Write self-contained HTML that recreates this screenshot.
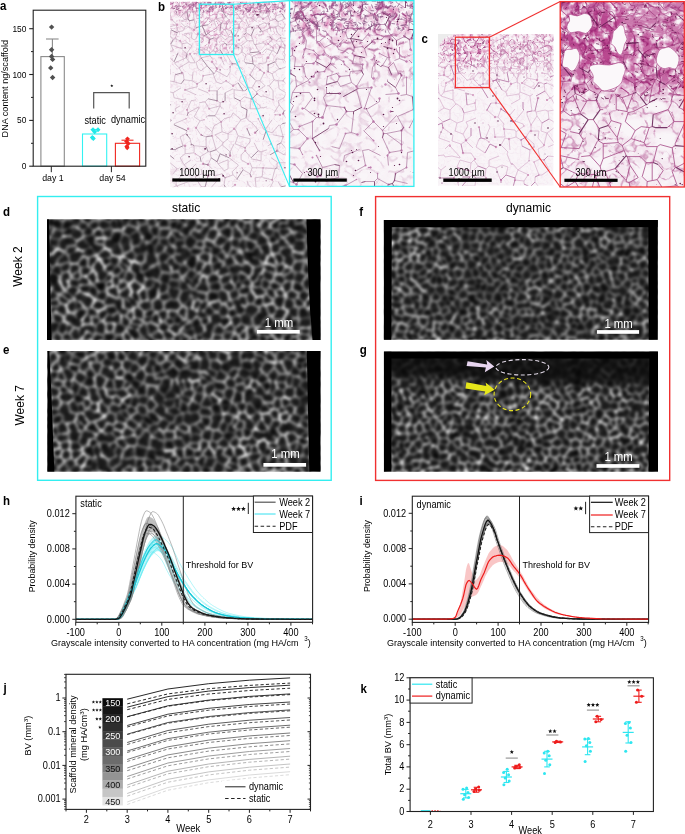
<!DOCTYPE html><html><head><meta charset="utf-8"><style>html,body{margin:0;padding:0;background:#fff;overflow:hidden}svg text{font-family:"Liberation Sans",sans-serif}</style></head><body>
<svg width="685" height="834" viewBox="0 0 685 834" style="display:block;will-change:transform">
<defs><clipPath id="cliph"><rect x="75.9" y="496" width="236.7" height="126"/></clipPath><clipPath id="clipi"><rect x="412.3" y="496" width="236.3" height="126"/></clipPath></defs>
<rect width="685" height="834" fill="#fff"/>
<svg x="170.1" y="1.8" width="115.5" height="185.4" viewBox="0 0 115.5 185.4" overflow="hidden">
<defs><linearGradient id="hgbl" x1="0" y1="0" x2="0" y2="1"><stop offset="0" stop-color="#fff" stop-opacity="0.5"/><stop offset="0.06" stop-color="#fff" stop-opacity="0.35"/><stop offset="0.1" stop-color="#fff" stop-opacity="0.2"/><stop offset="0.28" stop-color="#fff" stop-opacity="0.15"/><stop offset="0.36" stop-color="#fff" stop-opacity="0.05"/><stop offset="1" stop-color="#fff" stop-opacity="0.03"/></linearGradient><linearGradient id="hhbl" x1="0" y1="0" x2="0" y2="1"><stop offset="0" stop-color="#fff" stop-opacity="0.6"/><stop offset="0.06" stop-color="#fff" stop-opacity="0.3"/><stop offset="0.3" stop-color="#fff" stop-opacity="0.2"/><stop offset="0.4" stop-color="#fff" stop-opacity="0.12"/><stop offset="1" stop-color="#fff" stop-opacity="0.12"/></linearGradient><filter id="hmbbl" x="-10%" y="-10%" width="120%" height="120%"><feGaussianBlur stdDeviation="3"/></filter><mask id="hmbl"><rect width="115.5" height="185.4" fill="url(#hgbl)"/><g filter="url(#hmbbl)"><rect x="0" y="-5" width="116" height="14" fill="#fff" fill-opacity="0.6"/><rect x="29" y="4" width="35" height="48" fill="#fff" fill-opacity="0.25"/></g></mask><mask id="hnbl"><rect width="115.5" height="185.4" fill="url(#hhbl)"/><g filter="url(#hmbbl)"><rect x="0" y="-5" width="116" height="14" fill="#fff" fill-opacity="0.6"/><rect x="29" y="4" width="35" height="48" fill="#fff" fill-opacity="0.25"/></g></mask><filter id="htbl" x="0" y="0" width="100%" height="100%" color-interpolation-filters="sRGB"><feTurbulence type="fractalNoise" baseFrequency="0.25" numOctaves="3" seed="21" result="n"/><feColorMatrix in="n" type="matrix" values="0 0 0 0 0 0 0 0 0 0 0 0 0 0 0 2.2 0 0 0 -0.9" result="a"/><feFlood flood-color="#cf5fa0"/><feComposite in2="a" operator="in"/></filter><filter id="hubl" x="0" y="0" width="100%" height="100%" color-interpolation-filters="sRGB"><feTurbulence type="turbulence" baseFrequency="0.15" numOctaves="2" seed="28" result="n"/><feColorMatrix in="n" type="matrix" values="0 0 0 0 0 0 0 0 0 0 0 0 0 0 0 -7 0 0 0 1.25" result="a"/><feFlood flood-color="#b05090"/><feComposite in2="a" operator="in"/></filter><filter id="hbbl" x="0" y="0" width="100%" height="100%"><feGaussianBlur stdDeviation="0.3"/></filter></defs><rect width="115.5" height="185.4" fill="#f9f5f8"/><g filter="url(#hbbl)"><rect width="115.5" height="185.4" filter="url(#htbl)" mask="url(#hmbl)"/><rect width="115.5" height="185.4" filter="url(#hubl)" mask="url(#hnbl)"/><g fill="#d49cc0"><circle cx="51" cy="56" r="1.1"/><circle cx="96" cy="43" r="0.6"/><circle cx="19" cy="168" r="0.8"/><circle cx="59" cy="18" r="0.7"/><circle cx="24" cy="28" r="0.9"/><circle cx="115" cy="44" r="1.0"/><circle cx="89" cy="13" r="0.8"/><circle cx="26" cy="126" r="1.1"/><circle cx="34" cy="118" r="0.7"/><circle cx="98" cy="14" r="0.6"/><circle cx="55" cy="176" r="0.7"/><circle cx="17" cy="108" r="1.1"/><circle cx="28" cy="32" r="1.0"/><circle cx="51" cy="120" r="1.1"/><circle cx="110" cy="113" r="0.8"/><circle cx="69" cy="38" r="1.1"/><circle cx="115" cy="3" r="1.0"/><circle cx="60" cy="65" r="0.9"/><circle cx="107" cy="149" r="0.8"/><circle cx="110" cy="113" r="1.1"/><circle cx="98" cy="56" r="1.3"/><circle cx="26" cy="126" r="0.9"/><circle cx="110" cy="45" r="1.2"/><circle cx="16" cy="2" r="0.7"/><circle cx="85" cy="131" r="1.3"/><circle cx="113" cy="112" r="1.2"/><circle cx="90" cy="51" r="0.9"/><circle cx="113" cy="135" r="0.8"/><circle cx="78" cy="162" r="1.1"/><circle cx="2" cy="18" r="0.7"/><circle cx="7" cy="23" r="1.2"/><circle cx="16" cy="117" r="0.7"/><circle cx="93" cy="17" r="1.3"/><circle cx="47" cy="67" r="1.2"/><circle cx="23" cy="10" r="1.1"/><circle cx="62" cy="62" r="1.0"/><circle cx="64" cy="127" r="1.2"/><circle cx="95" cy="3" r="1.0"/><circle cx="25" cy="152" r="0.7"/><circle cx="68" cy="4" r="1.2"/><circle cx="63" cy="84" r="1.2"/><circle cx="98" cy="63" r="1.0"/><circle cx="18" cy="111" r="0.8"/><circle cx="101" cy="142" r="1.0"/><circle cx="105" cy="113" r="0.8"/><circle cx="15" cy="144" r="1.3"/><circle cx="100" cy="26" r="0.9"/><circle cx="100" cy="26" r="1.0"/><circle cx="110" cy="113" r="0.7"/><circle cx="66" cy="44" r="1.3"/><circle cx="15" cy="88" r="1.0"/><circle cx="38" cy="174" r="1.3"/><circle cx="113" cy="79" r="0.6"/><circle cx="20" cy="52" r="1.1"/><circle cx="72" cy="166" r="0.6"/><circle cx="82" cy="97" r="1.2"/><circle cx="18" cy="127" r="1.2"/><circle cx="83" cy="4" r="1.0"/><circle cx="28" cy="32" r="1.3"/><circle cx="65" cy="34" r="1.2"/><circle cx="75" cy="149" r="0.8"/><circle cx="24" cy="28" r="1.2"/><circle cx="47" cy="99" r="0.9"/><circle cx="98" cy="56" r="1.1"/><circle cx="42" cy="134" r="0.9"/><circle cx="80" cy="73" r="0.8"/><circle cx="65" cy="183" r="1.1"/><circle cx="98" cy="42" r="0.9"/><circle cx="81" cy="175" r="0.8"/><circle cx="66" cy="44" r="1.2"/><circle cx="102" cy="178" r="1.0"/><circle cx="98" cy="70" r="1.0"/><circle cx="40" cy="9" r="1.1"/><circle cx="107" cy="149" r="1.3"/><circle cx="65" cy="20" r="1.0"/><circle cx="87" cy="92" r="1.1"/><circle cx="60" cy="154" r="1.2"/><circle cx="103" cy="98" r="0.7"/><circle cx="31" cy="133" r="1.0"/><circle cx="46" cy="69" r="0.8"/><circle cx="108" cy="5" r="0.6"/><circle cx="39" cy="41" r="1.2"/><circle cx="24" cy="52" r="0.7"/><circle cx="10" cy="39" r="1.0"/><circle cx="88" cy="117" r="0.7"/><circle cx="103" cy="46" r="0.9"/><circle cx="55" cy="28" r="0.7"/><circle cx="46" cy="43" r="1.0"/><circle cx="90" cy="68" r="1.1"/><circle cx="69" cy="26" r="1.3"/><circle cx="69" cy="38" r="0.9"/><circle cx="33" cy="74" r="0.9"/><circle cx="76" cy="18" r="0.6"/><circle cx="3" cy="48" r="0.6"/><circle cx="62" cy="50" r="1.2"/><circle cx="56" cy="79" r="0.9"/><circle cx="70" cy="99" r="0.7"/><circle cx="39" cy="107" r="1.0"/><circle cx="90" cy="4" r="1.1"/><circle cx="83" cy="10" r="1.2"/><circle cx="31" cy="16" r="0.8"/><circle cx="81" cy="97" r="0.8"/><circle cx="94" cy="71" r="1.1"/><circle cx="16" cy="2" r="1.2"/><circle cx="110" cy="113" r="0.9"/><circle cx="39" cy="89" r="0.9"/><circle cx="29" cy="48" r="1.0"/><circle cx="42" cy="60" r="1.2"/><circle cx="29" cy="51" r="0.7"/><circle cx="27" cy="82" r="1.1"/><circle cx="93" cy="166" r="0.9"/><circle cx="57" cy="22" r="1.0"/><circle cx="77" cy="127" r="0.8"/><circle cx="75" cy="146" r="1.0"/><circle cx="12" cy="71" r="1.1"/><circle cx="44" cy="30" r="0.8"/><circle cx="9" cy="4" r="1.1"/><circle cx="38" cy="163" r="1.3"/><circle cx="33" cy="162" r="1.2"/><circle cx="98" cy="42" r="0.9"/></g><path d="M-11 136L-2 135M1 118L-6 113M-9 126L1 119M16 117L4 122M4 123L4 122M-2 135L-2 136M3 135L3 134M39 107L35 100M35 100L29 101M29 105L29 106M38 114L36 115M33 134L36 135M36 135L36 145M36 145L25 144M38 174L42 172M47 179L39 188M45 174L42 172M54 183L55 176M52 172L45 174M48 162L54 169M3 172L7 167M7 167L9 167M11 174L6 180M6 180L3 176M-4 166L-9 173M39 89L47 89M65 183L61 186M42 193L55 185M57 193L58 187M64 142L60 150M60 150L52 143M58 137L53 141M52 143L53 141M6 148L6 147M-2 78L-1 79M-11 66L-0 67M-0 67L0 72M0 72L-2 78M15 88L26 93M15 88L27 85M38 97L35 100M38 91L28 87M-2 103L-5 107M6 110L5 107M29 105L18 111M24 115L29 106M26 126L30 119M30 119L24 115M13 144L10 135M26 126L30 132M17 129L16 132M16 132L10 135M48 162L48 162M58 167L54 169M58 167L58 158M58 158L48 162M58 132L52 130M58 132L58 137M53 141L45 133M52 130L45 133M42 134L46 148M46 148L52 143M35 124L42 130M42 130L44 124M30 119L34 118M36 115L36 116M31 133L30 132M42 133L42 130M52 130L51 120M51 120L44 124M47 99L50 101M47 89L51 85M55 99L50 101M42 167L38 163M48 162L47 160M38 163L41 156M46 148L50 152M41 156L40 150M40 150L38 150M-4 166L-4 162M7 167L0 161M56 15L61 8M56 15L59 18M61 8L66 11M89 13L85 12M89 13L89 14M89 14L85 19M85 12L81 16M85 19L81 16M83 10L85 12M77 16L77 14M77 16L81 16M39 89L40 83M27 85L27 82M27 82L32 79M46 80L51 82M60 70L57 75M60 70L60 65M46 69L57 75M55 91L63 87M63 84L56 79M51 82L56 79M45 -2L51 -4M51 7L49 8M56 15L56 15M61 8L58 5M62 -2L62 -1M83 4L83 10M83 4L85 3M89 13L90 11M85 3L90 4M25 -3L20 -4M18 -10L20 -4M82 97L90 104M87 92L91 95M120 193L118 185M109 192L111 185M118 185L116 184M120 174L118 175M65 142L75 146M65 142L68 134M68 134L80 137M75 146L80 140M80 140L80 137M68 134L65 127M126 152L116 150M120 144L116 147M116 147L116 150M-2 103L-6 98M-4 89L3 91M3 91L4 96M5 73L4 80M12 71L13 71M13 71L14 78M11 82L4 80M-1 79L4 80M5 62L9 66M9 66L12 71M22 79L23 70M22 79L14 78M15 88L14 89M27 82L22 79M3 91L11 86M17 108L21 99M16 97L13 98M5 107L10 104M18 111L17 108M26 98L21 99M4 96L13 98M58 132L64 127M51 120L51 120M65 127L64 127M71 105L70 99M81 97L74 95M81 97L80 107M74 95L70 99M63 87L64 88M64 88L64 96M39 107L50 104M50 104L45 114M50 101L50 104M51 120L51 120M45 114L51 120M38 174L32 172M35 185L31 185M31 185L25 175M32 172L25 175M32 172L31 167M19 168L21 167M20 173L21 174M38 150L30 155M21 167L26 162M14 163L10 156M11 174L20 173M19 168L14 163M14 163L14 163M14 163L21 158M30 155L25 152M55 185L58 187M22 188L28 188M22 188L19 190M31 185L28 188M-8 181L-1 188M6 180L6 184M-1 188L6 184M18 180L7 184M12 192L7 184M7 184L6 184M72 19L69 22M72 19L67 12M68 9L74 9M71 1L73 1M73 1L76 2M76 2L77 4M66 11L66 11M66 11L68 9M65 -5L71 1M66 11L67 12M83 4L77 4M72 -5L73 1M86 79L82 86M86 79L85 78M82 86L78 86M78 86L75 74M80 73L85 64M90 68L85 64M76 18L79 25M79 25L84 25M32 79L33 74M28 67L31 69M46 80L43 72M33 74L43 72M46 69L44 72M43 72L44 72M1 43L3 48M1 43L12 47M4 60L5 61M5 61L16 56M12 48L17 52M5 62L5 61M9 66L19 60M16 56L19 60M19 60L20 61M59 18L59 20M56 15L46 17M57 22L59 20M57 22L51 21M51 21L46 17M49 8L46 17M46 17L46 17M24 18L26 26M36 15L42 19M42 19L38 23M32 15L31 16M24 28L26 26M28 32L34 34M36 33L36 33M115 3L121 2M120 -4L114 -3M112 -1L114 -3M85 3L84 2M115 3L113 8M31 1L41 -3M31 1L30 -1M41 -7L42 -4M42 -4L41 -3M25 -3L30 -1M25 -3L25 -3M45 -2L42 -4M20 -4L18 -2M-2 24L-2 20M-2 24L-5 26M-2 20L-8 15M88 128L81 120M94 128L88 117M80 120L81 120M94 128L95 128M96 129L95 128M80 107L89 107M80 120L76 116M88 117L89 117M82 97L81 97M90 104L90 106M89 107L90 106M111 185L108 180M99 190L99 188M99 188L103 180M68 163L59 156M71 153L71 158M59 156L59 156M75 146L75 149M75 149L71 153M86 79L90 79M86 90L82 86M86 90L95 84M90 79L95 84M90 68L94 71M90 79L94 71M77 87L69 79M75 89L73 89M71 74L69 79M73 73L75 74M87 92L86 90M64 88L73 89M63 84L68 81M3 49L-2 50M-2 50L-5 54M4 60L1 57M-2 50L0 42M1 42L0 42M76 116L71 118M71 118L65 126M54 117L61 115M61 115L63 111M50 104L52 107M51 120L54 117M71 118L63 111M24 151L15 152M24 151L24 144M15 144L15 152M10 156L15 152M25 144L24 144M20 137L21 142M13 144L15 144M79 25L76 27M69 22L69 26M63 26L68 27M69 26L68 27M60 65L62 62M62 62L62 62M73 68L65 62M88 24L94 21M100 26L92 30M100 26L98 22M98 22L94 21M89 14L93 17M86 24L88 24M88 62L96 61M96 61L97 56M85 64L85 64M105 60L106 58M98 56L102 49M92 51L96 47M96 47L102 49M107 52L103 49M102 49L103 49M105 25L100 26M105 25L108 32M100 26L101 30M47 67L42 60M31 69L37 64M56 52L53 53M56 52L59 50M50 48L50 44M50 44L54 41M62 62L56 52M54 63L51 56M36 8L39 9M34 4L40 4M40 4L42 6M32 15L32 13M32 13L36 8M41 -3L40 4M42 19L44 19M44 19L45 17M46 6L42 6M29 7L28 9M25 -3L22 2M29 7L22 2M55 28L55 27M55 28L59 35M55 27L61 29M59 35L63 35M63 26L61 29M57 22L55 27M65 34L68 29M68 29L68 27M63 42L57 43M63 42L63 35M55 38L59 35M55 38L51 34M51 34L50 30M44 19L47 28M44 30L47 28M50 30L50 29M18 -2L16 2M9 4L10 -3M9 4L13 5M16 2L22 3M100 26L100 26M108 24L108 20M108 24L105 25M105 17L100 19M112 12L106 14M108 20L115 17M105 17L106 14M93 17L98 14M100 19L98 14M90 11L98 11M98 14L98 11M98 11L100 10M106 14L102 10M90 -5L97 -2M90 4L90 -5M117 8L121 13M5 -7L10 -3M102 118L95 128M96 129L102 131M109 123L102 131M97 105L93 106M90 106L93 106M103 180L102 178M107 166L109 168M105 167L102 178M107 161L119 161M115 152L114 153M115 152L119 159M119 159L119 161M107 166L107 161M121 166L119 161M116 150L115 152M83 195L84 188M84 188L78 183M103 133L113 135M111 141L113 135M98 144L101 142M116 147L111 141M107 149L107 143M107 149L114 153M110 124L113 135M110 124L109 123M113 135L113 135M105 167L93 166M107 160L101 156M98 70L102 72M105 60L109 67M102 72L109 67M114 58L117 62M114 58L106 57M116 65L117 62M116 65L111 67M122 72L114 77M-6 43L0 42M0 42L-7 34M0 42L0 42M76 27L76 31M69 38L74 34M63 42L66 44M66 44L62 50M77 39L74 34M77 39L71 44M70 43L71 44M65 62L70 59M68 53L64 52M62 50L64 52M75 61L74 59M84 42L83 39M83 39L77 39M71 44L72 45M68 53L72 50M72 50L72 45M74 59L76 53M72 50L76 53M90 51L89 50M90 51L82 55M82 55L79 52M80 51L79 52M85 43L89 50M80 45L80 51M103 46L103 49M110 45L106 41M114 58L115 53M115 53L122 53M115 53L114 51M110 45L115 46M114 51L115 46M100 35L97 35M102 38L98 42M96 43L93 41M93 41L93 40M108 32L111 34M110 36L106 39M90 34L92 32M103 46L98 42M85 43L93 41M111 -6L114 -3M24 52L29 51M29 51L31 56M31 56L26 61M24 59L25 61M20 52L24 59M28 67L26 61M31 56L31 56M17 52L17 51M20 61L25 61M12 47L12 42M12 42L17 41M17 51L22 44M22 44L17 41M31 56L40 54M40 54L43 58M51 56L48 56M50 48L46 50M51 34L46 37M47 43L46 37M46 37L44 36M36 33L39 38M23 10L22 10M23 10L24 18M22 10L17 10M28 9L23 10M24 18L24 18M16 9L17 10M16 9L13 5M11 19L18 17M10 16L16 9M17 24L24 28M2 18L7 23M17 24L15 25M11 21L15 25M100 -2L105 6M109 1L108 5M108 5L105 6M112 -1L109 1M98 -1L100 -2M102 10L105 6M113 8L108 5M115 17L117 18M9 4L7 4M1 -0L-0 -0M9 15L4 10M1 18L0 11M1 18L2 18M113 112L117 118M110 124L112 122M105 113L110 113M123 127L116 121M91 95L93 94M103 98L103 98M93 94L103 98M104 111L109 103M109 103L114 109M109 103L108 99M120 107L114 109M55 176L63 173M62 170L63 173M68 163L68 164M62 170L68 164M71 158L78 162M90 186L86 186M86 186L85 176M85 176L92 175M93 176L92 175M96 192L90 186M84 188L86 186M102 178L93 176M93 166L93 166M93 166L92 175M80 172L73 168M80 161L82 166M82 166L80 172M72 166L73 168M93 166L82 166M78 183L77 179M63 173L67 177M88 149L91 150M91 150L91 159M91 159L81 157M84 141L88 149M97 148L91 150M75 149L81 156M102 72L104 78M97 84L99 84M104 78L99 84M103 98L103 89M99 84L103 89M83 38L81 34M84 25L84 27M90 34L88 34M83 39L83 38M76 31L81 34M110 36L115 44M115 46L115 46M115 44L115 46M117 37L111 36M117 37L120 39M115 44L120 39M31 39L31 41M26 37L24 38M29 51L29 48M29 48L29 46M21 36L24 38M28 32L26 37M34 34L31 39M22 31L21 36M46 43L43 49M39 42L37 48M37 48L40 51M40 51L43 49M47 43L46 43M46 50L43 49M29 48L37 48M40 54L40 51M-2 24L-0 25M-0 25L6 23M117 20L122 28M117 20L113 27M114 29L121 29M117 18L117 20M108 24L113 27M-0 11L-2 5M-0 11L-7 12M-2 5L-8 6M-0 -0L-2 5M0 11L-0 11M108 99L114 96M113 79L108 79M113 79L119 85M108 79L109 87M109 87L116 91M119 85L117 89M117 89L116 91M114 77L113 79M104 78L108 79M126 81L119 85M114 96L116 91M115 46L122 48M-8 32L-0 34M-0 34L3 38M-0 34L1 28M117 89L123 92M8 30L13 29M7 31L5 37M10 39L5 37M6 23L8 30M15 25L13 29M3 38L5 37M22 31L14 32M12 42L10 39M19 37L14 33" stroke="#c0a0b8" stroke-width="0.7" fill="none" stroke-opacity="0.85"/><path d="M1 118L1 119M17 129L4 123M38 174L35 185M55 176L52 172M38 97L47 99M47 99L47 89M54 183L55 185M6 148L-5 147M1 103L-2 103M18 111L17 114M6 147L13 144M20 137L16 132M42 134L36 135M31 133L33 134M55 91L55 99M47 160L41 156M46 148L40 150M50 152L47 160M36 145L38 150M4 157L-6 149M45 -2L46 6M55 4L51 7M56 15L51 7M62 -2L57 -4M90 11L90 4M90 4L90 4M82 97L87 92M111 185L116 184M116 184L118 175M120 144L118 134M77 127L80 134M5 73L12 71M14 78L11 82M70 99L64 96M77 108L71 105M38 114L45 114M38 163L33 162M30 155L31 160M85 78L80 73M4 60L8 51M16 56L17 52M59 20L59 20M26 26L32 24M38 23L32 24M34 34L36 33M36 33L32 24M36 33L40 30M18 -2L13 -5M85 131L88 128M93 138L96 129M77 108L76 116M60 150L60 154M50 152L59 156M77 87L75 89M73 89L68 81M63 111L63 111M24 144L21 142M62 62L65 62M88 24L92 30M98 63L98 70M98 63L105 60M106 57L106 58M107 52L107 52M44 72L37 64M53 53L50 48M57 43L54 41M31 2L31 1M61 29L63 34M65 34L63 34M51 21L50 29M108 20L105 17M112 12L115 17M90 4L95 3M95 3L100 10M97 -2L96 -9M-4 -11L-5 -2M107 166L105 167M107 143L111 141M107 149L100 153M111 67L109 67M122 70L116 65M76 31L74 33M85 64L83 62M83 62L75 61M89 50L80 51M90 52L90 51M83 62L82 55M84 42L85 43M107 52L110 45M100 35L102 38M111 36L110 36M31 56L37 64M44 36L39 38M17 10L18 17M24 18L19 19M19 19L18 17M113 8L113 8M-5 -2L-0 -0M112 122L116 121M113 112L114 109M80 172L81 175M73 168L67 177M67 178L67 177M88 149L81 156M84 27L81 34M39 38L39 41M1 42L3 38M8 30L7 31M1 28L7 31" stroke="#8a6a84" stroke-width="0.84" fill="none" stroke-opacity="0.85"/><g fill="#5a1a48"><circle cx="54" cy="112" r="0.7"/><circle cx="21" cy="143" r="0.5"/><circle cx="2" cy="147" r="0.8"/><circle cx="68" cy="34" r="0.6"/><circle cx="14" cy="12" r="0.4"/><circle cx="115" cy="166" r="0.8"/><circle cx="2" cy="132" r="0.8"/><circle cx="96" cy="90" r="0.7"/><circle cx="49" cy="177" r="0.8"/><circle cx="90" cy="30" r="0.5"/><circle cx="56" cy="153" r="0.6"/><circle cx="50" cy="68" r="0.6"/><circle cx="53" cy="174" r="0.9"/><circle cx="89" cy="85" r="0.8"/><circle cx="67" cy="171" r="0.5"/><circle cx="46" cy="66" r="0.4"/><circle cx="3" cy="111" r="0.7"/><circle cx="96" cy="179" r="0.5"/><circle cx="15" cy="46" r="0.7"/><circle cx="85" cy="10" r="0.5"/><circle cx="12" cy="100" r="0.7"/><circle cx="10" cy="179" r="0.8"/><circle cx="19" cy="155" r="0.8"/><circle cx="99" cy="22" r="0.6"/><circle cx="88" cy="2" r="0.8"/><circle cx="36" cy="82" r="0.7"/><circle cx="34" cy="47" r="0.4"/><circle cx="93" cy="114" r="0.8"/><circle cx="53" cy="100" r="0.8"/><circle cx="35" cy="147" r="0.9"/><circle cx="68" cy="46" r="0.5"/><circle cx="82" cy="26" r="0.8"/><circle cx="87" cy="13" r="0.9"/><circle cx="17" cy="133" r="0.6"/><circle cx="88" cy="13" r="0.8"/></g><path d="M112 2l1.4 2.8M26 0l3.1 1.6M109 10l2.2 -0.7M115 8l3.7 1.5M74 2l1.9 0.3M87 5l0.3 1.9M29 3l2.5 0.4M65 7l2.7 -0.7M51 1l-1.7 3.1M36 9l2.6 1.3M75 7l1.9 0.6M7 8l2.0 -1.3M42 6l0.6 2.4M18 7l2.6 0.2M76 6l0.2 3.0M49 5l2.3 -0.8M55 6l2.0 -1.0M12 5l2.2 -1.1M20 2l1.4 0.8M74 9l-1.3 3.8M37 9l3.0 1.0M84 8l1.8 2.7M3 7l1.7 -0.4M18 3l1.8 3.4M78 10l1.9 -0.7M102 10l1.4 -0.5M55 7l1.9 -0.3M74 6l3.4 1.5M48 0l3.7 -1.0M34 9l-1.4 2.3M2 2l2.1 -1.3M114 8l0.8 2.3M88 8l3.4 -1.2M22 4l2.1 -1.3M97 8l-1.2 3.8M99 0l-0.1 3.3M53 6l0.7 3.5M105 2l-0.2 3.6M102 8l2.2 -0.3M40 5l-1.3 3.5M25 2l1.8 -1.0M112 1l1.4 3.6M16 2l1.2 2.7M80 7l-0.7 2.5M110 6l2.9 1.8M7 5l2.4 0.2M89 5l3.3 0.2M8 9l3.1 -0.5M75 6l1.6 2.6M23 1l0.8 3.6M79 7l-1.5 3.7M54 1l1.9 3.2M13 1l2.5 -1.0M68 5l3.0 -0.0M55 7l3.4 -1.9M107 7l2.4 -1.5M6 8l3.1 -1.4M113 4l1.5 -0.0M40 5l1.6 0.2M81 6l-1.9 3.5M103 3l1.8 -0.3M68 6l2.7 0.7M81 6l-0.8 3.4M57 1l2.5 -0.2M94 2l2.1 1.4M96 10l3.9 -1.0M39 8l2.4 -1.2M66 8l2.3 -0.1M41 6l2.4 -0.9M25 6l3.5 0.8M52 2l2.2 0.3M5 4l1.9 -0.1M40 1l1.6 0.3M62 2l0.2 2.3M92 1l1.9 -0.5M33 8l0.7 1.8M81 5l2.7 1.1M66 7l-1.0 1.9M30 1l1.0 1.9M70 0l1.4 2.2M7 4l-0.2 2.7M37 1l3.8 -0.5M6 9l0.7 2.9M35 4l1.9 -0.6M31 7l-1.2 2.6M88 2l3.9 0.6M1 6l3.9 0.8M87 3l2.5 -1.3M83 1l0.4 2.2M71 8l-0.4 1.5" stroke="#a06090" stroke-width="0.8" fill="none"/></g>
</svg>
<svg x="289.5" y="0.5" width="124.4" height="186" viewBox="0 0 124.4 186" overflow="hidden">
<defs><linearGradient id="hgbi" x1="0" y1="0" x2="0" y2="1"><stop offset="0" stop-color="#fff" stop-opacity="0.35"/><stop offset="0.15" stop-color="#fff" stop-opacity="0.3"/><stop offset="0.35" stop-color="#fff" stop-opacity="0.15"/><stop offset="0.45" stop-color="#fff" stop-opacity="0.06"/><stop offset="1" stop-color="#fff" stop-opacity="0.04"/></linearGradient><linearGradient id="hhbi" x1="0" y1="0" x2="0" y2="1"><stop offset="0" stop-color="#fff" stop-opacity="0.8"/><stop offset="0.15" stop-color="#fff" stop-opacity="0.6"/><stop offset="0.4" stop-color="#fff" stop-opacity="0.35"/><stop offset="0.5" stop-color="#fff" stop-opacity="0.18"/><stop offset="1" stop-color="#fff" stop-opacity="0.16"/></linearGradient><filter id="hmbbi" x="-10%" y="-10%" width="120%" height="120%"><feGaussianBlur stdDeviation="3"/></filter><mask id="hmbi"><rect width="124.4" height="186" fill="url(#hgbi)"/><g filter="url(#hmbbi)"><rect x="0" y="-5" width="125" height="34" fill="#fff" fill-opacity="0.65"/><path d="M0 28 L40 24 L80 30 L124 26 L124 60 L90 66 L50 58 L0 62Z" fill="#fff" fill-opacity="0.2"/></g></mask><mask id="hnbi"><rect width="124.4" height="186" fill="url(#hhbi)"/><g filter="url(#hmbbi)"><rect x="0" y="-5" width="125" height="34" fill="#fff" fill-opacity="0.65"/><path d="M0 28 L40 24 L80 30 L124 26 L124 60 L90 66 L50 58 L0 62Z" fill="#fff" fill-opacity="0.2"/></g></mask><filter id="htbi" x="0" y="0" width="100%" height="100%" color-interpolation-filters="sRGB"><feTurbulence type="fractalNoise" baseFrequency="0.14" numOctaves="3" seed="22" result="n"/><feColorMatrix in="n" type="matrix" values="0 0 0 0 0 0 0 0 0 0 0 0 0 0 0 2.2 0 0 0 -0.9" result="a"/><feFlood flood-color="#cf5fa0"/><feComposite in2="a" operator="in"/></filter><filter id="hubi" x="0" y="0" width="100%" height="100%" color-interpolation-filters="sRGB"><feTurbulence type="turbulence" baseFrequency="0.07" numOctaves="2" seed="29" result="n"/><feColorMatrix in="n" type="matrix" values="0 0 0 0 0 0 0 0 0 0 0 0 0 0 0 -7 0 0 0 1.25" result="a"/><feFlood flood-color="#9a3a7e"/><feComposite in2="a" operator="in"/></filter><filter id="hbbi" x="0" y="0" width="100%" height="100%"><feGaussianBlur stdDeviation="0.3"/></filter></defs><rect width="124.4" height="186" fill="#f9f5f8"/><g filter="url(#hbbi)"><rect width="124.4" height="186" filter="url(#htbi)" mask="url(#hmbi)"/><rect width="124.4" height="186" filter="url(#hubi)" mask="url(#hnbi)"/><g fill="#c888b8"><circle cx="81" cy="167" r="1.1"/><circle cx="41" cy="6" r="1.1"/><circle cx="63" cy="53" r="0.7"/><circle cx="34" cy="54" r="1.2"/><circle cx="26" cy="72" r="0.9"/><circle cx="33" cy="117" r="1.2"/><circle cx="37" cy="8" r="0.7"/><circle cx="14" cy="54" r="0.7"/><circle cx="17" cy="171" r="0.8"/><circle cx="31" cy="175" r="1.2"/><circle cx="10" cy="126" r="0.9"/><circle cx="63" cy="63" r="0.7"/><circle cx="57" cy="21" r="0.7"/><circle cx="120" cy="127" r="0.8"/><circle cx="105" cy="180" r="0.6"/><circle cx="7" cy="184" r="0.6"/><circle cx="7" cy="184" r="1.2"/><circle cx="5" cy="164" r="1.1"/><circle cx="94" cy="133" r="0.9"/><circle cx="84" cy="140" r="0.9"/><circle cx="42" cy="37" r="0.9"/><circle cx="24" cy="63" r="1.2"/><circle cx="115" cy="36" r="1.2"/><circle cx="31" cy="175" r="1.3"/><circle cx="48" cy="46" r="1.0"/><circle cx="28" cy="41" r="0.8"/><circle cx="43" cy="43" r="0.7"/><circle cx="124" cy="109" r="0.6"/><circle cx="99" cy="67" r="0.8"/><circle cx="117" cy="77" r="1.0"/><circle cx="37" cy="105" r="1.2"/><circle cx="50" cy="93" r="1.2"/><circle cx="109" cy="73" r="0.8"/><circle cx="75" cy="108" r="1.0"/><circle cx="55" cy="107" r="1.0"/><circle cx="5" cy="66" r="0.7"/><circle cx="98" cy="155" r="0.9"/><circle cx="43" cy="24" r="1.0"/><circle cx="122" cy="38" r="0.9"/><circle cx="108" cy="19" r="0.7"/><circle cx="31" cy="175" r="1.0"/><circle cx="43" cy="43" r="0.6"/><circle cx="33" cy="117" r="1.2"/><circle cx="55" cy="64" r="1.0"/><circle cx="65" cy="55" r="1.2"/><circle cx="90" cy="98" r="1.2"/><circle cx="103" cy="16" r="1.1"/><circle cx="93" cy="12" r="1.2"/><circle cx="10" cy="37" r="0.9"/><circle cx="45" cy="0" r="1.3"/><circle cx="87" cy="12" r="0.6"/><circle cx="24" cy="76" r="0.8"/><circle cx="73" cy="4" r="0.9"/><circle cx="30" cy="150" r="0.9"/><circle cx="122" cy="38" r="1.1"/><circle cx="84" cy="121" r="0.9"/><circle cx="35" cy="71" r="0.8"/><circle cx="56" cy="133" r="1.0"/><circle cx="122" cy="50" r="0.7"/><circle cx="63" cy="53" r="1.0"/><circle cx="76" cy="165" r="1.1"/><circle cx="67" cy="86" r="0.7"/><circle cx="65" cy="55" r="0.7"/><circle cx="117" cy="167" r="0.8"/><circle cx="3" cy="48" r="0.6"/><circle cx="30" cy="150" r="0.6"/><circle cx="35" cy="71" r="1.0"/><circle cx="117" cy="61" r="0.8"/><circle cx="1" cy="73" r="1.2"/><circle cx="90" cy="98" r="0.7"/><circle cx="88" cy="173" r="0.8"/><circle cx="117" cy="167" r="0.9"/><circle cx="99" cy="184" r="0.9"/><circle cx="17" cy="19" r="1.0"/><circle cx="120" cy="20" r="1.1"/><circle cx="49" cy="28" r="1.2"/><circle cx="121" cy="49" r="1.1"/><circle cx="124" cy="109" r="1.0"/><circle cx="9" cy="129" r="1.0"/><circle cx="111" cy="73" r="0.8"/><circle cx="10" cy="126" r="0.7"/><circle cx="96" cy="84" r="0.8"/><circle cx="111" cy="73" r="0.8"/><circle cx="102" cy="48" r="1.1"/><circle cx="120" cy="60" r="0.6"/><circle cx="6" cy="47" r="0.9"/><circle cx="68" cy="88" r="0.9"/><circle cx="10" cy="126" r="1.0"/><circle cx="112" cy="130" r="1.2"/><circle cx="57" cy="111" r="1.1"/><circle cx="77" cy="29" r="1.1"/><circle cx="98" cy="155" r="0.9"/><circle cx="15" cy="49" r="1.0"/><circle cx="5" cy="164" r="1.1"/><circle cx="109" cy="18" r="1.3"/><circle cx="120" cy="21" r="1.0"/><circle cx="121" cy="49" r="0.9"/><circle cx="38" cy="34" r="0.7"/><circle cx="112" cy="150" r="1.2"/><circle cx="79" cy="167" r="0.6"/><circle cx="38" cy="34" r="1.2"/><circle cx="17" cy="19" r="1.0"/><circle cx="73" cy="68" r="0.7"/><circle cx="24" cy="63" r="0.6"/><circle cx="7" cy="86" r="0.8"/><circle cx="82" cy="87" r="1.2"/><circle cx="99" cy="184" r="0.8"/><circle cx="101" cy="111" r="1.0"/><circle cx="79" cy="167" r="0.8"/><circle cx="43" cy="24" r="0.8"/><circle cx="73" cy="46" r="1.0"/><circle cx="122" cy="38" r="1.2"/><circle cx="13" cy="108" r="1.0"/><circle cx="6" cy="20" r="0.8"/><circle cx="117" cy="167" r="0.7"/><circle cx="28" cy="57" r="1.3"/><circle cx="120" cy="20" r="0.6"/><circle cx="37" cy="180" r="1.3"/><circle cx="50" cy="16" r="0.7"/><circle cx="42" cy="58" r="1.2"/><circle cx="7" cy="16" r="1.2"/><circle cx="23" cy="138" r="0.9"/><circle cx="7" cy="16" r="1.0"/><circle cx="83" cy="41" r="1.0"/><circle cx="92" cy="39" r="0.8"/><circle cx="117" cy="61" r="1.1"/><circle cx="34" cy="54" r="1.2"/><circle cx="84" cy="78" r="1.1"/><circle cx="28" cy="176" r="1.2"/><circle cx="72" cy="70" r="1.1"/><circle cx="122" cy="62" r="0.7"/><circle cx="65" cy="55" r="0.7"/><circle cx="105" cy="180" r="0.7"/><circle cx="99" cy="184" r="0.6"/><circle cx="1" cy="31" r="1.2"/><circle cx="67" cy="179" r="0.8"/><circle cx="3" cy="48" r="1.2"/><circle cx="1" cy="102" r="0.7"/><circle cx="65" cy="47" r="0.6"/><circle cx="7" cy="184" r="0.8"/><circle cx="68" cy="13" r="0.7"/><circle cx="121" cy="49" r="1.0"/><circle cx="33" cy="117" r="1.2"/><circle cx="45" cy="0" r="0.7"/><circle cx="54" cy="96" r="0.6"/><circle cx="112" cy="75" r="1.3"/><circle cx="56" cy="185" r="1.3"/><circle cx="1" cy="73" r="0.8"/><circle cx="109" cy="93" r="1.2"/><circle cx="83" cy="41" r="0.6"/><circle cx="109" cy="93" r="0.8"/><circle cx="81" cy="167" r="1.0"/><circle cx="54" cy="61" r="0.9"/><circle cx="50" cy="76" r="1.1"/><circle cx="84" cy="78" r="0.9"/><circle cx="120" cy="39" r="1.0"/><circle cx="106" cy="173" r="0.9"/><circle cx="90" cy="53" r="0.9"/><circle cx="93" cy="137" r="0.7"/><circle cx="23" cy="121" r="1.1"/><circle cx="47" cy="73" r="0.7"/><circle cx="63" cy="63" r="0.8"/><circle cx="114" cy="127" r="0.9"/><circle cx="115" cy="36" r="0.7"/><circle cx="57" cy="21" r="0.7"/><circle cx="75" cy="57" r="0.8"/><circle cx="55" cy="107" r="0.7"/><circle cx="108" cy="24" r="1.3"/><circle cx="84" cy="78" r="0.6"/><circle cx="24" cy="76" r="0.9"/><circle cx="43" cy="20" r="0.9"/><circle cx="98" cy="155" r="0.7"/><circle cx="100" cy="152" r="0.6"/><circle cx="112" cy="144" r="1.1"/><circle cx="56" cy="185" r="0.8"/><circle cx="84" cy="121" r="0.7"/><circle cx="47" cy="124" r="1.1"/><circle cx="29" cy="55" r="1.3"/><circle cx="96" cy="84" r="1.2"/><circle cx="1" cy="70" r="1.2"/><circle cx="93" cy="130" r="0.8"/><circle cx="72" cy="107" r="0.7"/><circle cx="20" cy="27" r="1.2"/><circle cx="65" cy="47" r="0.8"/><circle cx="109" cy="73" r="0.9"/><circle cx="79" cy="33" r="0.7"/><circle cx="110" cy="47" r="0.7"/><circle cx="41" cy="63" r="0.8"/><circle cx="117" cy="77" r="0.7"/><circle cx="3" cy="48" r="0.8"/><circle cx="116" cy="7" r="0.6"/><circle cx="65" cy="47" r="1.1"/><circle cx="56" cy="32" r="1.1"/><circle cx="73" cy="4" r="1.1"/><circle cx="57" cy="111" r="0.9"/><circle cx="84" cy="140" r="0.8"/><circle cx="3" cy="48" r="0.9"/><circle cx="15" cy="49" r="1.1"/><circle cx="23" cy="157" r="0.7"/><circle cx="120" cy="21" r="0.6"/><circle cx="95" cy="5" r="1.0"/><circle cx="102" cy="74" r="0.9"/><circle cx="28" cy="57" r="1.3"/><circle cx="18" cy="138" r="1.3"/><circle cx="68" cy="134" r="1.2"/><circle cx="84" cy="121" r="1.1"/><circle cx="14" cy="35" r="1.0"/><circle cx="16" cy="48" r="1.0"/><circle cx="13" cy="154" r="0.7"/><circle cx="73" cy="64" r="1.1"/><circle cx="24" cy="50" r="1.0"/><circle cx="107" cy="40" r="0.7"/><circle cx="99" cy="67" r="0.7"/><circle cx="87" cy="12" r="0.9"/><circle cx="20" cy="82" r="1.1"/><circle cx="37" cy="15" r="1.0"/><circle cx="117" cy="61" r="1.1"/><circle cx="27" cy="26" r="1.2"/><circle cx="83" cy="41" r="1.0"/><circle cx="67" cy="86" r="1.2"/><circle cx="10" cy="148" r="1.2"/><circle cx="54" cy="61" r="1.0"/><circle cx="47" cy="34" r="0.9"/><circle cx="24" cy="63" r="0.6"/><circle cx="109" cy="93" r="1.0"/><circle cx="38" cy="76" r="0.8"/><circle cx="47" cy="124" r="1.2"/><circle cx="3" cy="48" r="0.9"/><circle cx="84" cy="78" r="1.1"/><circle cx="60" cy="75" r="0.8"/><circle cx="73" cy="46" r="0.7"/><circle cx="73" cy="64" r="1.1"/><circle cx="27" cy="155" r="0.8"/><circle cx="100" cy="152" r="1.1"/><circle cx="48" cy="46" r="0.9"/><circle cx="102" cy="48" r="0.8"/><circle cx="124" cy="109" r="0.9"/><circle cx="21" cy="10" r="0.8"/><circle cx="24" cy="63" r="0.7"/><circle cx="101" cy="111" r="0.9"/><circle cx="16" cy="76" r="0.8"/><circle cx="4" cy="182" r="1.0"/><circle cx="74" cy="28" r="1.3"/><circle cx="42" cy="58" r="0.7"/><circle cx="37" cy="67" r="0.9"/><circle cx="95" cy="5" r="0.9"/><circle cx="24" cy="76" r="1.2"/><circle cx="23" cy="157" r="1.0"/><circle cx="10" cy="37" r="1.0"/><circle cx="68" cy="88" r="1.0"/><circle cx="105" cy="180" r="0.8"/><circle cx="50" cy="76" r="1.1"/><circle cx="13" cy="108" r="1.1"/><circle cx="94" cy="133" r="0.7"/><circle cx="84" cy="121" r="1.0"/><circle cx="7" cy="184" r="0.9"/><circle cx="85" cy="55" r="0.8"/></g><path d="M76 165L67 170M-12 121L-2 118M-2 118L-1 115M124 109L108 116M127 113L120 127M108 116L114 127M126 150L136 156M117 94L117 78M117 94L123 96M125 95L126 83M111 95L117 94M109 93L106 87M117 77L117 78M106 87L112 75M107 115L108 116M141 93L125 95M-1 115L4 105M1 102L4 105M24 63L16 63M24 63L26 61M26 61L28 57M13 56L14 54M34 54L29 55M29 55L24 50M35 47L30 41M28 41L30 41M43 43L42 37M43 43L35 47M38 34L42 37M38 34L30 41M7 184L13 173M28 176L17 171M31 175L28 176M31 175L33 167M37 180L49 177M50 165L49 177M33 167L45 164M126 190L136 186M137 165L126 172M118 152L117 167M118 152L126 150M126 172L123 172M39 195L54 185M56 185L54 185M67 179L56 185M1 102L3 92M33 167L27 155M13 173L5 164M-2 118L4 129M4 129L9 129M20 92L3 92M20 92L23 97M23 97L15 108M13 108L15 108M112 130L97 133M112 130L112 144M112 144L97 133M107 115L93 130M93 130L94 133M94 133L97 133M112 150L112 144M100 152L112 150M100 152L93 137M36 -6L44 -3M41 6L50 12M37 15L43 20M43 20L50 16M50 16L50 12M50 0L45 0M50 0L55 8M55 8L50 12M36 -6L32 -2M32 -2L37 8M23 10L28 22M28 22L37 15M50 0L56 -7M56 8L55 8M109 93L96 94M28 57L29 55M14 54L15 49M24 50L16 48M15 49L16 48M65 47L73 46M61 38L61 38M61 38L61 38M84 39L83 41M73 46L75 48M73 40L79 33M67 86L68 88M67 86L74 74M84 78L82 77M82 87L68 88M41 63L47 68M37 67L35 71M47 73L38 76M42 58L41 63M26 72L35 71M26 72L24 76M38 76L37 82M55 107L37 105M34 97L37 105M34 97L37 93M37 93L37 87M50 76L48 81M50 76L60 75M60 75L62 82M62 82L51 86M48 81L51 86M47 73L50 76M37 82L37 84M67 86L62 82M68 88L67 89M54 61L45 56M59 53L56 51M56 51L49 49M55 64L54 61M42 58L45 56M63 53L65 47M48 46L49 49M48 46L43 43M124 -9L124 -2M124 -2L132 2M103 16L104 7M115 7L107 2M120 21L109 18M120 20L124 9M121 7L124 9M132 17L128 22M130 29L128 28M4 129L-5 137M9 129L18 138M18 138L10 148M10 148L-1 147M-1 147L-5 137M7 184L4 182M4 182L-13 178M90 98L90 101M93 130L84 121M68 134L62 132M56 133L62 132M56 133L50 148M70 149L55 155M84 140L74 130M79 149L73 150M76 165L73 150M54 161L55 155M126 190L122 188M79 167L81 167M79 149L91 155M100 152L98 155M7 86L6 76M7 86L19 80M16 76L19 79M3 92L7 86M20 82L19 80M16 63L14 66M14 66L16 76M24 76L19 79M50 148L42 146M30 150L30 150M-2 44L-3 40M16 48L17 40M38 34L36 30M27 41L27 26M43 24L43 20M27 26L27 26M10 37L14 35M14 35L17 40M95 5L93 12M103 16L100 16M95 5L94 0M107 2L106 -1M106 -1L94 0M106 -1L107 -4M96 24L85 24M93 12L88 14M85 24L86 16M86 16L88 14M86 16L84 15M84 15L73 7M122 73L129 77M99 67L93 65M98 81L98 79M109 73L104 62M104 62L99 67M111 73L109 73M49 28L47 34M48 46L54 39M61 38L58 38M74 28L75 16M69 28L62 20M63 19L62 20M68 13L71 12M77 29L74 28M84 15L75 16M60 5L68 13M73 2L70 -0M73 2L73 4M70 -0L63 1M60 75L61 71M72 70L61 71M63 53L65 55M65 55L63 63M55 64L60 68M73 64L73 68M84 56L86 62M83 67L86 62M63 63L73 64M75 48L77 55M72 70L73 68M82 77L83 67M91 66L86 62M120 20L128 22M5 164L-6 162M13 154L10 148M75 130L84 121M84 121L77 109M75 108L77 109M82 87L75 108M67 89L72 107M57 111L64 111M62 132L64 114M90 101L77 109M57 111L47 124M118 183L105 180M117 167L106 173M98 155L99 165M5 66L6 57M6 57L3 55M3 55L-4 58M14 66L5 66M1 73L1 70M3 48L3 55M-2 44L-8 52M23 138L23 138M23 138L23 121M33 117L27 117M40 125L39 128M23 121L27 117M10 126L23 121M37 105L33 117M15 108L27 117M47 124L40 125M-3 40L-9 38M23 10L21 10M17 19L20 27M20 27L14 32M-0 38L1 31M1 31L11 29M14 32L11 29M107 -4L104 -8M92 -1L82 -2M73 2L82 -2M82 -2L82 -2M108 24L108 19M120 21L119 29M128 28L125 29M115 36L116 32M115 36L107 40M107 40L100 33M84 39L92 39M92 39L96 35M96 24L100 33M100 33L100 33M49 28L56 32M56 32L60 21M57 21L60 21M49 28L49 28M58 38L56 32M50 16L57 21M62 20L60 21M99 184L88 178M99 184L93 193M85 181L88 178M88 173L88 178M76 181L85 181M17 19L7 16M6 20L11 29M7 16L7 16M6 20L-5 25M82 -2L81 -7M120 39L121 49M117 61L110 58M105 60L110 58M122 38L129 38M110 47L110 58M120 60L122 62M32 -2L26 -3M26 -3L29 -16M90 53L98 57M98 57L101 57M93 65L98 57M12 -7L8 4M21 -2L19 7M19 7L18 7M7 16L18 7M6 4L4 14M-4 -1L-4 -1" stroke="#a8709a" stroke-width="0.8" fill="none" stroke-opacity="0.85"/><path d="M72 182L76 181M-11 112L-1 115M124 109L123 96M7 184L7 184M11 186L23 188M32 199L23 188M50 165L45 164M114 127L112 130M93 137L94 133M56 8L60 5M106 87L98 81M65 47L61 38M73 40L61 38M75 48L83 41M82 87L82 87M41 63L37 67M26 61L37 67M50 93L37 93M37 84L48 81M54 96L67 89M116 7L116 -8M116 7L115 7M104 111L101 111M-11 72L-2 75M1 73L6 76M28 22L27 26M100 16L93 12M100 16L96 24M73 4L73 7M99 67L102 74M93 65L91 66M112 75L111 73M61 38L69 28M77 29L85 24M73 7L71 12M74 74L72 70M65 55L75 57M-1 147L-6 160M4 182L-6 163M72 107L64 111M64 111L64 114M55 107L57 111M109 198L103 183M105 180L103 183M105 180L106 173M23 138L39 128M30 150L23 138M119 29L125 29M115 36L120 39M125 29L122 38M85 194L85 181M103 183L99 184M6 20L7 16M107 40L107 45M129 38L127 49M102 48L94 46M26 -3L21 -2" stroke="#6a2a5a" stroke-width="0.96" fill="none" stroke-opacity="0.85"/><g fill="#5a1a48"><circle cx="72" cy="52" r="0.5"/><circle cx="96" cy="42" r="0.5"/><circle cx="105" cy="165" r="0.6"/><circle cx="98" cy="48" r="0.8"/><circle cx="31" cy="156" r="0.6"/><circle cx="1" cy="13" r="0.6"/><circle cx="89" cy="146" r="0.5"/><circle cx="25" cy="100" r="0.8"/><circle cx="22" cy="76" r="0.8"/><circle cx="112" cy="152" r="0.7"/><circle cx="16" cy="18" r="0.6"/><circle cx="17" cy="61" r="0.6"/><circle cx="67" cy="149" r="0.5"/><circle cx="51" cy="93" r="0.5"/><circle cx="48" cy="119" r="0.7"/><circle cx="6" cy="116" r="0.8"/><circle cx="103" cy="107" r="0.6"/><circle cx="28" cy="89" r="0.8"/><circle cx="104" cy="53" r="0.7"/><circle cx="110" cy="100" r="0.8"/><circle cx="119" cy="0" r="0.8"/><circle cx="69" cy="160" r="0.8"/><circle cx="26" cy="142" r="0.7"/><circle cx="57" cy="40" r="0.4"/><circle cx="52" cy="64" r="0.4"/><circle cx="51" cy="36" r="0.5"/><circle cx="65" cy="11" r="0.6"/><circle cx="108" cy="98" r="0.9"/><circle cx="10" cy="43" r="0.6"/><circle cx="57" cy="161" r="0.8"/><circle cx="4" cy="101" r="0.6"/><circle cx="25" cy="98" r="0.9"/><circle cx="30" cy="5" r="0.8"/><circle cx="62" cy="34" r="0.7"/><circle cx="5" cy="68" r="0.8"/><circle cx="105" cy="49" r="0.8"/><circle cx="66" cy="170" r="0.8"/><circle cx="28" cy="71" r="0.6"/><circle cx="103" cy="40" r="0.9"/><circle cx="64" cy="5" r="0.6"/><circle cx="77" cy="89" r="0.6"/><circle cx="78" cy="41" r="0.6"/><circle cx="7" cy="46" r="0.6"/><circle cx="64" cy="175" r="0.6"/><circle cx="104" cy="9" r="0.5"/><circle cx="67" cy="41" r="0.6"/><circle cx="109" cy="19" r="0.8"/><circle cx="49" cy="40" r="0.8"/><circle cx="87" cy="60" r="0.5"/><circle cx="60" cy="69" r="0.7"/><circle cx="62" cy="150" r="0.6"/><circle cx="7" cy="96" r="0.8"/><circle cx="77" cy="108" r="0.5"/><circle cx="34" cy="123" r="0.9"/><circle cx="88" cy="38" r="0.9"/><circle cx="87" cy="101" r="0.5"/><circle cx="29" cy="114" r="0.9"/><circle cx="40" cy="92" r="0.4"/><circle cx="97" cy="17" r="0.6"/><circle cx="15" cy="172" r="0.5"/><circle cx="25" cy="113" r="0.8"/><circle cx="81" cy="172" r="0.5"/><circle cx="94" cy="114" r="0.8"/><circle cx="18" cy="20" r="0.6"/><circle cx="110" cy="164" r="0.8"/><circle cx="11" cy="93" r="0.8"/><circle cx="69" cy="36" r="0.8"/><circle cx="107" cy="123" r="0.5"/><circle cx="94" cy="126" r="0.6"/><circle cx="5" cy="50" r="0.7"/><circle cx="63" cy="152" r="0.8"/><circle cx="100" cy="39" r="0.7"/><circle cx="92" cy="43" r="0.6"/><circle cx="26" cy="181" r="0.9"/><circle cx="10" cy="69" r="0.7"/><circle cx="108" cy="21" r="0.8"/><circle cx="88" cy="64" r="0.5"/><circle cx="37" cy="87" r="0.6"/><circle cx="29" cy="116" r="0.5"/><circle cx="42" cy="175" r="0.5"/></g><path d="M71 19l2.3 -1.5M115 26l1.9 1.1M55 4l1.9 -0.6M24 29l-0.9 3.1M117 11l0.9 3.9M8 28l3.3 -0.8M42 16l2.9 -1.3M54 12l1.7 3.0M10 20l-0.4 1.9M110 3l-2.1 3.3M56 5l0.6 2.2M122 13l-0.5 2.0M52 29l3.1 0.0M42 23l1.0 3.3M83 1l3.3 -1.4M95 23l1.3 2.6M26 6l2.1 0.2M4 28l-0.2 3.3M108 28l3.3 0.3M118 15l3.7 1.5M101 23l-1.1 3.0M57 13l1.8 -0.8M38 16l3.7 -0.7M92 30l2.1 -0.9M32 12l-1.3 3.3M79 24l0.9 2.1M14 2l3.8 0.5M102 23l3.6 0.4M63 0l2.5 0.3M87 29l3.1 1.1M6 14l3.9 1.0M68 15l3.7 0.5M33 30l3.2 1.1M12 8l0.3 1.9M36 25l1.7 -0.2M73 8l0.1 2.0M20 19l-0.7 3.5M8 26l0.7 2.1M51 20l2.6 -1.5M44 10l0.3 3.7M123 30l2.2 1.4M17 23l3.3 -0.9M40 7l0.3 2.2M68 7l2.2 0.0M67 23l1.6 3.2M104 7l2.6 -1.5M86 8l2.5 0.2M71 27l-1.0 2.1M54 20l3.6 -1.7M35 23l0.3 2.3M56 21l-1.5 2.4M6 30l-0.3 1.6M25 17l2.7 0.7M85 1l2.9 -1.3M33 11l1.8 -0.6M26 24l3.0 1.6M22 9l3.4 -1.8M2 1l1.7 0.6M16 24l1.1 2.7M87 22l3.1 1.2M56 25l2.4 0.2M119 18l2.5 -0.6M3 27l0.5 2.9M38 8l0.1 2.7M10 30l2.7 -1.1M33 20l-0.6 2.4M25 2l2.1 -0.4M28 26l3.2 -0.3M11 6l2.5 1.5M11 1l0.6 3.9M12 1l-1.8 2.6M111 30l3.0 -1.1M90 25l-1.7 2.7M8 11l-0.9 2.4M76 15l0.6 3.9M101 3l2.6 -1.2M88 14l1.5 3.4M120 5l3.3 -1.5M48 19l3.2 0.0M1 21l-1.2 2.6M88 28l-1.0 1.6M18 28l2.6 -0.4M84 23l1.3 2.9M73 22l1.7 2.8M38 18l2.9 -0.9M109 27l-0.6 2.9M37 11l1.8 -0.0M40 5l-0.4 2.2M90 16l3.7 0.1M100 5l3.8 1.1M61 1l0.7 3.5M75 4l3.9 -0.2M112 25l3.7 -0.3M54 25l0.6 2.2M23 23l3.0 -2.0M69 10l-0.9 1.5M74 14l2.7 1.6M66 23l-0.2 1.7M2 18l3.5 -1.2M81 0l1.8 0.3M60 22l2.9 1.0M64 29l2.5 1.0M109 10l1.2 2.2M87 20l1.7 0.4M62 14l-0.9 2.9M49 12l0.6 2.2M76 6l1.1 2.0M81 12l-0.2 2.1M79 27l2.5 1.1M64 22l2.9 -0.2M86 19l2.3 1.2M81 28l-0.0 1.8M43 27l1.7 -1.1M117 5l3.8 0.9M110 14l-0.5 3.0M90 5l-1.7 3.5M29 1l-1.3 3.5M38 16l2.9 1.0M71 16l-0.2 2.5M57 23l2.8 0.1M95 11l1.7 0.8M9 16l3.4 -0.9M9 18l1.6 0.1M74 23l2.0 0.2M47 14l2.0 -0.7M6 25l-1.0 1.6M9 17l-1.8 2.6M28 13l3.1 1.0M75 1l0.7 2.0M30 28l-0.2 2.8M0 9l3.1 -0.3M15 20l2.5 0.5M59 25l-0.6 3.5M88 1l0.5 2.4M119 15l2.8 -0.8M57 11l1.9 -0.9M118 30l1.5 -0.1M121 6l-0.5 2.2M82 13l2.0 1.0M123 8l1.4 0.9M33 17l-0.2 3.9M74 20l2.3 1.4M53 3l-1.2 2.2M60 10l2.7 0.4M17 30l1.5 -0.9M86 4l3.5 0.7M84 23l3.4 1.1M20 18l1.5 0.7M9 11l1.8 0.9M81 10l3.8 0.4M115 24l3.3 0.9M82 4l1.3 3.7M23 23l3.7 0.9M88 24l3.2 0.2M61 5l2.1 -1.0M119 20l2.0 -0.7M47 25l1.3 3.8M23 20l2.1 3.2M96 30l0.2 2.3M27 21l1.3 2.1M81 21l2.1 0.7M0 21l0.6 3.0M123 3l1.6 -0.5M1 8l2.2 -0.1M60 2l-0.5 3.8M98 7l3.6 -1.5M45 28l2.7 -1.5M88 2l3.3 0.1M61 11l-0.0 2.2M45 5l3.2 0.3M64 1l-0.1 3.4M8 16l-1.9 3.4M69 22l2.7 1.6M111 7l2.0 0.5M121 17l-0.3 2.2M6 5l2.2 -0.0M51 20l2.8 -0.8M46 1l-0.2 1.9M99 20l2.3 0.8M11 7l-1.1 1.9M5 6l3.0 -0.6M6 12l3.5 -0.9M44 20l2.3 -1.5M61 17l-1.0 2.2M45 15l0.8 1.3M61 12l0.4 3.2M81 26l-1.4 3.5M29 24l-1.6 3.6M19 25l2.1 -0.0M88 14l0.0 2.2M78 28l1.4 -0.7M0 11l0.8 1.3M42 5l2.5 0.1M85 16l1.3 3.0M122 13l2.3 1.0M12 14l0.9 1.5M111 25l3.3 -0.6M44 2l2.3 -0.6M44 25l1.8 -0.7M46 17l2.8 -1.4M116 22l1.7 -0.2M86 18l1.7 2.6M56 2l3.2 2.0M34 22l2.0 0.2M19 3l-0.0 1.5M42 17l2.1 0.7M52 18l0.7 1.8M85 6l2.6 -0.2M111 19l1.7 -1.0M47 14l1.9 0.7M64 12l2.2 0.1M12 5l0.7 3.3M8 24l2.1 0.8M57 5l-0.8 2.5M25 14l-0.0 2.6M89 29l2.8 -0.3M120 22l3.4 -1.4M51 2l0.0 2.8M12 19l3.1 -1.5M121 18l1.9 1.1M22 5l0.8 1.6M53 30l-0.1 2.9M100 17l2.1 -0.4M58 11l3.6 0.3M48 27l0.5 1.8M32 6l2.8 1.1M74 4l3.4 -1.6M35 11l-1.6 3.5M42 6l-0.7 2.4M44 21l0.8 1.5M53 2l2.2 -0.8M62 25l2.9 0.5M14 16l3.1 -0.8M107 27l1.8 -1.0M58 2l0.9 3.0M90 1l0.5 3.2M107 19l1.7 0.5M118 4l0.3 1.9M7 25l2.4 -1.4M109 8l0.5 1.6M82 23l0.0 3.6M109 26l0.8 3.1M102 15l0.6 1.6M26 25l-1.1 1.7M105 13l-1.0 3.2M97 5l1.2 3.5M91 17l2.4 -1.1M76 15l2.9 0.8M45 3l3.4 1.9M114 17l3.2 1.8M46 23l1.7 0.5M84 15l0.2 3.3M13 8l2.2 -0.9M53 18l3.8 0.6M37 0l2.9 0.7M122 23l2.5 1.4M58 12l-0.5 2.5M60 0l-1.2 1.9M74 21l3.8 0.9M48 24l2.1 0.4" stroke="#8a5a86" stroke-width="0.8" fill="none"/></g>
</svg>
<rect x="289.5" y="0.6" width="124.4" height="185.8" fill="none" stroke="#33eef0" stroke-width="1.3"/>
<rect x="199.4" y="4.2" width="34.2" height="50.3" fill="none" stroke="#33eef0" stroke-width="1.3"/>
<line x1="233.6" y1="4.2" x2="289.5" y2="0.6" stroke="#33eef0" stroke-width="1.1"/>
<line x1="233.6" y1="54.5" x2="289.5" y2="186.4" stroke="#33eef0" stroke-width="1.1"/>
<rect x="172.3" y="178.4" width="48" height="3.2" fill="#000"/>
<text transform="translate(179.2,176) scale(1,1.09)" font-size="9.2">1000 µm</text>
<rect x="293.3" y="178.5" width="53.5" height="3.2" fill="#000"/>
<text transform="translate(307.4,176) scale(1,1.09)" font-size="9.2">300 µm</text>
<text transform="translate(158,11) scale(1,1.13)" font-size="11.5" font-weight="bold">b</text>
<svg x="438" y="34" width="115.6" height="151.7" viewBox="0 0 115.6 151.7" overflow="hidden">
<defs><linearGradient id="hgcl" x1="0" y1="0" x2="0" y2="1"><stop offset="0" stop-color="#fff" stop-opacity="0.3"/><stop offset="0.17" stop-color="#fff" stop-opacity="0.25"/><stop offset="0.25" stop-color="#fff" stop-opacity="0.12"/><stop offset="0.35" stop-color="#fff" stop-opacity="0.04"/><stop offset="1" stop-color="#fff" stop-opacity="0.03"/></linearGradient><linearGradient id="hhcl" x1="0" y1="0" x2="0" y2="1"><stop offset="0" stop-color="#fff" stop-opacity="0.5"/><stop offset="0.2" stop-color="#fff" stop-opacity="0.4"/><stop offset="0.3" stop-color="#fff" stop-opacity="0.2"/><stop offset="0.4" stop-color="#fff" stop-opacity="0.05"/><stop offset="1" stop-color="#fff" stop-opacity="0.04"/></linearGradient><filter id="hmbcl" x="-10%" y="-10%" width="120%" height="120%"><feGaussianBlur stdDeviation="3"/></filter><mask id="hmcl"><rect width="115.6" height="151.7" fill="url(#hgcl)"/><g filter="url(#hmbcl)"><path d="M5 4 L30 2 L52 4 L54 20 L48 30 L20 30 L6 26Z" fill="#fff" fill-opacity="0.75"/><path d="M52 3 L115 3 L115 26 L52 24Z" fill="#fff" fill-opacity="0.3"/></g></mask><mask id="hncl"><rect width="115.6" height="151.7" fill="url(#hhcl)"/><g filter="url(#hmbcl)"><path d="M5 4 L30 2 L52 4 L54 20 L48 30 L20 30 L6 26Z" fill="#fff" fill-opacity="0.75"/><path d="M52 3 L115 3 L115 26 L52 24Z" fill="#fff" fill-opacity="0.3"/></g></mask><filter id="htcl" x="0" y="0" width="100%" height="100%" color-interpolation-filters="sRGB"><feTurbulence type="fractalNoise" baseFrequency="0.25" numOctaves="3" seed="23" result="n"/><feColorMatrix in="n" type="matrix" values="0 0 0 0 0 0 0 0 0 0 0 0 0 0 0 2.2 0 0 0 -0.9" result="a"/><feFlood flood-color="#cf5fa0"/><feComposite in2="a" operator="in"/></filter><filter id="hucl" x="0" y="0" width="100%" height="100%" color-interpolation-filters="sRGB"><feTurbulence type="turbulence" baseFrequency="0.15" numOctaves="2" seed="30" result="n"/><feColorMatrix in="n" type="matrix" values="0 0 0 0 0 0 0 0 0 0 0 0 0 0 0 -7 0 0 0 1.25" result="a"/><feFlood flood-color="#a23a7e"/><feComposite in2="a" operator="in"/></filter><filter id="hbcl" x="0" y="0" width="100%" height="100%"><feGaussianBlur stdDeviation="0.3"/></filter></defs><rect width="115.6" height="151.7" fill="#f9f5f8"/><g filter="url(#hbcl)"><rect width="115.6" height="151.7" filter="url(#htcl)" mask="url(#hmcl)"/><rect width="115.6" height="151.7" filter="url(#hucl)" mask="url(#hncl)"/><g fill="#d49cc0"><circle cx="73" cy="34" r="1.0"/><circle cx="5" cy="94" r="0.9"/><circle cx="66" cy="3" r="0.9"/><circle cx="73" cy="50" r="1.1"/><circle cx="111" cy="8" r="1.1"/><circle cx="115" cy="5" r="1.1"/><circle cx="77" cy="8" r="0.8"/><circle cx="88" cy="103" r="0.6"/><circle cx="109" cy="66" r="1.1"/><circle cx="57" cy="20" r="1.1"/><circle cx="48" cy="28" r="0.7"/><circle cx="58" cy="69" r="1.2"/><circle cx="28" cy="29" r="1.2"/><circle cx="93" cy="91" r="0.7"/><circle cx="73" cy="34" r="0.8"/><circle cx="7" cy="34" r="0.9"/><circle cx="23" cy="13" r="0.8"/><circle cx="66" cy="95" r="1.1"/><circle cx="63" cy="75" r="1.2"/><circle cx="15" cy="45" r="1.2"/><circle cx="41" cy="93" r="0.9"/><circle cx="88" cy="17" r="1.1"/><circle cx="96" cy="128" r="0.8"/><circle cx="16" cy="7" r="0.7"/><circle cx="30" cy="27" r="0.8"/><circle cx="58" cy="113" r="1.2"/><circle cx="96" cy="113" r="0.7"/><circle cx="100" cy="64" r="1.3"/><circle cx="115" cy="4" r="0.7"/><circle cx="71" cy="105" r="1.2"/><circle cx="72" cy="36" r="1.0"/><circle cx="90" cy="141" r="1.1"/><circle cx="73" cy="50" r="1.2"/><circle cx="83" cy="106" r="1.0"/><circle cx="67" cy="33" r="0.8"/><circle cx="25" cy="119" r="1.2"/><circle cx="58" cy="46" r="0.8"/><circle cx="14" cy="46" r="0.7"/><circle cx="74" cy="17" r="1.3"/><circle cx="63" cy="75" r="0.7"/><circle cx="89" cy="35" r="1.0"/><circle cx="72" cy="35" r="1.1"/><circle cx="51" cy="108" r="0.8"/><circle cx="115" cy="5" r="0.7"/><circle cx="63" cy="146" r="1.2"/><circle cx="22" cy="7" r="0.6"/><circle cx="95" cy="9" r="1.0"/><circle cx="86" cy="3" r="1.2"/><circle cx="109" cy="66" r="0.9"/><circle cx="29" cy="4" r="0.9"/><circle cx="45" cy="39" r="1.0"/><circle cx="15" cy="56" r="0.6"/><circle cx="72" cy="36" r="1.0"/><circle cx="77" cy="144" r="0.8"/><circle cx="93" cy="97" r="1.3"/><circle cx="37" cy="69" r="0.8"/><circle cx="60" cy="28" r="1.0"/><circle cx="77" cy="87" r="0.8"/><circle cx="30" cy="27" r="0.9"/><circle cx="57" cy="103" r="1.1"/><circle cx="101" cy="141" r="0.8"/><circle cx="23" cy="13" r="0.9"/><circle cx="15" cy="45" r="1.0"/><circle cx="86" cy="92" r="0.7"/><circle cx="102" cy="8" r="1.0"/><circle cx="40" cy="32" r="0.8"/><circle cx="111" cy="8" r="0.8"/><circle cx="34" cy="17" r="0.8"/><circle cx="89" cy="78" r="0.6"/><circle cx="19" cy="31" r="0.7"/><circle cx="85" cy="11" r="1.3"/><circle cx="77" cy="17" r="0.6"/><circle cx="110" cy="35" r="0.9"/><circle cx="58" cy="113" r="0.6"/><circle cx="28" cy="106" r="1.3"/><circle cx="99" cy="46" r="1.2"/><circle cx="17" cy="54" r="0.9"/><circle cx="71" cy="105" r="0.7"/><circle cx="8" cy="49" r="0.9"/><circle cx="35" cy="61" r="1.1"/><circle cx="66" cy="39" r="0.6"/><circle cx="7" cy="34" r="1.0"/><circle cx="49" cy="76" r="0.8"/><circle cx="75" cy="88" r="0.8"/><circle cx="14" cy="13" r="1.1"/><circle cx="48" cy="144" r="1.0"/><circle cx="41" cy="51" r="0.8"/><circle cx="37" cy="125" r="0.8"/><circle cx="67" cy="3" r="1.0"/><circle cx="57" cy="83" r="0.8"/><circle cx="41" cy="93" r="0.6"/><circle cx="57" cy="83" r="1.2"/><circle cx="81" cy="39" r="0.7"/><circle cx="21" cy="38" r="0.7"/><circle cx="90" cy="21" r="0.7"/><circle cx="106" cy="126" r="0.9"/><circle cx="74" cy="17" r="0.6"/><circle cx="72" cy="36" r="1.2"/><circle cx="28" cy="28" r="1.1"/><circle cx="89" cy="33" r="0.6"/><circle cx="20" cy="134" r="1.1"/><circle cx="34" cy="2" r="0.7"/><circle cx="73" cy="34" r="1.1"/><circle cx="86" cy="8" r="1.3"/><circle cx="12" cy="112" r="0.9"/><circle cx="55" cy="47" r="1.1"/><circle cx="77" cy="146" r="1.2"/><circle cx="112" cy="64" r="0.8"/><circle cx="16" cy="144" r="1.2"/><circle cx="106" cy="111" r="1.1"/><circle cx="104" cy="39" r="0.8"/><circle cx="45" cy="50" r="1.0"/><circle cx="84" cy="49" r="1.0"/><circle cx="90" cy="141" r="1.1"/><circle cx="6" cy="41" r="1.2"/><circle cx="88" cy="103" r="1.0"/><circle cx="6" cy="41" r="0.8"/><circle cx="111" cy="28" r="0.7"/><circle cx="52" cy="5" r="0.7"/><circle cx="13" cy="32" r="1.2"/><circle cx="37" cy="125" r="1.0"/><circle cx="14" cy="46" r="1.2"/><circle cx="78" cy="1" r="1.2"/></g><path d="M115 154L117 157M116 150L124 144M91 127L92 127M91 127L80 136M80 136L80 136M80 136L89 140M77 144L80 136M77 144L77 146M77 146L86 147M86 147L90 141M90 141L89 140M100 115L102 125M100 115L106 112M106 126L102 125M118 135L123 142M92 116L91 126M102 125L96 128M96 113L92 116M75 130L80 136M71 105L72 116M71 105L78 103M78 103L83 106M83 106L84 112M60 155L60 161M16 7L17 6M16 7L14 13M23 13L22 7M23 13L18 17M22 7L18 6M14 13L18 17M18 6L17 6M-1 41L-9 42M-1 42L-1 49M-1 49L-9 51M-2 35L-1 41M6 41L14 46M6 41L-1 42M14 46L8 49M-0 50L-1 49M71 105L67 104M70 118L63 111M67 104L63 111M96 113L96 110M96 110L88 103M105 156L104 157M104 157L97 148M97 148L97 143M101 141L104 141M115 154L105 156M92 153L92 159M111 136L104 141M111 136L112 136M86 150L86 147M96 128L101 141M106 126L111 136M66 95L77 96M66 95L67 103M78 103L78 98M77 96L78 98M88 103L92 97M78 98L86 92M74 154L75 153M75 153L83 155M109 99L117 110M109 99L117 93M123 96L119 109M117 110L117 110M25 119L33 119M23 110L28 107M28 107L35 114M33 102L28 106M41 105L38 113M-4 145L2 143M2 143L3 144M14 107L15 101M14 107L23 110M28 106L25 100M25 100L17 97M25 100L30 92M38 84L28 88M30 92L28 88M12 112L22 123M14 122L22 124M22 123L22 124M12 110L12 112M3 136L-3 131M3 136L8 132M-3 131L-3 122M-3 122L6 121M6 121L7 123M2 143L3 136M-13 132L-3 131M20 134L19 133M20 134L16 144M22 126L19 133M14 122L7 123M12 110L7 115M-0 50L1 59M-10 55L1 59M44 89L46 89M38 76L37 76M20 134L21 134M16 144L20 149M21 134L25 143M25 143L20 149M32 137L33 139M32 137L33 129M33 139L40 132M40 132L36 126M33 129L36 126M34 141L32 143M22 126L33 129M37 125L33 119M38 144L37 152M37 152L24 152M20 149L21 154M10 158L21 155M25 163L21 155M-2 35L-0 32M6 41L7 34M7 34L-0 32M-0 9L-7 5M-1 10L-8 14M102 -3L93 -2M92 -8L92 -3M22 -4L28 0M23 13L27 15M22 22L27 17M28 29L28 28M27 33L30 35M39 36L39 34M34 45L30 46M40 39L35 45M34 45L35 45M15 45L16 41M16 41L21 38M21 38L21 38M21 38L29 46M29 47L29 46M21 38L26 35M29 46L30 46M65 92L66 90M66 90L60 83M57 83L60 83M52 93L50 90M66 95L65 92M67 103L57 103M57 103L56 94M73 86L72 81M63 75L60 83M51 108L47 105M47 105L52 93M49 76L57 83M49 76L48 77M72 81L77 75M53 69L58 69M58 69L63 70M118 16L122 22M82 65L73 70M82 65L81 60M81 60L69 62M107 57L106 50M101 48L106 50M104 39L110 40M100 42L99 46M112 43L110 40M103 97L109 99M101 97L100 104M109 99L106 111M106 111L100 104M117 93L116 88M116 88L111 85M104 89L103 97M93 97L101 97M110 113L117 110M93 97L93 91M104 89L99 82M93 91L99 82M116 88L121 84M75 88L77 87M86 92L85 90M77 87L85 90M93 91L89 81M61 122L51 126M38 113L47 119M70 118L69 120M69 120L73 130M61 122L61 122M38 144L47 142M48 144L47 142M47 142L48 135M51 126L51 132M48 135L51 132M118 135L123 127M117 110L120 121M110 122L120 123M112 -7L110 -0M119 -2L115 4M123 4L115 4M12 108L1 104M-1 105L-3 114M-3 122L-7 118M-11 102L-1 105M37 76L26 79M26 79L25 87M17 97L19 89M25 87L19 89M14 46L15 45M14 46L17 54M17 54L27 57M-8 28L-4 27M-0 32L5 26M-0 32L-4 27M-1 21L5 26M-1 21L-2 21M19 31L13 32M28 29L24 27M19 31L24 27M30 27L30 18M22 22L23 25M30 18L27 17M24 27L23 25M14 46L14 46M7 34L11 30M13 32L11 30M86 3L81 -2M84 -5L81 -4M92 -3L90 -2M28 6L31 9M35 -6L34 2M29 4L34 2M86 8L94 8M86 8L86 3M95 6L94 8M102 -3L103 -1M95 6L103 -1M94 21L90 21M88 17L95 9M98 18L95 9M81 27L88 21M89 21L88 21M89 21L89 33M89 33L83 31M90 21L89 21M88 17L85 11M88 21L83 19M85 11L83 19M89 33L97 28M97 28L99 34M97 38L99 34M89 33L89 33M100 42L97 38M58 69L58 57M98 18L103 20M97 28L105 27M118 16L112 18M122 22L119 27M119 27L113 26M113 26L112 19M110 35L107 31M117 37L111 28M111 28L107 29M106 33L107 31M110 40L110 35M105 27L107 29M112 19L106 19M103 20L106 19M73 50L68 58M64 56L68 58M69 62L68 58M84 49L89 44M82 50L79 48M81 39L79 45M79 45L79 48M89 44L88 37M92 62L95 60M92 62L82 58M82 58L82 50M96 55L84 49M99 46L89 44M81 60L82 58M73 50L79 48M89 35L88 37M72 36L79 45M72 36L72 35M79 35L73 34M72 35L73 34M72 36L69 38M109 66L112 64M112 64L113 64M113 64L118 73M117 76L110 77M110 77L107 76M97 77L98 78M98 78L107 76M107 57L112 64M121 84L117 76M128 71L118 73M111 85L110 77M99 82L98 78M94 77L92 63M97 77L94 77M89 81L89 78M92 62L92 63M77 87L86 76M64 131L70 133M64 131L58 134M58 134L62 145M70 133L68 141M51 132L58 134M115 4L115 4M1 103L5 94M1 104L1 103M15 101L5 94M-10 89L-1 82M4 89L5 88M-1 82L5 88M19 89L12 85M15 56L15 66M15 56L6 58M15 66L3 62M6 58L3 62M3 62L3 62M8 49L6 58M1 59L3 62M41 51L42 51M38 76L37 69M37 69L38 65M23 25L12 27M12 22L12 27M9 27L11 28M0 11L7 12M7 12L9 15M9 15L9 16M-1 21L1 19M9 27L5 18M12 22L9 16M14 13L9 15M7 8L12 6M2 5L2 2M-2 -1L2 2M12 6L7 -1M13 -5L7 -2M4 -7L7 -2M7 -1L7 -2M61 -1L59 0M53 -2L59 0M53 -2L51 -1M45 39L45 50M48 38L55 47M45 50L52 50M40 39L45 39M50 35L48 38M35 45L41 51M42 51L45 50M57 34L51 34M57 34L59 44M50 35L51 34M53 55L52 50M81 27L78 26M83 19L79 19M79 19L78 26M73 34L74 28M67 33L66 28M67 33L61 33M61 33L59 32M59 32L60 28M60 28L62 25M72 35L67 33M74 28L74 28M74 28L66 28M66 39L61 33M57 34L59 32M48 28L56 26M48 28L51 34M56 26L60 28M111 8L104 5M111 8L110 11M102 8L105 12M115 5L111 8M104 0L104 5M112 18L110 11M106 19L105 12M95 9L102 8M98 18L105 12M117 53L119 59M119 59L121 59M109 49L117 53M113 64L119 59M6 74L-2 79M6 74L1 64M-7 75L-2 79M12 76L12 85M12 76L6 74M18 70L15 66M18 70L12 76M19 70L24 74M27 59L28 59M18 70L19 70M37 69L29 71M35 61L28 59M-2 -1L-1 -7M67 3L71 -2M66 3L61 -1M78 1L71 -2M41 -5L41 2M51 -1L50 2M41 2L50 2M34 2L39 4M39 4L41 2M31 9L38 8M52 5L46 8M66 3L55 9M55 7L55 9M61 13L68 6M55 10L55 9M30 27L36 24M36 24L41 28M48 28L47 26M41 28L47 26M74 17L71 8M68 20L67 19M70 8L66 18M67 19L66 18M62 25L62 25M62 25L67 19M74 28L68 20M61 13L63 15M63 15L66 18M68 6L70 8M57 20L62 25M57 20L63 15M77 8L77 17M77 17L77 17M78 1L79 7M71 8L77 8M86 8L85 9M74 17L77 17M79 19L77 17M44 11L53 14M44 11L41 13M48 20L51 19M52 18L51 19M46 8L44 11M38 8L41 13M35 17L41 14M47 26L48 20M56 26L51 19M57 20L52 18" stroke="#d0a2c4" stroke-width="0.7" fill="none" stroke-opacity="0.85"/><path d="M106 126L110 122M92 116L84 112M91 127L91 126M83 106L88 103M97 143L101 141M92 153L97 148M92 153L86 150M74 154L73 162M77 146L75 153M117 93L123 96M25 119L23 110M28 106L28 107M33 94L33 102M41 105L43 104M41 93L43 104M3 144L16 144M21 134L32 137M25 143L32 143M38 144L34 141M32 143L24 152M37 152L37 152M93 -2L92 -3M18 17L18 18M18 18L22 22M28 28L39 34M73 86L75 88M63 75L72 81M47 105L43 104M53 69L49 76M96 55L101 48M107 57L98 62M109 49L106 50M104 89L111 85M58 113L52 110M52 110L47 119M75 130L73 130M40 132L48 135M120 12L115 5M16 41L13 32M21 38L19 31M103 -1L104 0M94 21L98 18M81 27L83 31M89 33L89 35M94 21L97 28M71 48L59 45M59 45L58 46M58 46L64 56M69 38L71 48M59 44L59 45M100 64L97 77M94 77L89 78M85 68L85 75M85 75L86 76M68 141L63 146M63 146L62 145M77 144L68 141M63 149L63 146M119 -2L124 -3M-5 93L4 89M5 94L4 89M5 88L12 85M42 51L50 64M18 18L12 22M12 27L11 28M5 18L9 16M-1 10L0 11M-6 0L-2 -1M61 -1L60 -6M58 46L55 47M94 8L95 9M120 39L120 40M117 37L120 39M112 43L120 40M-4 67L1 64M-1 82L-2 79M29 71L28 59M26 79L24 74M41 2L41 2M41 2L46 8" stroke="#a86098" stroke-width="0.84" fill="none" stroke-opacity="0.85"/><g fill="#5a1a48"><circle cx="61" cy="47" r="0.6"/><circle cx="44" cy="0" r="0.7"/><circle cx="37" cy="89" r="0.7"/><circle cx="21" cy="6" r="0.6"/><circle cx="13" cy="100" r="0.8"/><circle cx="49" cy="104" r="0.8"/><circle cx="36" cy="31" r="0.6"/><circle cx="56" cy="12" r="0.5"/><circle cx="101" cy="52" r="0.8"/><circle cx="64" cy="133" r="0.5"/><circle cx="59" cy="41" r="0.7"/><circle cx="110" cy="94" r="0.8"/><circle cx="109" cy="25" r="0.5"/><circle cx="73" cy="87" r="0.8"/><circle cx="35" cy="37" r="0.7"/><circle cx="3" cy="98" r="0.5"/><circle cx="37" cy="26" r="0.6"/><circle cx="62" cy="111" r="0.9"/><circle cx="4" cy="149" r="0.5"/><circle cx="55" cy="62" r="0.7"/><circle cx="2" cy="144" r="0.8"/><circle cx="107" cy="120" r="0.4"/><circle cx="47" cy="45" r="0.4"/><circle cx="21" cy="145" r="0.8"/><circle cx="30" cy="136" r="0.8"/><circle cx="30" cy="60" r="0.5"/><circle cx="97" cy="101" r="0.7"/><circle cx="45" cy="9" r="0.8"/><circle cx="60" cy="87" r="0.7"/><circle cx="91" cy="110" r="0.5"/><circle cx="59" cy="138" r="0.7"/><circle cx="82" cy="15" r="0.8"/><circle cx="58" cy="54" r="0.4"/><circle cx="52" cy="35" r="0.4"/><circle cx="86" cy="43" r="0.5"/></g><path d="M0,0H16Q4,2 0,16Z" fill="#ececec"/></g>
</svg>
<svg x="560.2" y="1.6" width="124.2" height="185.4" viewBox="0 0 124.2 185.4" overflow="hidden">
<defs><linearGradient id="hgci" x1="0" y1="0" x2="0" y2="1"><stop offset="0" stop-color="#fff" stop-opacity="0.85"/><stop offset="0.42" stop-color="#fff" stop-opacity="0.8"/><stop offset="0.5" stop-color="#fff" stop-opacity="0.3"/><stop offset="0.58" stop-color="#fff" stop-opacity="0.1"/><stop offset="1" stop-color="#fff" stop-opacity="0.06"/></linearGradient><linearGradient id="hhci" x1="0" y1="0" x2="0" y2="1"><stop offset="0" stop-color="#fff" stop-opacity="1"/><stop offset="0.45" stop-color="#fff" stop-opacity="0.95"/><stop offset="0.55" stop-color="#fff" stop-opacity="0.45"/><stop offset="1" stop-color="#fff" stop-opacity="0.35"/></linearGradient><filter id="hmbci" x="-10%" y="-10%" width="120%" height="120%"><feGaussianBlur stdDeviation="1.5"/></filter><mask id="hmci"><rect width="124.2" height="185.4" fill="url(#hgci)"/><g filter="url(#hmbci)"><path d="M3 15 L30 8 L58 14 L64 35 L60 60 L40 66 L20 62 L3 55Z" fill="#fff" fill-opacity="0.9"/><path d="M64 -5 L126 -5 L126 38 L64 30Z" fill="#000" fill-opacity="0.2"/><path d="M31.3 26.0Q29.9 28.2 27.9 30.6Q25.9 33.1 22.1 31.0Q18.3 28.9 14.3 30.6Q10.2 32.2 8.3 29.8Q6.4 27.3 6.7 24.9Q6.9 22.5 8.5 20.8Q10.1 19.1 8.9 15.3Q7.7 11.5 12.5 13.4Q17.4 15.4 20.7 13.1Q24.0 10.8 27.3 12.3Q30.6 13.8 31.0 16.6Q31.3 19.3 32.0 21.6Q32.7 23.9 31.3 26.0Z" fill="#000"/><path d="M63.9 44.9Q63.5 47.7 62.1 51.3Q60.7 54.9 58.5 52.7Q56.4 50.5 55.6 47.5Q54.8 44.6 52.2 43.4Q49.7 42.3 51.2 39.1Q52.7 35.9 52.6 32.7Q52.6 29.5 54.5 28.6Q56.3 27.7 58.1 25.0Q59.8 22.3 62.0 23.5Q64.2 24.7 64.4 28.7Q64.7 32.7 66.2 35.1Q67.8 37.5 66.0 39.8Q64.3 42.1 63.9 44.9Z" fill="#000"/><path d="M62.4 77.8Q62.1 80.4 60.1 82.7Q58.0 85.0 54.7 86.4Q51.3 87.9 46.7 89.0Q42.1 90.1 39.7 86.9Q37.4 83.7 34.5 81.8Q31.5 79.8 32.8 77.1Q34.0 74.3 30.5 69.4Q26.9 64.5 32.9 63.2Q38.9 61.9 43.8 63.1Q48.8 64.3 55.2 61.9Q61.7 59.4 64.0 63.6Q66.3 67.9 64.5 71.6Q62.6 75.3 62.4 77.8Z" fill="#000"/><path d="M18.7 60.3Q17.6 63.0 16.3 65.6Q15.1 68.2 12.9 69.3Q10.8 70.4 9.1 67.9Q7.4 65.5 4.6 65.8Q1.9 66.1 2.1 62.6Q2.3 59.1 2.9 56.8Q3.5 54.4 3.8 51.8Q4.0 49.1 5.9 48.3Q7.7 47.4 9.4 47.8Q11.0 48.3 13.6 47.0Q16.1 45.8 17.7 48.4Q19.3 50.9 19.6 54.2Q19.8 57.6 18.7 60.3Z" fill="#000"/><path d="M118.9 58.7Q118.4 62.2 116.9 65.5Q115.5 68.7 112.4 67.0Q109.2 65.3 107.2 66.4Q105.1 67.6 102.7 66.8Q100.2 66.0 97.8 63.4Q95.4 60.9 96.1 57.1Q96.9 53.2 98.2 50.2Q99.5 47.1 102.1 46.8Q104.8 46.4 106.7 45.6Q108.6 44.8 110.3 46.1Q112.1 47.4 113.8 48.8Q115.5 50.2 117.5 52.7Q119.4 55.2 118.9 58.7Z" fill="#000"/><path d="M103.4 109.4Q99.9 109.5 98.5 110.7Q97.1 112.0 95.3 111.1Q93.6 110.3 90.2 111.0Q86.7 111.7 85.9 109.5Q85.1 107.2 84.6 105.0Q84.2 102.8 85.3 100.5Q86.4 98.3 89.8 98.8Q93.2 99.3 95.2 98.2Q97.1 97.2 99.4 97.7Q101.8 98.2 103.3 99.7Q104.9 101.2 106.2 103.1Q107.5 104.9 107.1 107.2Q106.8 109.4 103.4 109.4Z" fill="#000"/><path d="M39.6 117.8Q38.6 119.6 39.2 122.0Q39.7 124.4 36.7 124.7Q33.6 125.0 31.0 126.9Q28.3 128.9 25.9 127.1Q23.4 125.3 20.7 124.0Q18.1 122.8 18.6 120.4Q19.2 118.1 20.6 116.5Q22.1 114.9 23.1 113.3Q24.0 111.6 26.4 111.3Q28.8 111.1 31.1 111.1Q33.4 111.1 36.3 111.4Q39.2 111.8 39.9 113.9Q40.5 116.0 39.6 117.8Z" fill="#000"/><path d="M82.1 130.0Q81.3 132.4 78.4 134.3Q75.5 136.1 71.6 136.4Q67.7 136.8 64.7 135.0Q61.7 133.3 60.6 131.0Q59.5 128.8 55.5 126.7Q51.4 124.7 56.2 123.1Q60.9 121.4 61.8 119.3Q62.7 117.1 65.8 117.2Q68.9 117.3 72.1 116.5Q75.2 115.7 79.0 116.4Q82.8 117.2 83.1 120.0Q83.4 122.8 83.2 125.2Q82.9 127.5 82.1 130.0Z" fill="#000"/><path d="M115.2 140.4Q113.2 142.3 113.8 145.4Q114.4 148.4 111.6 149.8Q108.8 151.2 105.5 150.9Q102.3 150.5 98.8 150.1Q95.3 149.7 95.9 146.3Q96.6 142.9 96.0 141.1Q95.4 139.3 94.0 136.3Q92.6 133.3 95.5 131.8Q98.5 130.4 101.5 130.1Q104.6 129.9 107.9 129.6Q111.2 129.4 113.8 131.2Q116.4 133.0 116.9 135.7Q117.3 138.4 115.2 140.4Z" fill="#000"/><path d="M49.9 163.1Q49.0 164.8 47.6 167.1Q46.2 169.4 42.5 168.9Q38.9 168.4 35.4 168.3Q31.9 168.2 29.5 166.5Q27.0 164.8 26.0 162.6Q25.0 160.3 25.3 158.0Q25.7 155.6 29.8 155.2Q34.0 154.8 36.1 153.8Q38.2 152.8 41.1 152.7Q43.9 152.6 48.6 152.2Q53.3 151.9 54.1 154.6Q54.9 157.3 52.8 159.4Q50.8 161.4 49.9 163.1Z" fill="#000"/><path d="M98.4 174.1Q96.4 176.2 93.7 177.7Q91.0 179.3 87.6 177.9Q84.2 176.4 80.5 177.6Q76.7 178.8 76.6 176.0Q76.5 173.3 76.1 171.8Q75.8 170.3 74.5 168.3Q73.2 166.3 76.6 165.9Q80.0 165.6 81.3 163.1Q82.7 160.6 85.3 162.4Q87.9 164.2 89.6 165.1Q91.3 166.0 95.1 166.6Q98.9 167.3 99.7 169.7Q100.4 172.1 98.4 174.1Z" fill="#000"/></g></mask><mask id="hnci"><rect width="124.2" height="185.4" fill="url(#hhci)"/><g filter="url(#hmbci)"><path d="M3 15 L30 8 L58 14 L64 35 L60 60 L40 66 L20 62 L3 55Z" fill="#fff" fill-opacity="0.9"/><path d="M64 -5 L126 -5 L126 38 L64 30Z" fill="#000" fill-opacity="0.2"/><path d="M31.3 26.0Q29.9 28.2 27.9 30.6Q25.9 33.1 22.1 31.0Q18.3 28.9 14.3 30.6Q10.2 32.2 8.3 29.8Q6.4 27.3 6.7 24.9Q6.9 22.5 8.5 20.8Q10.1 19.1 8.9 15.3Q7.7 11.5 12.5 13.4Q17.4 15.4 20.7 13.1Q24.0 10.8 27.3 12.3Q30.6 13.8 31.0 16.6Q31.3 19.3 32.0 21.6Q32.7 23.9 31.3 26.0Z" fill="#000"/><path d="M63.9 44.9Q63.5 47.7 62.1 51.3Q60.7 54.9 58.5 52.7Q56.4 50.5 55.6 47.5Q54.8 44.6 52.2 43.4Q49.7 42.3 51.2 39.1Q52.7 35.9 52.6 32.7Q52.6 29.5 54.5 28.6Q56.3 27.7 58.1 25.0Q59.8 22.3 62.0 23.5Q64.2 24.7 64.4 28.7Q64.7 32.7 66.2 35.1Q67.8 37.5 66.0 39.8Q64.3 42.1 63.9 44.9Z" fill="#000"/><path d="M62.4 77.8Q62.1 80.4 60.1 82.7Q58.0 85.0 54.7 86.4Q51.3 87.9 46.7 89.0Q42.1 90.1 39.7 86.9Q37.4 83.7 34.5 81.8Q31.5 79.8 32.8 77.1Q34.0 74.3 30.5 69.4Q26.9 64.5 32.9 63.2Q38.9 61.9 43.8 63.1Q48.8 64.3 55.2 61.9Q61.7 59.4 64.0 63.6Q66.3 67.9 64.5 71.6Q62.6 75.3 62.4 77.8Z" fill="#000"/><path d="M18.7 60.3Q17.6 63.0 16.3 65.6Q15.1 68.2 12.9 69.3Q10.8 70.4 9.1 67.9Q7.4 65.5 4.6 65.8Q1.9 66.1 2.1 62.6Q2.3 59.1 2.9 56.8Q3.5 54.4 3.8 51.8Q4.0 49.1 5.9 48.3Q7.7 47.4 9.4 47.8Q11.0 48.3 13.6 47.0Q16.1 45.8 17.7 48.4Q19.3 50.9 19.6 54.2Q19.8 57.6 18.7 60.3Z" fill="#000"/><path d="M118.9 58.7Q118.4 62.2 116.9 65.5Q115.5 68.7 112.4 67.0Q109.2 65.3 107.2 66.4Q105.1 67.6 102.7 66.8Q100.2 66.0 97.8 63.4Q95.4 60.9 96.1 57.1Q96.9 53.2 98.2 50.2Q99.5 47.1 102.1 46.8Q104.8 46.4 106.7 45.6Q108.6 44.8 110.3 46.1Q112.1 47.4 113.8 48.8Q115.5 50.2 117.5 52.7Q119.4 55.2 118.9 58.7Z" fill="#000"/><path d="M103.4 109.4Q99.9 109.5 98.5 110.7Q97.1 112.0 95.3 111.1Q93.6 110.3 90.2 111.0Q86.7 111.7 85.9 109.5Q85.1 107.2 84.6 105.0Q84.2 102.8 85.3 100.5Q86.4 98.3 89.8 98.8Q93.2 99.3 95.2 98.2Q97.1 97.2 99.4 97.7Q101.8 98.2 103.3 99.7Q104.9 101.2 106.2 103.1Q107.5 104.9 107.1 107.2Q106.8 109.4 103.4 109.4Z" fill="#000"/><path d="M39.6 117.8Q38.6 119.6 39.2 122.0Q39.7 124.4 36.7 124.7Q33.6 125.0 31.0 126.9Q28.3 128.9 25.9 127.1Q23.4 125.3 20.7 124.0Q18.1 122.8 18.6 120.4Q19.2 118.1 20.6 116.5Q22.1 114.9 23.1 113.3Q24.0 111.6 26.4 111.3Q28.8 111.1 31.1 111.1Q33.4 111.1 36.3 111.4Q39.2 111.8 39.9 113.9Q40.5 116.0 39.6 117.8Z" fill="#000"/><path d="M82.1 130.0Q81.3 132.4 78.4 134.3Q75.5 136.1 71.6 136.4Q67.7 136.8 64.7 135.0Q61.7 133.3 60.6 131.0Q59.5 128.8 55.5 126.7Q51.4 124.7 56.2 123.1Q60.9 121.4 61.8 119.3Q62.7 117.1 65.8 117.2Q68.9 117.3 72.1 116.5Q75.2 115.7 79.0 116.4Q82.8 117.2 83.1 120.0Q83.4 122.8 83.2 125.2Q82.9 127.5 82.1 130.0Z" fill="#000"/><path d="M115.2 140.4Q113.2 142.3 113.8 145.4Q114.4 148.4 111.6 149.8Q108.8 151.2 105.5 150.9Q102.3 150.5 98.8 150.1Q95.3 149.7 95.9 146.3Q96.6 142.9 96.0 141.1Q95.4 139.3 94.0 136.3Q92.6 133.3 95.5 131.8Q98.5 130.4 101.5 130.1Q104.6 129.9 107.9 129.6Q111.2 129.4 113.8 131.2Q116.4 133.0 116.9 135.7Q117.3 138.4 115.2 140.4Z" fill="#000"/><path d="M49.9 163.1Q49.0 164.8 47.6 167.1Q46.2 169.4 42.5 168.9Q38.9 168.4 35.4 168.3Q31.9 168.2 29.5 166.5Q27.0 164.8 26.0 162.6Q25.0 160.3 25.3 158.0Q25.7 155.6 29.8 155.2Q34.0 154.8 36.1 153.8Q38.2 152.8 41.1 152.7Q43.9 152.6 48.6 152.2Q53.3 151.9 54.1 154.6Q54.9 157.3 52.8 159.4Q50.8 161.4 49.9 163.1Z" fill="#000"/><path d="M98.4 174.1Q96.4 176.2 93.7 177.7Q91.0 179.3 87.6 177.9Q84.2 176.4 80.5 177.6Q76.7 178.8 76.6 176.0Q76.5 173.3 76.1 171.8Q75.8 170.3 74.5 168.3Q73.2 166.3 76.6 165.9Q80.0 165.6 81.3 163.1Q82.7 160.6 85.3 162.4Q87.9 164.2 89.6 165.1Q91.3 166.0 95.1 166.6Q98.9 167.3 99.7 169.7Q100.4 172.1 98.4 174.1Z" fill="#000"/></g></mask><filter id="htci" x="0" y="0" width="100%" height="100%" color-interpolation-filters="sRGB"><feTurbulence type="fractalNoise" baseFrequency="0.12" numOctaves="3" seed="24" result="n"/><feColorMatrix in="n" type="matrix" values="0 0 0 0 0 0 0 0 0 0 0 0 0 0 0 3.0 0 0 0 -0.8" result="a"/><feFlood flood-color="#b8448e"/><feComposite in2="a" operator="in"/></filter><filter id="huci" x="0" y="0" width="100%" height="100%" color-interpolation-filters="sRGB"><feTurbulence type="turbulence" baseFrequency="0.08" numOctaves="2" seed="31" result="n"/><feColorMatrix in="n" type="matrix" values="0 0 0 0 0 0 0 0 0 0 0 0 0 0 0 -7 0 0 0 1.25" result="a"/><feFlood flood-color="#a02c78"/><feComposite in2="a" operator="in"/></filter><filter id="hbci" x="0" y="0" width="100%" height="100%"><feGaussianBlur stdDeviation="0.3"/></filter></defs><rect width="124.2" height="185.4" fill="#f9f5f8"/><g filter="url(#hbci)"><rect width="124.2" height="185.4" filter="url(#htci)" mask="url(#hmci)"/><rect width="124.2" height="185.4" filter="url(#huci)" mask="url(#hnci)"/><path d="M130 199L119 189M119 189L106 202M-7 39L7 34M7 34L8 31M8 31L-2 24M-5 24L-2 24M-15 142L-2 148M-2 148L-11 127M10 130L19 132M10 114L20 112M28 118L33 118M40 108L36 99M36 99L27 99M27 99L20 111M95 -3L104 8M95 -3L96 -8M96 -8L109 -4M119 186L119 189M27 99L20 94M20 94L29 88M38 93L29 88M8 31L12 27M12 27L9 15M-2 24L8 15M9 15L8 15M-7 12L1 9M8 15L1 9M123 0L123 1M123 0L122 -3M109 -4L118 -7M107 4L117 9M123 1L117 9M67 -5L66 -4M71 4L66 -4M71 4L83 3M83 3L82 -7M89 9L88 6M89 9L77 20M88 6L83 3M70 13L77 20M117 184L102 186M117 184L112 170M103 169L97 178M102 186L97 178M119 186L117 184M6 132L-5 126M6 132L1 146M-2 148L-2 149M1 146L-2 149M-2 149L-2 150M-2 150L-2 150M19 132L23 138M1 146L19 147M23 138L19 147M125 61L123 43M96 15L96 21M102 12L110 16M110 16L112 29M112 29L109 30M89 9L96 15M77 20L78 24M116 12L110 16M71 137L75 129M71 137L84 141M75 129L81 125M84 141L89 126M81 125L89 126M108 108L114 120M108 108L93 113M114 120L107 126M112 170L115 166M115 166L116 166M57 136L61 122M57 136L48 124M61 122L51 119M48 124L51 119M58 141L62 144M58 141L57 136M62 144L71 137M65 120L75 129M121 79L116 74M125 61L117 64M117 64L115 68M116 74L115 68M117 64L111 57M100 59L111 68M111 68L115 68M111 57L105 46M111 57L121 42M105 46L120 41M121 42L120 41M116 31L120 41M97 46L105 46M41 11L38 24M41 11L37 5M37 5L28 6M28 11L28 6M39 26L38 25M38 25L38 24M55 15L52 10M52 10L41 11M22 18L14 12M14 12L15 10M15 10L27 5M12 -2L11 -1M2 1L-4 -6M1 9L2 1M27 5L23 -5M54 2L66 -4M66 -4L49 -12M37 5L41 -4M45 -5L41 -4M41 -4L35 -9M55 15L66 15M55 15L56 31M56 31L59 32M59 32L61 32M55 15L55 15M70 13L66 15M45 32L39 26M45 32L45 32M45 32L56 31M74 30L63 31M79 41L78 41M66 42L61 32M132 16L125 20M121 26L133 30M121 26L125 20M116 31L121 26M-5 126L-2 112M10 114L3 109M-2 112L3 109M3 109L3 109M-2 112L-14 109M41 189L30 194M41 189L35 174M35 174L30 194M21 190L15 180M15 180L5 186M-15 171L0 168M-14 180L-1 181M0 168L-1 181M5 186L-1 181M43 157L40 165M43 157L43 142M40 165L30 154M30 154L37 140M43 142L38 139M38 139L37 140M58 141L43 142M62 144L64 149M64 149L43 157M21 155L30 154M39 127L33 118M80 155L67 155M86 145L84 141M64 149L66 154M41 169L40 165M41 169L45 170M45 170L55 167M92 161L86 161M92 161L92 179M86 161L82 175M92 179L87 180M82 175L87 180M97 178L92 179M87 180L86 193M114 120L125 120M115 142L125 120M123 108L126 94M108 108L111 102M119 106L123 108M125 120L129 119M126 94L126 94M126 94L126 94M62 96L67 108M62 96L73 92M73 92L67 108M65 120L68 111M73 110L68 111M111 146L100 143M93 161L97 145M97 145L100 143M112 146L115 144M112 146L111 146M115 142L115 144M103 169L98 163M115 166L112 146M80 155L86 161M86 145L97 145M92 161L93 161M92 125L89 126M129 159L126 145M116 166L129 159M81 62L84 55M81 62L81 62M81 62L96 66M95 52L98 59M98 59L96 66M78 62L81 62M78 48L70 53M74 82L66 77M74 82L85 77M85 77L81 62M85 77L95 78M95 78L96 78M96 78L97 76M78 41L78 48M100 59L98 59M97 76L111 68M55 92L56 94M56 94L56 108M62 96L56 94M67 108L67 110M67 110L56 108M51 119L49 111M68 111L67 110M40 108L43 108M105 83L113 91M111 99L113 93M113 93L113 91M96 78L99 80M116 74L105 83M121 79L113 91M126 94L113 93M111 102L111 99M-6 47L2 51M12 41L2 51M-7 66L1 63M1 63L5 56M5 56L19 58M19 58L19 66M34 62L22 55M20 111L13 94M3 109L6 99M6 99L13 94M20 94L15 92M13 94L15 92M29 88L26 82M26 82L14 84M11 75L11 79M26 82L32 76M32 76L28 71M19 172L18 173M18 173L3 166M19 158L0 154M0 154L3 166M35 173L19 172M35 173L35 174M15 180L18 173M35 173L41 169M-2 150L0 154M67 155L70 164M55 167L66 179M70 164L66 179M70 164L78 176M92 85L80 95M92 85L89 101M89 101L87 103M74 82L76 91M95 78L92 85M76 91L80 95M73 110L86 103M28 49L30 39M28 49L23 52M23 52L18 43M30 39L26 28M26 28L25 28M43 39L42 48M42 48L28 49M22 55L23 52M38 25L26 28M22 18L25 28M45 59L51 63M51 63L63 60M55 49L63 52M63 60L64 53M41 63L45 59M55 46L55 49M70 53L64 53M39 77L41 89M39 77L40 76M41 89L54 90M54 90L61 78M61 78L55 75M38 93L41 89M32 76L39 77M51 63L55 75M66 77L61 78M66 180L69 181M69 181L71 193M52 193L51 189M51 189L51 186M78 176L69 181M66 179L66 180M45 170L51 186M41 189L51 189M3 80L-1 94M3 80L-7 78M11 79L3 80" stroke="#a04080" stroke-width="0.9" fill="none" stroke-opacity="0.85"/><path d="M19 132L28 118M28 118L20 112M33 118L40 108M36 99L38 93M90 27L78 24M122 -3L118 -7M138 2L123 0M-16 169L-2 150M90 27L96 21M93 113L92 125M92 125L95 126M107 126L95 126M129 173L116 166M123 43L121 42M111 57L111 57M116 31L112 29M96 41L97 46M38 24L28 11M39 26L55 15M12 -2L4 -13M11 -1L2 1M55 46L59 32M78 41L66 42M123 1L132 16M116 12L125 20M39 127L38 139M39 127L48 124M67 155L66 154M66 154L55 167M130 117L123 108M126 94L119 106M126 94L130 80M93 161L98 163M115 144L126 145M84 55L95 52M78 48L84 55M97 76L96 66M99 80L105 83M2 51L5 56M1 63L11 75M34 62L28 71M19 66L28 71M15 92L14 84M0 168L3 166M80 95L86 103M86 103L87 103M97 97L89 101M73 92L76 91M25 28L25 28M12 27L25 28M67 68L63 60M40 76L55 75M41 63L40 76" stroke="#601a50" stroke-width="1.08" fill="none" stroke-opacity="0.85"/><g fill="#5a1a48"><circle cx="40" cy="53" r="0.4"/><circle cx="58" cy="171" r="0.6"/><circle cx="85" cy="56" r="0.8"/><circle cx="49" cy="80" r="0.6"/><circle cx="78" cy="33" r="0.8"/><circle cx="63" cy="155" r="0.7"/><circle cx="110" cy="74" r="0.7"/><circle cx="45" cy="137" r="0.6"/><circle cx="114" cy="44" r="0.4"/><circle cx="1" cy="98" r="0.6"/><circle cx="11" cy="109" r="0.6"/><circle cx="47" cy="44" r="0.8"/><circle cx="24" cy="160" r="0.6"/><circle cx="39" cy="138" r="0.7"/><circle cx="122" cy="15" r="0.5"/><circle cx="13" cy="73" r="0.8"/><circle cx="102" cy="157" r="0.7"/><circle cx="81" cy="63" r="0.5"/><circle cx="87" cy="91" r="0.7"/><circle cx="62" cy="21" r="0.8"/><circle cx="114" cy="74" r="0.5"/><circle cx="45" cy="136" r="0.6"/><circle cx="26" cy="175" r="0.5"/><circle cx="106" cy="9" r="0.4"/><circle cx="19" cy="128" r="0.7"/><circle cx="35" cy="146" r="0.7"/><circle cx="87" cy="106" r="0.6"/><circle cx="27" cy="171" r="0.7"/><circle cx="71" cy="76" r="0.6"/><circle cx="110" cy="27" r="0.6"/><circle cx="59" cy="159" r="0.4"/><circle cx="23" cy="140" r="0.5"/><circle cx="67" cy="46" r="0.8"/><circle cx="72" cy="9" r="0.7"/><circle cx="103" cy="88" r="0.9"/><circle cx="35" cy="93" r="0.6"/><circle cx="23" cy="122" r="0.4"/><circle cx="81" cy="70" r="0.5"/><circle cx="58" cy="109" r="0.4"/><circle cx="83" cy="31" r="0.9"/><circle cx="122" cy="183" r="0.7"/><circle cx="21" cy="180" r="0.4"/><circle cx="77" cy="46" r="0.5"/><circle cx="100" cy="137" r="0.5"/><circle cx="50" cy="181" r="0.5"/><circle cx="17" cy="106" r="0.6"/><circle cx="55" cy="126" r="0.4"/><circle cx="122" cy="41" r="0.5"/><circle cx="1" cy="38" r="0.8"/><circle cx="83" cy="38" r="0.6"/><circle cx="107" cy="19" r="0.9"/><circle cx="120" cy="182" r="0.8"/><circle cx="23" cy="160" r="0.7"/><circle cx="2" cy="101" r="0.8"/><circle cx="54" cy="6" r="0.4"/><circle cx="56" cy="170" r="0.6"/><circle cx="96" cy="105" r="0.5"/><circle cx="40" cy="23" r="0.6"/><circle cx="115" cy="183" r="0.6"/><circle cx="78" cy="152" r="0.4"/></g><path d="M72 41l2.1 0.5M95 17l1.8 -1.1M28 11l3.5 -1.6M117 48l1.4 2.8M117 58l-1.0 2.8M19 90l0.7 1.6M84 13l1.4 0.9M42 39l2.7 -0.6M102 42l0.7 1.4M103 36l-0.7 1.5M92 35l2.0 1.1M16 94l0.1 3.2M7 36l-0.5 3.3M2 50l3.1 2.1M84 52l3.5 1.1M87 29l3.0 -0.6M41 96l2.7 1.6M84 5l1.9 -1.2M44 95l2.1 1.1M13 42l0.9 2.1M66 16l1.4 -0.6M36 42l3.0 0.7M15 31l2.5 0.7M31 19l3.6 0.2M80 66l2.6 -1.6M28 56l2.3 0.9M25 34l2.9 -0.5M104 68l-1.0 3.7M107 48l-1.0 2.5M100 97l2.0 1.3M5 7l1.9 -1.2M34 90l0.7 1.4M29 46l2.1 3.3M102 97l3.4 0.2M123 60l2.2 1.0M91 28l3.1 0.4M121 60l3.8 -0.1M57 95l3.5 -1.8M43 86l1.5 0.9M9 20l3.1 0.3M123 40l0.6 3.1M113 59l3.1 0.2M17 83l0.2 2.5M38 12l1.6 2.6M8 20l-0.2 3.8M80 62l3.7 0.5M105 17l-0.4 1.9M52 63l1.6 1.0M63 22l3.1 -0.4M23 69l-0.0 1.8M51 50l-0.9 2.7M25 11l-0.2 3.7M61 28l2.2 -0.6M98 19l-0.4 2.8M121 55l2.3 -0.1M80 59l3.6 1.0M4 16l-0.4 2.4M119 99l2.5 -0.9M122 86l3.4 -0.8M8 15l2.7 -1.7M117 35l-0.3 2.8M59 71l2.0 3.3M116 85l0.0 2.0M92 99l2.8 -0.3M84 94l3.4 -0.4M23 37l3.2 -0.2M115 14l1.0 3.1M38 12l1.6 -1.1M105 24l1.7 0.9M109 84l2.8 1.5M48 52l3.9 0.4M6 26l-0.7 1.7M102 92l1.8 -0.1M97 56l-1.1 2.6M98 5l0.5 1.6M54 34l-0.1 3.7M90 79l3.4 -1.6M4 88l1.4 3.4M92 32l0.8 3.5M115 22l-1.2 2.8M24 88l2.8 -0.3M31 80l1.3 3.4M17 21l1.5 -0.3M2 47l-1.3 2.7M3 95l1.8 -0.2M117 80l2.1 1.3M35 96l1.9 -0.5M17 4l-1.3 2.1M12 69l3.3 0.1M76 11l3.7 1.2M50 67l2.9 -0.6M4 43l1.5 0.9M76 9l1.4 0.6M68 42l3.3 -0.8M11 58l2.5 0.1M34 7l0.4 2.7M51 29l1.4 -0.5M65 18l3.5 -0.5M75 70l2.7 0.8M70 8l3.2 -0.1M102 23l2.7 1.5M60 68l1.1 2.0M112 80l3.2 -1.4M17 62l1.9 -1.3M74 86l2.9 -1.3M86 2l-1.6 2.9M88 62l-0.2 2.8M39 36l0.4 3.4M111 23l2.8 -1.0M104 53l-0.1 3.4M37 64l-0.6 3.1M21 91l3.5 -0.3M120 47l2.8 -1.3M111 10l0.3 3.4M115 68l1.0 2.5M22 73l2.2 0.6M85 28l1.8 1.0M80 35l3.4 0.6M45 97l3.6 -0.2M40 61l1.9 -0.6M98 2l1.1 1.7M49 48l1.7 -0.7M27 18l-1.3 3.3M107 56l-1.0 1.9M84 92l0.4 1.7M15 84l2.1 0.7M94 25l1.5 -0.5M29 75l1.8 0.6M122 86l2.6 -1.3M43 7l1.8 0.5M64 3l2.0 -0.8M113 76l2.1 -0.2M70 53l1.8 0.3M69 40l-1.3 2.4M49 20l3.0 0.1M41 11l3.7 -0.3M118 54l1.6 0.8M23 89l0.7 3.0M2 30l3.1 0.9M118 72l3.4 0.4M22 6l2.7 -1.2M75 15l-1.2 3.6M121 48l2.2 -0.1M26 37l1.2 2.7M31 52l2.9 -0.2M53 38l0.5 1.8M55 49l2.0 -1.0M37 48l0.6 1.7M122 77l2.3 -1.5M113 61l-1.0 3.6" stroke="#6a1a50" stroke-width="0.8" fill="none"/><path d="M31.3 26.0Q29.9 28.2 27.9 30.6Q25.9 33.1 22.1 31.0Q18.3 28.9 14.3 30.6Q10.2 32.2 8.3 29.8Q6.4 27.3 6.7 24.9Q6.9 22.5 8.5 20.8Q10.1 19.1 8.9 15.3Q7.7 11.5 12.5 13.4Q17.4 15.4 20.7 13.1Q24.0 10.8 27.3 12.3Q30.6 13.8 31.0 16.6Q31.3 19.3 32.0 21.6Q32.7 23.9 31.3 26.0Z" fill="#fbf8fa" stroke="#b04a8c" stroke-width="0.7"/><path d="M63.9 44.9Q63.5 47.7 62.1 51.3Q60.7 54.9 58.5 52.7Q56.4 50.5 55.6 47.5Q54.8 44.6 52.2 43.4Q49.7 42.3 51.2 39.1Q52.7 35.9 52.6 32.7Q52.6 29.5 54.5 28.6Q56.3 27.7 58.1 25.0Q59.8 22.3 62.0 23.5Q64.2 24.7 64.4 28.7Q64.7 32.7 66.2 35.1Q67.8 37.5 66.0 39.8Q64.3 42.1 63.9 44.9Z" fill="#fbf8fa" stroke="#b04a8c" stroke-width="0.7"/><path d="M62.4 77.8Q62.1 80.4 60.1 82.7Q58.0 85.0 54.7 86.4Q51.3 87.9 46.7 89.0Q42.1 90.1 39.7 86.9Q37.4 83.7 34.5 81.8Q31.5 79.8 32.8 77.1Q34.0 74.3 30.5 69.4Q26.9 64.5 32.9 63.2Q38.9 61.9 43.8 63.1Q48.8 64.3 55.2 61.9Q61.7 59.4 64.0 63.6Q66.3 67.9 64.5 71.6Q62.6 75.3 62.4 77.8Z" fill="#fbf8fa" stroke="#b04a8c" stroke-width="0.7"/><path d="M18.7 60.3Q17.6 63.0 16.3 65.6Q15.1 68.2 12.9 69.3Q10.8 70.4 9.1 67.9Q7.4 65.5 4.6 65.8Q1.9 66.1 2.1 62.6Q2.3 59.1 2.9 56.8Q3.5 54.4 3.8 51.8Q4.0 49.1 5.9 48.3Q7.7 47.4 9.4 47.8Q11.0 48.3 13.6 47.0Q16.1 45.8 17.7 48.4Q19.3 50.9 19.6 54.2Q19.8 57.6 18.7 60.3Z" fill="#fbf8fa" stroke="#b04a8c" stroke-width="0.7"/><path d="M118.9 58.7Q118.4 62.2 116.9 65.5Q115.5 68.7 112.4 67.0Q109.2 65.3 107.2 66.4Q105.1 67.6 102.7 66.8Q100.2 66.0 97.8 63.4Q95.4 60.9 96.1 57.1Q96.9 53.2 98.2 50.2Q99.5 47.1 102.1 46.8Q104.8 46.4 106.7 45.6Q108.6 44.8 110.3 46.1Q112.1 47.4 113.8 48.8Q115.5 50.2 117.5 52.7Q119.4 55.2 118.9 58.7Z" fill="#fbf8fa" stroke="#b04a8c" stroke-width="0.7"/><path d="M109 30l15.3 -0.7M80 25l11.9 1.1M106 26l7.3 -1.5M92 34l12.9 -2.2M64 21l11.4 1.0M76 16l12.5 -2.2M72 16l7.6 1.6M72 14l13.6 -3.2M103 1l14.9 -2.9M70 22l14.3 -0.5M90 30l10.6 -0.2M79 13l8.6 0.3M110 26l12.2 2.7M115 33l5.5 -0.3M97 17l12.1 3.0M70 12l15.5 -0.6M87 31l5.4 -1.0M68 36l6.0 -0.3M117 14l5.3 -0.2M65 21l10.1 -0.7M114 33l10.4 -0.3M119 32l14.3 1.0M94 35l8.2 -0.8M66 15l10.5 -2.1M81 15l15.4 3.8M67 15l13.6 0.8M105 31l8.9 0.9M101 2l12.0 -2.7M75 4l7.4 1.7M115 11l15.2 -2.9M72 16l5.6 -0.2M96 28l13.0 3.3M94 30l12.8 1.7M79 20l13.9 0.3M115 18l7.6 -1.5M76 22l10.0 1.2M84 28l8.3 2.0M79 31l9.6 -1.2M121 14l12.7 -2.1M122 5l14.2 -3.5M80 17l12.8 1.3M78 3l5.9 -1.5M109 5l13.9 -1.6M71 17l12.9 2.3M93 10l9.4 2.2M111 14l12.6 -0.5M110 10l9.5 0.6M70 26l12.0 3.0M106 22l11.4 0.9M121 4l14.7 -1.3M60 8l10.8 0.3M95 21l5.2 1.3M87 6l7.4 0.8M81 20l15.5 -0.3M96 11l12.9 1.4M85 14l12.4 1.1M114 35l8.2 -0.7M83 21l8.2 0.4M94 7l13.4 1.8M66 21l11.8 -2.4M74 26l7.4 -1.2M66 19l15.9 -0.1M111 30l10.5 -1.8M69 26l13.6 -0.5M95 17l9.5 1.6M85 24l5.5 -1.1M75 22l9.4 1.1M75 35l11.4 2.3M68 9l10.2 0.4M102 1l13.9 1.8" stroke="#c878ac" stroke-width="0.7" fill="none"/></g>
</svg>
<rect x="560.2" y="1.6" width="124.1" height="185.4" fill="none" stroke="#f03030" stroke-width="1.3"/>
<rect x="455.4" y="37.2" width="34" height="50.4" fill="none" stroke="#f03030" stroke-width="1.3"/>
<line x1="489.4" y1="37.2" x2="560.2" y2="1.6" stroke="#f03030" stroke-width="1.1"/>
<line x1="489.4" y1="87.6" x2="560.2" y2="187" stroke="#f03030" stroke-width="1.1"/>
<rect x="443.3" y="178.5" width="48.4" height="3.4" fill="#000"/>
<text transform="translate(448.6,175.5) scale(1,1.09)" font-size="9.2">1000 µm</text>
<rect x="564.4" y="178.7" width="53.2" height="3.2" fill="#000"/>
<text transform="translate(575.5,175.6) scale(1,1.09)" font-size="9.2">300 µm</text>
<text transform="translate(421.5,42.9) scale(1,1.13)" font-size="11.5" font-weight="bold">c</text>
<rect x="37.6" y="196.5" width="293.6" height="283.8" fill="none" stroke="#33eef0" stroke-width="1.4"/>
<rect x="375.6" y="196.6" width="294.1" height="283.8" fill="none" stroke="#f03030" stroke-width="1.4"/>
<text transform="translate(186.2,211.9) scale(1,1.09)" font-size="12.1" text-anchor="middle">static</text>
<text transform="translate(528.5,211.9) scale(1,1.09)" font-size="12.1" text-anchor="middle">dynamic</text>
<svg x="47" y="219.2" width="273.6" height="120.8" viewBox="0 0 273.6 120.8" overflow="hidden">
<defs><filter id="nzd" x="0" y="0" width="100%" height="100%" color-interpolation-filters="sRGB"><feTurbulence type="fractalNoise" baseFrequency="0.12" numOctaves="2" seed="11"/><feColorMatrix type="matrix" values="0.28 0 0 0 0.0 0.28 0 0 0 0.0 0.28 0 0 0 0.0 0 0 0 0 1"/></filter><filter id="bld" x="0" y="0" width="100%" height="100%" color-interpolation-filters="sRGB"><feTurbulence type="fractalNoise" baseFrequency="0.08" numOctaves="2" seed="61"/><feColorMatrix type="matrix" values="1.8 0 0 0 0.05 1.8 0 0 0 0.05 1.8 0 0 0 0.05 0 0 0 0 1" result="m"/><feComposite in="SourceGraphic" in2="m" operator="arithmetic" k1="1" k2="0" k3="0" k4="0"/><feGaussianBlur stdDeviation="1.7"/></filter></defs><g filter="url(#bld)"><rect width="273.6" height="120.8" filter="url(#nzd)"/><path d="M224 -5L220 1M217 59L215 54M164 45L163 44M164 36L168 36M279 91L274 91M238 76L238 76M251 78L247 81M174 28L176 32M161 -3L150 -0M116 -3L112 -6M112 -6L105 -3M142 -4L139 6M151 22L143 15M130 21L126 27M117 32L125 37M138 43L145 35M272 -1L268 7M222 68L219 71M249 5L247 -2M228 10L226 16M226 16L232 22M231 10L230 10M-6 123L2 125M18 115L15 116M9 93L5 95M2 93L5 95M11 87L13 84M7 114L10 113M13 20L2 19M-2 32L1 22M12 46L15 54M36 18L44 28M21 36L29 32M30 45L31 44M274 132L279 124M264 119L267 119M177 45L181 48M278 112L277 108M265 105L265 99M260 72L268 64M274 71L261 73M44 28L44 28M112 44L111 44M111 44L115 53M125 53L124 54M113 63L111 62M124 54L123 61M113 63L121 65M129 12L138 6M132 2L138 6M132 0L132 2M139 18L143 15M138 45L135 46M104 -3L102 -10M63 3L64 9M274 63L273 56M277 15L281 22M264 13L259 16M246 26L245 28M191 55L185 55M97 103L99 104M40 94L44 97M96 101L97 98M97 98L106 96M60 125L67 124M1 94L-6 96M-1 61L5 66M170 2L175 1M180 37L181 36M200 31L198 19M216 46L217 45M209 23L213 15M212 27L222 24M215 14L213 15M205 12L213 15M223 25L222 24M204 3L204 3M248 87L240 91M264 98L252 100M193 20L185 19M94 83L92 85M83 76L79 79M79 79L76 79M74 96L71 93M112 19L111 18M110 36L108 34M108 34L108 28M119 28L112 23M103 8L110 6M73 -2L77 9M72 11L75 12M91 9L91 11M68 25L72 24M73 25L72 24M52 9L52 2M133 70L122 67M150 54L145 62M145 62L137 57M145 62L145 70M134 72L144 70M144 76L144 70M160 81L155 82M160 81L162 84M103 8L100 4M91 9L92 7M84 -5L81 6M67 -1L65 -6M256 34L258 41M225 35L225 35M229 47L231 46M171 72L172 81M183 81L178 84M171 93L175 85M175 98L171 93M205 67L205 67M194 63L196 67M44 28L49 36M65 36L63 39M49 107L48 114M61 95L58 89M38 89L40 90M52 73L48 80M28 80L27 80M241 124L242 124M241 92L247 99M100 23L96 21M96 21L91 27M120 131L117 123M148 116L144 119M126 120L136 124M110 93L109 92M114 103L117 102M144 76L136 87M124 80L120 72M23 1L19 0M16 17L15 12M29 8L27 7M7 8L1 8M236 57L239 62M248 53L255 53M246 62L246 62M35 1L30 8M152 116L158 121M158 121L165 119M166 115L166 113M157 124L158 121M146 109L149 116M167 123L165 119M136 124L132 114M144 103L146 109M146 109L133 112M131 94L127 101M137 101L131 105M127 101L128 104M225 98L224 98M209 111L201 120" stroke="#545454" stroke-width="2.6" fill="none" stroke-linecap="round"/><path d="M220 1L217 0M223 8L215 13M212 6L215 13M23 17L30 22M30 22L29 26M16 18L16 17M18 33L21 27M13 20L11 30M13 20L16 18M164 45L174 42M168 36L176 32M180 37L177 43M217 50L216 46M206 48L216 46M174 28L168 26M161 -3L162 -5M164 45L166 54M177 45L177 43M142 -4L138 -6M132 0L133 -5M126 -6L121 0M105 -3L111 5M117 -2L111 5M147 51L150 54M163 35L156 33M156 29L156 33M161 -3L160 6M147 28L151 22M157 22L159 20M159 18L159 20M130 21L124 13M121 18L123 25M126 27L123 25M118 43L124 48M131 52L135 46M110 36L117 32M145 35L143 31M274 63L273 64M272 -1L281 7M268 7L268 9M219 71L219 74M214 69L215 61M252 -6L247 -2M247 -2L242 -2M242 -2L240 4M230 10L228 10M235 19L232 22M57 26L58 19M97 68L99 70M100 128L97 118M110 126L104 116M97 118L94 118M23 105L21 104M-5 114L-1 110M-6 97L-1 106M-1 106L6 102M10 30L1 22M-8 32L-2 32M29 26L31 30M44 28L36 32M18 33L18 33M23 43L21 36M0 56L-1 61M10 45L10 42M18 33L10 42M276 121L269 119M278 113L276 121M192 61L191 55M192 61L194 63M194 63L203 59M196 15L198 3M196 15L196 19M180 123L188 128M193 96L194 104M188 110L184 103M178 112L187 113M272 113L269 107M272 113L278 112M269 107L277 108M279 105L277 108M270 97L265 99M265 105L269 107M264 119L263 116M268 64L273 64M99 60L96 67M103 69L111 62M76 61L80 52M49 19L46 15M111 62L111 62M115 53L111 62M123 61L121 65M152 54L156 56M127 11L132 2M138 20L130 21M122 3L123 9M128 28L128 35M139 27L140 28M143 31L140 28M68 -1L72 11M68 -1L67 -1M64 9L67 11M63 19L67 11M57 19L55 11M55 11L64 9M273 56L264 53M278 38L273 28M259 16L249 13M245 13L246 13M248 20L246 26M248 20L246 13M245 28L245 28M173 62L161 65M185 55L184 62M184 62L175 67M192 96L187 88M197 94L198 88M184 81L187 86M184 81L191 79M46 65L50 62M60 72L52 73M63 44L63 39M56 63L63 54M13 58L13 60M24 59L21 62M34 57L38 57M83 104L94 106M80 109L79 111M102 116L99 104M67 124L71 127M74 104L68 105M2 93L1 94M165 -6L170 2M198 44L195 46M181 36L185 37M181 48L190 44M193 20L196 19M218 44L217 45M226 16L221 19M215 13L215 14M252 120L251 117M265 99L264 98M273 78L266 78M260 72L258 71M251 78L258 85M172 15L171 11M172 15L182 20M79 79L87 89M74 62L70 67M66 67L70 67M82 51L83 50M85 30L89 36M89 36L87 42M108 28L102 23M108 28L112 23M112 23L112 19M108 18L111 18M121 18L112 19M103 8L103 12M103 12L108 18M113 9L111 18M91 11L82 17M75 12L76 14M95 17L95 18M95 17L91 11M85 30L85 28M55 0L63 3M178 123L177 123M178 112L175 116M133 60L133 70M134 58L134 58M147 70L145 70M134 72L133 70M145 70L145 70M144 76L147 83M156 92L163 98M163 98L169 93M100 4L92 7M175 67L175 70M188 70L181 73M199 76L204 70M205 65L205 67M205 99L212 92M33 48L41 48M56 116L59 113M66 96L61 95M45 105L49 107M56 83L59 87M61 75L56 83M32 109L32 122M24 82L27 80M28 80L28 93M27 94L28 93M17 98L21 93M33 83L28 80M33 66L32 69M189 6L185 9M237 133L241 124M246 118L242 111M240 91L241 92M65 54L66 56M63 44L69 47M74 62L70 57M100 23L99 34M95 18L96 21M89 36L98 34M118 122L126 120M126 120L126 120M104 116L112 111M111 107L114 103M121 98L117 102M117 83L111 78M122 67L120 72M15 12L15 12M15 12L16 2M8 9L15 12M31 -6L23 1M8 -1L16 2M-4 2L1 8M248 42L245 36M246 32L245 36M239 47L234 55M246 51L245 49M246 62L239 62M248 53L246 62M255 65L246 62M261 56L260 56M189 6L194 1M162 98L153 100M173 105L168 107M163 98L162 98M150 97L153 100M35 -4L35 1M47 12L41 6M152 116L158 111M149 116L152 116M168 107L166 113M175 116L166 115M115 113L121 111M139 100L143 102M139 100L137 101M121 98L127 101M121 92L122 91M131 94L131 92M124 80L127 81M209 108L210 108M232 109L225 116M235 120L230 121M221 118L219 124M225 116L221 118" stroke="#6e6e6e" stroke-width="2.6" fill="none" stroke-linecap="round"/><path d="M99 60L105 59M232 -3L231 -1M232 -3L229 -6M50 125L58 123M21 27L29 26M217 59L215 61M213 55L209 62M208 -4L204 3M174 42L177 43M281 81L275 80M274 91L273 88M239 77L247 81M163 35L165 30M169 54L166 54M147 -4L142 -4M151 40L159 44M163 44L159 44M151 37L156 33M157 27L165 30M160 6L159 6M151 22L157 22M168 26L167 23M151 3L147 10M159 6L152 12M164 9L159 18M128 42L126 37M118 43L125 37M125 37L126 37M135 46L128 42M110 36L112 44M144 50L138 45M144 50L147 51M151 37L145 35M262 -0L258 -0M262 -0L268 7M202 58L203 59M230 77L226 81M238 76L230 77M224 63L222 68M224 63L217 59M214 69L219 71M258 -0L257 3M231 10L233 4M232 -3L240 -4M223 8L228 10M63 19L58 19M99 70L101 81M13 104L10 113M10 113L15 116M22 115L18 115M11 87L3 87M17 98L17 102M6 102L13 104M1 82L11 79M7 114L4 124M30 123L26 131M22 115L29 122M15 116L16 123M11 125L16 123M-7 20L-3 18M-3 18L-3 18M24 44L22 52M24 57L33 50M33 50L33 48M12 46L23 43M15 54L22 52M-6 50L0 56M1 35L5 35M4 53L0 56M15 54L13 58M274 132L267 119M194 53L191 55M181 48L183 54M196 19L198 19M205 12L198 19M188 114L180 123M187 113L188 110M263 108L263 116M263 116L252 114M252 114L252 109M274 71L274 71M82 65L82 66M105 59L111 62M99 70L103 69M94 45L94 53M87 61L88 55M80 52L82 51M57 26L48 24M48 24L49 19M124 54L115 53M106 47L111 44M166 54L160 58M125 11L123 9M133 35L128 35M128 28L139 27M268 64L261 56M261 56L264 53M265 39L259 41M268 28L270 27M264 13L264 13M260 28L268 28M259 26L258 21M236 19L245 13M246 13L246 13M232 22L232 22M234 29L245 28M173 58L173 62M192 61L188 67M173 62L175 67M181 97L182 91M197 94L193 96M187 88L187 86M60 69L60 72M60 69L58 66M58 66L56 63M46 65L45 65M45 65L45 65M94 118L92 111M97 103L94 106M87 99L84 102M80 109L74 104M78 96L74 96M35 101L36 105M50 125L45 119M104 103L106 96M68 116L76 115M68 116L67 124M76 126L77 124M87 123L77 124M-4 81L-7 81M11 79L11 75M11 75L5 69M5 69L5 68M18 72L12 75M185 37L193 32M190 44L195 46M185 28L193 32M193 32L193 32M193 32L193 20M200 31L205 32M206 38L208 39M209 23L210 27M205 32L210 27M225 35L221 37M181 97L175 98M260 126L252 120M252 114L251 117M247 81L248 87M236 89L230 89M252 109L251 109M273 88L267 85M264 98L261 90M252 100L251 99M171 11L180 7M185 28L184 20M91 87L87 89M84 91L86 90M72 73L72 78M84 91L76 88M83 50L73 41M73 38L73 41M113 9L110 6M91 9L81 6M81 6L77 9M76 36L73 25M82 17L84 20M84 20L84 26M55 0L52 2M177 123L175 116M123 61L133 60M121 65L122 67M105 82L106 90M106 90L109 92M131 52L134 58M133 60L134 58M163 72L161 65M150 91L155 82M147 83L152 80M162 85L169 93M100 4L100 -1M92 7L88 -6M260 28L256 34M245 28L246 32M259 41L258 41M171 72L175 70M163 72L171 72M188 67L188 70M184 81L183 81M191 71L193 76M191 79L193 76M201 85L199 76M201 85L206 85M219 74L216 77M218 86L216 85M216 85L212 88M212 88L212 92M58 104L56 102M56 102L54 102M54 102L49 107M48 114L56 116M66 104L58 104M44 97L52 98M52 98L54 102M58 123L56 116M59 87L58 89M45 65L42 75M37 124L33 122M13 84L19 86M29 98L27 94M27 80L19 72M32 71L32 69M27 80L27 80M247 126L242 124M241 124L235 120M242 111L236 119M239 107L240 107M240 107L247 99M242 109L240 107M233 109L236 119M65 54L69 47M66 56L70 57M70 57L76 51M76 51L71 46M99 34L98 34M98 34L98 34M85 28L91 27M149 129L151 125M158 132L157 124M117 123L118 122M110 126L117 123M144 119L141 126M121 92L117 90M55 0L57 -7M52 2L47 1M42 -7L47 1M15 12L27 7M19 0L16 2M7 8L8 -1M-4 2L6 -1M-3 18L1 8M1 -9L6 -1M237 39L236 44M258 41L258 41M234 55L236 57M217 50L228 55M235 69L235 66M246 51L236 57M246 51L248 53M258 41L255 53M194 1L183 -4M163 102L157 107M35 13L41 6M47 1L41 6M29 8L30 8M36 17L35 13M117 102L123 107M146 109L146 109M133 113L133 112M131 80L127 81M136 87L135 87M134 72L131 80M205 99L207 107M207 107L200 108M209 108L207 107M236 101L226 100M232 109L226 101M226 101L222 110M225 116L225 116M212 115L221 118M211 123L209 125M199 128L196 121M200 120L201 120" stroke="#888888" stroke-width="2.6" fill="none" stroke-linecap="round"/><path d="M95 54L105 47M220 1L223 5M223 5L223 8M215 54L213 55M211 -7L217 0M174 42L168 36M275 80L273 88M238 76L239 77M164 36L163 35M132 0L122 3M116 -3L117 -2M121 0L117 -2M151 40L147 51M150 -0L151 3M157 27L157 22M147 28L156 29M152 12L147 10M144 12L143 15M131 52L125 53M138 45L138 43M147 28L143 31M267 -3L260 -11M278 10L268 9M205 65L203 59M227 71L222 68M226 81L219 74M235 69L227 71M257 3L249 5M231 10L242 9M233 4L240 4M230 10L235 19M57 26L58 29M91 73L94 83M94 118L87 122M88 129L87 123M2 125L4 124M21 104L18 115M22 115L27 108M27 108L23 105M17 98L9 93M6 102L5 95M3 87L1 82M13 84L11 79M30 123L29 122M-3 18L0 20M30 45L33 48M31 30L29 32M36 37L31 44M18 33L21 36M260 126L264 119M202 58L194 53M169 54L173 58M204 3L205 12M198 19L198 19M188 128L194 121M192 96L193 96M192 96L183 99M188 110L194 104M183 99L184 103M274 71L273 78M98 42L94 45M82 65L76 61M82 51L88 55M36 17L46 15M160 62L160 58M138 20L139 18M117 32L119 28M138 20L139 27M67 -1L63 3M276 42L267 32M281 54L275 53M273 44L275 53M265 50L259 41M281 25L273 28M268 9L264 13M268 28L267 32M264 13L258 6M260 28L259 26M258 21L259 16M235 19L236 19M249 13L246 13M160 62L161 65M181 97L183 99M50 62L56 63M63 54L57 50M46 51L49 54M34 57L32 60M34 57L33 50M24 57L24 59M32 60L24 59M81 108L83 104M81 108L92 111M92 111L94 106M80 109L81 108M96 101L97 103M78 96L84 102M44 97L45 105M37 124L45 119M104 103L99 104M66 113L68 116M-2 81L-4 81M13 60L12 61M164 9L168 9M194 33L198 44M185 28L181 36M200 43L198 44M217 45L208 39M212 27L210 27M198 19L209 23M223 25L232 22M252 120L247 126M226 81L226 84M226 84L230 89M251 109L252 100M258 85L258 87M261 90L258 87M248 87L252 88M252 88L258 87M252 88L251 99M167 23L172 15M168 9L171 11M174 28L182 20M83 76L92 85M92 85L91 87M97 93L91 87M78 96L84 91M67 86L71 93M82 66L72 73M66 96L71 93M76 36L85 30M76 36L75 37M123 9L113 9M73 -2L68 -1M82 17L76 14M76 14L72 24M63 31L65 36M85 28L84 26M166 130L167 123M187 113L188 114M97 93L106 90M144 50L137 57M160 74L150 72M160 74L163 72M149 68L147 70M145 89L150 91M160 74L160 81M156 92L162 85M73 -2L77 -5M234 29L232 34M175 70L181 73M175 85L178 84M171 93L169 93M191 71L196 67M193 76L199 76M204 70L205 67M201 85L198 88M214 69L205 67M216 77L216 85M58 48L57 50M52 39L51 39M58 29L50 36M45 119L47 116M51 92L44 88M52 98L51 92M41 76L42 75M67 86L59 87M47 116L40 112M12 75L24 82M38 89L28 93M32 69L22 67M185 9L181 7M251 117L246 118M251 99L247 99M63 54L65 54M98 42L98 34M118 122L115 113M112 111L111 107M121 98L121 92M120 72L111 77M105 82L111 78M2 19L8 9M19 -7L19 0M10 -7L8 -1M6 -1L8 -1M8 9L7 8M248 42L245 49M239 47L236 44M258 41L248 42M232 34L237 39M228 55L226 62M226 62L235 66M235 66L239 62M258 71L255 65M155 105L157 107M35 1L41 6M123 107L121 111M144 119L133 113M150 97L144 103M140 89L139 100M128 104L131 105M123 107L128 104M122 91L131 92M135 87L131 80M194 104L200 108M210 108L221 98M218 86L224 98M226 100L225 98M226 100L226 101M210 108L222 110M230 121L228 131M212 115L211 123M220 127L219 124M196 121L200 120" stroke="#a2a2a2" stroke-width="2.6" fill="none" stroke-linecap="round"/><path d="M217 0L212 6M176 32L180 37M279 105L277 101M238 76L245 70M177 45L169 54M116 -3L119 -9M159 44L152 54M157 27L156 29M151 3L159 6M167 23L159 20M147 10L144 12M124 13L121 18M258 -0L255 -6M272 -1L272 -4M209 62L205 65M101 81L94 83M104 116L102 116M11 125L4 124M-1 106L-1 107M29 122L16 123M1 22L0 20M-8 7L-3 18M24 57L22 52M30 22L36 18M-3 43L6 48M-3 43L1 35M6 48L10 45M173 58L183 54M204 3L198 3M176 133L178 123M178 123L180 123M194 121L191 116M96 67L87 61M105 47L106 47M58 19L57 19M127 11L129 12M139 18L129 12M139 6L138 6M126 37L128 35M126 27L128 28M278 38L276 42M265 39L267 32M273 44L273 44M265 50L264 53M278 10L277 15M236 19L245 28M242 9L245 13M258 21L248 20M182 91L187 88M46 65L52 73M63 39L52 39M45 65L33 66M96 101L87 99M84 102L83 104M45 105L36 105M39 129L37 124M76 115L77 124M1 94L-4 81M-2 81L1 82M-2 81L5 69M11 75L12 75M179 -6L175 1M185 37L190 44M215 33L212 27M239 77L236 89M263 77L266 78M258 71L252 74M182 20L184 20M97 98L97 93M72 78L76 79M71 93L71 93M72 73L70 67M61 75L70 79M66 67L65 60M83 50L85 43M87 42L85 43M111 5L110 6M102 23L108 18M65 36L73 38M46 15L47 12M55 11L52 9M167 123L177 123M155 82L152 80M225 35L232 34M181 73L183 81M172 81L175 85M182 91L178 84M196 67L205 67M206 85L209 78M206 85L212 88M41 39L49 36M36 37L41 39M46 51L45 49M58 104L59 113M66 113L59 113M56 83L48 80M27 108L32 109M30 123L32 122M24 82L19 86M21 93L27 94M27 80L32 71M22 67L19 72M18 72L19 72M196 15L189 6M185 19L185 9M180 7L181 7M242 109L251 109M235 120L236 119M65 60L66 56M73 41L71 46M151 125L148 116M136 124L138 127M140 89L136 87M124 80L117 83M117 90L117 83M-5 2L-4 2M245 49L239 47M231 46L236 44M228 55L229 55M224 63L226 62M245 70L246 62M260 56L255 53M198 3L194 1M181 7L183 -4M153 100L155 105M35 13L30 8M41 6L41 6M165 119L166 115M126 120L129 116M129 116L132 114M143 102L133 111M131 94L137 101M191 116L200 109M230 89L225 98M222 110L225 116M225 116L230 121M209 108L209 111M200 109L200 120" stroke="#bbbbbb" stroke-width="2.6" fill="none" stroke-linecap="round"/><path d="M99 60L95 54M163 44L164 36M217 50L215 54M205 55L206 48M274 91L270 97M245 70L252 74M150 -0L147 -4M151 40L151 37M125 53L124 48M274 71L273 64M282 62L274 63M262 -0L267 -3M205 55L202 58M227 71L230 77M3 87L2 93M16 123L16 123M11 30L10 30M31 30L36 32M-5 62L-1 61M-6 45L-3 43M4 53L6 48M4 53L13 58M263 108L252 109M260 72L261 73M95 54L94 53M111 76L113 63M-5 2L-3 -5M149 68L156 56M156 56L160 58M67 11L72 11M283 48L275 44M277 15L269 20M269 20L270 27M188 67L184 62M198 88L195 86M63 44L58 48M38 57L45 65M74 104L74 96M79 111L76 115M168 9L170 2M194 33L193 32M206 48L200 43M222 24L221 19M221 19L215 14M225 35L223 25M177 109L173 105M185 19L184 20M85 73L83 76M87 99L86 90M76 79L76 88M68 105L66 104M76 61L74 62M61 75L60 72M75 37L73 38M137 57L134 58M134 58L145 70M150 92L150 91M246 32L256 34M162 84L172 81M226 84L218 86M41 48L45 49M45 49L51 39M51 39L50 36M61 95L56 102M51 92L58 89M48 81L48 80M38 89L33 83M42 75L48 81M40 112L33 122M36 105L35 107M21 62L22 67M242 124L246 118M239 107L236 101M236 101L241 92M104 103L111 107M117 90L110 93M229 55L234 55M260 56L255 65M162 98L163 102M157 107L158 111M133 112L133 111M131 92L135 87M200 108L200 109" stroke="#d5d5d5" stroke-width="2.6" fill="none" stroke-linecap="round"/><path d="M231 -1L223 5M23 17L16 17M18 33L11 30M285 97L277 101M277 101L270 97M252 74L251 78M235 69L238 76M58 29L63 31M91 73L97 68M21 104L17 102M24 44L30 45M-2 32L1 35M10 30L5 35M184 103L177 109M96 67L97 68M87 61L82 65M85 73L82 66M57 19L49 19M273 28L270 27M58 48L52 39M50 62L49 54M38 57L46 51M87 122L79 111M40 94L35 101M66 113L68 105M-7 74L5 68M12 61L18 72M221 37L218 44M240 91L236 89M263 77L258 85M267 85L261 90M87 89L86 90M70 79L72 78M60 69L66 67M58 66L65 60M85 43L75 37M94 45L87 42M77 9L75 12M52 9L47 12M106 96L109 92M145 89L147 83M104 -3L100 -1M218 44L229 47M225 35L231 46M209 78L204 70M216 77L209 78M41 48L41 39M49 36L50 36M44 88L48 81M40 90L40 94M19 86L21 93M41 76L32 71M102 23L100 23M151 125L157 124M115 113L112 111M110 93L114 103M111 77L111 78M8 -1L8 -1M229 47L229 55M121 111L129 116M144 103L143 102M233 109L232 109M209 111L212 115" stroke="#efefef" stroke-width="2.6" fill="none" stroke-linecap="round"/><path d="M236 7h0M54 22h0M109 21h0M160 31h0M77 48h0M240 52h0M75 57h0M188 60h0M214 58h0M62 65h0M156 61h0M191 66h0M209 65h0M0 86h0M183 85h0M6 91h0M84 96h0M49 102h0M100 101h0M136 104h0M22 109h0M88 108h0M274 110h0M133 127h0" stroke="#1c1c1c" stroke-width="4.2" stroke-linecap="round" fill="none"/><path d="M-1 -2h0M15 -3h0M112 -2h0M136 -0h0M156 2h0M210 -0h0M227 -2h0M236 -0h0M268 -0h0M-4 8h0M4 3h0M19 6h0M47 6h0M67 5h0M105 2h0M127 6h0M132 8h0M152 8h0M210 10h0M219 5h0M228 7h0M244 6h0M251 9h0M2 14h0M22 12h0M89 16h0M130 15h0M159 10h0M230 16h0M258 12h0M6 24h0M61 25h0M89 23h0M153 25h0M162 25h0M226 21h0M253 24h0M12 34h0M24 31h0M32 35h0M113 30h0M150 32h0M187 33h0M209 33h0M15 41h0M26 41h0M59 42h0M68 41h0M124 42h0M132 41h0M167 41h0M175 38h0M216 39h0M252 38h0M266 44h0M272 41h0M69 52h0M212 51h0M260 49h0M271 50h0M30 57h0M62 59h0M140 62h0M196 58h0M206 59h0M233 59h0M18 65h0M28 64h0M21 77h0M89 78h0M147 74h0M234 74h0M8 84h0M15 80h0M32 86h0M121 86h0M142 85h0M150 85h0M189 83h0M252 84h0M271 82h0M77 93h0M103 94h0M125 95h0M156 96h0M217 91h0M61 100h0M90 102h0M123 102h0M131 101h0M149 104h0M158 102h0M241 101h0M35 114h0M63 108h0M140 108h0M143 113h0M183 109h0M204 112h0M226 111h0M239 110h0M258 112h0M11 120h0M40 118h0M81 119h0M104 122h0M130 119h0M138 121h0M152 119h0M170 119h0M181 118h0M188 121h0M196 117h0M208 119h0M232 116h0M247 121h0M275 115h0M22 125h0M154 129h0M214 126h0M254 127h0M273 123h0" stroke="#1c1c1c" stroke-width="5.2" stroke-linecap="round" fill="none"/><path d="M30 1h0M48 -4h0M70 -4h0M79 -0h0M127 -3h0M172 -5h0M180 -0h0M217 -4h0M253 -1h0M261 -4h0M37 7h0M73 6h0M87 2h0M96 10h0M164 1h0M173 6h0M186 4h0M194 5h0M275 7h0M12 15h0M41 13h0M51 14h0M61 15h0M108 12h0M139 11h0M151 16h0M191 15h0M199 13h0M221 13h0M236 13h0M43 21h0M78 21h0M97 29h0M117 23h0M125 21h0M132 25h0M173 22h0M188 24h0M195 26h0M203 25h0M235 23h0M275 23h0M3 31h0M42 33h0M51 30h0M80 29h0M90 31h0M103 28h0M124 31h0M133 31h0M140 35h0M180 29h0M200 37h0M262 35h0M36 44h0M46 41h0M78 42h0M83 37h0M94 39h0M117 39h0M158 38h0M225 41h0M232 39h0M10 50h0M19 48h0M62 50h0M99 48h0M129 48h0M152 49h0M160 51h0M188 51h0M200 49h0M222 49h0M233 49h0M278 49h0M19 57h0M38 62h0M46 59h0M83 58h0M101 55h0M129 57h0M144 55h0M149 62h0M166 59h0M244 58h0M253 58h0M269 60h0M277 58h0M-2 67h0M37 70h0M69 61h0M76 66h0M89 68h0M102 65h0M110 66h0M156 69h0M170 68h0M200 64h0M219 65h0M228 67h0M240 68h0M268 69h0M5 77h0M26 71h0M31 78h0M67 72h0M96 75h0M106 76h0M117 78h0M127 74h0M155 78h0M177 78h0M187 76h0M199 71h0M224 74h0M267 76h0M41 83h0M63 82h0M72 85h0M81 86h0M86 83h0M129 86h0M156 87h0M168 87h0M196 82h0M212 83h0M220 81h0M262 84h0M278 86h0M-4 88h0M15 90h0M45 93h0M55 96h0M64 91h0M116 96h0M135 93h0M145 95h0M162 92h0M177 91h0M185 94h0M277 95h0M0 98h0M11 99h0M22 99h0M31 105h0M40 101h0M70 99h0M79 103h0M109 99h0M179 102h0M232 105h0M247 104h0M272 103h0M43 109h0M73 111h0M105 109h0M116 108h0M129 110h0M153 111h0M162 108h0M172 111h0M192 111h0M248 112h0M267 113h0M20 118h0M50 119h0M113 118h0M122 116h0M216 120h0M240 119h0M257 119h0M94 125h0M146 124h0M203 124h0" stroke="#1c1c1c" stroke-width="6.2" stroke-linecap="round" fill="none"/><path d="M23 -6h0M40 -1h0M61 -3h0M94 -1h0M153 -5h0M278 -2h0M10 5h0M57 6h0M117 4h0M146 3h0M263 6h0M70 17h0M82 11h0M100 19h0M118 14h0M165 15h0M180 13h0M206 17h0M252 17h0M271 13h0M16 25h0M23 21h0M142 24h0M214 21h0M245 20h0M263 21h0M57 36h0M71 32h0M168 32h0M219 30h0M228 30h0M240 32h0M252 29h0M272 33h0M5 41h0M182 41h0M193 39h0M209 43h0M242 43h0M-1 49h0M28 49h0M39 52h0M51 47h0M88 48h0M118 48h0M136 51h0M171 47h0M176 52h0M250 48h0M55 57h0M118 59h0M179 60h0M221 57h0M10 69h0M55 67h0M116 70h0M126 65h0M137 67h0M182 68h0M250 68h0M260 64h0M279 66h0M-3 77h0M46 72h0M55 77h0M78 75h0M165 77h0M204 79h0M212 72h0M244 76h0M258 76h0M278 76h0M52 86h0M98 86h0M25 87h0M34 94h0M92 94h0M193 91h0M225 91h0M246 93h0M256 94h0M189 101h0M199 101h0M222 102h0M5 108h0M16 109h0M96 111h0M215 112h0M29 117h0M62 119h0M72 122h0M86 113h0M161 116h0M44 127h0M124 126h0M162 126h0M173 127h0M224 122h0M233 127h0" stroke="#1c1c1c" stroke-width="7.2" stroke-linecap="round" fill="none"/><path d="M200 -2h0M31 15h0M-4 24h0M34 26h0M105 40h0M145 43h0M109 53h0M7 59h0M93 58h0M137 79h0M111 87h0M232 82h0M242 85h0M204 90h0M233 94h0M268 93h0M168 99h0M211 102h0M259 104h0M54 108h0M-1 119h0M266 127h0" stroke="#1c1c1c" stroke-width="8.2" stroke-linecap="round" fill="none"/><circle cx="252" cy="114" r="2.1" fill="#b4b4b4"/><circle cx="160" cy="81" r="1.6" fill="#acacac"/><circle cx="223" cy="8" r="1.6" fill="#c9c9c9"/><circle cx="115" cy="53" r="1.7" fill="#8c8c8c"/><circle cx="10" cy="45" r="1.4" fill="#aaaaaa"/><circle cx="209" cy="111" r="1.8" fill="#cccccc"/><circle cx="144" cy="76" r="1.8" fill="#a7a7a7"/><circle cx="192" cy="96" r="1.7" fill="#a2a2a2"/><circle cx="273" cy="44" r="2.0" fill="#dedede"/><circle cx="58" cy="19" r="2.1" fill="#d2d2d2"/><circle cx="113" cy="9" r="2.0" fill="#9c9c9c"/><circle cx="212" cy="92" r="1.4" fill="#a2a2a2"/><circle cx="9" cy="93" r="2.2" fill="#cacaca"/><circle cx="31" cy="30" r="1.7" fill="#dfdfdf"/><circle cx="103" cy="8" r="1.8" fill="#8b8b8b"/><circle cx="147" cy="70" r="2.3" fill="#b8b8b8"/><circle cx="100" cy="23" r="2.1" fill="#8d8d8d"/><circle cx="96" cy="101" r="1.4" fill="#b6b6b6"/><circle cx="40" cy="90" r="2.1" fill="#b1b1b1"/><circle cx="261" cy="73" r="1.6" fill="#afafaf"/><circle cx="150" cy="92" r="1.6" fill="#cbcbcb"/><circle cx="72" cy="73" r="1.4" fill="#c1c1c1"/><circle cx="112" cy="44" r="2.0" fill="#909090"/><circle cx="106" cy="47" r="2.2" fill="#969696"/><circle cx="225" cy="35" r="2.3" fill="#cecece"/><circle cx="180" cy="37" r="2.3" fill="#aaaaaa"/><circle cx="58" cy="104" r="1.5" fill="#bcbcbc"/><circle cx="196" cy="67" r="2.3" fill="#dcdcdc"/><circle cx="181" cy="97" r="1.7" fill="#d5d5d5"/><circle cx="21" cy="62" r="1.8" fill="#e2e2e2"/><circle cx="172" cy="15" r="2.4" fill="#c6c6c6"/><circle cx="117" cy="83" r="2.0" fill="#a1a1a1"/><circle cx="196" cy="67" r="1.3" fill="#c6c6c6"/><circle cx="150" cy="92" r="1.6" fill="#bababa"/><circle cx="73" cy="38" r="2.2" fill="#dcdcdc"/><circle cx="204" cy="3" r="2.3" fill="#b2b2b2"/><circle cx="46" cy="51" r="2.2" fill="#f1f1f1"/><circle cx="95" cy="18" r="2.3" fill="#929292"/><circle cx="38" cy="89" r="1.4" fill="#cfcfcf"/><circle cx="45" cy="105" r="1.6" fill="#c5c5c5"/><circle cx="258" cy="71" r="1.5" fill="#a5a5a5"/><circle cx="242" cy="109" r="2.1" fill="#cfcfcf"/><circle cx="188" cy="114" r="1.4" fill="#b0b0b0"/><circle cx="138" cy="43" r="1.7" fill="#c3c3c3"/><circle cx="200" cy="31" r="2.2" fill="#969696"/><circle cx="239" cy="47" r="2.3" fill="#9e9e9e"/><circle cx="75" cy="12" r="2.1" fill="#999999"/><circle cx="188" cy="114" r="2.2" fill="#b7b7b7"/><circle cx="82" cy="66" r="1.8" fill="#b0b0b0"/><circle cx="135" cy="87" r="2.0" fill="#bebebe"/><circle cx="212" cy="6" r="2.2" fill="#c0c0c0"/><circle cx="63" cy="54" r="1.9" fill="#c3c3c3"/><circle cx="110" cy="36" r="2.2" fill="#939393"/><circle cx="251" cy="78" r="1.7" fill="#c1c1c1"/><circle cx="91" cy="9" r="1.4" fill="#bdbdbd"/><circle cx="231" cy="46" r="1.7" fill="#b6b6b6"/><circle cx="126" cy="27" r="1.7" fill="#b6b6b6"/><circle cx="48" cy="114" r="1.4" fill="#e0e0e0"/><circle cx="200" cy="31" r="1.3" fill="#d8d8d8"/><circle cx="95" cy="18" r="1.4" fill="#c6c6c6"/><circle cx="17" cy="98" r="1.9" fill="#bdbdbd"/><circle cx="73" cy="38" r="1.9" fill="#cecece"/><circle cx="151" cy="3" r="1.8" fill="#c6c6c6"/><circle cx="245" cy="28" r="1.3" fill="#c0c0c0"/><circle cx="258" cy="6" r="1.6" fill="#979797"/><circle cx="76" cy="61" r="1.4" fill="#b5b5b5"/><circle cx="104" cy="103" r="1.4" fill="#b7b7b7"/><circle cx="100" cy="23" r="1.6" fill="#b4b4b4"/><circle cx="163" cy="98" r="1.3" fill="#9f9f9f"/><circle cx="239" cy="47" r="1.6" fill="#dcdcdc"/><circle cx="193" cy="32" r="2.1" fill="#b3b3b3"/><circle cx="44" cy="28" r="1.5" fill="#b4b4b4"/><circle cx="17" cy="102" r="2.1" fill="#c4c4c4"/><circle cx="27" cy="80" r="2.1" fill="#c9c9c9"/><circle cx="194" cy="33" r="2.4" fill="#b6b6b6"/><circle cx="99" cy="34" r="2.3" fill="#979797"/><circle cx="94" cy="45" r="1.9" fill="#8e8e8e"/><circle cx="152" cy="12" r="2.0" fill="#a5a5a5"/><circle cx="239" cy="77" r="1.8" fill="#d6d6d6"/><circle cx="23" cy="17" r="1.9" fill="#a1a1a1"/><circle cx="238" cy="76" r="1.5" fill="#d5d5d5"/><circle cx="139" cy="18" r="2.4" fill="#a7a7a7"/><circle cx="121" cy="92" r="1.7" fill="#bdbdbd"/><circle cx="47" cy="116" r="1.9" fill="#d0d0d0"/><circle cx="117" cy="83" r="1.6" fill="#929292"/><circle cx="18" cy="33" r="2.3" fill="#acacac"/><circle cx="264" cy="119" r="2.3" fill="#bcbcbc"/><circle cx="74" cy="62" r="2.3" fill="#b2b2b2"/><circle cx="24" cy="57" r="1.5" fill="#afafaf"/><circle cx="245" cy="13" r="1.9" fill="#aeaeae"/><circle cx="87" cy="61" r="1.5" fill="#a7a7a7"/><circle cx="144" cy="103" r="2.0" fill="#b4b4b4"/><circle cx="170" cy="2" r="1.5" fill="#ababab"/><circle cx="51" cy="92" r="1.6" fill="#d9d9d9"/><circle cx="60" cy="69" r="2.2" fill="#cbcbcb"/><circle cx="82" cy="66" r="2.0" fill="#cdcdcd"/><circle cx="223" cy="25" r="1.4" fill="#d2d2d2"/></g><polygon points="259.5,0.0 273.6,0.0 273.6,120.8 265.5,120.8 263.0,90.0 261.0,50.0" fill="#000"/><polygon points="0.0,0.0 2.0,0.0 4.5,120.8 0.0,120.8" fill="#000"/>
</svg>
<svg x="47.3" y="351" width="273.3" height="120.8" viewBox="0 0 273.3 120.8" overflow="hidden">
<defs><filter id="nze" x="0" y="0" width="100%" height="100%" color-interpolation-filters="sRGB"><feTurbulence type="fractalNoise" baseFrequency="0.12" numOctaves="2" seed="12"/><feColorMatrix type="matrix" values="0.28 0 0 0 0.0 0.28 0 0 0 0.0 0.28 0 0 0 0.0 0 0 0 0 1"/></filter><filter id="ble" x="0" y="0" width="100%" height="100%" color-interpolation-filters="sRGB"><feTurbulence type="fractalNoise" baseFrequency="0.08" numOctaves="2" seed="62"/><feColorMatrix type="matrix" values="1.8 0 0 0 0.05 1.8 0 0 0 0.05 1.8 0 0 0 0.05 0 0 0 0 1" result="m"/><feComposite in="SourceGraphic" in2="m" operator="arithmetic" k1="1" k2="0" k3="0" k4="0"/><feGaussianBlur stdDeviation="1.7"/></filter></defs><g filter="url(#ble)"><rect width="273.3" height="120.8" filter="url(#nze)"/><path d="M276 111L274 111M260 55L265 50M252 47L260 43M272 39L277 39M253 54L248 57M254 68L262 71M262 79L262 79M267 122L269 123M47 27L40 26M160 77L161 77M243 53L242 48M243 65L247 62M243 65L239 61M262 79L267 78M265 65L265 65M251 86L250 90M-4 86L-3 87M131 45L133 49M145 48L133 44M178 115L169 110M169 110L168 106M127 99L128 97M128 97L137 98M159 106L168 106M117 90L118 89M104 85L112 78M210 123L215 119M232 130L229 120M207 122L210 123M35 62L38 59M50 38L50 41M36 52L38 47M160 77L155 81M155 81L148 73M75 -1L69 2M64 17L68 21M66 29L69 27M64 17L67 10M56 37L50 38M102 6L109 9M109 9L112 1M84 -2L86 -2M92 5L86 -2M260 43L252 35M180 62L184 54M184 54L172 53M181 73L176 69M181 73L184 73M166 63L176 63M142 29L144 31M155 -5L152 -2M272 86L271 92M271 92L275 97M255 105L263 107M264 99L259 94M229 92L231 96M6 99L2 94M88 118L88 118M107 122L110 125M99 117L106 116M76 124L74 124M202 113L211 110M170 91L171 96M166 122L163 124M149 113L150 108M149 113L144 115M137 107L138 107M127 112L134 119M142 93L140 95M154 84L143 82M128 97L125 89M139 95L133 87M110 73L108 72M101 61L99 64M119 58L116 54M102 75L96 69M54 121L61 129M45 121L37 125M253 105L251 116M251 116L249 116M41 57L47 61M13 5L22 1M21 16L22 13M38 8L36 9M58 2L55 1M55 14L54 12M57 -11L55 1M60 -12L64 -3M117 21L120 26M99 55L102 47M102 47L104 47M109 36L108 35M125 29L120 26M126 14L126 12M126 56L119 58M126 56L129 47M118 49L129 47M130 3L135 -2M237 -3L238 6M238 6L245 1M246 24L244 36M197 77L205 80M202 66L203 66M185 52L184 54M172 53L171 53M181 26L187 28M152 29L153 25M162 9L161 8M6 65L2 63M12 58L13 63M-4 119L2 124M22 121L22 120M73 113L74 107M80 108L74 107M101 97L102 97M98 107L101 97M98 107L97 108M89 94L87 95M179 81L176 83M105 98L117 99M117 90L117 99M105 98L110 107M22 119L22 120M22 119L29 113M29 113L34 116M219 2L223 1M227 16L228 12M239 7L234 11M232 23L228 30M5 14L1 5M1 -10L5 1M21 16L14 19M-7 45L-3 48M-3 33L-2 35M17 31L16 34M84 34L83 31M83 31L78 30M89 42L84 34M83 31L87 28M137 10L138 12M130 5L126 12M142 3L144 3M117 45L124 36M118 49L117 45M130 45L124 36M104 47L110 39M135 42L133 44M196 51L188 53M196 51L199 53M180 10L182 7M202 0L194 -0M180 10L174 12M153 33L147 40M167 30L166 32M148 41L157 43M165 54L162 45M153 54L154 56M69 105L67 101M51 121L48 106M71 94L67 101M83 66L83 67M58 83L64 81M217 104L220 96M151 61L143 62M116 67L123 72M215 21L209 30M228 47L225 43M221 42L225 43M190 24L198 29M203 26L198 29M198 29L196 32M230 37L237 40M225 43L230 37M246 24L242 22M72 61L72 60M72 61L80 69M81 21L87 11M78 21L81 21M92 5L89 11M167 29L170 21M170 21L162 17M-3 118L-0 114M81 95L75 87M87 84L87 80M179 97L183 95M176 86L182 93M129 76L136 72M136 72L136 62M123 72L126 72M119 61L129 65M141 61L136 62M46 96L41 94M43 116L46 107M29 113L28 110M212 33L208 40M65 52L66 46M68 63L72 61M242 22L247 13M11 117L7 111M7 111L10 106M22 119L17 111" stroke="#595959" stroke-width="2.6" fill="none" stroke-linecap="round"/><path d="M252 47L253 54M272 39L265 47M266 32L262 43M278 45L265 47M254 66L247 62M230 112L231 105M273 102L275 97M264 108L263 117M43 15L37 22M171 79L174 71M153 69L160 77M153 65L163 66M248 57L243 53M242 48L248 45M238 84L240 82M-3 87L3 91M-4 70L-3 68M88 118L92 122M141 54L133 49M136 30L138 39M176 123L173 125M133 108L137 107M118 89L116 81M104 86L103 87M104 85L100 79M92 86L98 79M230 89L220 79M229 79L221 78M226 69L221 78M275 97L275 97M275 97L285 84M221 107L221 107M190 124L190 122M193 117L193 117M178 115L176 123M181 111L192 115M192 115L193 117M32 62L30 53M38 47L30 43M30 53L26 48M32 20L28 23M155 89L154 84M166 79L164 90M164 90L162 91M190 66L192 68M184 73L187 76M60 28L66 29M52 23L57 26M67 10L70 9M86 -2L93 -7M92 5L93 4M93 4L101 4M103 -5L104 -3M237 57L235 57M235 57L230 59M226 69L222 62M214 66L213 63M176 63L176 63M176 69L176 63M187 65L180 62M166 63L163 66M143 -7L144 3M143 -7L152 -2M144 3L150 5M265 65L271 60M272 86L284 82M272 86L269 79M247 104L251 90M263 107L263 107M262 79L251 86M262 79L262 79M3 91L2 94M2 94L-2 97M6 74L4 72M31 125L22 121M88 118L89 107M88 118L97 113M97 108L97 113M82 115L88 118M97 121L96 122M96 122L100 131M106 116L107 122M74 124L71 131M164 90L170 91M183 107L187 104M191 107L187 104M165 118L166 122M152 123L154 117M154 117L156 116M159 106L156 116M169 110L165 118M151 125L152 123M149 113L154 117M121 110L127 103M121 110L122 112M122 112L127 112M114 121L121 120M151 125L145 124M139 112L134 119M155 89L153 91M143 82L142 93M125 89L128 87M133 87L128 87M114 68L110 73M116 67L114 68M100 79L102 75M97 65L90 61M99 55L91 53M90 61L89 58M21 52L23 61M74 124L67 122M50 122L51 121M220 79L217 81M61 57L54 50M57 65L51 60M31 -3L29 -7M22 13L25 4M25 4L36 9M39 7L38 -2M38 -2L31 -3M-12 29L-3 33M6 30L9 29M6 30L3 20M9 29L12 20M54 12L50 11M55 1L51 -0M43 12L50 11M64 -2L69 2M39 -4L35 -15M73 -8L64 -3M116 20L107 24M90 45L99 45M90 45L91 53M102 47L99 45M130 27L132 20M116 20L113 13M119 9L126 12M126 56L133 59M142 3L135 -2M274 -7L285 -3M273 -7L276 2M277 28L279 28M245 1L242 -6M237 -3L241 -6M255 29L252 35M255 29L252 26M224 59L216 51M227 58L226 52M208 77L203 66M151 61L154 56M151 61L153 65M184 51L177 47M163 57L165 54M181 26L180 23M190 24L192 18M192 18L186 17M180 23L186 17M187 28L189 34M189 34L187 38M187 38L180 37M177 47L176 41M152 21L153 25M161 8L159 -5M275 68L278 72M4 72L6 65M-8 58L1 56M14 51L21 52M15 65L13 63M12 122L22 120M67 122L65 118M80 108L88 106M103 87L102 97M101 97L89 94M88 106L87 95M204 84L211 91M229 92L221 92M202 113L200 104M215 104L213 102M202 103L200 104M210 94L205 94M181 73L179 81M131 124L134 123M134 119L134 123M145 124L139 126M104 97L105 98M102 97L104 97M110 107L116 107M113 116L117 109M117 109L116 107M106 110L106 115M98 107L106 110M114 121L113 116M143 82L142 80M9 74L11 84M15 70L19 73M15 65L15 70M22 90L21 82M31 91L23 91M59 91L52 92M228 6L232 -4M234 11L229 11M228 12L229 11M220 25L222 29M56 37L58 38M58 38L68 39M8 2L5 1M1 36L4 47M-3 48L1 49M6 30L4 35M19 29L19 29M25 43L25 41M28 44L25 43M78 30L75 38M90 45L89 44M100 34L96 32M95 32L96 32M139 17L151 7M139 17L138 17M153 8L151 20M145 20L139 17M132 20L138 17M124 34L124 36M130 3L125 1M109 9L110 12M112 1L113 1M196 42L188 39M211 62L203 52M203 52L199 53M218 7L208 3M194 10L194 17M173 19L174 12M171 -0L170 9M171 -0L166 -4M162 9L163 9M163 9L170 9M145 39L147 40M166 32L168 38M165 43L162 45M176 41L168 38M153 33L157 35M270 54L278 53M-4 104L-5 105M61 109L69 105M59 91L62 93M61 115L61 109M77 99L71 94M98 79L92 74M96 69L92 74M92 74L83 67M64 81L70 88M231 97L227 99M141 54L141 61M143 62L141 61M116 81L118 80M43 116L36 115M205 10L206 18M206 7L216 13M213 18L216 13M199 9L205 10M203 20L194 17M203 20L206 18M219 10L216 13M216 51L214 46M214 46L208 45M203 26L205 29M228 31L238 32M241 23L238 32M237 46L237 40M83 66L79 59M79 59L72 60M89 44L86 45M86 45L83 44M86 45L82 55M87 24L94 17M79 8L87 11M107 24L99 23M107 24L106 15M107 24L107 24M94 17L96 17M251 3L251 5M239 7L247 10M279 18L273 14M276 2L271 9M273 13L271 9M171 -0L173 -1M167 30L167 29M-5 105L0 113M92 74L87 80M197 77L195 78M195 78L189 79M179 81L188 81M189 79L188 81M192 95L186 97M188 85L182 93M188 81L188 85M126 72L129 65M129 65L135 62M133 59L135 62M31 91L35 97M24 107L28 110M197 41L199 37M208 45L208 44M196 42L197 41M196 32L199 37M66 46L68 44M62 61L68 63M61 57L65 52M254 13L247 11M262 29L266 30M256 18L261 18M255 29L262 29M13 106L10 106M0 113L7 111M11 121L11 117M66 74L67 78M80 69L78 73M68 63L69 71M75 86L75 81" stroke="#737373" stroke-width="2.6" fill="none" stroke-linecap="round"/><path d="M263 107L273 102M260 62L260 55M254 68L252 74M262 79L262 71M230 112L227 114M231 105L221 107M40 26L34 34M161 77L164 70M153 69L153 65M164 70L163 66M262 71L265 65M267 78L270 70M277 38L277 39M251 75L241 69M241 69L238 71M240 82L247 82M241 94L250 90M247 82L251 86M-5 74L1 80M1 80L-4 86M22 90L12 92M1 80L3 80M89 129L92 122M145 49L145 48M138 39L135 42M184 126L176 123M178 115L178 114M127 103L127 99M159 106L156 104M156 104L155 103M98 79L100 79M234 84L230 89M220 79L221 78M221 78L221 78M223 121L218 118M227 114L227 119M227 119L229 120M230 112L238 114M196 130L190 124M202 125L193 117M188 125L190 124M202 114L193 117M36 52L38 59M36 52L30 53M48 35L50 38M26 48L28 44M28 44L30 43M34 34L34 34M42 45L41 47M155 89L162 91M154 84L155 81M187 65L184 73M187 76L192 68M79 7L84 -2M81 -6L84 -2M75 11L79 8M68 21L69 27M60 28L57 26M52 23L55 14M55 14L64 17M75 16L68 21M49 24L52 23M101 4L104 -3M248 45L248 37M145 39L138 39M152 -2L150 5M265 50L270 54M269 79L278 75M263 107L264 99M253 105L247 104M253 105L255 105M271 92L264 99M271 92L263 91M244 103L241 94M231 96L231 97M241 94L241 94M251 86L251 86M269 79L267 78M263 91L262 88M-3 87L-10 93M-4 70L4 72M21 130L22 121M88 118L88 118M76 124L80 126M76 119L82 115M97 121L107 122M202 114L202 113M167 103L171 96M165 118L156 116M161 133L163 124M114 121L110 125M144 115L145 124M153 91L142 93M147 99L140 95M146 106L147 99M137 98L139 95M108 72L99 64M105 60L101 61M110 54L105 60M102 75L108 72M99 55L101 61M91 53L89 58M23 61L30 63M38 77L29 67M50 122L45 121M208 77L214 66M208 77L208 78M253 126L254 118M237 46L234 47M41 57L44 52M44 52L51 52M50 41L54 49M62 61L61 57M62 61L57 65M57 65L57 66M46 71L44 71M54 80L49 84M32 80L35 80M36 80L38 78M25 3L22 1M25 3L31 -3M25 3L25 4M-5 17L1 20M54 12L58 6M50 11L48 3M58 6L58 2M119 26L108 28M108 28L107 24M110 54L104 47M119 26L109 36M130 45L129 47M130 5L130 3M276 2L281 3M277 38L277 28M251 3L252 -7M251 3L245 1M222 62L224 59M216 51L212 62M212 62L213 63M228 47L234 47M212 62L211 62M211 62L203 66M197 71L197 77M163 57L154 56M177 47L173 49M177 31L180 37M188 39L187 38M176 41L180 37M145 20L151 20M151 20L152 21M270 70L275 68M276 63L275 68M6 65L13 63M2 57L12 58M1 56L2 57M-4 119L-9 124M73 113L65 118M65 118L61 115M89 107L88 106M92 86L90 87M90 87L89 94M74 106L74 107M213 102L202 103M200 104L199 104M171 79L176 83M170 91L176 86M134 123L139 126M125 89L118 89M118 100L117 99M121 110L117 109M142 80L138 82M21 82L22 80M42 89L48 87M48 87L51 92M52 92L51 92M35 124L34 116M249 116L244 124M223 1L229 -6M232 -4L229 -6M240 23L232 23M232 23L227 16M238 6L239 7M220 25L227 16M3 20L2 20M12 20L14 19M-5 13L1 5M1 36L-2 35M-2 35L-5 39M4 35L1 36M11 46L4 47M4 35L12 38M-8 58L-3 48M17 31L19 29M25 42L25 43M14 19L19 29M12 38L16 34M13 42L25 42M24 29L26 28M75 27L78 30M69 39L75 38M89 42L95 32M95 32L87 28M150 6L151 7M117 45L110 39M110 37L110 39M125 1L119 6M119 6L113 1M119 9L119 6M113 13L110 12M188 53L192 62M192 62L198 61M190 66L192 62M197 71L192 68M192 18L194 17M148 41L147 40M157 35L157 43M153 25L164 32M153 54L158 44M145 49L153 54M6 99L6 103M6 103L-4 104M62 93L62 95M221 107L220 106M215 104L217 104M210 94L211 91M202 93L196 97M148 73L144 74M118 80L123 72M138 82L129 77M208 3L206 7M202 0L206 -1M215 21L220 25M222 29L213 33M213 33L219 42M209 30L205 29M189 34L196 32M241 23L240 23M241 23L242 22M244 36L240 36M83 67L80 69M78 39L83 44M81 21L87 24M96 32L99 23M251 5L247 10M261 9L263 10M284 9L273 13M182 7L181 2M173 -1L176 -7M163 9L162 17M87 84L75 87M196 87L195 78M187 76L189 79M188 85L193 89M183 95L182 93M135 62L136 62M142 76L136 72M46 96L48 106M41 94L35 97M36 102L35 99M72 55L65 52M75 49L68 44M254 13L256 18M254 21L247 13M261 9L254 13M252 26L254 21M261 18L262 17M270 20L271 27M263 10L262 17M277 28L271 27M266 32L266 30M185 -4L194 -0M195 -5L194 -0M194 -0L194 -0M24 107L17 110M78 73L79 75M78 73L69 71M64 81L67 78" stroke="#8c8c8c" stroke-width="2.6" fill="none" stroke-linecap="round"/><path d="M264 108L274 111M273 102L276 111M262 43L265 47M265 47L265 47M272 39L266 32M252 74L262 79M275 97L282 99M274 111L267 122M263 117L266 121M39 36L34 34M39 36L48 35M47 27L49 24M49 24L43 15M40 26L37 22M166 79L161 77M166 79L171 79M252 47L248 45M243 53L237 57M239 61L237 57M270 70L265 65M254 66L254 68M232 64L239 61M13 97L12 92M-8 58L-3 68M145 49L141 54M175 103L183 107M127 103L133 108M162 94L155 103M104 86L117 90M234 84L229 79M235 70L229 79M233 69L226 69M218 118L221 107M190 122L193 117M178 114L190 122M39 36L42 45M30 43L34 34M32 20L37 22M34 34L26 28M153 69L148 73M187 65L190 66M75 -6L75 -1M56 37L60 28M172 53L176 63M176 69L174 71M255 105L257 95M263 91L259 94M239 107L233 104M247 104L244 103M-10 93L-2 97M89 107L97 108M99 117L97 121M215 119L211 110M175 103L179 97M179 97L171 96M162 91L162 94M192 115L191 107M150 108L156 104M138 107L146 106M144 115L139 112M152 99L147 99M114 68L105 60M119 58L119 61M30 63L29 67M254 118L251 116M239 113L249 116M235 57L234 47M60 72L55 80M38 59L41 57M42 72L44 71M54 50L54 49M54 50L51 52M38 77L38 78M49 84L38 78M32 80L27 70M21 -4L22 1M32 14L36 9M22 13L22 13M43 15L43 12M48 3L51 -0M67 10L58 6M46 -6L39 -4M116 20L117 21M120 26L119 26M75 16L78 21M78 21L75 27M117 21L126 14M113 13L119 9M133 49L133 59M252 26L246 24M216 51L226 52M216 51L216 51M230 59L227 58M228 47L226 52M166 63L163 57M171 53L165 54M187 28L190 24M181 26L177 31M184 51L188 39M166 -4L166 -4M-3 68L2 63M77 99L74 106M81 95L87 95M211 110L215 104M122 112L121 120M122 121L131 124M9 74L15 70M11 84L21 82M31 91L35 80M55 80L58 83M240 124L237 129M240 124L244 124M237 117L240 124M228 6L223 1M240 23L234 11M228 6L229 11M1 20L2 20M13 5L11 5M14 19L14 19M16 34L25 42M68 39L69 39M84 34L78 39M75 38L78 39M99 45L100 34M138 12L150 6M100 34L108 35M109 36L110 37M135 -2L135 -5M199 53L198 61M194 10L199 9M180 23L173 19M152 29L153 33M145 48L148 41M164 32L157 35M168 38L165 43M158 44L157 43M177 31L167 30M-2 97L-4 104M56 105L61 109M62 93L68 90M71 94L68 90M83 66L90 61M68 90L70 88M220 106L217 104M220 106L227 99M227 99L220 96M205 94L202 93M118 80L128 80M215 21L213 18M213 33L212 33M221 42L219 42M238 32L240 36M237 40L240 36M228 30L228 31M89 58L82 55M79 59L81 56M94 17L89 11M89 11L87 11M98 15L96 17M102 6L98 15M259 6L251 5M263 10L269 8M273 14L273 13M167 29L158 21M2 124L7 121M7 121L11 121M90 87L87 84M192 95L193 89M51 92L46 96M23 100L35 99M247 13L247 11M262 17L270 20M271 27L266 30M181 2L185 -4M11 117L17 111M17 110L17 111M79 75L75 81M87 80L79 75M60 72L66 74" stroke="#a6a6a6" stroke-width="2.6" fill="none" stroke-linecap="round"/><path d="M263 107L264 108M262 43L260 43M247 62L248 57M282 113L272 124M260 62L265 65M243 65L241 69M252 74L251 75M233 69L235 70M235 70L238 71M22 99L15 100M23 91L22 90M8 89L9 87M3 80L9 87M-5 71L-4 70M129 28L135 42M178 114L181 111M181 111L183 107M168 106L168 106M137 98L137 107M104 86L104 85M112 78L116 81M238 84L234 84M218 118L215 119M238 114L237 117M237 117L229 120M207 122L202 114M28 23L26 28M75 11L70 9M79 7L79 8M70 9L69 2M64 17L64 17M232 64L230 59M145 39L144 31M270 54L271 60M251 90L257 95M239 113L239 107M231 105L233 104M250 90L251 90M262 79L262 88M76 124L76 119M163 124L152 123M133 108L127 112M26 48L21 52M35 62L42 72M51 121L54 121M263 123L253 126M54 80L55 80M57 66L46 71M51 60L47 61M41 47L44 52M21 16L28 23M39 7L48 3M64 -2L64 -3M131 45L130 45M142 3L137 10M208 78L205 80M185 52L184 51M271 60L276 63M14 51L12 58M77 99L81 95M205 80L204 84M202 103L205 94M113 116L106 115M19 73L22 80M27 70L19 73M244 124L252 129M237 -3L232 -4M219 10L218 7M66 29L68 39M5 14L11 8M5 1L3 3M3 3L1 5M13 42L12 38M14 51L11 46M9 29L17 31M24 29L25 41M125 29L124 34M113 1L118 -5M196 42L196 51M202 66L198 61M208 3L206 -1M206 -1L208 -5M166 32L164 32M276 63L279 62M54 105L52 92M92 74L92 74M221 92L220 96M204 84L201 88M128 87L128 80M205 10L206 7M223 30L221 42M228 31L230 37M99 23L96 17M262 -4L259 6M174 12L170 9M152 21L158 21M-0 114L0 113M70 88L75 86M201 88L196 87M186 97L183 95M196 87L193 89M129 77L129 76M41 106L46 107M48 106L46 107M28 110L36 102M23 100L24 107M22 99L23 100M202 36L199 37M72 55L75 50M81 56L75 50M247 10L247 11M273 14L270 20M17 110L13 106M6 103L10 106M69 71L66 74" stroke="#c0c0c0" stroke-width="2.6" fill="none" stroke-linecap="round"/><path d="M265 50L265 47M260 62L254 66M282 113L276 111M272 124L277 128M48 35L47 27M238 84L241 94M22 99L23 91M167 103L162 94M227 119L223 121M207 122L202 125M32 62L35 62M38 47L41 47M79 7L75 -1M75 11L75 16M93 4L95 -7M222 62L213 63M221 78L214 66M271 92L271 92M229 92L230 89M8 89L12 92M13 97L6 99M3 80L6 74M99 117L97 113M119 131L122 121M146 106L150 108M153 91L152 99M62 129L67 122M54 80L46 71M22 13L32 14M32 20L32 14M38 8L39 7M132 20L126 14M224 59L227 58M144 31L152 29M2 57L2 63M213 102L210 94M58 38L60 46M8 2L11 5M2 20L5 14M14 19L11 8M125 1L121 -5M193 7L194 -0M173 49L165 43M54 105L56 105M199 104L196 97M142 80L142 76M34 116L36 115M209 30L212 33M82 55L81 56M271 9L269 8M181 2L173 -1M75 87L75 86M187 104L186 97M41 106L36 102M35 97L35 99M208 40L202 36M205 29L202 36M60 46L66 46M254 21L256 18M15 100L13 106M75 81L67 78" stroke="#dadada" stroke-width="2.6" fill="none" stroke-linecap="round"/><path d="M272 124L269 123M233 69L232 64M-8 82L-4 86M8 89L3 91M80 126L88 118M223 121L222 129M180 62L176 63M262 88L251 86M92 122L96 122M32 62L30 63M42 72L38 77M217 81L208 78M266 121L263 123M242 48L237 46M51 52L51 60M27 70L29 67M1 20L-3 33M3 20L12 20M48 -5L51 -0M38 -2L39 -4M69 27L75 27M137 10L130 5M171 53L173 49M-3 118L-4 119M211 91L217 88M221 92L217 88M191 107L199 104M127 99L118 100M216 -5L219 2M219 10L228 12M222 29L223 30M11 5L11 8M4 47L1 49M11 46L13 42M1 56L1 49M153 8L151 7M266 -5L269 8M196 97L192 95M36 115L41 106M48 106L48 106M42 89L41 94M75 49L75 50M83 44L75 49M261 18L262 29" stroke="#f4f4f4" stroke-width="2.6" fill="none" stroke-linecap="round"/><path d="M92 -1h0M228 -1h0M143 12h0M7 25h0M23 33h0M80 34h0M21 35h0M272 44h0M34 58h0M223 55h0M234 59h0M188 70h0M-4 80h0M66 95h0M264 94h0M227 110h0M0 119h0M102 119h0M256 127h0" stroke="#1c1c1c" stroke-width="4.0" stroke-linecap="round" fill="none"/><path d="M25 -2h0M53 -4h0M70 -3h0M139 -4h0M163 1h0M241 -2h0M21 7h0M44 8h0M135 4h0M143 7h0M167 5h0M196 5h0M213 8h0M223 7h0M245 5h0M253 9h0M252 15h0M259 14h0M14 25h0M114 24h0M164 22h0M186 23h0M62 34h0M111 31h0M134 33h0M148 34h0M192 29h0M200 31h0M242 29h0M46 39h0M55 41h0M65 42h0M85 41h0M152 39h0M172 44h0M203 40h0M226 35h0M70 50h0M80 50h0M130 50h0M138 48h0M167 49h0M76 56h0M178 59h0M195 56h0M1 68h0M50 66h0M74 67h0M78 64h0M100 69h0M171 67h0M260 66h0M0 75h0M34 76h0M97 75h0M106 77h0M136 77h0M154 75h0M193 75h0M265 73h0M8 80h0M91 82h0M100 84h0M131 82h0M192 83h0M254 80h0M258 85h0M46 92h0M147 95h0M197 92h0M227 95h0M246 96h0M71 101h0M151 103h0M182 101h0M201 99h0M207 98h0M221 101h0M226 104h0M23 112h0M42 111h0M77 112h0M85 111h0M92 113h0M111 111h0M135 111h0M154 111h0M187 109h0M235 109h0M267 116h0M6 116h0M16 119h0M38 119h0M72 120h0M83 120h0M109 119h0M241 118h0M195 124h0" stroke="#1c1c1c" stroke-width="5.0" stroke-linecap="round" fill="none"/><path d="M44 -1h0M59 -5h0M79 -2h0M99 -2h0M128 -3h0M147 -0h0M201 -3h0M213 -0h0M223 -4h0M248 -2h0M-5 5h0M6 5h0M29 10h0M33 4h0M105 4h0M114 7h0M125 6h0M188 2h0M204 5h0M234 5h0M277 7h0M-0 15h0M8 17h0M26 17h0M37 14h0M50 16h0M105 12h0M110 18h0M119 15h0M179 16h0M189 12h0M209 13h0M232 16h0M269 13h0M43 23h0M59 19h0M64 25h0M73 22h0M101 19h0M148 25h0M161 27h0M174 26h0M208 23h0M235 27h0M256 23h0M1 29h0M11 33h0M27 37h0M72 33h0M88 33h0M104 29h0M118 31h0M141 34h0M156 31h0M183 32h0M207 34h0M220 35h0M235 35h0M249 31h0M-2 43h0M16 39h0M117 38h0M124 44h0M142 42h0M162 39h0M193 38h0M266 40h0M-3 54h0M31 48h0M40 52h0M48 48h0M122 53h0M178 51h0M190 48h0M201 47h0M230 53h0M238 51h0M273 50h0M-1 60h0M7 61h0M27 57h0M47 56h0M56 58h0M84 59h0M95 60h0M103 54h0M136 58h0M147 57h0M158 61h0M187 59h0M243 59h0M254 59h0M275 59h0M10 69h0M41 64h0M63 67h0M90 67h0M122 67h0M132 68h0M195 66h0M228 63h0M237 67h0M249 68h0M270 65h0M72 75h0M84 73h0M115 74h0M125 76h0M147 79h0M167 75h0M176 76h0M185 77h0M214 77h0M236 78h0M258 74h0M273 74h0M2 86h0M43 84h0M64 88h0M70 83h0M112 85h0M122 84h0M140 88h0M160 84h0M181 85h0M200 82h0M-2 92h0M7 93h0M28 96h0M37 89h0M74 92h0M111 96h0M121 94h0M132 92h0M166 94h0M187 92h0M205 91h0M255 90h0M279 87h0M2 99h0M10 102h0M41 101h0M80 102h0M113 102h0M121 105h0M131 102h0M141 101h0M162 103h0M172 101h0M252 100h0M259 100h0M2 107h0M12 110h0M34 110h0M68 110h0M101 112h0M126 109h0M144 110h0M163 111h0M175 109h0M197 111h0M207 106h0M217 110h0M270 108h0M47 114h0M62 122h0M94 119h0M118 115h0M127 119h0M149 120h0M187 116h0M201 120h0M208 117h0M231 116h0M260 121h0M7 126h0M17 125h0M115 126h0M156 128h0M216 124h0M235 124h0" stroke="#1c1c1c" stroke-width="6.1" stroke-linecap="round" fill="none"/><path d="M-0 -3h0M119 -1h0M180 -4h0M271 0h0M54 5h0M64 5h0M74 6h0M85 5h0M96 10h0M154 2h0M176 6h0M263 4h0M15 12h0M60 12h0M69 14h0M79 14h0M87 17h0M132 13h0M169 15h0M200 14h0M220 16h0M242 15h0M-6 24h0M22 25h0M33 27h0M82 26h0M196 22h0M215 28h0M225 25h0M248 21h0M265 23h0M275 23h0M42 32h0M172 35h0M260 34h0M272 33h0M8 41h0M37 41h0M75 42h0M94 39h0M105 40h0M212 40h0M232 43h0M252 42h0M7 52h0M60 50h0M88 50h0M96 49h0M112 48h0M151 47h0M159 52h0M221 47h0M248 51h0M260 48h0M68 58h0M127 60h0M169 57h0M203 60h0M217 58h0M265 58h0M34 67h0M106 66h0M140 68h0M149 67h0M159 71h0M181 68h0M210 66h0M220 69h0M16 77h0M25 76h0M45 76h0M54 74h0M62 78h0M203 74h0M229 73h0M243 76h0M14 87h0M26 85h0M53 86h0M80 82h0M149 88h0M170 85h0M210 84h0M222 87h0M226 81h0M244 86h0M276 81h0M18 95h0M57 97h0M96 91h0M108 91h0M157 94h0M177 93h0M235 90h0M19 103h0M29 103h0M50 100h0M63 103h0M104 102h0M192 101h0M236 100h0M269 99h0M258 110h0M28 120h0M159 120h0M183 121h0M223 114h0M250 121h0M273 117h0M-4 127h0M86 126h0" stroke="#1c1c1c" stroke-width="7.1" stroke-linecap="round" fill="none"/><path d="M15 -1h0M110 -5h0M255 -2h0M148 14h0M158 14h0M93 25h0M126 23h0M138 23h0M53 30h0M129 38h0M182 42h0M242 41h0M20 46h0M211 53h0M16 59h0M114 60h0M23 67h0M266 84h0M85 90h0M215 96h0M93 102h0M279 106h0M55 112h0M246 109h0M139 120h0M171 119h0M104 126h0M227 126h0" stroke="#1c1c1c" stroke-width="8.2" stroke-linecap="round" fill="none"/><circle cx="239" cy="7" r="1.8" fill="#909090"/><circle cx="242" cy="22" r="1.6" fill="#a2a2a2"/><circle cx="202" cy="66" r="1.9" fill="#d6d6d6"/><circle cx="64" cy="17" r="2.2" fill="#b1b1b1"/><circle cx="54" cy="50" r="1.9" fill="#e3e3e3"/><circle cx="42" cy="72" r="2.2" fill="#f3f3f3"/><circle cx="34" cy="34" r="1.8" fill="#c8c8c8"/><circle cx="104" cy="47" r="2.3" fill="#b7b7b7"/><circle cx="13" cy="42" r="1.7" fill="#f6f6f6"/><circle cx="160" cy="77" r="2.2" fill="#b8b8b8"/><circle cx="167" cy="29" r="1.9" fill="#8c8c8c"/><circle cx="180" cy="62" r="1.8" fill="#a2a2a2"/><circle cx="238" cy="71" r="1.3" fill="#dddddd"/><circle cx="202" cy="114" r="1.5" fill="#d6d6d6"/><circle cx="43" cy="12" r="2.3" fill="#b1b1b1"/><circle cx="118" cy="49" r="1.6" fill="#aaaaaa"/><circle cx="170" cy="21" r="1.5" fill="#adadad"/><circle cx="130" cy="3" r="1.6" fill="#8d8d8d"/><circle cx="271" cy="92" r="2.3" fill="#c3c3c3"/><circle cx="127" cy="99" r="1.8" fill="#bebebe"/><circle cx="137" cy="98" r="1.8" fill="#bebebe"/><circle cx="153" cy="91" r="1.9" fill="#bdbdbd"/><circle cx="243" cy="65" r="1.7" fill="#b2b2b2"/><circle cx="182" cy="7" r="2.4" fill="#bababa"/><circle cx="145" cy="48" r="2.0" fill="#b6b6b6"/><circle cx="57" cy="65" r="2.3" fill="#e9e9e9"/><circle cx="190" cy="66" r="2.3" fill="#c6c6c6"/><circle cx="30" cy="43" r="1.3" fill="#d9d9d9"/><circle cx="1" cy="56" r="1.7" fill="#dedede"/><circle cx="272" cy="86" r="2.2" fill="#b9b9b9"/><circle cx="87" cy="24" r="2.2" fill="#a2a2a2"/><circle cx="41" cy="106" r="2.4" fill="#aaaaaa"/><circle cx="102" cy="97" r="2.0" fill="#868686"/><circle cx="150" cy="6" r="2.1" fill="#b8b8b8"/><circle cx="121" cy="110" r="2.3" fill="#a8a8a8"/><circle cx="262" cy="79" r="2.3" fill="#9b9b9b"/><circle cx="49" cy="84" r="1.7" fill="#cbcbcb"/><circle cx="163" cy="57" r="1.9" fill="#b8b8b8"/><circle cx="202" cy="66" r="2.1" fill="#c5c5c5"/><circle cx="194" cy="10" r="2.1" fill="#969696"/><circle cx="244" cy="103" r="2.1" fill="#dbdbdb"/><circle cx="77" cy="99" r="1.5" fill="#bebebe"/><circle cx="110" cy="107" r="2.2" fill="#909090"/><circle cx="98" cy="79" r="1.5" fill="#898989"/><circle cx="130" cy="3" r="1.4" fill="#b0b0b0"/><circle cx="177" cy="31" r="1.7" fill="#b4b4b4"/><circle cx="48" cy="35" r="1.6" fill="#eaeaea"/><circle cx="51" cy="60" r="1.4" fill="#fbfbfb"/><circle cx="241" cy="23" r="1.6" fill="#afafaf"/><circle cx="29" cy="113" r="1.7" fill="#b9b9b9"/><circle cx="48" cy="35" r="1.9" fill="#e3e3e3"/><circle cx="146" cy="106" r="1.6" fill="#868686"/><circle cx="239" cy="61" r="2.0" fill="#c9c9c9"/><circle cx="193" cy="117" r="2.0" fill="#959595"/><circle cx="158" cy="44" r="2.3" fill="#a0a0a0"/><circle cx="192" cy="62" r="2.1" fill="#c6c6c6"/><circle cx="171" cy="79" r="1.3" fill="#a3a3a3"/><circle cx="127" cy="103" r="2.4" fill="#c4c4c4"/><circle cx="82" cy="55" r="1.4" fill="#d5d5d5"/><circle cx="181" cy="26" r="1.6" fill="#989898"/><circle cx="42" cy="72" r="1.5" fill="#bcbcbc"/><circle cx="222" cy="29" r="1.4" fill="#cacaca"/><circle cx="55" cy="1" r="2.1" fill="#9c9c9c"/><circle cx="65" cy="118" r="1.3" fill="#b3b3b3"/><circle cx="181" cy="26" r="1.9" fill="#aeaeae"/><circle cx="116" cy="81" r="2.0" fill="#9b9b9b"/><circle cx="136" cy="30" r="1.9" fill="#9f9f9f"/><circle cx="189" cy="34" r="1.4" fill="#d1d1d1"/><circle cx="117" cy="90" r="1.8" fill="#bbbbbb"/><circle cx="219" cy="10" r="2.2" fill="#939393"/><circle cx="228" cy="6" r="1.6" fill="#969696"/><circle cx="119" cy="6" r="2.4" fill="#bababa"/><circle cx="153" cy="91" r="1.7" fill="#8e8e8e"/><circle cx="133" cy="87" r="1.4" fill="#9c9c9c"/><circle cx="202" cy="114" r="1.9" fill="#bbbbbb"/><circle cx="231" cy="105" r="2.0" fill="#dfdfdf"/><circle cx="142" cy="80" r="1.8" fill="#adadad"/><circle cx="208" cy="77" r="1.5" fill="#e5e5e5"/><circle cx="102" cy="47" r="2.0" fill="#808080"/><circle cx="81" cy="95" r="1.8" fill="#ababab"/><circle cx="187" cy="76" r="1.6" fill="#d6d6d6"/><circle cx="32" cy="80" r="1.8" fill="#ffffff"/><circle cx="117" cy="90" r="2.4" fill="#bababa"/><circle cx="77" cy="99" r="2.1" fill="#969696"/><circle cx="78" cy="73" r="2.0" fill="#c5c5c5"/><circle cx="142" cy="29" r="2.0" fill="#c3c3c3"/><circle cx="122" cy="112" r="1.6" fill="#a6a6a6"/><circle cx="128" cy="97" r="1.6" fill="#c3c3c3"/><circle cx="92" cy="86" r="1.8" fill="#929292"/><circle cx="223" cy="30" r="1.7" fill="#bdbdbd"/><circle cx="196" cy="51" r="1.3" fill="#dedede"/><circle cx="110" cy="37" r="2.2" fill="#9b9b9b"/><circle cx="240" cy="82" r="1.8" fill="#d1d1d1"/><circle cx="234" cy="11" r="2.3" fill="#b3b3b3"/><circle cx="87" cy="84" r="2.1" fill="#c7c7c7"/></g><polygon points="0.0,0.0 2.0,0.0 4.0,40.0 7.0,120.8 0.0,120.8" fill="#000"/><polygon points="259.5,0.0 273.3,0.0 273.3,120.8 262.0,120.8" fill="#000"/>
</svg>
<svg x="383.8" y="220" width="274" height="119.8" viewBox="0 0 274 119.8" overflow="hidden">
<defs><filter id="nzf" x="0" y="0" width="100%" height="100%" color-interpolation-filters="sRGB"><feTurbulence type="fractalNoise" baseFrequency="0.12" numOctaves="2" seed="13"/><feColorMatrix type="matrix" values="0.28 0 0 0 0.0 0.28 0 0 0 0.0 0.28 0 0 0 0.0 0 0 0 0 1"/></filter><filter id="blf" x="0" y="0" width="100%" height="100%" color-interpolation-filters="sRGB"><feTurbulence type="fractalNoise" baseFrequency="0.08" numOctaves="2" seed="63"/><feColorMatrix type="matrix" values="1.8 0 0 0 0.05 1.8 0 0 0 0.05 1.8 0 0 0 0.05 0 0 0 0 1" result="m"/><feComposite in="SourceGraphic" in2="m" operator="arithmetic" k1="1" k2="0" k3="0" k4="0"/><feGaussianBlur stdDeviation="1.6"/></filter></defs><g filter="url(#blf)"><rect width="274" height="119.8" filter="url(#nzf)"/><path d="M275 97L282 95M173 100L175 98M175 98L183 98M277 87L282 95M232 103L240 104M275 32L275 35M7 48L2 56M4 43L4 43M187 93L187 95M191 87L197 89M223 115L222 113M231 104L228 104M232 120L227 115M228 93L234 96M228 91L229 87M248 93L248 87M248 87L240 87M204 124L203 111M170 122L168 130M137 112L134 117M172 103L169 110M159 105L159 107M261 91L258 92M213 82L214 75M222 73L219 72M264 118L272 119M235 74L240 78M240 78L240 78M254 58L257 56M258 68L264 61M261 72L266 73M265 62L264 61M273 51L273 51M148 28L142 28M140 37L138 38M126 28L129 29M119 31L121 38M130 30L129 29M134 20L131 20M158 59L166 59M10 12L16 14M41 47L40 44M120 40L115 41M92 63L91 58M109 50L106 51M99 46L106 41M109 50L115 42M110 36L106 37M78 22L85 21M68 25L77 21M68 25L65 18M12 111L10 114M11 68L9 62M1 56L-1 60M2 67L2 71M82 66L81 69M82 60L78 58M74 59L74 65M209 110L203 111M197 95L205 96M200 85L207 81M208 81L207 81M195 75L195 75M204 74L199 74M204 74L207 81M213 82L208 81M246 71L238 65M235 67L238 65M225 71L226 68M213 115L209 111M216 122L213 120M194 104L192 110M172 103L183 111M286 -6L278 -2M85 21L86 22M111 27L110 36M115 26L115 26M105 25L111 27M109 50L114 53M115 42L121 49M140 37L146 39M142 48L143 48M143 61L142 61M142 61L136 70M139 59L138 53M148 54L143 48M137 61L133 65M133 65L136 70M174 68L174 68M168 50L172 56M191 70L191 68M191 68L187 62M40 32L33 28M105 53L102 60M102 60L103 62M103 62L104 64M106 51L105 53M92 63L98 64M85 32L86 28M82 32L77 29M60 18L56 11M56 10L56 11M86 28L95 30M99 46L96 44M106 37L103 35M104 24L99 22M87 38L82 42M93 46L87 50M87 35L87 38M65 18L62 18M67 8L69 8M86 13L86 7M110 18L110 15M67 8L56 7M31 1L42 -2M57 1L56 7M114 59L119 63M127 70L126 65M150 95L154 96M149 95L146 105M154 96L155 102M153 104L155 102M156 72L157 73M149 94L153 84M145 77L154 74M157 70L156 72M282 10L277 12M228 59L233 57M248 50L246 49M246 49L242 54M211 65L211 56M228 59L220 61M278 -2L277 -2M130 39L129 42M120 56L124 49M36 15L42 15M42 15L39 23M33 28L33 22M82 32L78 37M66 29L56 30M76 -2L76 0M97 7L97 6M12 -1L18 6M15 120L21 116M47 51L50 54M55 55L53 56M35 57L33 63M63 54L58 56M60 66L62 67M74 59L72 58M66 59L72 58M62 67L62 68M41 71L49 66M64 110L69 115M117 73L113 71M101 72L110 74M101 72L104 64M188 -9L193 -3M180 28L177 32M184 36L187 34M225 11L228 3M235 14L236 6M242 -1L239 0M215 1L211 6M218 9L218 3M247 43L243 38M254 42L251 40M245 46L247 43M215 1L218 3M195 14L198 11M272 -1L270 7M262 3L268 7M273 7L270 7M267 13L268 7M275 28L283 23M177 41L176 41M177 41L180 44M180 44L185 42M218 26L212 31M152 43L162 42M73 41L73 48M72 58L70 50M70 50L65 49M66 29L76 30M70 40L69 36M65 49L64 47M131 12L129 6M137 5L132 2M97 6L97 4M97 4L88 1M62 86L61 83M74 75L73 77M26 73L27 72M39 71L37 76M37 87L32 92M35 115L28 113M84 109L80 113M75 107L78 103M69 115L69 117M74 120L80 117M134 93L134 91M128 103L128 102M119 105L128 102M105 120L101 114M91 66L93 72M108 81L105 83M183 6L187 6M188 7L185 16M189 22L190 20M189 44L190 45M223 42L220 42M214 34L214 37M237 38L229 34M227 37L229 34M224 47L232 45M224 39L227 37M157 29L159 20M161 -1L165 1M142 3L141 3M153 -10L155 -1M198 51L193 46M172 32L170 27M157 29L161 32M154 39L162 35M162 42L163 37M176 41L169 37M102 -4L105 -9M97 4L98 -2M107 1L102 -4M90 124L84 122M126 78L120 80M118 93L126 95M85 73L82 79M93 72L92 73M113 89L111 89M105 83L105 83M77 88L84 89M180 -5L177 2M154 10L151 9M151 1L151 9M130 -1L127 -2M124 -2L127 -2M124 -2L122 -8M111 104L109 103M98 108L100 104M91 108L98 108M103 97L104 92M95 91L94 92M95 91L103 91M98 99L95 98M109 103L103 97M193 46L197 41M197 41L198 37M254 28L242 27M242 27L242 25M247 14L245 13M245 13L244 7M203 46L204 46M214 37L211 39" stroke="#4a4a4a" stroke-width="2.3" fill="none" stroke-linecap="round"/><path d="M277 105L279 104M216 122L221 121M287 83L277 87M282 78L275 78M274 77L279 68M272 96L275 97M276 86L271 89M271 92L271 89M230 80L223 79M223 79L222 73M267 101L270 106M243 109L250 103M244 98L243 98M232 103L234 96M237 94L243 98M251 103L254 95M284 38L275 35M275 31L275 32M275 35L276 41M270 34L268 42M268 42L272 44M158 59L159 67M159 67L157 70M4 13L2 5M8 23L8 23M4 43L-4 48M-5 52L1 56M2 56L1 56M29 51L28 51M29 51L30 43M177 80L170 79M177 80L180 85M179 88L177 90M167 93L169 89M163 101L161 94M167 93L161 94M190 80L195 75M189 82L190 80M189 96L190 102M194 104L198 103M222 109L222 108M235 110L233 110M232 120L232 122M230 85L238 91M239 83L240 87M240 87L238 91M219 83L223 79M195 122L196 122M203 111L203 111M188 126L183 118M173 122L178 125M173 122L170 122M154 115L154 125M144 124L144 122M137 112L143 109M169 110L159 107M156 114L156 112M165 118L169 111M159 107L156 112M271 92L265 92M265 92L264 101M254 95L257 93M262 101L257 93M219 83L218 84M270 106L265 111M265 111L261 112M273 115L273 118M272 122L269 127M246 125L243 118M232 122L233 123M233 123L237 125M241 117L242 118M252 58L254 58M254 58L254 64M249 64L246 60M268 42L265 42M257 56L264 59M257 56L258 50M261 48L258 50M268 52L264 59M265 42L261 48M272 44L273 51M273 51L268 52M258 68L261 72M268 69L267 73M256 79L262 82M271 62L275 66M274 55L281 62M149 21L148 28M142 28L139 27M134 20L139 15M139 15L142 16M130 19L131 20M121 38L128 37M169 79L169 79M169 89L165 83M161 94L159 93M30 43L34 42M-4 5L-4 6M-4 22L-3 17M119 31L110 36M115 41L110 36M82 66L82 60M82 66L91 66M82 60L90 58M91 66L92 63M109 50L109 50M109 50L106 41M86 13L85 21M79 12L76 19M65 18L70 13M18 64L12 59M20 97L18 103M0 64L-8 66M-10 75L-3 80M16 70L16 69M6 73L2 71M81 69L78 69M137 112L134 109M134 109L137 102M156 114L154 115M153 109L156 112M142 89L141 88M144 80L148 83M211 108L209 97M203 111L200 104M207 97L205 96M197 89L199 88M195 75L200 85M226 68L230 67M213 120L207 124M171 112L179 114M173 122L174 119M170 122L165 118M185 109L192 110M192 118L194 112M184 117L182 114M252 110L250 112M243 118L250 116M247 125L254 120M258 127L256 120M246 71L246 71M248 87L251 84M6 2L7 -0M279 2L278 -2M119 31L115 26M157 52L148 54M146 60L148 54M148 43L143 48M138 44L138 39M138 44L142 48M144 70L142 73M137 72L136 70M169 61L174 68M170 71L160 67M170 71L174 68M184 63L184 70M186 62L187 62M198 63L196 63M152 43L157 52M164 50L162 50M26 21L24 27M104 64L109 65M102 50L96 54M98 64L103 62M94 57L91 58M86 22L86 28M85 32L82 32M62 18L61 12M93 34L97 40M97 40L103 35M96 30L102 33M87 35L85 32M96 44L97 40M105 25L102 33M95 44L93 46M96 44L95 44M90 58L87 50M80 50L83 48M67 8L61 12M70 13L70 9M69 8L70 9M86 7L84 4M84 4L81 4M110 15L112 14M51 19L56 11M51 19L49 19M31 3L24 7M10 117L15 120M134 117L131 125M125 62L125 62M120 56L115 54M119 63L125 62M125 62L128 55M125 62L126 64M127 70L125 73M119 72L126 65M127 70L134 74M7 74L7 80M-3 80L-9 85M-1 81L-1 86M78 69L74 75M69 68L74 75M134 109L129 107M149 94L150 95M153 109L153 104M158 78L157 73M154 74L156 72M169 79L157 73M281 20L276 17M275 28L275 17M233 57L238 64M233 57L234 52M163 119L160 125M211 56L218 53M220 61L220 61M219 72L214 65M226 68L220 61M201 -3L197 4M124 49L124 49M124 49L129 52M138 53L131 51M128 55L129 52M42 25L49 19M82 42L78 40M68 25L66 28M48 29L53 27M49 36L54 37M45 51L47 51M67 1L69 7M81 4L76 0M105 6L97 6M96 10L97 7M99 22L101 16M120 15L122 13M135 11L131 12M108 3L114 4M122 13L115 4M55 55L57 48M34 53L35 57M42 56L44 61M74 91L69 84M78 80L77 88M78 80L73 77M73 77L69 83M52 66L51 66M41 71L47 78M47 78L51 71M22 75L19 80M8 81L7 80M8 81L18 82M27 69L33 65M41 71L39 71M45 120L42 115M66 92L59 96M61 101L59 96M74 91L74 93M69 84L64 86M110 74L113 71M7 87L5 89M18 82L20 86M4 107L-0 99M-4 111L-4 105M200 -3L192 -11M180 28L188 29M177 32L179 35M187 34L188 29M178 22L178 24M228 3L229 3M236 6L236 5M205 1L211 6M219 9L218 9M218 3L223 0M226 2L223 0M222 13L219 9M274 17L268 16M267 20L268 16M249 -7L248 -1M251 40L251 34M217 19L212 15M205 21L207 17M221 17L217 19M204 11L205 11M195 16L202 23M195 16L195 14M218 53L219 53M240 37L242 28M272 -1L267 -6M262 3L262 3M187 62L192 57M193 58L203 57M192 56L192 57M180 44L181 52M181 52L182 52M162 50L162 42M150 32L154 39M78 40L73 41M69 36L75 33M76 30L75 33M66 29L66 29M115 4L117 1M129 6L132 2M108 3L107 1M85 1L88 1M88 1L94 -5M25 122L25 123M25 122L29 118M45 122L45 125M61 83L64 79M61 83L56 80M57 77L63 73M64 86L62 86M51 71L57 77M62 86L57 91M29 86L30 84M37 80L37 81M33 96L32 92M25 74L30 84M37 105L27 112M36 118L35 115M45 120L50 115M50 115L49 111M80 113L75 107M69 117L74 120M74 93L78 97M123 125L121 123M123 125L129 115M134 117L129 115M109 121L110 125M111 118L111 113M111 113L119 113M119 113L120 109M99 126L98 124M139 96L134 93M98 124L95 121M101 114L99 116M98 64L95 72M93 72L95 72M95 72L100 72M110 74L108 81M102 81L105 83M188 7L187 6M185 16L181 16M190 20L185 16M186 52L190 45M252 2L253 4M262 3L257 6M245 46L237 44M230 23L229 21M212 31L214 34M164 13L161 15M158 5L157 -0M157 -0L155 -1M192 56L198 51M161 32L168 26M162 35L163 37M177 32L172 32M73 -4L73 -9M49 111L50 110M61 101L58 103M55 119L56 123M66 119L64 122M59 113L59 116M69 117L66 119M93 121L90 124M93 121L90 114M81 117L84 122M121 87L119 82M127 88L131 86M115 83L108 81M115 83L119 82M134 91L131 86M117 94L117 96M117 96L128 101M126 95L128 98M128 98L128 101M113 89L115 83M127 88L126 95M81 69L85 73M113 100L107 93M99 82L94 88M94 88L88 84M92 73L92 78M84 89L88 84M91 109L91 108M91 108L90 103M87 101L90 103M202 23L201 25M190 28L197 29M267 20L257 18M257 18L256 18M177 2L171 1M180 6L177 2M155 11L152 15M155 11L154 10M158 5L154 10M203 57L203 56M208 54L203 56M132 2L130 -1M113 102L111 104M105 83L103 91M90 103L95 98M191 38L198 37M197 29L198 36M207 32L204 36M257 26L256 27M240 22L242 25M244 7L245 6M253 4L249 7M246 22L247 14M237 16L245 13M246 0L245 6M212 47L213 45M213 45L211 39M220 42L213 45" stroke="#616161" stroke-width="2.3" fill="none" stroke-linecap="round"/><path d="M173 102L184 105M276 86L277 87M232 76L225 71M225 71L222 73M277 105L274 107M241 107L240 104M241 107L243 109M251 103L250 103M248 93L244 98M158 59L157 58M10 12L9 6M6 14L4 13M28 51L22 52M30 43L27 40M274 107L275 109M275 109L284 113M170 79L175 89M180 85L179 88M191 87L189 82M175 98L177 90M175 89L169 89M172 103L163 101M172 103L173 102M191 70L184 70M184 70L181 73M184 105L185 107M222 109L222 113M238 116L235 110M213 107L218 98M218 98L222 108M224 97L228 104M231 83L230 85M237 94L238 91M191 128L195 122M203 111L200 112M146 116L144 122M172 103L172 103M156 114L163 119M169 111L169 110M251 103L251 104M265 92L261 91M271 89L265 84M265 84L270 76M265 84L263 83M213 82L214 83M280 118L273 118M277 126L272 122M273 118L272 119M264 118L264 126M243 110L241 117M242 118L243 118M252 58L246 60M254 64L249 64M235 74L232 76M270 34L263 33M263 33L261 37M248 50L256 48M254 42L256 48M265 62L268 69M273 51L280 50M271 62L274 55M265 62L271 62M144 15L142 16M142 16L139 27M138 27L139 27M138 27L132 29M130 30L128 37M166 59L167 61M159 67L160 67M169 79L170 79M164 84L165 83M18 27L15 22M29 51L34 53M34 53L41 47M-4 6L-11 6M-4 5L2 5M-4 5L-7 -2M119 31L119 31M91 58L90 58M102 50L99 46M115 42L115 41M110 36L110 36M106 37L106 41M86 13L86 13M86 13L79 12M77 21L76 19M10 114L4 108M14 56L12 59M2 56L10 60M2 67L9 62M31 96L22 105M-6 115L-3 120M-4 125L-3 120M5 126L6 120M13 74L7 74M11 68L6 73M137 102L139 102M139 102L144 107M153 109L144 107M142 89L146 88M212 96L212 90M205 89L204 90M205 89L208 81M195 75L199 74M246 71L240 78M235 67L230 67M169 111L171 112M185 107L185 109M200 112L194 112M260 116L260 113M260 116L256 120M246 80L251 84M251 84L252 84M256 67L249 72M246 71L248 72M256 79L255 80M256 89L252 84M7 -0L2 -4M86 13L94 12M94 12L93 21M120 21L115 26M111 27L115 26M104 24L110 18M115 26L110 18M128 37L130 39M138 38L138 39M146 39L148 43M142 73L137 72M138 53L142 48M169 61L172 56M174 68L179 62M179 62L178 57M167 61L169 61M166 59L164 50M164 50L168 50M169 79L170 71M181 73L174 68M199 74L198 63M191 68L196 63M157 52L162 50M-2 35L4 26M7 24L5 26M33 28L33 28M26 37L27 36M42 29L48 29M105 53L111 61M111 61L109 65M96 54L94 57M94 57L102 60M114 53L115 54M78 22L77 29M96 30L95 30M93 21L97 23M87 38L95 44M82 42L83 48M96 54L93 46M78 58L80 50M79 12L76 8M120 15L112 14M45 14L46 8M42 -2L43 6M31 1L40 -9M59 -1L55 -7M59 -1L57 1M26 13L24 7M119 63L113 70M128 55L137 61M133 65L126 64M-6 90L-1 86M128 103L129 107M150 95L149 95M146 105L153 104M142 89L142 95M149 94L146 88M159 93L154 96M152 84L154 74M159 87L155 85M277 12L273 7M277 12L276 17M267 25L262 28M246 60L243 59M234 52L226 51M214 65L211 65M208 66L211 65M204 -1L201 -3M204 -1L205 1M205 1L204 11M129 42L124 45M124 45L124 49M132 46L131 51M138 44L132 46M120 40L124 45M28 19L32 20M45 14L42 15M42 29L42 25M66 28L66 29M56 30L53 27M53 27L53 22M51 19L53 22M42 41L52 44M52 44L52 44M67 1L73 -4M73 -4L76 -2M105 6L107 13M96 10L101 16M101 16L107 13M94 12L96 10M86 7L97 7M110 15L107 13M128 14L123 13M128 14L131 12M112 14L114 4M84 4L85 1M12 111L22 112M23 107L22 105M23 107L23 111M42 56L35 57M44 62L50 54M69 83L69 84M44 62L49 66M53 56L52 66M49 66L51 66M58 56L55 55M52 66L60 66M69 68L62 68M13 74L19 80M33 65L34 65M37 118L42 115M67 103L64 103M74 107L69 115M74 93L72 94M64 86L66 92M119 72L117 73M113 70L113 71M13 90L7 87M9 98L3 95M11 102L9 98M3 95L-0 97M197 4L187 5M188 2L187 5M200 -3L200 -3M179 35L184 36M188 29L190 28M236 5L229 3M236 5L239 0M229 3L233 -9M225 11L233 15M235 14L233 15M242 -1L244 -7M207 -2L213 -2M267 25L267 20M256 -6L256 -4M242 -1L246 0M246 0L248 -1M246 49L245 46M261 37L252 33M252 33L251 34M205 21L209 23M211 6L212 8M202 23L205 21M226 51L223 50M266 -6L262 3M268 16L267 13M171 19L170 12M174 11L180 16M174 11L171 11M170 12L171 11M192 56L186 52M178 57L182 52M184 36L185 42M170 48L181 52M152 43L152 43M63 54L65 49M67 34L66 29M73 41L70 40M77 29L76 30M55 37L60 38M55 37L55 38M62 47L64 47M54 37L55 37M52 44L55 38M107 1L111 -6M34 122L29 118M34 122L36 118M64 79L64 74M64 74L63 73M62 68L63 73M73 77L64 74M57 91L57 91M57 91L52 81M52 81L47 81M47 81L46 83M56 93L57 91M56 93L59 96M25 74L26 73M27 72L37 76M32 92L29 86M43 89L37 87M43 89L36 96M20 86L29 86M26 73L35 81M35 103L37 105M41 107L44 103M45 87L49 94M44 97L49 94M78 97L78 103M121 123L120 119M119 113L121 116M120 109L128 110M141 88L134 91M95 121L99 116M102 81L100 72M183 6L181 16M180 16L181 16M178 22L178 22M187 34L191 38M185 42L189 44M256 15L256 15M224 39L217 34M224 39L223 42M220 42L214 37M217 34L214 34M235 46L232 45M224 47L223 42M232 30L230 23M229 34L222 28M222 28L222 28M229 34L229 34M217 34L222 28M233 15L229 21M170 12L164 13M164 13L163 9M165 1L169 2M168 24L171 19M168 24L159 20M161 15L159 20M154 20L159 20M161 -1L157 -0M161 -1L164 -6M172 32L169 37M159 20L159 20M98 -2L102 -4M50 102L50 102M64 110L59 113M59 113L55 109M50 94L50 102M56 123L61 124M61 124L64 122M53 126L56 123M70 128L64 122M84 109L91 109M121 87L127 88M131 80L132 83M125 73L126 78M134 74L131 80M117 73L120 80M117 94L118 93M128 102L128 101M113 100L117 96M134 93L128 98M99 82L92 78M102 81L99 82M82 79L88 84M85 96L87 101M207 32L201 25M257 26L257 18M256 15L256 18M172 -9L171 1M169 2L171 1M152 15L144 15M161 15L155 11M144 15L144 15M198 51L200 51M211 56L208 54M111 104L109 109M109 109L102 112M102 112L98 108M103 97L98 99M107 93L104 92M85 94L94 92M200 51L203 46M198 37L198 36M246 23L242 25M254 28L256 27M242 27L242 27M250 14L249 7M210 48L212 47M208 54L210 48M219 53L212 47" stroke="#787878" stroke-width="2.3" fill="none" stroke-linecap="round"/><path d="M184 105L183 98M276 86L275 78M274 77L275 78M272 96L267 101M240 104L243 98M237 94L234 96M248 93L254 95M276 41L284 42M152 67L149 62M22 36L26 37M6 2L2 5M-3 17L-3 16M22 52L20 55M20 48L13 49M14 56L12 49M28 51L27 59M21 45L20 48M7 48L12 49M4 43L13 39M13 39L14 40M177 90L175 89M187 95L183 98M190 80L181 75M177 80L181 75M189 96L196 97M190 102L194 104M187 95L189 96M233 110L231 104M238 116L232 120M232 122L225 128M221 121L223 115M213 107L222 109M235 110L241 107M224 97L228 93M229 87L230 85M230 80L231 83M178 125L183 118M146 116L154 115M134 117L144 122M251 104L260 103M261 91L265 84M218 84L220 89M214 75L219 72M272 122L272 119M261 48L268 52M254 64L256 67M256 67L258 68M262 82L263 83M268 69L275 66M138 27L134 20M132 29L138 38M126 28L124 24M130 30L132 29M167 61L160 67M16 31L18 27M15 22L8 23M-3 16L-6 13M121 38L120 40M26 21L28 19M28 19L25 14M11 102L4 107M9 62L10 60M21 64L22 59M2 67L0 64M21 94L20 97M-6 113L-4 111M-4 111L-0 111M-3 120L6 120M13 74L16 70M78 58L74 59M144 107L144 107M211 108L213 107M211 108L209 110M200 104L207 97M199 88L204 90M204 74L207 70M214 75L207 70M233 123L234 131M222 113L213 115M209 110L209 111M174 119L179 114M183 111L182 114M192 118L184 117M179 114L182 114M256 120L254 120M249 72L248 72M248 72L246 80M249 64L246 71M7 -0L9 -1M86 22L93 21M157 58L157 52M144 70L143 61M184 63L179 62M208 66L203 62M198 63L203 62M4 43L0 37M35 35L40 32M42 29L40 32M48 29L49 36M114 59L111 61M102 33L103 35M99 22L97 23M97 23L96 30M70 9L76 8M81 4L76 8M56 8L56 7M57 1L49 1M31 1L31 1M27 -5L31 1M34 6L31 3M34 6L33 10M134 117L134 117M125 73L119 72M126 65L126 64M-3 80L-1 81M7 80L-1 81M74 65L69 68M142 95L139 96M159 105L155 102M153 84L152 84M269 25L274 17M275 31L275 28M263 33L262 28M230 67L228 59M243 59L238 64M218 53L220 61M131 51L129 52M146 39L150 32M150 30L150 32M33 22L32 20M66 28L57 21M57 21L53 22M54 37L56 30M41 47L45 51M47 51L52 44M69 8L69 7M139 15L135 11M83 -5L85 1M18 -4L22 -3M18 -4L12 -1M19 5L18 6M27 -5L22 -3M16 14L18 6M50 54L53 56M45 51L42 56M73 77L73 77M58 56L60 66M51 66L51 71M33 63L33 65M44 61L34 65M23 107L35 103M31 96L33 96M45 122L45 120M64 103L61 101M64 110L64 103M74 107L67 103M20 97L12 94M19 87L20 86M180 28L178 24M178 22L189 22M189 22L190 28M239 0L235 -9M256 -4L252 2M247 43L251 40M243 38L249 33M218 9L213 9M223 50L219 53M268 7L270 7M277 -2L272 -1M256 -4L262 3M178 22L171 19M203 62L203 57M186 62L183 52M183 52L182 52M176 41L179 35M209 23L212 31M152 43L154 39M80 50L73 48M67 34L69 36M55 38L62 47M123 13L124 7M124 7L129 6M25 123L25 124M37 118L36 118M69 83L64 79M22 75L25 74M37 87L37 81M35 81L37 81M39 107L35 115M41 107L39 107M44 103L44 97M56 93L50 94M84 109L81 104M80 117L80 113M111 118L120 119M128 110L128 115M109 121L105 120M191 38L189 44M213 -2L217 -6M257 6L256 15M237 44L235 46M242 27L232 30M171 11L169 2M149 21L154 20M157 29L150 30M163 9L158 5M143 -8L151 1M98 -2L95 -5M55 109L58 103M80 117L81 117M120 80L119 82M131 86L132 83M141 82L132 83M113 89L117 94M121 87L118 93M119 105L113 102M78 80L82 79M85 73L92 73M111 89L105 83M78 97L85 96M84 89L85 94M230 23L240 22M240 22L237 16M154 20L152 15M142 3L146 11M200 51L203 56M130 -1L139 -8M94 88L95 91M246 23L256 27M256 18L246 22M249 7L245 6M256 15L250 14M211 39L206 39" stroke="#909090" stroke-width="2.3" fill="none" stroke-linecap="round"/><path d="M277 105L275 97M225 128L221 121M276 41L272 44M157 58L149 62M21 45L27 40M10 12L6 14M9 6L6 2M12 49L13 49M14 40L13 49M14 40L16 41M187 93L179 88M195 75L191 70M185 107L190 102M197 89L197 95M222 108L228 104M232 103L231 104M203 125L196 122M267 101L264 101M264 101L262 101M274 77L270 76M228 91L220 89M218 98L217 97M243 109L243 110M237 125L242 118M261 38L265 42M267 73L266 73M264 59L264 61M256 79L261 72M262 82L266 73M140 37L142 28M124 24L130 19M169 79L165 83M22 36L16 31M40 44L34 42M106 51L102 50M26 21L16 19M-1 60L-10 62M21 94L31 96M10 117L6 120M2 71L2 71M200 104L198 103M205 96L204 90M212 90L205 89M213 115L213 120M206 125L207 124M174 119L171 112M185 109L183 111M261 112L260 113M249 72L255 80M255 80L252 84M10 -9L9 -1M105 25L104 24M121 49L114 53M172 56L178 57M207 70L208 66M7 33L0 37M0 37L-2 35M4 26L5 26M13 34L7 33M33 28L24 27M24 27L24 27M18 27L24 27M40 44L42 41M87 35L93 34M45 14L49 19M46 -8L49 1M34 6L43 6M31 3L31 1M16 126L15 120M125 62L120 56M-3 80L-3 80M142 95L149 95M144 107L146 105M155 85L153 84M155 85L158 78M145 77L142 73M269 25L275 28M274 17L275 17M242 54L243 59M242 54L235 52M234 52L235 52M214 65L220 61M198 11L197 4M36 15L32 20M42 25L39 23M78 40L78 37M22 -3L19 5M9 -1L12 -1M24 7L19 5M21 116L22 112M66 59L63 54M66 59L62 67M16 70L22 75M19 80L18 82M21 64L27 69M33 96L34 96M35 103L34 96M12 94L13 90M21 94L19 87M19 87L13 90M188 2L193 -3M201 -3L200 -3M204 -1L207 -2M222 13L225 11M212 15L213 9M221 17L222 13M243 38L240 37M178 22L180 16M186 52L183 52M170 48L170 48M218 26L216 22M212 31L212 31M78 37L75 33M60 38L64 45M70 40L64 45M117 1L123 -2M117 1L111 -6M34 122L34 122M56 80L57 77M46 83L46 84M56 80L52 81M47 78L47 81M45 87L46 84M34 96L36 96M37 105L39 107M43 110L49 111M74 107L75 107M111 118L109 121M129 107L128 110M105 120L98 124M120 109L119 105M195 14L188 7M195 16L190 20M235 52L235 46M232 30L229 34M222 28L226 21M242 28L242 27M141 3L140 -7M190 45L193 46M163 37L167 37M167 37L169 37M58 103L50 102M50 115L55 119M90 114L81 117M95 121L93 121M88 84L88 84M81 104L87 101M85 96L85 94M144 15L146 11M246 22L246 23M204 46L206 39" stroke="#a7a7a7" stroke-width="2.3" fill="none" stroke-linecap="round"/><path d="M26 37L27 40M7 48L4 43M20 55L14 56M22 59L20 55M181 75L181 73M196 97L198 103M197 95L196 97M260 103L261 112M238 116L241 117M261 38L254 42M275 66L279 67M159 87L164 84M16 31L13 34M8 23L7 24M15 22L16 19M16 14L17 15M16 19L17 15M76 19L70 13M17 15L25 14M12 111L15 103M11 102L15 103M4 107L4 108M16 69L11 68M6 120L6 120M10 114L10 117M7 74L6 73M143 109L144 107M217 97L212 96M209 97L207 97M199 88L200 85M209 111L207 124M152 67L144 70M146 60L143 61M184 63L186 62M157 52L157 52M7 33L5 26M24 27L27 36M27 36L30 33M34 42L35 35M40 32L40 32M62 18L60 18M61 12L56 10M275 28L275 28M269 25L267 25M198 11L204 11M277 -2L274 -11M121 49L124 49M39 23L33 22M130 19L128 14M18 6L18 6M23 111L22 112M57 48L52 44M37 118L45 122M-1 86L5 89M184 -4L188 2M215 1L213 -2M228 3L226 2M251 34L249 33M212 8L205 11M276 17L275 17M196 63L193 58M170 48L177 41M168 50L170 48M34 122L35 126M27 69L27 72M43 89L45 87M27 112L28 113M129 115L128 115M207 -2L210 -9M257 6L253 4M221 17L226 21M151 1L151 1M50 110L50 102M111 89L107 93M262 28L257 26M151 9L146 11M197 41L203 46M250 14L247 14" stroke="#bfbfbf" stroke-width="2.3" fill="none" stroke-linecap="round"/><path d="M152 67L157 70M22 36L16 41M22 52L20 48M189 82L180 85M224 97L218 98M228 91L228 93M165 118L163 119M260 103L262 101M239 83L240 78M261 37L261 38M270 76L267 73M149 21L144 15M13 39L13 34M13 34L7 24M-6 13L-4 6M0 64L-1 60M18 103L22 105M-3 80L2 71M130 39L138 39M33 28L30 33M35 35L30 33M42 41L43 37M56 8L46 8M43 6L45 7M46 8L45 7M33 10L26 13M148 83L152 84M228 59L228 59M228 59L226 51M33 10L36 15M9 6L18 6M15 103L18 103M27 59L33 63M34 65L39 71M67 103L72 94M3 95L5 89M-0 99L-0 97M222 -8L223 0M248 -1L252 2M192 57L193 58M73 48L70 50M64 45L64 47M57 48L62 47M135 11L137 5M21 116L25 122M37 76L37 80M36 96L44 97M50 94L49 94M174 11L180 6M237 38L237 44M218 26L222 28M163 9L165 1M168 24L168 26M170 48L167 37M113 100L113 102M212 31L207 32M94 92L95 98M100 104L98 99" stroke="#d6d6d6" stroke-width="2.3" fill="none" stroke-linecap="round"/><path d="M214 6h0M249 3h0M127 10h0M150 12h0M159 11h0M180 11h0M247 10h0M59 14h0M157 17h0M128 24h0M248 26h0M9 30h0M28 30h0M44 32h0M78 32h0M89 32h0M214 41h0M219 38h0M17 44h0M56 44h0M94 67h0M124 70h0M65 84h0M261 88h0M106 90h0M146 93h0M102 101h0M53 105h0M132 105h0M149 106h0M156 107h0M175 115h0M29 121h0M42 119h0M65 126h0" stroke="#1c1c1c" stroke-width="3.6" stroke-linecap="round" fill="none"/><path d="M13 -5h0M40 -6h0M81 0h0M133 -6h0M167 -3h0M218 -3h0M240 -4h0M246 -4h0M252 -3h0M10 2h0M18 1h0M45 -1h0M91 4h0M94 -1h0M112 1h0M161 3h0M202 4h0M209 0h0M221 5h0M241 3h0M275 2h0M6 9h0M30 8h0M59 9h0M75 12h0M82 8h0M133 7h0M185 10h0M207 7h0M280 8h0M30 15h0M36 19h0M55 18h0M138 21h0M149 17h0M190 14h0M211 20h0M234 19h0M243 19h0M269 21h0M20 24h0M29 23h0M63 21h0M100 26h0M132 26h0M173 23h0M184 25h0M213 27h0M220 22h0M238 26h0M253 22h0M274 23h0M3 31h0M22 33h0M34 32h0M71 32h0M146 32h0M167 33h0M175 35h0M183 32h0M210 35h0M218 30h0M225 34h0M243 34h0M247 30h0M30 38h0M50 38h0M60 42h0M74 38h0M133 42h0M159 39h0M171 42h0M180 40h0M187 39h0M193 42h0M241 41h0M248 38h0M255 37h0M265 38h0M273 38h0M280 39h0M9 45h0M52 51h0M97 47h0M128 48h0M136 49h0M157 46h0M177 46h0M185 48h0M24 55h0M45 56h0M120 52h0M125 55h0M134 55h0M160 54h0M205 50h0M213 52h0M230 56h0M269 57h0M-6 63h0M4 61h0M13 64h0M27 63h0M96 61h0M106 61h0M120 59h0M129 61h0M138 63h0M147 64h0M162 63h0M192 62h0M199 61h0M225 62h0M244 65h0M251 61h0M270 65h0M-1 68h0M11 71h0M68 73h0M74 69h0M87 70h0M100 68h0M131 69h0M141 68h0M180 67h0M187 66h0M230 71h0M250 68h0M12 79h0M17 75h0M29 78h0M33 77h0M68 79h0M96 76h0M122 75h0M149 79h0M155 79h0M226 76h0M244 75h0M250 79h0M265 79h0M-4 84h0M4 84h0M33 85h0M41 84h0M51 85h0M73 83h0M92 83h0M109 85h0M117 88h0M144 85h0M150 87h0M159 83h0M169 83h0M176 85h0M204 85h0M210 85h0M223 87h0M236 86h0M257 83h0M43 92h0M60 91h0M99 94h0M113 93h0M123 91h0M139 92h0M200 91h0M261 95h0M48 99h0M108 99h0M122 96h0M178 101h0M194 100h0M222 101h0M230 100h0M249 98h0M9 108h0M33 110h0M46 107h0M80 107h0M88 106h0M125 106h0M139 107h0M189 106h0M219 105h0M235 106h0M249 107h0M32 117h0M64 115h0M96 111h0M123 113h0M195 117h0M240 112h0M245 115h0M271 110h0M1 124h0M60 120h0M70 123h0M79 121h0M114 122h0M124 119h0M181 124h0M210 117h0M236 120h0M242 123h0M248 121h0M260 122h0M276 121h0M31 127h0" stroke="#1c1c1c" stroke-width="4.6" stroke-linecap="round" fill="none"/><path d="M31 -5h0M53 -4h0M69 -6h0M79 -6h0M107 -6h0M144 -2h0M188 -4h0M260 -5h0M272 -7h0M1 1h0M26 1h0M35 2h0M63 3h0M72 1h0M74 6h0M102 2h0M121 6h0M127 1h0M147 6h0M154 3h0M183 2h0M194 0h0M234 -3h0M257 3h0M267 1h0M-2 10h0M14 9h0M21 10h0M40 10h0M67 12h0M91 11h0M101 10h0M141 10h0M167 8h0M210 12h0M224 8h0M232 8h0M239 11h0M253 9h0M272 12h0M4 18h0M13 17h0M22 18h0M43 19h0M71 19h0M97 17h0M105 18h0M132 16h0M183 19h0M226 16h0M252 16h0M262 17h0M3 23h0M38 27h0M72 27h0M92 26h0M109 24h0M120 27h0M176 28h0M206 26h0M262 23h0M279 21h0M52 32h0M61 34h0M98 34h0M106 32h0M113 30h0M126 32h0M133 35h0M138 31h0M193 33h0M201 32h0M-2 41h0M7 37h0M15 36h0M22 40h0M39 37h0M66 39h0M83 37h0M93 39h0M101 40h0M110 40h0M117 36h0M126 40h0M142 42h0M150 40h0M202 40h0M1 50h0M68 46h0M105 48h0M114 49h0M120 44h0M151 49h0M165 45h0M192 50h0M198 47h0M209 44h0M226 42h0M230 49h0M240 48h0M249 45h0M268 47h0M-4 56h0M17 51h0M31 56h0M39 53h0M61 51h0M67 54h0M75 54h0M92 54h0M111 55h0M143 55h0M151 57h0M168 56h0M175 52h0M188 57h0M197 55h0M222 54h0M246 55h0M254 53h0M262 53h0M18 60h0M37 61h0M50 61h0M56 60h0M62 61h0M88 62h0M113 64h0M155 64h0M174 62h0M182 58h0M207 59h0M234 63h0M258 62h0M277 63h0M6 68h0M22 70h0M33 70h0M108 69h0M120 68h0M162 72h0M168 66h0M195 70h0M256 73h0M264 68h0M273 71h0M-4 74h0M2 76h0M52 78h0M61 78h0M88 77h0M104 77h0M129 75h0M163 79h0M187 74h0M201 78h0M209 77h0M235 79h0M261 77h0M278 75h0M58 84h0M100 86h0M126 83h0M136 86h0M185 87h0M194 83h0M227 83h0M244 83h0M281 82h0M-1 92h0M8 92h0M17 92h0M36 93h0M51 91h0M70 90h0M80 92h0M130 92h0M154 91h0M163 89h0M173 93h0M181 94h0M208 94h0M216 90h0M223 94h0M232 91h0M243 93h0M253 90h0M266 89h0M-5 99h0M4 100h0M30 101h0M39 102h0M56 98h0M74 101h0M82 100h0M90 97h0M119 101h0M151 100h0M159 99h0M187 100h0M201 99h0M237 99h0M256 100h0M267 96h0M281 99h0M-0 107h0M19 108h0M29 107h0M68 108h0M166 105h0M179 106h0M197 108h0M244 103h0M257 109h0M264 105h0M15 115h0M25 115h0M39 113h0M46 114h0M54 113h0M74 114h0M85 113h0M93 117h0M117 116h0M132 113h0M141 115h0M149 111h0M171 118h0M206 117h0M214 110h0M233 114h0M266 115h0M278 115h0M10 122h0M21 123h0M38 122h0M49 122h0M87 120h0M100 119h0M105 124h0M128 121h0M148 121h0M157 122h0M179 119h0M202 117h0M211 124h0M227 120h0M268 123h0M220 127h0M253 125h0" stroke="#1c1c1c" stroke-width="5.6" stroke-linecap="round" fill="none"/><path d="M88 -4h0M118 -5h0M151 -6h0M175 -4h0M227 -2h0M52 5h0M136 -1h0M174 6h0M51 13h0M109 9h0M117 10h0M192 8h0M261 10h0M81 17h0M89 18h0M114 19h0M124 17h0M165 17h0M174 15h0M201 15h0M217 13h0M-3 29h0M12 26h0M48 24h0M59 26h0M83 27h0M144 23h0M153 25h0M162 25h0M227 27h0M156 33h0M236 33h0M258 30h0M270 29h0M233 41h0M25 47h0M35 47h0M46 46h0M78 45h0M88 45h0M219 47h0M259 45h0M278 46h0M9 55h0M84 54h0M101 54h0M238 56h0M68 63h0M79 64h0M216 60h0M42 66h0M48 70h0M57 69h0M150 72h0M203 68h0M212 69h0M221 68h0M239 71h0M42 77h0M79 75h0M114 77h0M138 77h0M175 74h0M184 80h0M218 79h0M14 86h0M23 81h0M83 84h0M272 82h0M27 91h0M90 90h0M192 93h0M275 92h0M14 99h0M22 99h0M65 98h0M133 100h0M143 101h0M168 99h0M214 100h0M272 102h0M60 107h0M95 103h0M105 106h0M115 108h0M175 111h0M206 105h0M226 110h0M-1 116h0M6 114h0M163 113h0M187 113h0M218 118h0M255 115h0M166 124h0M189 122h0" stroke="#1c1c1c" stroke-width="6.6" stroke-linecap="round" fill="none"/><path d="M195 23h0M107 115h0M138 123h0" stroke="#1c1c1c" stroke-width="7.7" stroke-linecap="round" fill="none"/><circle cx="168" cy="26" r="1.8" fill="#dbdbdb"/><circle cx="115" cy="26" r="1.8" fill="#888888"/><circle cx="177" cy="2" r="1.7" fill="#b8b8b8"/><circle cx="127" cy="88" r="1.8" fill="#c0c0c0"/><circle cx="129" cy="6" r="1.6" fill="#c3c3c3"/><circle cx="55" cy="119" r="2.2" fill="#c7c7c7"/><circle cx="218" cy="84" r="1.5" fill="#c0c0c0"/><circle cx="82" cy="32" r="1.8" fill="#b8b8b8"/><circle cx="126" cy="78" r="2.1" fill="#949494"/><circle cx="213" cy="107" r="1.6" fill="#c0c0c0"/><circle cx="58" cy="103" r="2.2" fill="#b6b6b6"/><circle cx="40" cy="32" r="2.0" fill="#f5f5f5"/><circle cx="178" cy="22" r="1.5" fill="#989898"/><circle cx="267" cy="101" r="1.4" fill="#e5e5e5"/><circle cx="202" cy="23" r="1.4" fill="#cdcdcd"/><circle cx="180" cy="28" r="1.9" fill="#c7c7c7"/><circle cx="167" cy="61" r="2.4" fill="#c2c2c2"/><circle cx="8" cy="81" r="2.4" fill="#eeeeee"/><circle cx="170" cy="71" r="1.4" fill="#bbbbbb"/><circle cx="13" cy="90" r="1.4" fill="#e1e1e1"/><circle cx="7" cy="87" r="1.5" fill="#d3d3d3"/><circle cx="105" cy="6" r="1.4" fill="#949494"/><circle cx="98" cy="64" r="1.4" fill="#c1c1c1"/><circle cx="42" cy="25" r="1.3" fill="#c1c1c1"/><circle cx="78" cy="40" r="2.4" fill="#929292"/><circle cx="69" cy="8" r="2.2" fill="#939393"/><circle cx="107" cy="93" r="1.6" fill="#c2c2c2"/><circle cx="66" cy="28" r="2.3" fill="#c3c3c3"/><circle cx="141" cy="82" r="2.0" fill="#d4d4d4"/><circle cx="50" cy="115" r="2.2" fill="#d4d4d4"/><circle cx="45" cy="14" r="1.7" fill="#e2e2e2"/><circle cx="55" cy="119" r="2.1" fill="#dddddd"/><circle cx="154" cy="10" r="2.2" fill="#9c9c9c"/><circle cx="141" cy="82" r="2.0" fill="#949494"/><circle cx="257" cy="6" r="1.4" fill="#c7c7c7"/><circle cx="127" cy="88" r="1.3" fill="#cecece"/><circle cx="14" cy="56" r="1.8" fill="#d8d8d8"/><circle cx="96" cy="30" r="1.5" fill="#a8a8a8"/><circle cx="192" cy="57" r="1.6" fill="#c3c3c3"/><circle cx="229" cy="3" r="1.8" fill="#acacac"/><circle cx="119" cy="113" r="1.3" fill="#dfdfdf"/><circle cx="57" cy="21" r="1.6" fill="#cdcdcd"/><circle cx="2" cy="67" r="2.0" fill="#e7e7e7"/><circle cx="249" cy="33" r="1.4" fill="#d3d3d3"/><circle cx="230" cy="80" r="1.4" fill="#e2e2e2"/><circle cx="0" cy="64" r="1.8" fill="#c8c8c8"/><circle cx="251" cy="103" r="1.8" fill="#d4d4d4"/><circle cx="41" cy="71" r="2.1" fill="#aeaeae"/><circle cx="80" cy="117" r="1.6" fill="#bebebe"/><circle cx="119" cy="113" r="1.5" fill="#cecece"/><circle cx="8" cy="23" r="2.4" fill="#fcfcfc"/><circle cx="195" cy="75" r="2.0" fill="#999999"/><circle cx="128" cy="55" r="1.5" fill="#b1b1b1"/><circle cx="241" cy="117" r="2.0" fill="#a2a2a2"/><circle cx="131" cy="80" r="2.1" fill="#8d8d8d"/><circle cx="31" cy="3" r="2.1" fill="#cdcdcd"/><circle cx="111" cy="89" r="1.4" fill="#d3d3d3"/><circle cx="111" cy="113" r="2.3" fill="#a0a0a0"/><circle cx="74" cy="93" r="1.6" fill="#bcbcbc"/><circle cx="26" cy="21" r="1.9" fill="#ededed"/><circle cx="217" cy="19" r="2.0" fill="#c8c8c8"/><circle cx="3" cy="95" r="1.8" fill="#a6a6a6"/><circle cx="13" cy="34" r="1.7" fill="#e1e1e1"/><circle cx="165" cy="118" r="1.5" fill="#a1a1a1"/><circle cx="229" cy="34" r="2.2" fill="#9f9f9f"/><circle cx="212" cy="96" r="2.3" fill="#d0d0d0"/><circle cx="159" cy="93" r="1.9" fill="#d7d7d7"/><circle cx="268" cy="42" r="2.2" fill="#a5a5a5"/><circle cx="218" cy="26" r="1.7" fill="#cdcdcd"/><circle cx="95" cy="44" r="2.2" fill="#c8c8c8"/><circle cx="91" cy="109" r="1.9" fill="#e0e0e0"/><circle cx="248" cy="50" r="1.6" fill="#d8d8d8"/><circle cx="213" cy="107" r="1.9" fill="#cbcbcb"/><circle cx="82" cy="66" r="2.3" fill="#a5a5a5"/><circle cx="127" cy="70" r="1.7" fill="#afafaf"/><circle cx="45" cy="51" r="1.5" fill="#d4d4d4"/><circle cx="119" cy="105" r="2.0" fill="#b7b7b7"/><circle cx="237" cy="94" r="1.8" fill="#e0e0e0"/><circle cx="42" cy="15" r="1.6" fill="#cdcdcd"/><circle cx="46" cy="8" r="1.8" fill="#cbcbcb"/><circle cx="261" cy="91" r="2.1" fill="#e6e6e6"/><circle cx="94" cy="88" r="2.2" fill="#c6c6c6"/><circle cx="124" cy="24" r="1.6" fill="#b6b6b6"/><circle cx="109" cy="109" r="2.0" fill="#a4a4a4"/><circle cx="66" cy="59" r="1.6" fill="#ababab"/><circle cx="16" cy="69" r="1.7" fill="#dddddd"/><circle cx="35" cy="35" r="1.4" fill="#ffffff"/><circle cx="145" cy="77" r="1.7" fill="#d7d7d7"/><circle cx="203" cy="57" r="2.3" fill="#a5a5a5"/><circle cx="115" cy="41" r="1.6" fill="#9b9b9b"/><circle cx="194" cy="104" r="1.5" fill="#c4c4c4"/><circle cx="199" cy="88" r="2.1" fill="#adadad"/><circle cx="184" cy="105" r="1.3" fill="#d6d6d6"/><circle cx="267" cy="101" r="1.7" fill="#c1c1c1"/><circle cx="173" cy="102" r="1.7" fill="#c8c8c8"/><circle cx="101" cy="114" r="2.1" fill="#9f9f9f"/><circle cx="195" cy="75" r="1.4" fill="#dadada"/><circle cx="18" cy="64" r="1.9" fill="#cccccc"/><circle cx="212" cy="90" r="1.4" fill="#cdcdcd"/><circle cx="148" cy="83" r="1.9" fill="#969696"/><circle cx="198" cy="11" r="1.3" fill="#d5d5d5"/><circle cx="211" cy="108" r="1.8" fill="#b6b6b6"/><circle cx="29" cy="86" r="2.0" fill="#c5c5c5"/><circle cx="121" cy="87" r="1.8" fill="#939393"/><circle cx="130" cy="39" r="1.4" fill="#b3b3b3"/><circle cx="167" cy="61" r="1.5" fill="#b4b4b4"/><circle cx="197" cy="95" r="2.1" fill="#9e9e9e"/></g><polygon points="0.0,0.0 274.0,0.0 274.0,7.3 0.0,7.3" fill="#000"/><polygon points="0.0,0.0 8.0,0.0 7.5,120.0 0.0,120.0" fill="#000"/><polygon points="264.5,0.0 274.0,0.0 274.0,120.0 265.0,120.0" fill="#000"/>
</svg>
<svg x="383.9" y="351.6" width="274.1" height="120.2" viewBox="0 0 274.1 120.2" overflow="hidden">
<defs><filter id="nzg" x="0" y="0" width="100%" height="100%" color-interpolation-filters="sRGB"><feTurbulence type="fractalNoise" baseFrequency="0.12" numOctaves="2" seed="14"/><feColorMatrix type="matrix" values="0.28 0 0 0 0.0 0.28 0 0 0 0.0 0.28 0 0 0 0.0 0 0 0 0 1"/></filter><filter id="blg" x="0" y="0" width="100%" height="100%" color-interpolation-filters="sRGB"><feTurbulence type="fractalNoise" baseFrequency="0.08" numOctaves="2" seed="64"/><feColorMatrix type="matrix" values="1.8 0 0 0 0.05 1.8 0 0 0 0.05 1.8 0 0 0 0.05 0 0 0 0 1" result="m"/><feComposite in="SourceGraphic" in2="m" operator="arithmetic" k1="1" k2="0" k3="0" k4="0"/><feGaussianBlur stdDeviation="1.6"/></filter></defs><g filter="url(#blg)"><rect width="274.1" height="120.2" filter="url(#nzg)"/><path d="M-3 20L-2 19M257 5L252 8M245 -1L245 1M244 -3L245 -8M253 -2L252 -10M257 5L259 6M257 1L261 -4M259 6L263 6M263 6L269 -1M269 -1L261 -4M261 -4L261 -4M124 -2L120 -0M120 -0L113 -5M121 8L129 6M121 8L118 4M129 6L127 1M121 15L125 16M121 15L121 8M129 6L130 7M102 19L103 17M102 19L105 26M105 26L106 26M115 23L114 31M114 22L115 23M106 27L114 31M121 15L116 15M116 15L114 22M126 19L125 16M126 19L121 26M276 28L282 20M270 37L279 32M259 6L261 16M261 16L255 16M255 16L248 13M245 1L241 7M248 13L247 14M281 20L273 19M263 6L267 8M267 8L265 16M261 16L264 18M265 16L264 18M275 5L275 5M275 9L275 10M241 23L238 22M241 23L246 18M238 22L237 15M241 7L238 7M238 7L235 10M8 21L-1 17M-1 17L1 14M-2 19L-1 17M9 23L9 26M10 14L8 16M10 14L15 17M9 23L15 17M206 22L213 25M206 22L207 29M213 25L212 32M207 29L212 32M215 24L213 25M204 32L207 29M225 13L229 20M225 13L218 15M218 15L218 18M218 18L215 24M223 30L225 28M238 22L235 22M235 13L230 20M225 13L227 9M227 9L235 10M241 23L242 26M242 29L242 26M235 22L233 28M245 33L242 29M226 58L227 51M130 21L133 21M129 10L137 16M104 9L108 12M104 9L111 4M113 11L113 6M116 15L113 11M106 16L108 12M118 4L113 6M113 -5L108 0M108 0L111 4M129 30L137 27M130 21L129 30M133 21L138 25M138 25L137 27M215 14L218 15M215 14L216 10M227 9L226 6M216 10L221 4M226 6L221 4M144 27L151 29M264 18L270 20M264 18L261 25M264 28L261 25M264 28L271 28M270 20L272 27M272 27L271 28M270 37L271 28M265 37L264 28M269 -7L271 -1M273 -0L271 -1M273 -0L277 -7M269 -1L271 -1M275 5L273 -0M7 6L6 0M7 6L0 10M-6 6L0 10M-6 6L-3 -2M6 0L2 -5M-3 -2L2 -5M10 14L10 7M1 14L0 10M10 7L7 6M-7 -4L-3 -2M27 24L24 28M23 19L19 15M27 20L27 24M15 17L17 16M19 14L16 7M19 14L19 15M99 30L94 26M94 26L94 18M189 107L189 98M198 25L192 26M192 26L189 34M259 26L253 23M251 23L253 23M261 25L259 26M245 33L251 33M246 18L251 23M144 27L141 25M103 17L100 8M100 8L100 8M127 1L131 -1M131 -1L138 2M197 -4L204 -4M205 -5L204 -4M212 14L207 9M207 9L206 20M215 14L212 14M206 22L205 21M204 7L207 9M205 21L204 21M204 21L203 7M151 29L155 22M150 21L155 22M155 22L155 22M131 -1L135 -8M135 -8L140 0M28 10L32 16M36 25L32 16M32 16L32 16M16 7L17 6M28 10L28 8M28 8L24 5M17 6L24 5M46 24L47 23M70 -6L69 -3M69 -3L73 1M58 -3L62 -5M58 -3L58 3M58 3L63 4M63 4L66 -3M62 -5L66 -3M58 -3L57 -4M88 53L82 47M140 0L142 0M147 -7L146 -3M224 -6L219 -0M219 -0L213 -1M214 -6L213 -1M213 -1L213 -1M210 4L213 -1M221 4L219 -0M225 -6L232 -1M235 -11L235 -3M235 -3L233 -1M233 -1L232 -1M226 6L232 -1M244 -3L235 -3M238 7L233 -1M41 19L40 15M32 16L38 14M28 8L31 5M31 5L39 5M6 0L13 -3M17 6L17 2M13 -3L17 2M69 26L69 26M80 30L73 30M60 20L61 22M70 14L68 19M60 16L60 20M68 19L61 22M68 19L69 26M47 23L49 22M64 7L63 4M64 7L71 9M73 1L72 5M71 9L72 5M83 20L81 13M83 20L79 23M75 22L70 14M70 14L72 11M85 20L83 20M57 13L64 7M71 9L72 11M80 -2L83 1M83 1L89 0M72 5L82 6M83 1L82 6M94 18L94 18M85 20L93 18M100 8L99 8M94 18L99 8M187 33L181 28M177 29L181 28M104 -5L103 -1M103 -1L102 -0M89 0L90 1M108 0L103 -1M100 8L102 -0M156 8L159 13M156 8L164 9M160 14L159 13M153 14L159 13M153 14L155 22M158 19L155 22M158 19L160 14M154 3L153 6M154 3L157 1M164 9L164 2M146 -3L154 3M177 5L176 -1M177 5L171 6M171 6L166 0M172 -2L167 -1M167 -1L166 0M167 12L171 6M167 12L166 12M172 -11L172 -2M163 -8L167 -1M191 -5L186 -3M186 -3L181 -4M197 -4L193 -3M193 -3L191 -5M176 -1L181 -4M199 6L195 3M195 3L186 7M151 12L145 16M153 6L145 6M145 16L144 16M144 16L141 14M153 6L153 6M153 14L151 12M155 22L155 22M137 16L141 14M43 14L46 4M53 12L52 7M52 7L51 5M51 5L46 4M57 13L53 12M49 22L49 15M40 15L43 14M16 -9L22 -2M28 -4L29 -6M28 -4L24 -2M24 5L24 -2M31 5L30 1M30 1L28 -4M90 12L91 6M82 9L91 6M99 8L91 6M81 13L82 12M82 6L82 9M90 1L91 6M225 86L226 87M168 28L168 28M168 28L167 20M200 21L194 15M194 15L194 14M181 28L186 23M189 24L186 23M180 8L182 17M182 17L185 18M186 7L186 7M186 23L185 18M41 2L41 2M38 -2L36 -7M30 1L38 -2M51 -4L46 -4M177 29L177 28M177 28L177 19M168 28L176 28M171 16L176 18M171 16L169 15M169 15L179 8M169 15L169 15M176 18L179 8M176 28L171 16M177 19L176 18M167 12L169 15M177 5L179 8M180 8L179 8" stroke="#2e2e2e" stroke-width="2.3" fill="none" stroke-linecap="round"/><path d="M-8 25L-3 20M260 82L266 81M257 81L255 75M245 -1L253 -2M252 8L245 1M257 1L253 -2M245 -1L244 -3M205 119L197 120M181 73L177 74M277 99L277 101M261 62L264 62M267 73L269 71M274 45L274 42M274 47L278 52M124 -5L124 -2M124 -2L127 1M129 10L125 16M129 10L130 7M124 74L121 73M119 74L119 81M103 43L104 42M103 43L100 52M115 23L121 26M131 54L136 52M124 46L122 37M122 27L127 33M274 42L283 36M269 38L269 38M241 7L247 14M281 16L275 10M275 5L267 8M275 5L275 9M265 16L275 9M282 5L275 5M246 18L247 14M247 14L237 15M235 10L235 13M237 15L235 13M1 111L6 110M25 63L18 66M8 21L9 23M-2 59L1 58M67 112L62 118M104 37L99 32M194 77L190 79M212 76L205 74M215 24L223 30M199 28L196 34M225 24L229 20M225 24L225 28M229 20L230 20M235 36L233 36M235 36L237 31M233 36L229 29M225 28L229 29M216 42L218 36M227 41L222 46M228 50L227 51M269 38L265 37M137 16L133 21M120 55L118 60M113 6L111 4M194 121L192 128M27 112L19 113M273 19L270 20M276 28L272 27M45 111L47 107M32 81L35 83M16 28L24 28M18 38L24 37M36 36L31 43M27 24L32 27M16 27L17 16M19 15L17 16M27 20L23 19M10 7L16 7M41 29L46 24M46 24L41 19M36 25L37 26M99 68L99 70M102 123L101 121M68 122L74 120M46 91L49 94M94 37L96 42M192 87L190 79M217 119L217 119M222 124L219 123M179 105L176 103M171 80L173 86M135 94L136 86M134 77L134 78M140 103L145 106M187 66L189 63M206 66L202 62M244 65L240 67M259 26L255 34M250 26L251 33M255 34L253 34M255 16L253 23M242 26L250 26M144 27L144 27M130 7L136 6M138 2L136 6M212 14L206 20M205 21L206 20M216 10L210 4M210 4L204 7M204 7L203 7M174 41L178 32M181 37L178 32M187 33L189 34M138 2L140 0M127 120L128 118M129 113L128 118M151 124L148 127M14 94L9 97M13 79L3 78M19 14L28 10M27 20L32 16M49 30L47 23M73 1L80 -2M78 54L79 57M71 102L75 106M37 88L43 86M89 34L81 35M89 28L89 34M143 79L145 73M146 -3L142 0M183 118L179 121M205 -5L213 -1M204 -4L202 6M40 15L38 14M38 14L39 5M69 26L73 30M69 26L65 28M60 20L50 23M61 22L61 28M53 26L59 30M59 30L61 28M65 28L61 28M49 22L50 23M75 22L79 23M81 13L72 11M80 30L79 23M87 27L85 20M69 26L75 22M60 16L57 13M89 -5L89 0M94 18L93 18M176 118L175 118M238 94L236 92M242 116L235 116M227 115L225 110M95 -9L97 -2M166 12L164 9M166 12L160 14M153 6L156 8M164 2L157 1M176 -1L172 -2M164 2L166 0M202 6L199 6M174 41L168 42M168 30L166 36M145 6L141 12M141 14L141 12M150 21L145 16M142 0L145 6M136 6L141 12M141 25L144 16M151 124L153 124M39 45L35 47M31 43L35 47M49 15L53 12M58 3L52 7M51 -4L51 5M24 -2L22 -2M13 -3L16 -9M17 2L22 -2M93 89L89 97M91 6L91 6M236 105L234 108M161 27L168 28M168 30L168 28M199 6L194 14M192 26L189 24M194 15L189 24M180 8L186 7M191 14L185 18M41 2L38 -2M41 2L46 -4M39 5L41 2M68 71L68 71M77 84L72 78M167 20L169 15" stroke="#4a4a4a" stroke-width="2.3" fill="none" stroke-linecap="round"/><path d="M234 119L241 125M1 37L-5 36M265 122L258 125M253 123L254 125M267 73L266 81M123 84L122 87M127 92L126 92M113 43L115 37M115 37L115 36M27 112L32 117M50 124L46 116M39 124L39 120M210 123L207 124M202 127L195 121M187 66L186 70M186 75L186 70M253 123L259 116M273 117L277 115M272 90L273 96M273 96L277 99M260 66L262 71M260 66L252 68M252 68L251 69M278 83L269 84M269 84L269 84M279 73L278 74M274 42L269 38M282 47L274 45M282 53L278 52M127 92L132 96M134 77L131 71M138 67L134 66M138 67L141 71M128 64L133 66M135 61L134 66M135 61L131 55M128 64L126 56M124 74L129 82M121 73L119 74M95 59L104 62M122 27L115 33M108 35L106 27M145 49L145 49M127 56L126 46M122 37L127 33M113 130L109 124M102 123L106 125M252 8L248 13M-0 115L1 111M21 56L16 63M38 108L38 101M29 103L35 100M29 103L25 101M35 100L29 91M5 28L9 26M-7 55L2 50M-1 45L2 50M8 42L2 50M22 55L19 51M3 50L8 53M127 103L127 110M126 103L116 105M118 120L113 118M119 127L119 121M55 115L60 119M57 125L60 119M65 107L67 112M60 119L62 118M105 26L99 30M195 73L187 66M186 79L186 75M205 111L207 113M207 113L207 114M202 105L198 105M202 105L205 111M199 113L196 111M195 121L194 121M177 76L183 80M210 65L216 70M205 74L204 72M205 74L201 82M221 34L223 30M212 32L212 32M218 18L225 24M227 38L233 36M242 38L236 39M236 43L230 45M216 42L222 46M262 51L260 52M255 43L258 51M261 62L259 58M260 103L258 102M257 92L265 94M257 92L255 94M253 106L258 102M257 91L257 92M212 107L213 106M197 95L195 96M235 58L232 60M215 56L216 54M254 84L254 84M257 81L254 84M260 40L261 37M265 37L261 37M273 64L272 59M113 66L118 62M118 60L118 62M106 60L109 60M112 70L104 64M110 75L114 84M127 33L129 35M127 33L129 30M137 27L137 35M189 50L196 47M188 39L189 34M170 61L170 59M144 27L143 35M145 36L152 32M31 118L28 126M264 18L264 18M32 62L35 70M17 72L23 74M41 65L35 70M55 109L56 101M47 107L47 103M45 101L47 103M2 100L-7 98M8 70L5 71M5 71L-1 67M35 87L35 83M32 81L24 83M24 89L28 91M40 93L37 88M37 88L35 87M20 91L16 90M20 96L20 91M8 42L9 41M15 29L16 28M9 26L15 29M6 37L15 33M32 27L31 33M16 28L16 27M41 35L41 29M66 103L63 100M93 125L94 122M94 122L101 121M62 118L68 122M57 70L61 67M64 61L61 67M64 93L55 92M45 101L49 94M63 100L64 93M199 88L201 82M206 85L205 83M189 111L185 113M210 123L217 119M207 114L217 119M217 119L219 114M178 94L187 97M178 94L178 89M187 89L187 97M176 103L175 96M167 90L169 95M173 86L178 89M183 80L182 86M153 57L152 66M132 96L135 94M132 82L134 78M140 103L143 97M150 103L145 106M140 95L143 97M204 59L202 54M202 54L199 53M189 57L189 63M211 59L204 59M189 34L189 34M207 51L204 46M205 38L207 41M197 48L196 47M216 42L214 43M197 48L199 53M245 42L239 48M239 48L239 48M251 50L249 47M244 65L246 58M242 50L244 56M251 69L244 65M232 60L233 66M240 67L240 67M247 76L243 75M243 75L240 68M240 67L240 68M253 34L251 33M184 42L183 42M159 64L156 58M141 124L143 117M141 124L136 122M136 119L139 113M128 118L136 119M145 109L153 111M148 117L153 111M145 109L145 106M50 64L48 60M56 51L59 51M50 65L50 64M69 50L70 47M43 36L47 36M47 36L52 36M48 48L47 48M5 96L9 97M3 77L-5 68M5 71L3 77M-1 67L-5 68M43 36L41 35M80 -2L80 -9M69 -3L66 -3M95 59L93 62M87 59L93 62M99 68L94 65M71 102L74 97M93 89L97 88M42 80L48 78M46 91L46 89M54 68L50 79M89 34L91 36M91 36L84 44M81 35L79 38M80 44L82 45M89 28L94 26M89 28L87 27M94 47L84 44M236 79L237 82M234 78L232 77M210 94L213 96M249 114L243 110M246 119L242 116M243 110L242 111M159 96L158 94M158 94L159 90M165 89L159 90M167 69L166 67M159 64L165 68M168 58L156 58M134 78L143 79M161 110L157 112M40 61L32 61M28 55L32 59M9 97L14 103M73 30L72 34M94 65L92 68M92 68L83 66M86 88L77 85M88 81L81 78M77 85L77 84M81 78L79 72M83 66L79 69M81 112L83 110M88 112L87 119M104 115L103 113M103 113L96 111M95 111L96 111M171 106L168 114M176 115L176 118M161 110L168 114M222 73L226 71M238 94L238 94M234 119L234 119M234 119L235 116M215 104L225 110M147 84L148 87M153 75L154 78M159 90L157 84M178 32L177 29M164 52L167 47M168 42L166 36M157 38L156 39M153 124L158 128M160 118L163 120M38 52L35 48M39 45L45 50M64 80L60 78M60 78L60 77M112 100L106 106M104 105L103 96M99 104L104 105M99 95L96 98M86 97L83 102M94 111L90 106M90 12L82 12M82 12L82 9M225 86L221 87M236 92L228 91M215 104L225 99M218 94L225 99M226 99L226 99M236 113L234 108M228 91L226 99M75 73L68 71M69 80L66 79" stroke="#676767" stroke-width="2.3" fill="none" stroke-linecap="round"/><path d="M9 124L5 123M-1 45L-10 44M267 124L265 122M241 125L246 119M253 123L248 119M113 43L108 44M104 42L104 37M108 35L115 36M50 124L52 126M29 109L27 112M37 109L35 117M-6 30L4 29M112 53L106 52M39 120L46 116M46 116L46 116M215 128L210 123M206 124L207 124M182 65L178 68M178 68L176 72M259 116L257 113M261 109L267 112M266 114L267 112M249 114L248 119M249 114L253 111M277 115L277 113M251 73L251 69M272 90L268 88M267 90L268 88M260 82L260 88M261 62L260 66M278 83L278 74M262 51L269 52M262 48L269 38M127 103L126 103M126 92L120 95M134 77L141 71M134 66L133 66M135 61L140 58M126 56L127 56M127 56L131 55M123 84L119 81M106 52L103 53M114 31L115 33M113 22L114 22M136 52L137 45M131 55L131 54M146 59L147 58M129 45L126 46M137 45L131 44M126 56L120 55M102 123L98 132M5 122L-0 115M-1 125L-6 119M38 101L37 100M-2 59L-7 55M1 58L3 50M3 50L2 50M2 50L2 50M8 64L6 62M8 53L5 61M8 70L8 64M1 58L5 61M116 105L116 110M109 124L112 118M118 120L119 121M112 118L113 118M65 107L56 110M55 115L56 110M195 73L194 77M187 66L187 66M205 119L207 114M205 111L199 113M177 74L177 76M210 65L206 66M194 77L201 82M212 32L205 38M204 32L204 37M196 34L200 38M204 37L200 38M227 38L221 34M245 33L242 38M255 43L260 40M260 103L265 101M270 105L265 101M251 94L255 94M202 105L204 102M212 107L207 113M213 106L204 102M235 51L228 50M235 51L235 58M232 60L226 58M221 60L226 58M221 60L215 56M222 48L227 51M210 65L211 59M212 57L211 59M221 60L221 63M216 70L221 63M247 77L254 84M245 85L248 87M251 73L247 76M247 76L247 77M257 91L254 84M248 91L251 94M274 57L272 58M118 60L110 59M110 59L109 60M123 66L118 62M112 72L110 74M110 74L107 73M119 74L112 72M110 75L110 74M138 45L139 36M139 36L143 35M131 44L129 35M189 50L184 42M195 44L188 39M184 42L188 39M196 34L189 34M182 65L179 58M151 29L152 32M122 129L128 122M127 120L128 122M31 118L32 117M15 125L18 119M19 118L21 120M7 120L18 119M19 113L19 118M10 113L18 112M35 70L35 70M25 73L31 74M23 74L25 73M41 65L47 67M45 70L47 67M-0 109L-1 108M6 110L8 105M4 90L4 90M4 90L5 96M15 82L13 80M13 80L6 89M24 82L15 82M13 79L13 80M24 83L24 89M41 79L35 83M26 46L29 43M31 33L26 33M59 45L53 42M70 47L64 40M101 79L101 72M73 113L74 120M81 121L74 120M73 113L67 112M62 60L64 61M64 87L55 86M49 94L53 95M53 95L55 92M99 32L94 37M96 42L94 47M204 90L199 88M197 90L199 88M201 82L201 82M179 105L180 105M180 112L185 113M189 111L190 112M211 88L209 94M204 97L210 94M241 95L238 94M182 86L187 89M145 61L147 66M147 58L153 57M131 82L132 82M130 101L137 105M198 63L198 63M198 63L202 62M197 55L199 53M189 57L197 55M207 52L202 54M207 41L214 43M255 43L251 41M258 51L251 50M238 58L244 56M244 56L246 57M233 67L233 66M183 42L181 37M183 51L188 52M178 47L183 51M189 57L188 56M178 47L178 45M159 64L154 68M152 66L154 68M156 58L155 57M185 113L183 118M137 105L138 112M129 113L138 112M139 113L139 113M151 124L148 117M148 117L143 117M142 126L141 124M131 126L136 122M138 112L139 113M50 64L60 56M48 60L56 51M60 56L59 52M62 60L60 56M69 50L59 52M17 99L14 94M3 77L3 78M3 79L-5 79M4 90L3 79M47 36L49 30M82 47L78 54M87 59L86 60M75 111L75 106M68 90L74 97M83 102L75 97M75 97L74 97M95 80L93 79M88 81L93 78M95 80L97 88M105 79L106 86M106 86L99 89M81 123L81 127M81 121L81 123M50 79L53 82M41 79L42 80M45 70L48 78M82 45L84 44M80 31L87 27M80 31L81 35M71 53L71 53M240 68L234 78M236 79L234 78M214 104L213 96M242 116L242 111M167 90L165 89M166 97L169 95M171 80L167 69M170 61L166 67M154 68L153 75M161 73L153 75M145 73L146 73M152 104L153 111M159 96L158 101M148 98L151 94M155 57L156 52M156 52L153 46M153 46L153 43M45 58L40 61M18 111L14 104M14 104L14 103M17 99L16 100M18 112L18 111M8 105L14 104M53 26L50 23M90 73L92 68M68 90L73 87M75 97L78 93M85 94L86 88M76 86L77 85M81 78L77 84M79 72L79 71M114 84L114 86M94 121L95 111M172 106L171 106M168 115L168 114M227 68L226 71M232 77L231 77M231 77L226 71M211 88L214 85M213 78L214 85M224 79L225 81M236 92L234 85M236 113L235 116M225 110L225 110M154 78L147 84M157 84L157 84M157 84L149 88M165 81L157 84M143 89L148 87M168 42L166 44M166 36L157 38M174 41L168 30M174 41L174 41M167 47L166 44M153 43L156 39M156 35L157 38M158 128L163 120M157 112L160 118M38 52L43 52M35 47L35 48M32 59L38 52M43 36L39 45M64 61L67 61M64 71L60 77M64 87L64 80M53 82L60 78M112 100L112 99M106 106L104 105M99 95L103 96M96 98L99 104M99 89L99 95M89 97L86 97M90 106L84 104M96 98L95 98M214 85L221 87M225 81L225 86M234 108L226 108M233 100L226 99M238 94L233 100" stroke="#848484" stroke-width="2.3" fill="none" stroke-linecap="round"/><path d="M-0 43L1 37M260 82L257 81M262 71L255 75M127 92L131 82M131 82L129 82M108 44L104 42M35 117L32 117M1 37L3 36M3 36L4 29M5 28L4 29M108 44L106 52M38 108L45 111M263 117L266 114M272 121L273 117M273 117L266 114M270 108L270 105M281 106L277 101M279 90L272 90M270 68L269 71M269 84L275 74M269 71L275 74M275 74L278 74M269 52L274 47M132 96L130 101M128 64L123 66M95 59L97 52M97 52L100 52M100 52L103 53M115 36L115 33M138 45L141 46M117 49L124 46M124 46L126 46M115 37L122 37M109 124L106 125M270 37L269 38M5 122L5 123M25 101L24 99M24 99L29 91M8 42L-0 43M14 62L11 52M11 52L8 53M22 55L21 56M13 51L11 52M17 72L18 66M16 73L8 70M123 111L127 110M123 111L116 110M186 79L190 79M197 120L199 113M198 105L196 111M194 121L192 120M192 120L190 112M196 111L190 112M216 70L212 76M195 73L198 71M218 36L212 32M235 36L236 39M252 68L253 61M265 101L266 96M246 103L251 94M273 96L266 96M267 90L265 94M197 95L204 97M197 104L198 105M230 45L228 50M222 46L222 48M248 91L248 87M273 64L278 66M280 59L274 57M272 59L272 58M264 62L272 59M278 52L274 57M269 52L272 58M113 66L109 60M102 66L107 73M113 66L112 70M119 81L114 84M127 33L127 33M139 36L137 35M170 59L174 56M39 124L32 128M28 64L25 73M55 109L47 107M-1 89L-7 95M6 62L-1 67M-1 67L-1 67M15 90L16 90M35 87L28 91M40 93L37 100M29 91L28 91M20 91L24 89M13 51L12 42M3 36L6 37M15 29L15 33M29 43L24 37M31 43L29 43M41 29L37 26M53 42L52 36M52 36L58 33M70 47L75 43M68 38L64 40M110 75L105 79M107 73L101 72M99 68L102 66M68 122L68 128M82 119L81 112M57 70L54 68M52 66L54 68M66 90L64 93M55 86L55 92M95 50L94 47M204 90L206 85M201 82L205 83M197 90L192 87M213 78L212 76M189 111L188 108M180 105L188 108M195 96L189 98M215 128L219 123M217 119L219 123M212 107L219 114M225 126L222 124M244 103L241 95M245 85L241 85M175 96L178 94M167 90L173 86M175 96L169 95M192 87L187 89M189 98L187 97M147 66L152 66M150 103L148 98M148 98L143 97M137 105L140 103M140 95L143 89M189 63L198 63M198 71L198 63M212 57L207 52M213 46L214 43M213 46L207 51M207 52L207 51M249 47L242 50M249 43L245 42M236 43L239 48M235 51L239 48M227 68L233 67M178 45L174 41M181 57L183 51M181 57L188 56M188 56L188 52M178 47L174 51M189 50L188 52M190 120L182 126M127 110L129 113M28 55L29 52M59 52L59 51M64 40L62 40M4 90L6 89M-1 89L-7 84M88 53L87 59M95 50L88 53M66 103L71 102M97 88L99 89M74 120L74 125M43 86L46 89M48 78L50 79M55 86L53 82M94 37L91 36M71 53L80 44M213 106L214 104M171 80L165 81M165 81L161 73M161 73L165 68M165 81L165 81M141 71L145 73M158 101L162 106M157 112L153 111M166 97L166 105M166 105L162 106M145 49L153 46M179 121L181 126M32 62L32 61M24 102L18 111M65 28L69 36M72 34L69 36M80 30L80 31M79 38L72 34M68 38L69 36M58 33L59 30M93 78L90 73M86 60L83 66M85 94L78 93M106 86L109 87M114 86L117 90M83 110L88 112M88 112L94 111M172 106L176 115M176 103L172 106M166 105L171 106M180 112L176 115M179 121L176 118M169 126L175 118M222 73L224 79M234 119L227 115M214 104L215 104M154 78L157 84M168 58L164 52M156 52L157 51M166 44L164 44M164 44L156 39M29 52L35 48M69 66L67 61M69 60L67 61M79 57L76 62M64 71L68 71M112 99L108 96M103 96L108 96M116 105L112 100M107 108L106 106M83 102L84 104M85 94L86 97M213 96L218 94M221 87L218 94M68 71L66 79M64 80L66 79" stroke="#a1a1a1" stroke-width="2.3" fill="none" stroke-linecap="round"/><path d="M5 123L2 126M248 119L246 119M262 71L267 73M29 109L37 109M117 49L117 50M117 50L112 53M207 124L205 119M182 65L187 66M177 74L176 72M265 122L263 117M253 111L257 113M255 75L251 73M266 81L269 84M262 51L262 48M274 45L274 47M131 71L133 66M124 74L131 71M123 66L121 73M145 61L138 67M140 58L146 59M103 53L106 60M104 62L106 60M139 54L145 49M147 58L145 49M117 50L120 55M7 120L10 113M-0 109L-12 111M21 56L25 63M5 61L6 62M17 72L16 73M118 120L123 111M206 66L204 72M227 38L227 41M236 39L236 43M265 94L266 96M261 109L260 103M253 106L246 103M257 91L260 88M204 97L204 102M247 77L245 85M270 68L273 64M112 70L112 72M200 38L195 44M20 131L22 121M18 119L19 118M19 113L18 112M31 118L21 120M38 72L35 70M38 72L45 70M56 101L56 100M56 110L55 109M3 99L8 105M-1 89L4 90M5 96L3 99M-2 59L-1 67M16 73L13 79M41 79L38 72M31 74L32 81M24 99L20 96M9 41L6 37M17 39L18 38M59 45L62 40M58 33L62 40M105 79L101 79M112 118L104 115M75 111L81 112M56 100L53 95M95 50L97 52M197 95L197 90M209 94L210 94M248 91L241 95M187 97L187 97M180 105L187 97M136 86L132 82M139 85L136 86M139 85L143 89M202 62L204 59M197 48L204 46M216 54L213 46M246 57L246 58M235 58L238 58M227 68L221 63M187 33L181 37M179 58L181 57M153 57L155 57M192 120L190 120M136 122L136 119M145 109L139 113M59 45L59 51M53 42L48 48M43 36L43 36M79 57L86 60M99 70L93 79M90 126L81 123M82 47L82 45M241 85L237 82M233 67L232 77M159 96L166 97M166 67L165 68M176 72L167 69M171 80L171 80M153 75L153 75M150 103L152 104M41 65L40 61M32 61L32 59M78 93L76 86M114 86L109 87M117 90L118 95M87 119L94 121M94 111L95 111M231 77L225 81M242 111L236 113M222 124L227 115M219 114L225 110M149 88L148 87M174 51L167 47M157 51L164 44M163 120L163 120M168 115L163 120M76 62L79 69M79 69L79 69M69 66L68 71M89 97L95 98M83 102L83 102M83 110L84 104M226 87L228 91M226 108L226 99M243 104L236 105M225 99L226 99" stroke="#bebebe" stroke-width="2.3" fill="none" stroke-linecap="round"/><path d="M229 126L234 119M104 37L108 35M270 105L277 101M281 94L277 99M141 46L145 49M131 54L129 45M7 120L5 122M10 113L6 110M-0 115L-5 117M-0 109L1 111M37 100L35 100M16 63L14 62M116 110L114 112M55 115L46 116M198 71L204 72M282 119L278 125M272 121L277 126M227 41L230 45M195 96L197 104M216 70L216 70M212 57L215 56M248 87L254 84M112 53L110 59M147 40L141 46M170 61L178 68M119 121L127 120M128 122L131 126M35 70L31 74M-1 108L-8 103M23 74L24 82M21 48L17 39M75 43L68 38M65 107L66 103M56 101L63 100M82 119L81 121M74 120L74 120M62 60L52 66M64 87L66 90M40 93L46 91M103 43L96 42M179 105L180 112M197 104L189 107M188 108L189 107M206 85L211 88M177 76L171 80M242 50L239 48M242 38L245 42M233 66L240 67M174 56L174 51M190 120L183 118M143 117L139 113M22 55L28 55M26 46L29 52M50 65L52 66M43 36L47 48M15 90L14 94M3 79L3 78M79 42L80 44M75 43L79 42M78 54L71 53M162 106L161 110M158 94L151 94M153 111L153 111M147 40L153 43M48 60L45 58M16 100L14 103M94 122L94 121M114 112L107 108M216 70L222 73M213 78L213 78M237 82L234 85M143 81L147 84M151 94L149 88M164 52L157 51M168 126L163 120M45 58L43 52M76 62L69 60M57 70L60 77M118 95L112 99M99 104L96 111M234 85L226 87M236 105L233 100M225 110L226 108M72 78L69 80" stroke="#dadada" stroke-width="2.3" fill="none" stroke-linecap="round"/><path d="M184 72h0M239 114h0" stroke="#1c1c1c" stroke-width="2.5" stroke-linecap="round" fill="none"/><path d="M87 9h0M110 8h0M154 10h0M174 13h0M205 14h0M271 10h0M4 17h0M10 18h0M157 16h0M175 22h0M208 15h0M242 19h0M277 16h0M50 25h0M65 25h0M111 25h0M117 28h0M150 25h0M246 23h0M28 29h0M69 30h0M234 32h0M186 37h0M2 46h0M31 46h0M44 45h0M77 49h0M140 49h0M164 48h0M279 49h0M-0 54h0M33 53h0M108 56h0M143 56h0M185 54h0M207 56h0M212 53h0M246 52h0M273 53h0M279 56h0M1 62h0M20 62h0M58 66h0M108 64h0M155 62h0M206 62h0M0 70h0M5 67h0M75 70h0M102 70h0M108 70h0M230 72h0M235 70h0M64 75h0M106 75h0M140 75h0M13 86h0M39 84h0M74 83h0M118 85h0M203 86h0M17 93h0M24 93h0M88 93h0M208 89h0M231 89h0M261 91h0M14 98h0M21 100h0M88 109h0M134 115h0M180 116h0M245 115h0M262 113h0M-7 122h0M71 125h0M123 124h0M139 118h0M159 122h0M202 122h0M215 123h0M210 127h0" stroke="#1c1c1c" stroke-width="3.8" stroke-linecap="round" fill="none"/><path d="M17 -3h0M32 -4h0M41 -4h0M75 -5h0M92 -4h0M136 -2h0M141 -4h0M151 -4h0M162 -3h0M217 -4h0M21 2h0M28 2h0M36 2h0M47 1h0M61 -1h0M68 3h0M78 2h0M86 4h0M114 1h0M132 4h0M140 4h0M149 3h0M166 7h0M172 1h0M190 -0h0M232 5h0M252 2h0M261 2h0M270 3h0M6 11h0M15 13h0M22 8h0M58 7h0M94 12h0M104 12h0M161 11h0M173 9h0M211 10h0M221 10h0M240 12h0M263 12h0M19 19h0M45 19h0M64 18h0M70 20h0M99 15h0M112 16h0M130 17h0M152 18h0M165 15h0M179 14h0M190 18h0M223 18h0M235 18h0M250 17h0M269 16h0M22 24h0M31 21h0M41 24h0M57 25h0M75 26h0M82 25h0M133 25h0M145 21h0M170 23h0M209 27h0M221 25h0M230 24h0M238 26h0M276 22h0M45 30h0M77 33h0M85 31h0M104 30h0M111 32h0M132 32h0M140 30h0M147 32h0M155 29h0M181 32h0M194 30h0M200 34h0M207 33h0M226 32h0M246 29h0M268 34h0M274 30h0M5 39h0M57 39h0M69 42h0M74 39h0M92 41h0M100 39h0M152 37h0M163 40h0M169 37h0M179 39h0M201 42h0M248 38h0M275 37h0M39 49h0M74 46h0M97 48h0M104 48h0M123 51h0M133 48h0M148 45h0M172 45h0M183 47h0M203 50h0M209 45h0M217 47h0M226 47h0M235 47h0M244 46h0M252 46h0M260 48h0M4 56h0M24 51h0M75 57h0M83 55h0M92 56h0M101 56h0M116 55h0M129 51h0M135 56h0M178 53h0M193 52h0M231 54h0M239 53h0M28 59h0M36 64h0M46 63h0M55 62h0M72 64h0M89 63h0M99 64h0M114 62h0M148 61h0M175 61h0M185 61h0M193 60h0M200 58h0M243 60h0M249 64h0M257 63h0M270 63h0M275 60h0M23 69h0M40 69h0M49 70h0M61 71h0M66 66h0M85 69h0M117 69h0M127 69h0M135 69h0M150 69h0M158 70h0M171 67h0M181 70h0M194 66h0M202 67h0M209 70h0M222 69h0M244 70h0M255 71h0M275 70h0M26 78h0M43 76h0M55 76h0M70 76h0M77 77h0M98 76h0M114 77h0M159 79h0M173 75h0M182 76h0M206 79h0M226 76h0M238 75h0M252 78h0M269 77h0M274 80h0M47 82h0M67 85h0M127 86h0M144 85h0M152 84h0M161 86h0M168 84h0M210 83h0M220 83h0M231 81h0M237 89h0M250 83h0M257 85h0M266 85h0M274 86h0M42 89h0M51 89h0M61 90h0M74 92h0M81 89h0M121 92h0M139 90h0M146 93h0M155 90h0M183 92h0M192 93h0M203 93h0M224 93h0M244 89h0M269 92h0M276 94h0M9 100h0M28 99h0M50 99h0M58 97h0M88 101h0M100 100h0M108 100h0M145 101h0M162 101h0M187 102h0M192 101h0M200 101h0M210 100h0M217 100h0M12 109h0M52 104h0M70 108h0M95 106h0M141 109h0M150 107h0M157 107h0M166 108h0M177 108h0M184 109h0M192 108h0M200 109h0M218 108h0M223 104h0M265 106h0M276 106h0M-3 113h0M32 113h0M78 116h0M85 114h0M92 115h0M125 116h0M146 114h0M163 115h0M172 113h0M188 116h0M195 117h0M203 115h0M212 113h0M230 112h0M253 116h0M-0 121h0M10 122h0M19 123h0M26 121h0M63 124h0M78 123h0M97 126h0M131 121h0M168 121h0M176 123h0M183 122h0M190 123h0M210 120h0M228 121h0M235 125h0M259 121h0M268 119h0M-3 127h0M24 127h0M46 128h0M163 127h0M272 128h0" stroke="#1c1c1c" stroke-width="5.0" stroke-linecap="round" fill="none"/><path d="M23 -6h0M84 -4h0M119 -6h0M131 -5h0M247 -5h0M256 -5h0M12 4h0M54 -0h0M96 4h0M105 3h0M123 3h0M158 5h0M181 4h0M198 1h0M207 2h0M216 3h0M240 1h0M41 8h0M49 10h0M77 9h0M117 10h0M126 10h0M136 11h0M146 12h0M185 13h0M192 8h0M230 14h0M247 9h0M255 11h0M25 16h0M38 19h0M54 17h0M86 16h0M106 21h0M120 19h0M139 19h0M212 19h0M259 20h0M-3 26h0M4 22h0M14 24h0M91 22h0M99 24h0M126 27h0M160 23h0M181 23h0M187 28h0M195 22h0M203 25h0M253 29h0M267 25h0M-1 34h0M8 31h0M20 32h0M36 30h0M53 32h0M63 34h0M94 32h0M119 34h0M163 32h0M174 32h0M216 30h0M240 34h0M261 31h0M-3 41h0M13 38h0M22 42h0M29 38h0M38 40h0M48 40h0M83 40h0M110 39h0M118 42h0M127 40h0M135 40h0M142 39h0M194 38h0M212 39h0M222 39h0M232 40h0M240 42h0M256 38h0M264 40h0M-6 49h0M8 48h0M16 46h0M55 48h0M63 46h0M87 48h0M112 49h0M157 46h0M190 44h0M16 56h0M38 57h0M47 53h0M55 56h0M151 53h0M159 55h0M170 54h0M-6 62h0M9 59h0M80 64h0M122 61h0M130 61h0M140 62h0M228 63h0M236 63h0M14 67h0M31 69h0M94 72h0M144 68h0M265 68h0M-2 75h0M17 77h0M35 77h0M85 76h0M123 78h0M131 78h0M148 77h0M166 73h0M189 73h0M199 75h0M217 75h0M242 80h0M261 77h0M-2 84h0M7 83h0M20 86h0M30 86h0M59 83h0M82 83h0M91 84h0M101 84h0M110 83h0M138 82h0M177 83h0M187 83h0M196 84h0M0 94h0M9 92h0M34 93h0M96 94h0M104 92h0M113 92h0M132 88h0M163 93h0M173 92h0M214 91h0M253 91h0M-4 102h0M42 97h0M67 97h0M75 101h0M82 97h0M117 100h0M127 97h0M137 99h0M154 98h0M171 101h0M179 100h0M232 95h0M239 99h0M246 97h0M252 100h0M261 98h0M271 100h0M3 106h0M17 104h0M24 108h0M35 104h0M43 105h0M60 105h0M81 107h0M102 108h0M112 107h0M122 107h0M131 108h0M207 107h0M230 103h0M239 109h0M247 107h0M257 107h0M5 115h0M15 116h0M25 116h0M40 114h0M50 112h0M70 117h0M98 116h0M109 114h0M117 114h0M154 117h0M221 118h0M272 113h0M33 122h0M43 121h0M53 121h0M88 122h0M106 121h0M146 122h0M239 119h0M277 121h0M137 127h0" stroke="#1c1c1c" stroke-width="6.2" stroke-linecap="round" fill="none"/><path d="M9 -7h0M1 3h0M224 -1h0M-3 12h0M33 10h0M66 12h0M77 17h0M200 13h0M269 46h0M66 56h0M221 55h0M253 55h0M265 57h0M165 62h0M215 62h0M8 75h0M61 113h0M115 123h0M247 124h0" stroke="#1c1c1c" stroke-width="7.4" stroke-linecap="round" fill="none"/><circle cx="43" cy="36" r="2.2" fill="#aaaaaa"/><circle cx="214" cy="104" r="2.4" fill="#b7b7b7"/><circle cx="5" cy="71" r="1.5" fill="#e2e2e2"/><circle cx="83" cy="66" r="1.4" fill="#d3d3d3"/><circle cx="216" cy="70" r="1.7" fill="#e3e3e3"/><circle cx="75" cy="43" r="1.5" fill="#fbfbfb"/><circle cx="144" cy="27" r="1.3" fill="#494949"/><circle cx="105" cy="79" r="1.4" fill="#f9f9f9"/><circle cx="142" cy="0" r="1.6" fill="#3f3f3f"/><circle cx="90" cy="1" r="1.7" fill="#424242"/><circle cx="265" cy="37" r="2.0" fill="#737373"/><circle cx="127" cy="33" r="2.0" fill="#cfcfcf"/><circle cx="153" cy="75" r="1.7" fill="#b3b3b3"/><circle cx="72" cy="5" r="1.9" fill="#4e4e4e"/><circle cx="102" cy="66" r="2.2" fill="#e9e9e9"/><circle cx="74" cy="120" r="2.1" fill="#c3c3c3"/><circle cx="94" cy="65" r="1.9" fill="#f0f0f0"/><circle cx="155" cy="22" r="2.3" fill="#535353"/><circle cx="17" cy="2" r="2.4" fill="#3d3d3d"/><circle cx="199" cy="6" r="2.4" fill="#525252"/><circle cx="25" cy="63" r="2.2" fill="#d9d9d9"/><circle cx="126" cy="56" r="2.3" fill="#dadada"/><circle cx="206" cy="85" r="2.0" fill="#bdbdbd"/><circle cx="251" cy="73" r="1.7" fill="#c1c1c1"/><circle cx="88" cy="81" r="1.6" fill="#f9f9f9"/><circle cx="116" cy="15" r="2.0" fill="#4a4a4a"/><circle cx="43" cy="86" r="1.4" fill="#bebebe"/><circle cx="147" cy="58" r="1.6" fill="#a7a7a7"/><circle cx="144" cy="16" r="1.5" fill="#3b3b3b"/><circle cx="138" cy="45" r="2.2" fill="#ababab"/><circle cx="143" cy="117" r="2.3" fill="#fcfcfc"/><circle cx="241" cy="23" r="2.4" fill="#464646"/><circle cx="103" cy="43" r="1.7" fill="#a7a7a7"/><circle cx="164" cy="9" r="2.1" fill="#494949"/><circle cx="205" cy="38" r="1.6" fill="#e5e5e5"/><circle cx="123" cy="111" r="1.6" fill="#c6c6c6"/><circle cx="114" cy="31" r="1.6" fill="#878787"/><circle cx="194" cy="77" r="1.9" fill="#cacaca"/><circle cx="244" cy="103" r="1.4" fill="#f5f5f5"/><circle cx="3" cy="77" r="1.3" fill="#d0d0d0"/><circle cx="39" cy="120" r="2.3" fill="#e9e9e9"/><circle cx="260" cy="103" r="1.7" fill="#f0f0f0"/><circle cx="186" cy="7" r="2.2" fill="#525252"/><circle cx="266" cy="114" r="1.4" fill="#d8d8d8"/><circle cx="49" cy="15" r="1.9" fill="#4d4d4d"/><circle cx="150" cy="21" r="1.4" fill="#474747"/><circle cx="127" cy="33" r="1.7" fill="#bebebe"/><circle cx="213" cy="78" r="1.6" fill="#ebebeb"/><circle cx="197" cy="104" r="2.1" fill="#bebebe"/><circle cx="236" cy="92" r="1.7" fill="#cacaca"/><circle cx="225" cy="24" r="2.0" fill="#535353"/><circle cx="236" cy="43" r="2.4" fill="#dcdcdc"/><circle cx="114" cy="84" r="1.6" fill="#b2b2b2"/><circle cx="124" cy="46" r="1.4" fill="#f9f9f9"/><circle cx="167" cy="47" r="1.4" fill="#cecece"/><circle cx="8" cy="21" r="2.2" fill="#444444"/><circle cx="272" cy="90" r="2.2" fill="#f9f9f9"/><circle cx="73" cy="1" r="1.7" fill="#4c4c4c"/><circle cx="97" cy="52" r="2.0" fill="#c9c9c9"/><circle cx="32" cy="27" r="1.4" fill="#6a6a6a"/><circle cx="17" cy="39" r="2.0" fill="#e1e1e1"/><circle cx="245" cy="1" r="1.9" fill="#484848"/><circle cx="49" cy="94" r="1.6" fill="#fafafa"/><circle cx="79" cy="72" r="1.7" fill="#c4c4c4"/><circle cx="171" cy="80" r="2.3" fill="#b3b3b3"/><circle cx="45" cy="111" r="1.8" fill="#d6d6d6"/><circle cx="3" cy="36" r="1.8" fill="#c6c6c6"/><circle cx="95" cy="59" r="1.8" fill="#ededed"/><circle cx="189" cy="50" r="1.6" fill="#c5c5c5"/><circle cx="95" cy="80" r="1.7" fill="#b9b9b9"/><circle cx="25" cy="73" r="2.4" fill="#c7c7c7"/><circle cx="241" cy="7" r="1.8" fill="#454545"/><circle cx="30" cy="1" r="2.3" fill="#555555"/><circle cx="167" cy="12" r="2.2" fill="#4e4e4e"/><circle cx="24" cy="82" r="1.7" fill="#aaaaaa"/><circle cx="131" cy="54" r="2.4" fill="#cccccc"/><circle cx="248" cy="119" r="2.2" fill="#bcbcbc"/><circle cx="187" cy="89" r="1.9" fill="#a7a7a7"/><circle cx="1" cy="37" r="1.5" fill="#b5b5b5"/><circle cx="206" cy="85" r="2.3" fill="#acacac"/><circle cx="28" cy="8" r="2.1" fill="#585858"/><circle cx="31" cy="118" r="1.7" fill="#d5d5d5"/><circle cx="116" cy="15" r="2.2" fill="#4f4f4f"/><circle cx="18" cy="111" r="2.1" fill="#e3e3e3"/><circle cx="155" cy="22" r="2.1" fill="#3a3a3a"/><circle cx="234" cy="119" r="2.3" fill="#b2b2b2"/><circle cx="99" cy="104" r="1.4" fill="#f4f4f4"/><circle cx="264" cy="62" r="1.9" fill="#e1e1e1"/><circle cx="189" cy="24" r="2.3" fill="#494949"/><circle cx="71" cy="9" r="1.8" fill="#575757"/><circle cx="8" cy="21" r="2.1" fill="#474747"/><circle cx="210" cy="94" r="1.7" fill="#f0f0f0"/><circle cx="124" cy="46" r="1.7" fill="#cfcfcf"/><circle cx="49" cy="15" r="1.7" fill="#4e4e4e"/><circle cx="28" cy="55" r="1.6" fill="#f9f9f9"/><circle cx="73" cy="1" r="2.0" fill="#3c3c3c"/><circle cx="73" cy="87" r="1.5" fill="#d8d8d8"/><circle cx="103" cy="17" r="1.3" fill="#545454"/><circle cx="189" cy="57" r="1.7" fill="#fafafa"/><circle cx="113" cy="66" r="1.8" fill="#eeeeee"/><circle cx="264" cy="62" r="1.4" fill="#d9d9d9"/><circle cx="31" cy="118" r="1.4" fill="#a7a7a7"/><circle cx="122" cy="27" r="1.8" fill="#525252"/><circle cx="46" cy="91" r="1.6" fill="#c3c3c3"/><circle cx="262" cy="51" r="2.1" fill="#d5d5d5"/><circle cx="39" cy="45" r="1.8" fill="#f1f1f1"/><circle cx="13" cy="79" r="1.5" fill="#ababab"/><circle cx="207" cy="51" r="2.1" fill="#ebebeb"/><circle cx="64" cy="80" r="2.2" fill="#dadada"/><circle cx="123" cy="111" r="1.6" fill="#f0f0f0"/><circle cx="95" cy="111" r="2.2" fill="#dedede"/><circle cx="145" cy="109" r="2.2" fill="#ebebeb"/><circle cx="48" cy="60" r="1.7" fill="#c9c9c9"/><circle cx="232" cy="60" r="2.0" fill="#d8d8d8"/><circle cx="156" cy="8" r="1.7" fill="#434343"/><circle cx="108" cy="12" r="1.5" fill="#575757"/><circle cx="234" cy="119" r="2.0" fill="#aeaeae"/><circle cx="246" cy="103" r="2.1" fill="#b0b0b0"/><circle cx="202" cy="54" r="1.9" fill="#bababa"/><circle cx="157" cy="112" r="1.9" fill="#d0d0d0"/><circle cx="177" cy="19" r="2.2" fill="#3d3d3d"/><circle cx="82" cy="119" r="2.2" fill="#e4e4e4"/><circle cx="152" cy="66" r="2.2" fill="#fafafa"/><circle cx="106" cy="26" r="1.8" fill="#3d3d3d"/><circle cx="164" cy="2" r="1.7" fill="#404040"/><circle cx="116" cy="105" r="2.1" fill="#c9c9c9"/><circle cx="257" cy="91" r="2.2" fill="#f6f6f6"/><circle cx="104" cy="64" r="1.9" fill="#adadad"/><circle cx="178" cy="68" r="2.4" fill="#e1e1e1"/><circle cx="15" cy="82" r="2.0" fill="#e9e9e9"/><circle cx="40" cy="61" r="2.0" fill="#a8a8a8"/><circle cx="150" cy="21" r="1.8" fill="#545454"/><circle cx="145" cy="61" r="1.4" fill="#dfdfdf"/><circle cx="153" cy="57" r="1.7" fill="#f7f7f7"/><polygon points="0,0 274,0 274,28 200,28 120,27 60,24 0,21" fill="#000" fill-opacity="0.42"/><polygon points="0,21 60,24 120,27 200,28 274,28 274,33 200,33 120,32 60,29 0,26" fill="#000" fill-opacity="0.2"/></g><polygon points="0.0,0.0 274.1,0.0 274.1,7.0 0.0,7.0" fill="#000"/><polygon points="0.0,0.0 7.5,0.0 7.5,120.2 0.0,120.2" fill="#000"/><polygon points="265.5,0.0 274.1,0.0 274.1,120.2 264.6,120.2" fill="#000"/>
</svg>
<rect x="256.9" y="329.9" width="42.8" height="3.7" fill="#fff"/>
<text transform="translate(278.9,327.4) scale(1,1.09)" font-size="11.4" text-anchor="middle" fill="#fff">1 mm</text>
<rect x="263.4" y="463" width="42.7" height="3.7" fill="#fff"/>
<text transform="translate(285.4,458.1) scale(1,1.09)" font-size="11.4" text-anchor="middle" fill="#fff">1 mm</text>
<rect x="596.9" y="330.1" width="42.2" height="3.7" fill="#fff"/>
<text transform="translate(618.6,327.6) scale(1,1.09)" font-size="11.4" text-anchor="middle" fill="#fff">1 mm</text>
<rect x="596.5" y="464.1" width="42.9" height="3.7" fill="#fff"/>
<text transform="translate(618.6,461.2) scale(1,1.09)" font-size="11.4" text-anchor="middle" fill="#fff">1 mm</text>
<text transform="translate(22,266.5) rotate(-90)" font-size="12" text-anchor="middle" fill="#000">Week 2</text>
<text transform="translate(23.8,405.3) rotate(-90)" font-size="12" text-anchor="middle" fill="#000">Week 7</text>
<text transform="translate(3,216.3) scale(1,1.13)" font-size="11.5" font-weight="bold">d</text>
<text transform="translate(3,354.3) scale(1,1.13)" font-size="11.5" font-weight="bold">e</text>
<text transform="translate(359.3,216.3) scale(1,1.13)" font-size="11.5" font-weight="bold">f</text>
<text transform="translate(359.8,354.3) scale(1,1.13)" font-size="11.5" font-weight="bold">g</text>
<ellipse cx="522.4" cy="367.3" rx="26.5" ry="7.7" fill="none" stroke="#e0d8e6" stroke-width="1.1" stroke-dasharray="4,2.6"/>
<ellipse cx="512.4" cy="394.3" rx="18.3" ry="16.3" fill="none" stroke="#e4e020" stroke-width="1.1" stroke-dasharray="4,2.6"/>
<path d="M467.6,361.2 L487.2,364.4 L486.3,359.9 L494.3,366.6 L484.8,372.2 L485.9,367.6 L466.6,365.9 Z" fill="#e8d6f0"/>
<path d="M466.4,382.2 L486.3,386.0 L485.6,382.6 L494.6,389.7 L484.2,395.2 L485.2,391.4 L465.4,388.4 Z" fill="#e6e61a"/>
<rect x="40.9" y="56.6" width="23.4" height="109.6" fill="#fff" stroke="#8a8a8a" stroke-width="1.1"/>
<rect x="82.5" y="134" width="24.2" height="32.2" fill="#fff" stroke="#33f2f2" stroke-width="1.1"/>
<rect x="115.4" y="143.3" width="24.2" height="22.9" fill="#fff" stroke="#f0261f" stroke-width="1.1"/>
<line x1="52.4" y1="56.6" x2="52.4" y2="39" stroke="#8a8a8a" stroke-width="1.1"/>
<line x1="46" y1="39" x2="58.6" y2="39" stroke="#8a8a8a" stroke-width="1.1"/>
<line x1="94.6" y1="134" x2="94.6" y2="129.5" stroke="#33f2f2" stroke-width="1.1"/>
<line x1="90.8" y1="129.5" x2="98.4" y2="129.5" stroke="#33f2f2" stroke-width="1.1"/>
<line x1="127.5" y1="143.3" x2="127.5" y2="140.2" stroke="#f0261f" stroke-width="1.1"/>
<line x1="121.5" y1="140.2" x2="133.5" y2="140.2" stroke="#f0261f" stroke-width="1.1"/>
<polygon points="51.6,24.4 54.3,27.1 51.6,29.8 48.9,27.1" fill="#505050"/>
<polygon points="51.6,47 54.3,49.7 51.6,52.4 48.9,49.7" fill="#505050"/>
<polygon points="51.6,53.8 54.3,56.5 51.6,59.2 48.9,56.5" fill="#505050"/>
<polygon points="52.6,56.7 55.3,59.4 52.6,62.1 49.9,59.4" fill="#505050"/>
<polygon points="50.7,65.2 53.4,67.9 50.7,70.6 48,67.9" fill="#505050"/>
<polygon points="52.6,74.8 55.3,77.5 52.6,80.2 49.9,77.5" fill="#505050"/>
<polygon points="93,127.2 95.5,129.7 93,132.2 90.5,129.7" fill="#22e8e8"/>
<polygon points="98,127.2 100.5,129.7 98,132.2 95.5,129.7" fill="#22e8e8"/>
<polygon points="94.6,129.3 97.1,131.8 94.6,134.3 92.1,131.8" fill="#22e8e8"/>
<polygon points="92.3,134.9 94.8,137.4 92.3,139.9 89.8,137.4" fill="#22e8e8"/>
<polygon points="93.3,136.1 95.8,138.6 93.3,141.1 90.8,138.6" fill="#22e8e8"/>
<polygon points="127.5,136.4 129.9,138.8 127.5,141.2 125.1,138.8" fill="#f0261f"/>
<polygon points="126.5,139.1 128.9,141.5 126.5,143.9 124.1,141.5" fill="#f0261f"/>
<polygon points="128.3,141.2 130.7,143.6 128.3,146 125.9,143.6" fill="#f0261f"/>
<polygon points="126.8,144.1 129.2,146.5 126.8,148.9 124.4,146.5" fill="#f0261f"/>
<polygon points="127.2,145.4 129.6,147.8 127.2,150.2 124.8,147.8" fill="#f0261f"/>
<path d="M93.7,108.6 V92.6 H129.2 V108.6" fill="none" stroke="#555" stroke-width="1.2"/>
<polygon points="111.80,84.16 112.22,85.18 113.32,85.27 112.48,85.98 112.74,87.05 111.80,86.48 110.86,87.05 111.12,85.98 110.28,85.27 111.38,85.18" fill="#111"/>
<rect x="33.2" y="10.2" width="112.6" height="156" fill="none" stroke="#222" stroke-width="1.1"/>
<line x1="29.2" y1="166.2" x2="33.2" y2="166.2" stroke="#222" stroke-width="1.1"/>
<text transform="translate(26.4,169.2) scale(1,1.09)" font-size="8.4" text-anchor="end">0</text>
<line x1="29.2" y1="120.4" x2="33.2" y2="120.4" stroke="#222" stroke-width="1.1"/>
<text transform="translate(26.4,123.4) scale(1,1.09)" font-size="8.4" text-anchor="end">50</text>
<line x1="29.2" y1="74.5" x2="33.2" y2="74.5" stroke="#222" stroke-width="1.1"/>
<text transform="translate(26.4,77.5) scale(1,1.09)" font-size="8.4" text-anchor="end">100</text>
<line x1="29.2" y1="28.7" x2="33.2" y2="28.7" stroke="#222" stroke-width="1.1"/>
<text transform="translate(26.4,31.7) scale(1,1.09)" font-size="8.4" text-anchor="end">150</text>
<line x1="31" y1="143.3" x2="33.2" y2="143.3" stroke="#222" stroke-width="1"/>
<line x1="31" y1="97.4" x2="33.2" y2="97.4" stroke="#222" stroke-width="1"/>
<line x1="31" y1="51.6" x2="33.2" y2="51.6" stroke="#222" stroke-width="1"/>
<line x1="51.3" y1="166.2" x2="51.3" y2="172.2" stroke="#222" stroke-width="1"/>
<line x1="111.4" y1="166.2" x2="111.4" y2="172.2" stroke="#222" stroke-width="1"/>
<text transform="translate(52.9,180.7) scale(1,1.09)" font-size="8.8" text-anchor="middle">day 1</text>
<text transform="translate(112.5,180.7) scale(1,1.09)" font-size="8.8" text-anchor="middle">day 54</text>
<text transform="translate(84.4,123.9) scale(1,1.09)" font-size="9.2">static</text>
<text transform="translate(111,123.3) scale(1,1.09)" font-size="9.2">dynamic</text>
<text transform="translate(7.8,88.7) rotate(-90)" font-size="9.1" text-anchor="middle" fill="#000">DNA content ng/scaffold</text>
<text transform="translate(0,10.3) scale(1,1.13)" font-size="11.5" font-weight="bold">a</text>
<g clip-path="url(#cliph)">
<path d="M75.7,619.3L101.5,619.3L110.1,619.3L111.2,619.3L112.3,619.3L113.4,619.3L114.4,619.3L115.5,619.3L116.6,619.3L117.7,619.2L118.8,618.8L119.8,618.1L120.9,617.2L122,616L123.1,613.8L124.1,611.7L125.2,609.6L126.3,607.4L127.4,605.2L128.4,602.9L129.5,600.5L130.6,598.1L131.7,595.7L132.7,593.4L133.8,591.2L134.9,589L136,586.7L137,584.3L138.1,581.7L139.2,579L140.3,576.2L141.4,573.6L142.4,571.1L143.5,568.7L144.6,566.3L145.7,564L146.7,561.8L147.8,559.8L148.9,557.9L150,556L151,554.3L152.1,552.8L153.2,551.6L154.3,550.5L155.3,549.5L156.4,548.6L157.5,547.9L158.6,547.5L159.6,547.5L160.7,547.9L161.8,548.6L162.9,549.4L164,550.3L165,551.1L166.1,552.1L167.2,553.1L168.3,554.2L169.3,555.5L170.4,557L171.5,558.8L172.6,560.8L173.6,563L174.7,565.2L175.8,567.3L176.9,569.2L177.9,571L179,572.8L180.1,574.6L181.2,576.3L182.2,578L183.3,579.7L184.4,581.3L185.5,582.9L186.6,584.5L187.6,586L188.7,587.5L189.8,589L190.9,590.4L191.9,591.8L193,593.2L194.1,594.4L195.2,595.6L196.2,596.7L197.3,597.7L198.4,598.8L199.5,599.8L200.5,600.7L201.6,601.6L202.7,602.5L203.8,603.4L204.9,604.2L205.9,605L207,605.8L208.1,606.5L209.2,607.1L210.2,607.7L211.3,608.3L212.4,608.9L213.5,609.4L214.5,610L215.6,610.5L216.7,611L217.8,611.5L218.8,611.9L219.9,612.4L221,612.8L222.1,613.2L223.1,613.5L224.2,613.8L225.3,614.1L226.4,614.4L227.5,614.6L228.5,614.9L229.6,615.1L230.7,615.4L231.8,615.6L232.8,615.8L233.9,616L235,616.2L236.1,616.4L237.1,616.6L238.2,616.7L239.3,616.9L240.4,617L241.4,617.2L242.5,617.3L243.6,617.4L244.7,617.5L245.7,617.6L246.8,617.7L247.9,617.7L249,617.8L250.1,617.9L251.1,617.9L252.2,618L253.3,618.1L254.4,618.1L255.4,618.2L265.1,618.6L278,619L295.3,619.2L312.5,619.3" fill="none" stroke="#7ff0f5" stroke-width="0.6"/>
<path d="M75.7,619.3L101.5,619.3L110.1,619.3L111.2,619.3L112.3,619.3L113.4,619.3L114.4,619.3L115.5,619.3L116.6,619.3L117.7,619.1L118.8,618.5L119.8,617.7L120.9,616.7L122,615.2L123.1,612.7L124.1,610.3L125.2,608L126.3,605.6L127.4,603.1L128.4,600.6L129.5,598L130.6,595.3L131.7,592.6L132.7,590L133.8,587.5L134.9,585.1L136,582.6L137,580L138.1,577.2L139.2,574.2L140.3,571.2L141.4,568.2L142.4,565.3L143.5,562.6L144.6,559.9L145.7,557.2L146.7,554.7L147.8,552.4L148.9,550.2L150,548.1L151,546.1L152.1,544.2L153.2,542.5L154.3,541.2L155.3,540L156.4,538.9L157.5,537.8L158.6,537L159.6,536.5L160.7,536.4L161.8,536.8L162.9,537.5L164,538.4L165,539.4L166.1,540.3L167.2,541.3L168.3,542.4L169.3,543.6L170.4,545L171.5,546.5L172.6,548.3L173.6,550.4L174.7,552.7L175.8,555.1L176.9,557.5L177.9,559.8L179,561.9L180.1,564L181.2,566L182.2,567.9L183.3,569.8L184.4,571.7L185.5,573.6L186.6,575.4L187.6,577.1L188.7,578.9L189.8,580.6L190.9,582.2L191.9,583.9L193,585.5L194.1,587.1L195.2,588.6L196.2,590L197.3,591.4L198.4,592.6L199.5,593.8L200.5,595L201.6,596.1L202.7,597.2L203.8,598.2L204.9,599.3L205.9,600.2L207,601.2L208.1,602.1L209.2,603L210.2,603.8L211.3,604.5L212.4,605.3L213.5,606L214.5,606.6L215.6,607.2L216.7,607.9L217.8,608.5L218.8,609L219.9,609.6L221,610.1L222.1,610.7L223.1,611.1L224.2,611.6L225.3,612L226.4,612.5L227.5,612.8L228.5,613.2L229.6,613.5L230.7,613.8L231.8,614L232.8,614.3L233.9,614.6L235,614.8L236.1,615.1L237.1,615.3L238.2,615.5L239.3,615.7L240.4,615.9L241.4,616.1L242.5,616.3L243.6,616.5L244.7,616.7L245.7,616.8L246.8,617L247.9,617.1L249,617.2L250.1,617.3L251.1,617.4L252.2,617.5L253.3,617.5L254.4,617.6L255.4,617.7L265.1,618.3L278,618.8L295.3,619.1L312.5,619.2" fill="none" stroke="#7ff0f5" stroke-width="0.6"/>
<path d="M75.7,619.3L101.5,619.3L110.1,619.3L111.2,619.3L112.3,619.3L113.4,619.3L114.4,619.3L115.5,619L116.6,618.3L117.7,617.4L118.8,616.2L119.8,613.9L120.9,611.7L122,609.4L123.1,607.1L124.1,604.8L125.2,602.4L126.3,599.8L127.4,597.3L128.4,594.8L129.5,592.5L130.6,590.2L131.7,587.8L132.7,585.2L133.8,582.4L134.9,579.5L136,576.7L137,574.1L138.1,571.5L139.2,569L140.3,566.6L141.4,564.4L142.4,562.4L143.5,560.4L144.6,558.6L145.7,556.9L146.7,555.7L147.8,554.5L148.9,553.5L150,552.6L151,552L152.1,551.8L153.2,552.1L154.3,552.7L155.3,553.6L156.4,554.5L157.5,555.4L158.6,556.4L159.6,557.5L160.7,558.8L161.8,560.3L162.9,562.1L164,564.2L165,566.4L166.1,568.7L167.2,570.9L168.3,572.9L169.3,574.8L170.4,576.6L171.5,578.5L172.6,580.3L173.6,582L174.7,583.7L175.8,585.4L176.9,587L177.9,588.6L179,590.2L180.1,591.7L181.2,593.2L182.2,594.6L183.3,595.9L184.4,597.1L185.5,598.3L186.6,599.4L187.6,600.4L188.7,601.5L189.8,602.4L190.9,603.4L191.9,604.3L193,605.2L194.1,606L195.2,606.8L196.2,607.5L197.3,608.1L198.4,608.8L199.5,609.4L200.5,610L201.6,610.5L202.7,611.1L203.8,611.6L204.9,612.1L205.9,612.6L207,613L208.1,613.4L209.2,613.8L210.2,614.1L211.3,614.5L212.4,614.7L213.5,615L214.5,615.2L215.6,615.5L216.7,615.7L217.8,615.9L218.8,616.2L219.9,616.4L221,616.6L222.1,616.8L223.1,616.9L224.2,617.1L225.3,617.2L226.4,617.4L227.5,617.5L228.5,617.6L229.6,617.7L230.7,617.8L231.8,617.8L232.8,617.9L233.9,618L235,618.1L236.1,618.1L237.1,618.2L238.2,618.3L239.3,618.3L240.4,618.4L241.4,618.4L242.5,618.5L243.6,618.5L244.7,618.6L245.7,618.6L246.8,618.7L247.9,618.7L249,618.8L250.1,618.8L251.1,618.8L252.2,618.9L253.3,618.9L254.4,618.9L255.4,618.9L265.1,619.1L278,619.2L295.3,619.3L312.5,619.3" fill="none" stroke="#7ff0f5" stroke-width="0.6"/>
<path d="M75.7,619.3L101.5,619.3L110.1,619.3L111.2,619.3L112.3,619.3L113.4,619.3L114.4,619.3L115.5,619.3L116.6,619.3L117.7,618.9L118.8,618.2L119.8,617.2L120.9,615.7L122,613L123.1,610.4L124.1,607.8L125.2,605.1L126.3,602.4L127.4,599.6L128.4,596.6L129.5,593.7L130.6,590.9L131.7,588.3L132.7,585.6L133.8,582.7L134.9,579.4L136,576.1L137,572.9L138.1,569.8L139.2,566.8L140.3,563.9L141.4,561.1L142.4,558.6L143.5,556.2L144.6,553.9L145.7,551.8L146.7,550L147.8,548.5L148.9,547.2L150,546L151,545.1L152.1,544.5L153.2,544.5L154.3,545L155.3,545.9L156.4,547L157.5,548L158.6,549.1L159.6,550.3L160.7,551.7L161.8,553.3L162.9,555.3L164,557.7L165,560.3L166.1,562.9L167.2,565.5L168.3,567.8L169.3,570L170.4,572.1L171.5,574.2L172.6,576.3L173.6,578.3L174.7,580.3L175.8,582.2L176.9,584L177.9,585.9L179,587.7L180.1,589.4L181.2,591.1L182.2,592.7L183.3,594.2L184.4,595.5L185.5,596.8L186.6,598L187.6,599.2L188.7,600.4L189.8,601.5L190.9,602.6L191.9,603.6L193,604.5L194.1,605.4L195.2,606.2L196.2,607L197.3,607.7L198.4,608.4L199.5,609.1L200.5,609.7L201.6,610.4L202.7,611L203.8,611.5L204.9,612.1L205.9,612.5L207,613L208.1,613.4L209.2,613.8L210.2,614.1L211.3,614.4L212.4,614.7L213.5,615L214.5,615.3L215.6,615.6L216.7,615.8L217.8,616L218.8,616.3L219.9,616.5L221,616.7L222.1,616.9L223.1,617L224.2,617.2L225.3,617.3L226.4,617.4L227.5,617.5L228.5,617.6L229.6,617.7L230.7,617.8L231.8,617.9L232.8,618L233.9,618L235,618.1L236.1,618.2L237.1,618.3L238.2,618.3L239.3,618.4L240.4,618.4L241.4,618.5L242.5,618.6L243.6,618.6L244.7,618.6L245.7,618.7L246.8,618.7L247.9,618.8L249,618.8L250.1,618.8L251.1,618.9L252.2,618.9L253.3,618.9L254.4,618.9L255.4,619L265.1,619.1L278,619.2L295.3,619.3L312.5,619.3" fill="none" stroke="#7ff0f5" stroke-width="0.6"/>
<path d="M75.7,619.3L101.5,619.3L110.1,619.3L111.2,619.3L112.3,619.3L113.4,619.3L114.4,619.3L115.5,619.3L116.6,619.3L117.7,619.3L118.8,619.1L119.8,618.5L120.9,617.5L122,616.4L123.1,614.1L124.1,611.5L125.2,608.9L126.3,606.3L127.4,603.6L128.4,600.9L129.5,598L130.6,595.1L131.7,592.2L132.7,589.5L133.8,586.9L134.9,584.2L136,581.3L137,578.2L138.1,574.9L139.2,571.6L140.3,568.5L141.4,565.5L142.4,562.6L143.5,559.7L144.6,557L145.7,554.6L146.7,552.3L147.8,550L148.9,547.9L150,546.1L151,544.7L152.1,543.5L153.2,542.2L154.3,541.2L155.3,540.6L156.4,540.4L157.5,540.8L158.6,541.6L159.6,542.6L160.7,543.7L161.8,544.7L162.9,545.8L164,547.1L165,548.6L166.1,550.2L167.2,552.3L168.3,554.7L169.3,557.3L170.4,559.9L171.5,562.4L172.6,564.7L173.6,566.9L174.7,569.1L175.8,571.2L176.9,573.3L177.9,575.3L179,577.3L180.1,579.2L181.2,581L182.2,582.9L183.3,584.7L184.4,586.5L185.5,588.2L186.6,589.9L187.6,591.4L188.7,592.9L189.8,594.2L190.9,595.5L191.9,596.7L193,597.9L194.1,599.1L195.2,600.2L196.2,601.3L197.3,602.3L198.4,603.2L199.5,604.2L200.5,605L201.6,605.8L202.7,606.6L203.8,607.3L204.9,608L205.9,608.6L207,609.3L208.1,609.9L209.2,610.5L210.2,611L211.3,611.6L212.4,612.1L213.5,612.5L214.5,613L215.6,613.4L216.7,613.7L217.8,614L218.8,614.3L219.9,614.6L221,614.9L222.1,615.1L223.1,615.4L224.2,615.7L225.3,615.9L226.4,616.1L227.5,616.3L228.5,616.5L229.6,616.7L230.7,616.9L231.8,617L232.8,617.2L233.9,617.3L235,617.4L236.1,617.5L237.1,617.6L238.2,617.7L239.3,617.8L240.4,617.8L241.4,617.9L242.5,618L243.6,618.1L244.7,618.1L245.7,618.2L246.8,618.3L247.9,618.3L249,618.4L250.1,618.4L251.1,618.5L252.2,618.5L253.3,618.6L254.4,618.6L255.4,618.7L265.1,618.9L278,619.1L295.3,619.3L312.5,619.3" fill="none" stroke="#7ff0f5" stroke-width="0.6"/>
<path d="M75.7,619.3L101.5,619.3L110.1,619.3L111.2,619.3L112.3,619.3L113.4,619.3L114.4,619.3L115.5,619.3L116.6,619.3L117.7,619.3L118.8,618.9L119.8,618.1L120.9,617.1L122,615.5L123.1,612.7L124.1,610.1L125.2,607.4L126.3,604.7L127.4,601.8L128.4,598.9L129.5,595.9L130.6,592.9L131.7,590.1L132.7,587.4L133.8,584.6L134.9,581.6L136,578.3L137,574.8L138.1,571.5L139.2,568.4L140.3,565.3L141.4,562.3L142.4,559.5L143.5,556.9L144.6,554.5L145.7,552.1L146.7,550L147.8,548.1L148.9,546.7L150,545.3L151,544.1L152.1,543.2L153.2,542.6L154.3,542.6L155.3,543.2L156.4,544.2L157.5,545.3L158.6,546.3L159.6,547.5L160.7,548.7L161.8,550.2L162.9,551.9L164,554L165,556.4L166.1,559.1L167.2,561.8L168.3,564.4L169.3,566.7L170.4,569L171.5,571.2L172.6,573.4L173.6,575.5L174.7,577.5L175.8,579.5L176.9,581.5L177.9,583.4L179,585.3L180.1,587.1L181.2,588.9L182.2,590.6L183.3,592.3L184.4,593.7L185.5,595.1L186.6,596.4L187.6,597.7L188.7,598.9L189.8,600.1L190.9,601.2L191.9,602.3L193,603.3L194.1,604.3L195.2,605.2L196.2,606L197.3,606.8L198.4,607.5L199.5,608.3L200.5,608.9L201.6,609.6L202.7,610.2L203.8,610.8L204.9,611.4L205.9,612L207,612.5L208.1,612.9L209.2,613.3L210.2,613.7L211.3,614L212.4,614.4L213.5,614.7L214.5,615L215.6,615.2L216.7,615.5L217.8,615.8L218.8,616L219.9,616.2L221,616.4L222.1,616.6L223.1,616.8L224.2,617L225.3,617.2L226.4,617.3L227.5,617.4L228.5,617.5L229.6,617.6L230.7,617.7L231.8,617.8L232.8,617.9L233.9,617.9L235,618L236.1,618.1L237.1,618.2L238.2,618.2L239.3,618.3L240.4,618.4L241.4,618.4L242.5,618.5L243.6,618.5L244.7,618.6L245.7,618.6L246.8,618.7L247.9,618.7L249,618.8L250.1,618.8L251.1,618.8L252.2,618.9L253.3,618.9L254.4,618.9L255.4,618.9L265.1,619.1L278,619.2L295.3,619.3L312.5,619.3" fill="none" stroke="#7ff0f5" stroke-width="0.6"/>
<path d="M75.7,619.3L101.5,619.3L110.1,619.3L111.2,619.3L112.3,619.3L113.4,619.3L114.4,619.3L115.5,619.2L116.6,618.8L117.7,618.2L118.8,617.2L119.8,615.9L120.9,613.6L122,611.4L123.1,609.1L124.1,606.8L125.2,604.4L126.3,601.9L127.4,599.4L128.4,596.8L129.5,594.3L130.6,591.9L131.7,589.6L132.7,587.2L133.8,584.7L134.9,581.9L136,579L137,576.1L138.1,573.3L139.2,570.7L140.3,568.1L141.4,565.6L142.4,563.2L143.5,561L144.6,558.9L145.7,556.9L146.7,555L147.8,553.3L148.9,552L150,550.8L151,549.7L152.1,548.7L153.2,548L154.3,547.6L155.3,547.7L156.4,548.1L157.5,548.9L158.6,549.9L159.6,550.8L160.7,551.7L161.8,552.7L162.9,553.9L164,555.2L165,556.7L166.1,558.6L167.2,560.7L168.3,563L169.3,565.3L170.4,567.6L171.5,569.6L172.6,571.5L173.6,573.4L174.7,575.3L175.8,577.1L176.9,578.9L177.9,580.7L179,582.4L180.1,584L181.2,585.6L182.2,587.3L183.3,588.8L184.4,590.4L185.5,591.9L186.6,593.3L187.6,594.6L188.7,595.9L189.8,597L190.9,598.1L191.9,599.2L193,600.2L194.1,601.2L195.2,602.2L196.2,603.1L197.3,604L198.4,604.9L199.5,605.7L200.5,606.4L201.6,607.1L202.7,607.8L203.8,608.4L204.9,609L205.9,609.6L207,610.2L208.1,610.7L209.2,611.2L210.2,611.7L211.3,612.2L212.4,612.6L213.5,613.1L214.5,613.4L215.6,613.8L216.7,614.1L217.8,614.4L218.8,614.7L219.9,614.9L221,615.2L222.1,615.4L223.1,615.6L224.2,615.9L225.3,616.1L226.4,616.3L227.5,616.5L228.5,616.7L229.6,616.8L230.7,617L231.8,617.1L232.8,617.3L233.9,617.4L235,617.5L236.1,617.6L237.1,617.7L238.2,617.7L239.3,617.8L240.4,617.9L241.4,618L242.5,618L243.6,618.1L244.7,618.2L245.7,618.2L246.8,618.3L247.9,618.3L249,618.4L250.1,618.5L251.1,618.5L252.2,618.6L253.3,618.6L254.4,618.6L255.4,618.7L265.1,618.9L278,619.1L295.3,619.3L312.5,619.3" fill="none" stroke="#7ff0f5" stroke-width="0.6"/>
<path d="M75.7,619.3L101.5,619.3L110.1,619.3L111.2,619.3L112.3,619.3L113.4,619.3L114.4,619.3L115.5,619.3L116.6,619.3L117.7,619.3L118.8,619.2L119.8,618.7L120.9,618L122,617.1L123.1,615.6L124.1,613.3L125.2,611.2L126.3,609L127.4,606.7L128.4,604.4L129.5,602.1L130.6,599.6L131.7,597.2L132.7,594.7L133.8,592.4L134.9,590.2L136,587.9L137,585.4L138.1,582.8L139.2,580L140.3,577.2L141.4,574.5L142.4,572L143.5,569.5L144.6,567.1L145.7,564.8L146.7,562.7L147.8,560.7L148.9,558.8L150,556.9L151,555.3L152.1,554L153.2,553L154.3,551.9L155.3,550.9L156.4,550.2L157.5,549.9L158.6,550L159.6,550.4L160.7,551.2L161.8,552.1L162.9,553L164,553.9L165,554.9L166.1,556L167.2,557.2L168.3,558.7L169.3,560.5L170.4,562.5L171.5,564.7L172.6,566.9L173.6,569.1L174.7,571.1L175.8,572.9L176.9,574.8L177.9,576.6L179,578.3L180.1,580.1L181.2,581.7L182.2,583.4L183.3,585L184.4,586.5L185.5,588.1L186.6,589.6L187.6,591.1L188.7,592.6L189.8,594L190.9,595.2L191.9,596.4L193,597.5L194.1,598.6L195.2,599.7L196.2,600.7L197.3,601.6L198.4,602.6L199.5,603.5L200.5,604.4L201.6,605.2L202.7,605.9L203.8,606.7L204.9,607.4L205.9,608L207,608.6L208.1,609.2L209.2,609.8L210.2,610.3L211.3,610.8L212.4,611.4L213.5,611.8L214.5,612.3L215.6,612.7L216.7,613.2L217.8,613.5L218.8,613.9L219.9,614.2L221,614.5L222.1,614.7L223.1,615L224.2,615.2L225.3,615.5L226.4,615.7L227.5,615.9L228.5,616.1L229.6,616.3L230.7,616.5L231.8,616.7L232.8,616.9L233.9,617L235,617.2L236.1,617.3L237.1,617.4L238.2,617.5L239.3,617.6L240.4,617.7L241.4,617.8L242.5,617.8L243.6,617.9L244.7,618L245.7,618.1L246.8,618.1L247.9,618.2L249,618.2L250.1,618.3L251.1,618.4L252.2,618.4L253.3,618.5L254.4,618.5L255.4,618.6L265.1,618.9L278,619.1L295.3,619.2L312.5,619.3" fill="none" stroke="#7ff0f5" stroke-width="0.6"/>
<path d="M75.7,619.3L101.5,619.3L110.1,619.3L111.2,619.3L112.3,619.3L113.4,619.3L114.4,619.3L115.5,619.3L116.6,619.3L117.7,619.2L118.8,618.7L119.8,618L120.9,617.2L122,616L123.1,613.8L124.1,611.7L125.2,609.6L126.3,607.5L127.4,605.3L128.4,603L129.5,600.7L130.6,598.3L131.7,596L132.7,593.6L133.8,591.4L134.9,589.3L136,587.1L137,584.7L138.1,582.1L139.2,579.5L140.3,576.8L141.4,574.1L142.4,571.6L143.5,569.2L144.6,566.8L145.7,564.5L146.7,562.3L147.8,560.3L148.9,558.4L150,556.5L151,554.7L152.1,553.1L153.2,551.8L154.3,550.7L155.3,549.7L156.4,548.7L157.5,547.9L158.6,547.3L159.6,547.1L160.7,547.3L161.8,547.9L162.9,548.6L164,549.5L165,550.4L166.1,551.2L167.2,552.2L168.3,553.2L169.3,554.4L170.4,555.7L171.5,557.3L172.6,559.2L173.6,561.2L174.7,563.4L175.8,565.5L176.9,567.6L177.9,569.4L179,571.2L180.1,573L181.2,574.8L182.2,576.5L183.3,578.1L184.4,579.8L185.5,581.4L186.6,582.9L187.6,584.5L188.7,586L189.8,587.5L190.9,588.9L191.9,590.4L193,591.8L194.1,593.1L195.2,594.3L196.2,595.5L197.3,596.5L198.4,597.6L199.5,598.6L200.5,599.6L201.6,600.5L202.7,601.5L203.8,602.4L204.9,603.2L205.9,604L207,604.8L208.1,605.6L209.2,606.3L210.2,606.9L211.3,607.5L212.4,608.1L213.5,608.7L214.5,609.3L215.6,609.8L216.7,610.3L217.8,610.8L218.8,611.3L219.9,611.8L221,612.2L222.1,612.6L223.1,613L224.2,613.4L225.3,613.7L226.4,614L227.5,614.3L228.5,614.5L229.6,614.8L230.7,615L231.8,615.2L232.8,615.4L233.9,615.7L235,615.9L236.1,616.1L237.1,616.3L238.2,616.4L239.3,616.6L240.4,616.8L241.4,616.9L242.5,617.1L243.6,617.2L244.7,617.3L245.7,617.4L246.8,617.5L247.9,617.6L249,617.7L250.1,617.7L251.1,617.8L252.2,617.9L253.3,617.9L254.4,618L255.4,618.1L265.1,618.6L278,618.9L295.3,619.1L312.5,619.3" fill="none" stroke="#7ff0f5" stroke-width="0.6"/>
<path d="M75.7,619.3L101.5,619.3L110.1,619.3L111.2,619.3L112.3,619.3L113.4,619.3L114.4,619.3L115.5,619.3L116.6,619L117.7,618.3L118.8,617.3L119.8,616.1L120.9,613.8L122,611L123.1,608.5L124.1,605.8L125.2,603.1L126.3,600.3L127.4,597.5L128.4,594.5L129.5,591.6L130.6,588.7L131.7,586L132.7,583.4L133.8,580.6L134.9,577.5L136,574.2L137,570.9L138.1,567.6L139.2,564.5L140.3,561.5L141.4,558.5L142.4,555.7L143.5,553L144.6,550.6L145.7,548.2L146.7,545.9L147.8,543.9L148.9,542.1L150,540.6L151,539.3L152.1,538.1L153.2,537L154.3,536.3L155.3,536.1L156.4,536.3L157.5,537L158.6,538L159.6,539.1L160.7,540.1L161.8,541.2L162.9,542.5L164,543.8L165,545.4L166.1,547.2L167.2,549.5L168.3,552L169.3,554.6L170.4,557.3L171.5,559.8L172.6,562.1L173.6,564.3L174.7,566.5L175.8,568.6L176.9,570.7L177.9,572.8L179,574.8L180.1,576.8L181.2,578.6L182.2,580.5L183.3,582.4L184.4,584.2L185.5,586L186.6,587.7L187.6,589.3L188.7,590.8L189.8,592.2L190.9,593.5L191.9,594.8L193,596L194.1,597.2L195.2,598.4L196.2,599.5L197.3,600.6L198.4,601.6L199.5,602.6L200.5,603.5L201.6,604.3L202.7,605.1L203.8,605.9L204.9,606.6L205.9,607.3L207,608L208.1,608.6L209.2,609.3L210.2,609.9L211.3,610.5L212.4,611L213.5,611.5L214.5,612L215.6,612.4L216.7,612.9L217.8,613.2L218.8,613.6L219.9,613.9L221,614.2L222.1,614.5L223.1,614.7L224.2,615L225.3,615.3L226.4,615.5L227.5,615.8L228.5,616L229.6,616.2L230.7,616.4L231.8,616.6L232.8,616.7L233.9,616.9L235,617L236.1,617.2L237.1,617.3L238.2,617.4L239.3,617.5L240.4,617.6L241.4,617.6L242.5,617.7L243.6,617.8L244.7,617.9L245.7,618L246.8,618L247.9,618.1L249,618.2L250.1,618.2L251.1,618.3L252.2,618.4L253.3,618.4L254.4,618.5L255.4,618.5L265.1,618.9L278,619.1L295.3,619.2L312.5,619.3L312.5,619.3L295.3,619.2L278,619.1L265.1,618.9L255.4,618.6L254.4,618.5L253.3,618.5L252.2,618.4L251.1,618.4L250.1,618.3L249,618.2L247.9,618.2L246.8,618.1L245.7,618.1L244.7,618L243.6,617.9L242.5,617.8L241.4,617.8L240.4,617.7L239.3,617.6L238.2,617.5L237.1,617.4L236.1,617.3L235,617.2L233.9,617L232.8,616.9L231.8,616.7L230.7,616.5L229.6,616.3L228.5,616.1L227.5,615.9L226.4,615.7L225.3,615.5L224.2,615.2L223.1,615L222.1,614.8L221,614.5L219.9,614.2L218.8,613.9L217.8,613.6L216.7,613.2L215.6,612.8L214.5,612.3L213.5,611.9L212.4,611.4L211.3,610.9L210.2,610.4L209.2,609.8L208.1,609.3L207,608.7L205.9,608.1L204.9,607.5L203.8,606.8L202.7,606.1L201.6,605.3L200.5,604.5L199.5,603.6L198.4,602.7L197.3,601.8L196.2,600.8L195.2,599.9L194.1,598.8L193,597.8L191.9,596.7L190.9,595.5L189.8,594.2L188.7,592.9L187.6,591.4L186.6,590L185.5,588.5L184.4,587L183.3,585.4L182.2,583.9L181.2,582.2L180.1,580.6L179,578.9L177.9,577.2L176.9,575.4L175.8,573.6L174.7,571.8L173.6,569.8L172.6,567.7L171.5,565.5L170.4,563.4L169.3,561.4L168.3,559.7L167.2,558.3L166.1,557.1L165,556L164,555L162.9,554.2L161.8,553.3L160.7,552.4L159.6,551.7L158.6,551.3L157.5,551.2L156.4,551.6L155.3,552.3L154.3,553.2L153.2,554.3L152.1,555.4L151,556.7L150,558.2L148.9,560L147.8,561.9L146.7,563.9L145.7,565.9L144.6,568.2L143.5,570.5L142.4,573L141.4,575.4L140.3,578.1L139.2,580.8L138.1,583.5L137,586.1L136,588.6L134.9,590.8L133.8,593L132.7,595.2L131.7,597.6L130.6,600L129.5,602.4L128.4,604.7L127.4,607L126.3,609.1L125.2,611.3L124.1,613.4L123.1,615.6L122,617.1L120.9,618L119.8,618.7L118.8,619.2L117.7,619.3L116.6,619.3L115.5,619.3L114.4,619.3L113.4,619.3L112.3,619.3L111.2,619.3L110.1,619.3L101.5,619.3L75.7,619.3Z" fill="#40e6f0" fill-opacity="0.35"/>
<path d="M75.7,619.3L101.5,619.3L110.1,619.3L111.2,619.3L112.3,619.3L113.4,619.3L114.4,619.2L115.5,618.8L116.6,618.3L117.7,617.3L118.8,615.5L119.8,613.2L120.9,611L122,608.6L123.1,606L124.1,603.2L125.2,600.4L126.3,597.5L127.4,594.2L128.4,589.8L129.5,584.4L130.6,578.5L131.7,572.5L132.7,566.7L133.8,560.8L134.9,554.7L136,548.7L137,543L138.1,537.4L139.2,531.7L140.3,526.2L141.4,521.6L142.4,518.2L143.5,515.2L144.6,512.7L145.7,511.1L146.7,510.8L147.8,511.1L148.9,511.7L150,512.4L151,513.3L152.1,514.9L153.2,516.9L154.3,519L155.3,521.3L156.4,523.8L157.5,526.5L158.6,529.3L159.6,532.1L160.7,534.9L161.8,537.8L162.9,540.8L164,543.8L165,546.9L166.1,550.2L167.2,553.7L168.3,557.4L169.3,561L170.4,564.6L171.5,568L172.6,571.4L173.6,574.8L174.7,578.2L175.8,581.8L176.9,585.3L177.9,588.6L179,591.6L180.1,594.5L181.2,597.2L182.2,599.5L183.3,601.5L184.4,603.3L185.5,604.8L186.6,605.9L187.6,606.8L188.7,607.6L189.8,608.4L190.9,609.1L191.9,609.7L193,610.3L194.1,610.9L195.2,611.5L196.2,612.1L197.3,612.6L198.4,613L199.5,613.4L200.5,613.7L201.6,614L202.7,614.3L203.8,614.6L204.9,614.9L205.9,615.2L207,615.4L208.1,615.7L209.2,615.9L210.2,616.1L211.3,616.3L212.4,616.5L213.5,616.7L214.5,616.8L215.6,617L216.7,617.2L217.8,617.3L218.8,617.4L219.9,617.5L221,617.6L222.1,617.7L223.1,617.8L224.2,617.9L225.3,618L226.4,618.1L227.5,618.1L228.5,618.2L229.6,618.3L230.7,618.4L231.8,618.4L232.8,618.5L233.9,618.5L235,618.6L236.1,618.6L237.1,618.7L238.2,618.7L239.3,618.8L240.4,618.8L241.4,618.8L242.5,618.9L243.6,618.9L244.7,618.9L245.7,618.9L246.8,619L247.9,619L249,619L250.1,619.1L251.1,619.1L252.2,619.1L253.3,619.1L254.4,619.1L255.4,619.1L265.1,619.2L278,619.3L295.3,619.3L312.5,619.3" fill="none" stroke="#8a8a8a" stroke-width="0.6"/>
<path d="M75.7,619.3L101.5,619.3L110.1,619.3L111.2,619.3L112.3,619.3L113.4,619.3L114.4,619.3L115.5,619.3L116.6,619.3L117.7,619.3L118.8,619.2L119.8,618.9L120.9,618.4L122,617.7L123.1,616.1L124.1,614.1L125.2,612L126.3,609.9L127.4,607.5L128.4,605L129.5,602.4L130.6,599.7L131.7,597L132.7,593.7L133.8,589.4L134.9,584.3L136,578.8L137,573.2L138.1,567.8L139.2,562.2L140.3,556.5L141.4,550.9L142.4,545.4L143.5,540.2L144.6,534.9L145.7,529.6L146.7,524.8L147.8,520.9L148.9,518L150,515.3L151,513.1L152.1,511.8L153.2,511.7L154.3,512L155.3,512.5L156.4,513.2L157.5,514.1L158.6,515.5L159.6,517.3L160.7,519.2L161.8,521.3L162.9,523.6L164,526L165,528.6L166.1,531.3L167.2,533.9L168.3,536.6L169.3,539.3L170.4,542L171.5,544.9L172.6,547.8L173.6,550.9L174.7,554.2L175.8,557.6L176.9,561.1L177.9,564.4L179,567.7L180.1,570.8L181.2,574L182.2,577.2L183.3,580.4L184.4,583.8L185.5,587L186.6,590L187.6,592.8L188.7,595.4L189.8,597.9L190.9,600L191.9,601.8L193,603.5L194.1,604.9L195.2,605.9L196.2,606.8L197.3,607.6L198.4,608.3L199.5,608.9L200.5,609.5L201.6,610.1L202.7,610.7L203.8,611.3L204.9,611.8L205.9,612.3L207,612.8L208.1,613.2L209.2,613.5L210.2,613.8L211.3,614.1L212.4,614.4L213.5,614.6L214.5,614.9L215.6,615.2L216.7,615.4L217.8,615.6L218.8,615.8L219.9,616L221,616.2L222.1,616.4L223.1,616.6L224.2,616.8L225.3,616.9L226.4,617.1L227.5,617.2L228.5,617.3L229.6,617.4L230.7,617.5L231.8,617.6L232.8,617.7L233.9,617.8L235,617.9L236.1,618L237.1,618.1L238.2,618.1L239.3,618.2L240.4,618.3L241.4,618.3L242.5,618.4L243.6,618.5L244.7,618.5L245.7,618.6L246.8,618.6L247.9,618.7L249,618.7L250.1,618.7L251.1,618.8L252.2,618.8L253.3,618.8L254.4,618.9L255.4,618.9L265.1,619.1L278,619.2L295.3,619.3L312.5,619.3" fill="none" stroke="#8a8a8a" stroke-width="0.6"/>
<path d="M75.7,619.3L101.5,619.3L110.1,619.3L111.2,619.3L112.3,619.3L113.4,619.3L114.4,619.3L115.5,619.3L116.6,619.3L117.7,619.3L118.8,619.1L119.8,618.7L120.9,618.2L122,617L123.1,615.4L124.1,613.6L125.2,611.8L126.3,609.8L127.4,607.6L128.4,605.4L129.5,603.1L130.6,600.7L131.7,597.6L132.7,593.7L133.8,589.2L134.9,584.4L136,579.7L137,575.1L138.1,570.3L139.2,565.5L140.3,560.8L141.4,556.4L142.4,551.8L143.5,547.4L144.6,543.3L145.7,540.2L146.7,537.8L147.8,535.6L148.9,533.9L150,533.2L151,533.3L152.1,533.7L153.2,534.3L154.3,534.9L155.3,535.9L156.4,537.4L157.5,539.1L158.6,540.8L159.6,542.7L160.7,544.8L161.8,547L162.9,549.2L164,551.5L165,553.7L166.1,556.1L167.2,558.4L168.3,560.9L169.3,563.4L170.4,566.2L171.5,569L172.6,571.9L173.6,574.8L174.7,577.6L175.8,580.3L176.9,583L177.9,585.7L179,588.5L180.1,591.3L181.2,594L182.2,596.5L183.3,598.8L184.4,601L185.5,603L186.6,604.6L187.6,606.1L188.7,607.4L189.8,608.4L190.9,609.1L191.9,609.8L193,610.4L194.1,611L195.2,611.5L196.2,612L197.3,612.5L198.4,613L199.5,613.4L200.5,613.9L201.6,614.2L202.7,614.5L203.8,614.8L204.9,615L205.9,615.3L207,615.5L208.1,615.7L209.2,615.9L210.2,616.2L211.3,616.3L212.4,616.5L213.5,616.7L214.5,616.9L215.6,617L216.7,617.2L217.8,617.3L218.8,617.4L219.9,617.6L221,617.7L222.1,617.8L223.1,617.9L224.2,617.9L225.3,618L226.4,618.1L227.5,618.2L228.5,618.2L229.6,618.3L230.7,618.4L231.8,618.4L232.8,618.5L233.9,618.5L235,618.6L236.1,618.6L237.1,618.7L238.2,618.7L239.3,618.8L240.4,618.8L241.4,618.8L242.5,618.9L243.6,618.9L244.7,618.9L245.7,618.9L246.8,619L247.9,619L249,619L250.1,619L251.1,619.1L252.2,619.1L253.3,619.1L254.4,619.1L255.4,619.1L265.1,619.2L278,619.3L295.3,619.3L312.5,619.3" fill="none" stroke="#8a8a8a" stroke-width="0.6"/>
<path d="M75.7,619.3L101.5,619.3L110.1,619.3L111.2,619.3L112.3,619.3L113.4,619.3L114.4,619.3L115.5,619.3L116.6,619.2L117.7,619L118.8,618.6L119.8,618.1L120.9,616.8L122,615.1L123.1,613.2L124.1,611.3L125.2,609.3L126.3,607L127.4,604.7L128.4,602.3L129.5,599.9L130.6,597L131.7,593.1L132.7,588.6L133.8,583.7L134.9,578.7L136,573.9L137,568.9L138.1,563.9L139.2,558.9L140.3,554.1L141.4,549.5L142.4,544.8L143.5,540.2L144.6,536.2L145.7,533.1L146.7,530.6L147.8,528.4L148.9,526.7L150,526L151,526.2L152.1,526.6L153.2,527.1L154.3,527.8L155.3,528.8L156.4,530.3L157.5,532L158.6,533.7L159.6,535.7L160.7,537.8L161.8,540.1L162.9,542.5L164,544.8L165,547.1L166.1,549.5L167.2,552L168.3,554.5L169.3,557.1L170.4,559.8L171.5,562.7L172.6,565.7L173.6,568.8L174.7,571.7L175.8,574.6L176.9,577.4L177.9,580.3L179,583.1L180.1,586L181.2,588.9L182.2,591.8L183.3,594.4L184.4,596.8L185.5,599.1L186.6,601.2L187.6,603L188.7,604.6L189.8,606L190.9,607.1L191.9,608L193,608.7L194.1,609.4L195.2,610L196.2,610.6L197.3,611.1L198.4,611.6L199.5,612.1L200.5,612.6L201.6,613.1L202.7,613.5L203.8,613.9L204.9,614.2L205.9,614.4L207,614.7L208.1,615L209.2,615.2L210.2,615.4L211.3,615.7L212.4,615.9L213.5,616.1L214.5,616.3L215.6,616.5L216.7,616.6L217.8,616.8L218.8,617L219.9,617.1L221,617.2L222.1,617.4L223.1,617.5L224.2,617.6L225.3,617.7L226.4,617.8L227.5,617.9L228.5,617.9L229.6,618L230.7,618.1L231.8,618.2L232.8,618.2L233.9,618.3L235,618.4L236.1,618.4L237.1,618.5L238.2,618.5L239.3,618.6L240.4,618.6L241.4,618.7L242.5,618.7L243.6,618.8L244.7,618.8L245.7,618.8L246.8,618.9L247.9,618.9L249,618.9L250.1,618.9L251.1,619L252.2,619L253.3,619L254.4,619L255.4,619L265.1,619.2L278,619.2L295.3,619.3L312.5,619.3" fill="none" stroke="#8a8a8a" stroke-width="0.6"/>
<path d="M75.7,619.3L101.5,619.3L110.1,619.3L111.2,619.3L112.3,619.3L113.4,619.3L114.4,619.2L115.5,618.9L116.6,618.4L117.7,617.5L118.8,615.9L119.8,614L120.9,612L122,609.9L123.1,607.6L124.1,605.2L125.2,602.7L126.3,600.2L127.4,597.2L128.4,593.4L129.5,588.7L130.6,583.6L131.7,578.3L132.7,573.1L133.8,567.9L134.9,562.6L136,557.2L137,552.2L138.1,547.3L139.2,542.2L140.3,537.4L141.4,533.2L142.4,530L143.5,527.4L144.6,525.1L145.7,523.6L146.7,523.2L147.8,523.4L148.9,523.9L150,524.5L151,525.3L152.1,526.6L153.2,528.4L154.3,530.2L155.3,532.2L156.4,534.4L157.5,536.7L158.6,539.2L159.6,541.7L160.7,544.2L161.8,546.7L162.9,549.3L164,551.9L165,554.7L166.1,557.5L167.2,560.6L168.3,563.8L169.3,567L170.4,570.2L171.5,573.3L172.6,576.3L173.6,579.2L174.7,582.2L175.8,585.3L176.9,588.5L177.9,591.5L179,594.2L180.1,596.7L181.2,599.1L182.2,601.3L183.3,603.1L184.4,604.7L185.5,606.1L186.6,607.2L187.6,608L188.7,608.8L189.8,609.5L190.9,610.1L191.9,610.6L193,611.2L194.1,611.7L195.2,612.3L196.2,612.8L197.3,613.2L198.4,613.6L199.5,614L200.5,614.3L201.6,614.5L202.7,614.8L203.8,615.1L204.9,615.3L205.9,615.6L207,615.8L208.1,616L209.2,616.2L210.2,616.4L211.3,616.6L212.4,616.8L213.5,616.9L214.5,617.1L215.6,617.2L216.7,617.3L217.8,617.5L218.8,617.6L219.9,617.7L221,617.8L222.1,617.9L223.1,617.9L224.2,618L225.3,618.1L226.4,618.2L227.5,618.2L228.5,618.3L229.6,618.4L230.7,618.4L231.8,618.5L232.8,618.6L233.9,618.6L235,618.7L236.1,618.7L237.1,618.7L238.2,618.8L239.3,618.8L240.4,618.8L241.4,618.9L242.5,618.9L243.6,618.9L244.7,619L245.7,619L246.8,619L247.9,619L249,619L250.1,619.1L251.1,619.1L252.2,619.1L253.3,619.1L254.4,619.1L255.4,619.2L265.1,619.2L278,619.3L295.3,619.3L312.5,619.3" fill="none" stroke="#8a8a8a" stroke-width="0.6"/>
<path d="M75.7,619.3L101.5,619.3L110.1,619.3L111.2,619.3L112.3,619.3L113.4,619.3L114.4,619.2L115.5,619L116.6,618.6L117.7,617.8L118.8,616.3L119.8,614.4L120.9,612.3L122,610.2L123.1,607.9L124.1,605.4L125.2,602.9L126.3,600.3L127.4,597.3L128.4,593.4L129.5,588.6L130.6,583.3L131.7,577.9L132.7,572.7L133.8,567.3L134.9,561.9L136,556.5L137,551.4L138.1,546.3L139.2,541.1L140.3,536.3L141.4,532.3L142.4,529.5L143.5,526.9L144.6,524.7L145.7,523.6L146.7,523.6L147.8,523.9L148.9,524.5L150,525.2L151,526.2L152.1,527.8L153.2,529.7L154.3,531.6L155.3,533.8L156.4,536.1L157.5,538.6L158.6,541.2L159.6,543.7L160.7,546.3L161.8,548.9L162.9,551.6L164,554.4L165,557.3L166.1,560.4L167.2,563.6L168.3,566.9L169.3,570.2L170.4,573.3L171.5,576.4L172.6,579.4L173.6,582.5L174.7,585.7L175.8,588.8L176.9,591.9L177.9,594.6L179,597.2L180.1,599.6L181.2,601.8L182.2,603.6L183.3,605.2L184.4,606.5L185.5,607.5L186.6,608.3L187.6,609.1L188.7,609.7L189.8,610.3L190.9,610.9L191.9,611.5L193,612L194.1,612.5L195.2,613L196.2,613.5L197.3,613.9L198.4,614.2L199.5,614.5L200.5,614.7L201.6,615L202.7,615.3L203.8,615.5L204.9,615.7L205.9,616L207,616.2L208.1,616.4L209.2,616.6L210.2,616.7L211.3,616.9L212.4,617.1L213.5,617.2L214.5,617.4L215.6,617.5L216.7,617.6L217.8,617.7L218.8,617.8L219.9,617.9L221,618L222.1,618L223.1,618.1L224.2,618.2L225.3,618.3L226.4,618.3L227.5,618.4L228.5,618.5L229.6,618.5L230.7,618.6L231.8,618.6L232.8,618.7L233.9,618.7L235,618.8L236.1,618.8L237.1,618.8L238.2,618.9L239.3,618.9L240.4,618.9L241.4,618.9L242.5,619L243.6,619L244.7,619L245.7,619L246.8,619.1L247.9,619.1L249,619.1L250.1,619.1L251.1,619.1L252.2,619.2L253.3,619.2L254.4,619.2L255.4,619.2L265.1,619.2L278,619.3L295.3,619.3L312.5,619.3" fill="none" stroke="#8a8a8a" stroke-width="0.6"/>
<path d="M75.7,619.3L101.5,619.3L110.1,619.3L111.2,619.3L112.3,619.3L113.4,619.3L114.4,619.3L115.5,619.3L116.6,619.3L117.7,619.3L118.8,619.1L119.8,618.7L120.9,618.2L122,617.1L123.1,615.5L124.1,613.6L125.2,611.8L126.3,609.9L127.4,607.7L128.4,605.5L129.5,603.2L130.6,600.9L131.7,598.2L132.7,594.6L133.8,590.3L134.9,585.6L136,580.7L137,576.1L138.1,571.3L139.2,566.4L140.3,561.5L141.4,556.8L142.4,552.3L143.5,547.7L144.6,543.2L145.7,539.1L146.7,535.8L147.8,533.3L148.9,531L150,529.2L151,528.2L152.1,528.2L153.2,528.5L154.3,529L155.3,529.6L156.4,530.4L157.5,531.7L158.6,533.3L159.6,535L160.7,536.8L161.8,538.8L162.9,541L164,543.3L165,545.6L166.1,547.8L167.2,550.1L168.3,552.5L169.3,554.9L170.4,557.4L171.5,560L172.6,562.7L173.6,565.6L174.7,568.6L175.8,571.5L176.9,574.3L177.9,577.1L179,579.8L180.1,582.6L181.2,585.3L182.2,588.2L183.3,591L184.4,593.7L185.5,596.1L186.6,598.4L187.6,600.6L188.7,602.5L189.8,604.1L190.9,605.6L191.9,606.8L193,607.8L194.1,608.6L195.2,609.3L196.2,609.9L197.3,610.5L198.4,611L199.5,611.5L200.5,612L201.6,612.5L202.7,613L203.8,613.4L204.9,613.8L205.9,614.1L207,614.4L208.1,614.7L209.2,614.9L210.2,615.1L211.3,615.4L212.4,615.6L213.5,615.8L214.5,616L215.6,616.2L216.7,616.4L217.8,616.6L218.8,616.7L219.9,616.9L221,617.1L222.1,617.2L223.1,617.3L224.2,617.4L225.3,617.6L226.4,617.7L227.5,617.8L228.5,617.8L229.6,617.9L230.7,618L231.8,618.1L232.8,618.1L233.9,618.2L235,618.3L236.1,618.3L237.1,618.4L238.2,618.5L239.3,618.5L240.4,618.6L241.4,618.6L242.5,618.7L243.6,618.7L244.7,618.7L245.7,618.8L246.8,618.8L247.9,618.8L249,618.9L250.1,618.9L251.1,618.9L252.2,618.9L253.3,619L254.4,619L255.4,619L265.1,619.2L278,619.2L295.3,619.3L312.5,619.3" fill="none" stroke="#8a8a8a" stroke-width="0.6"/>
<path d="M75.7,619.3L101.5,619.3L110.1,619.3L111.2,619.3L112.3,619.3L113.4,619.3L114.4,619.2L115.5,619L116.6,618.6L117.7,618L118.8,616.7L119.8,615L120.9,613.1L122,611.3L123.1,609.2L124.1,607L125.2,604.7L126.3,602.5L127.4,600L128.4,596.8L129.5,592.8L130.6,588.2L131.7,583.4L132.7,578.6L133.8,573.9L134.9,569L136,564.1L137,559.3L138.1,554.8L139.2,550.2L140.3,545.6L141.4,541.4L142.4,538L143.5,535.4L144.6,533.1L145.7,531.3L146.7,530.3L147.8,530.3L148.9,530.6L150,531.1L151,531.7L152.1,532.6L153.2,534L154.3,535.6L155.3,537.3L156.4,539.2L157.5,541.3L158.6,543.5L159.6,545.8L160.7,548L161.8,550.3L162.9,552.7L164,555L165,557.5L166.1,560L167.2,562.7L168.3,565.6L169.3,568.5L170.4,571.5L171.5,574.4L172.6,577.2L173.6,579.9L174.7,582.6L175.8,585.4L176.9,588.3L177.9,591.1L179,593.8L180.1,596.3L181.2,598.6L182.2,600.8L183.3,602.8L184.4,604.4L185.5,605.9L186.6,607.1L187.6,608.1L188.7,608.9L189.8,609.6L190.9,610.2L191.9,610.7L193,611.3L194.1,611.8L195.2,612.3L196.2,612.8L197.3,613.2L198.4,613.7L199.5,614L200.5,614.3L201.6,614.6L202.7,614.9L203.8,615.1L204.9,615.4L205.9,615.6L207,615.8L208.1,616L209.2,616.2L210.2,616.4L211.3,616.6L212.4,616.8L213.5,616.9L214.5,617.1L215.6,617.2L216.7,617.3L217.8,617.5L218.8,617.6L219.9,617.7L221,617.8L222.1,617.9L223.1,617.9L224.2,618L225.3,618.1L226.4,618.2L227.5,618.2L228.5,618.3L229.6,618.4L230.7,618.4L231.8,618.5L232.8,618.5L233.9,618.6L235,618.6L236.1,618.7L237.1,618.7L238.2,618.8L239.3,618.8L240.4,618.8L241.4,618.9L242.5,618.9L243.6,618.9L244.7,618.9L245.7,619L246.8,619L247.9,619L249,619L250.1,619.1L251.1,619.1L252.2,619.1L253.3,619.1L254.4,619.1L255.4,619.1L265.1,619.2L278,619.3L295.3,619.3L312.5,619.3" fill="none" stroke="#8a8a8a" stroke-width="0.6"/>
<path d="M75.7,619.3L101.5,619.3L110.1,619.3L111.2,619.3L112.3,619.3L113.4,619.3L114.4,619.2L115.5,618.9L116.6,618.5L117.7,617.6L118.8,616.2L119.8,614.4L120.9,612.7L122,610.9L123.1,608.8L124.1,606.7L125.2,604.5L126.3,602.3L127.4,599.8L128.4,596.6L129.5,592.5L130.6,588.1L131.7,583.4L132.7,578.9L133.8,574.4L134.9,569.7L136,565L137,560.5L138.1,556.2L139.2,551.8L140.3,547.5L141.4,543.6L142.4,540.4L143.5,538.1L144.6,535.9L145.7,534.2L146.7,533.4L147.8,533.4L148.9,533.7L150,534.2L151,534.8L152.1,535.7L153.2,537L154.3,538.6L155.3,540.2L156.4,542L157.5,544L158.6,546.1L159.6,548.2L160.7,550.4L161.8,552.6L162.9,554.8L164,557.1L165,559.4L166.1,561.8L167.2,564.3L168.3,567L169.3,569.8L170.4,572.7L171.5,575.4L172.6,578.1L173.6,580.7L174.7,583.3L175.8,586L176.9,588.7L177.9,591.4L179,594L180.1,596.5L181.2,598.7L182.2,600.8L183.3,602.8L184.4,604.4L185.5,605.9L186.6,607.2L187.6,608.2L188.7,609L189.8,609.7L190.9,610.3L191.9,610.8L193,611.3L194.1,611.8L195.2,612.3L196.2,612.8L197.3,613.2L198.4,613.7L199.5,614L200.5,614.4L201.6,614.6L202.7,614.9L203.8,615.1L204.9,615.4L205.9,615.6L207,615.8L208.1,616L209.2,616.2L210.2,616.4L211.3,616.6L212.4,616.7L213.5,616.9L214.5,617L215.6,617.2L216.7,617.3L217.8,617.4L218.8,617.6L219.9,617.7L221,617.8L222.1,617.9L223.1,617.9L224.2,618L225.3,618.1L226.4,618.2L227.5,618.2L228.5,618.3L229.6,618.3L230.7,618.4L231.8,618.5L232.8,618.5L233.9,618.6L235,618.6L236.1,618.7L237.1,618.7L238.2,618.7L239.3,618.8L240.4,618.8L241.4,618.9L242.5,618.9L243.6,618.9L244.7,618.9L245.7,619L246.8,619L247.9,619L249,619L250.1,619L251.1,619.1L252.2,619.1L253.3,619.1L254.4,619.1L255.4,619.1L265.1,619.2L278,619.3L295.3,619.3L312.5,619.3" fill="none" stroke="#8a8a8a" stroke-width="0.6"/>
<path d="M75.7,619.3L101.5,619.3L110.1,619.3L111.2,619.3L112.3,619.3L113.4,619.3L114.4,619.3L115.5,619.1L116.6,618.7L117.7,618.2L118.8,617.1L119.8,615.4L120.9,613.3L122,611.3L123.1,609.1L124.1,606.8L125.2,604.2L126.3,601.7L127.4,599.1L128.4,596.2L129.5,592.4L130.6,587.8L131.7,582.5L132.7,577.1L133.8,571.8L134.9,566.5L136,561L137,555.5L138.1,550.2L139.2,545.1L140.3,540L141.4,534.8L142.4,530.1L143.5,526.1L144.6,523.2L145.7,520.6L146.7,518.3L147.8,516.9L148.9,516.7L150,517L151,517.5L152.1,518.1L153.2,518.9L154.3,520.2L155.3,522L156.4,523.9L157.5,525.9L158.6,528.1L159.6,530.5L160.7,533L161.8,535.5L162.9,538.1L164,540.6L165,543.3L166.1,546L167.2,548.7L168.3,551.6L169.3,554.6L170.4,557.8L171.5,561.1L172.6,564.4L173.6,567.7L174.7,570.8L175.8,573.9L176.9,576.9L177.9,580L179,583.2L180.1,586.4L181.2,589.5L182.2,592.3L183.3,594.9L184.4,597.4L185.5,599.7L186.6,601.6L187.6,603.3L188.7,604.8L189.8,606L190.9,606.9L191.9,607.7L193,608.5L194.1,609.1L195.2,609.7L196.2,610.3L197.3,610.9L198.4,611.4L199.5,612L200.5,612.5L201.6,612.9L202.7,613.3L203.8,613.7L204.9,614L205.9,614.2L207,614.5L208.1,614.8L209.2,615L210.2,615.3L211.3,615.5L212.4,615.7L213.5,616L214.5,616.2L215.6,616.3L216.7,616.5L217.8,616.7L218.8,616.9L219.9,617L221,617.2L222.1,617.3L223.1,617.4L224.2,617.5L225.3,617.6L226.4,617.7L227.5,617.8L228.5,617.9L229.6,618L230.7,618L231.8,618.1L232.8,618.2L233.9,618.3L235,618.3L236.1,618.4L237.1,618.4L238.2,618.5L239.3,618.6L240.4,618.6L241.4,618.6L242.5,618.7L243.6,618.7L244.7,618.8L245.7,618.8L246.8,618.8L247.9,618.9L249,618.9L250.1,618.9L251.1,618.9L252.2,619L253.3,619L254.4,619L255.4,619L265.1,619.2L278,619.2L295.3,619.3L312.5,619.3L312.5,619.3L295.3,619.3L278,619.2L265.1,619.2L255.4,619L254.4,619L253.3,619L252.2,619L251.1,618.9L250.1,618.9L249,618.9L247.9,618.9L246.8,618.8L245.7,618.8L244.7,618.8L243.6,618.7L242.5,618.7L241.4,618.6L240.4,618.6L239.3,618.5L238.2,618.5L237.1,618.4L236.1,618.4L235,618.3L233.9,618.3L232.8,618.2L231.8,618.1L230.7,618.1L229.6,618L228.5,617.9L227.5,617.8L226.4,617.7L225.3,617.6L224.2,617.5L223.1,617.4L222.1,617.3L221,617.2L219.9,617L218.8,616.9L217.8,616.7L216.7,616.6L215.6,616.4L214.5,616.2L213.5,616L212.4,615.8L211.3,615.6L210.2,615.4L209.2,615.1L208.1,614.9L207,614.6L205.9,614.4L204.9,614.1L203.8,613.7L202.7,613.3L201.6,612.9L200.5,612.4L199.5,611.9L198.4,611.4L197.3,610.9L196.2,610.4L195.2,609.8L194.1,609.2L193,608.5L191.9,607.6L190.9,606.5L189.8,605.1L188.7,603.6L187.6,601.8L186.6,599.8L185.5,597.6L184.4,595.4L183.3,592.9L182.2,590.2L181.2,587.4L180.1,584.8L179,582.2L177.9,579.5L176.9,576.9L175.8,574.2L174.7,571.4L173.6,568.6L172.6,565.8L171.5,563.1L170.4,560.6L169.3,558.2L168.3,555.9L167.2,553.6L166.1,551.4L165,549.2L164,547.1L162.9,544.9L161.8,542.8L160.7,540.8L159.6,539L158.6,537.4L157.5,535.8L156.4,534.4L155.3,533.5L154.3,532.9L153.2,532.4L152.1,532L151,531.9L150,532.5L148.9,534L147.8,536.1L146.7,538.3L145.7,541.2L144.6,544.8L143.5,549.1L142.4,553.5L141.4,557.8L140.3,562.2L139.2,566.8L138.1,571.5L137,576.1L136,580.6L134.9,585.2L133.8,589.8L132.7,594.1L131.7,597.8L130.6,600.7L129.5,603L128.4,605.2L127.4,607.3L126.3,609.5L125.2,611.4L124.1,613.2L123.1,614.9L122,616.6L120.9,617.9L119.8,618.6L118.8,618.9L117.7,619.2L116.6,619.3L115.5,619.3L114.4,619.3L113.4,619.3L112.3,619.3L111.2,619.3L110.1,619.3L101.5,619.3L75.7,619.3Z" fill="#707070" fill-opacity="0.45"/>
<path d="M75.7,619.3L101.5,619.3L110.1,619.3L111.2,619.3L112.3,619.3L113.4,619.3L114.4,619.3L115.5,619.3L116.6,619.3L117.7,619.1L118.8,618.5L119.8,617.7L120.9,616.7L122,614.8L123.1,612.3L124.1,609.9L125.2,607.5L126.3,605.1L127.4,602.6L128.4,600L129.5,597.3L130.6,594.6L131.7,592L132.7,589.6L133.8,587.1L134.9,584.6L136,581.9L137,578.9L138.1,575.9L139.2,572.9L140.3,570L141.4,567.3L142.4,564.6L143.5,562L144.6,559.5L145.7,557.3L146.7,555.1L147.8,553L148.9,551.1L150,549.4L151,548L152.1,546.8L153.2,545.7L154.3,544.7L155.3,544L156.4,543.6L157.5,543.8L158.6,544.3L159.6,545.2L160.7,546.2L161.8,547.1L162.9,548.1L164,549.2L165,550.4L166.1,551.8L167.2,553.4L168.3,555.4L169.3,557.6L170.4,560L171.5,562.4L172.6,564.8L173.6,566.9L174.7,568.9L175.8,570.9L176.9,572.9L177.9,574.8L179,576.7L180.1,578.5L181.2,580.3L182.2,582L183.3,583.7L184.4,585.4L185.5,587L186.6,588.7L187.6,590.2L188.7,591.7L189.8,593.1L190.9,594.4L191.9,595.6L193,596.8L194.1,597.9L195.2,599L196.2,600.1L197.3,601.1L198.4,602.1L199.5,603L200.5,603.9L201.6,604.7L202.7,605.5L203.8,606.3L204.9,607L205.9,607.6L207,608.3L208.1,608.9L209.2,609.5L210.2,610.1L211.3,610.6L212.4,611.2L213.5,611.7L214.5,612.1L215.6,612.6L216.7,613L217.8,613.4L218.8,613.7L219.9,614L221,614.3L222.1,614.6L223.1,614.8L224.2,615.1L225.3,615.3L226.4,615.6L227.5,615.8L228.5,616L229.6,616.2L230.7,616.4L231.8,616.6L232.8,616.8L233.9,616.9L235,617.1L236.1,617.2L237.1,617.3L238.2,617.4L239.3,617.5L240.4,617.6L241.4,617.7L242.5,617.8L243.6,617.9L244.7,617.9L245.7,618L246.8,618.1L247.9,618.1L249,618.2L250.1,618.3L251.1,618.3L252.2,618.4L253.3,618.4L254.4,618.5L255.4,618.5L265.1,618.9L278,619.1L295.3,619.2L312.5,619.3" fill="none" stroke="#18c8d8" stroke-width="1.2"/>
<path d="M75.7,619.3L101.5,619.3L110.1,619.3L111.2,619.3L112.3,619.3L113.4,619.3L114.4,619.3L115.5,619.3L116.6,619.2L117.7,618.6L118.8,617.8L119.8,616.8L120.9,615L122,612.4L123.1,610L124.1,607.5L125.2,604.9L126.3,602.3L127.4,599.6L128.4,596.8L129.5,594L130.6,591.2L131.7,588.6L132.7,586L133.8,583.4L134.9,580.6L136,577.5L137,574.4L138.1,571.2L139.2,568.1L140.3,565.3L141.4,562.4L142.4,559.6L143.5,557L144.6,554.6L145.7,552.3L146.7,550.1L147.8,548L148.9,546.2L150,544.7L151,543.5L152.1,542.2L153.2,541.2L154.3,540.3L155.3,539.9L156.4,539.9L157.5,540.5L158.6,541.3L159.6,542.3L160.7,543.3L161.8,544.3L162.9,545.5L164,546.7L165,548.1L166.1,549.8L167.2,551.7L168.3,554.1L169.3,556.5L170.4,559.1L171.5,561.6L172.6,563.9L173.6,566L174.7,568.1L175.8,570.1L176.9,572.2L177.9,574.1L179,576.1L180.1,577.9L181.2,579.8L182.2,581.6L183.3,583.3L184.4,585.1L185.5,586.8L186.6,588.5L187.6,590L188.7,591.5L189.8,592.9L190.9,594.2L191.9,595.4L193,596.6L194.1,597.8L195.2,598.9L196.2,600L197.3,601L198.4,602L199.5,603L200.5,603.8L201.6,604.7L202.7,605.5L203.8,606.2L204.9,606.9L205.9,607.6L207,608.2L208.1,608.9L209.2,609.5L210.2,610.1L211.3,610.6L212.4,611.2L213.5,611.7L214.5,612.2L215.6,612.6L216.7,613L217.8,613.4L218.8,613.7L219.9,614L221,614.3L222.1,614.6L223.1,614.8L224.2,615.1L225.3,615.4L226.4,615.6L227.5,615.8L228.5,616L229.6,616.2L230.7,616.4L231.8,616.6L232.8,616.8L233.9,617L235,617.1L236.1,617.2L237.1,617.3L238.2,617.4L239.3,617.5L240.4,617.6L241.4,617.7L242.5,617.8L243.6,617.8L244.7,617.9L245.7,618L246.8,618.1L247.9,618.1L249,618.2L250.1,618.3L251.1,618.3L252.2,618.4L253.3,618.4L254.4,618.5L255.4,618.5L265.1,618.9L278,619.1L295.3,619.2L312.5,619.3" fill="none" stroke="#18c8d8" stroke-width="0.9"/>
<path d="M75.7,619.3L101.5,619.3L110.1,619.3L111.2,619.3L112.3,619.3L113.4,619.3L114.4,619.3L115.5,619.3L116.6,619.1L117.7,618.8L118.8,618.4L119.8,617.5L120.9,616L122,614.2L123.1,612.3L124.1,610.3L125.2,608.1L126.3,605.8L127.4,603.5L128.4,601.1L129.5,598.5L130.6,595.2L131.7,591L132.7,586.3L133.8,581.2L134.9,576.3L136,571.4L137,566.4L138.1,561.3L139.2,556.3L140.3,551.5L141.4,546.8L142.4,542L143.5,537.5L144.6,533.7L145.7,530.8L146.7,528.3L147.8,526.2L148.9,524.7L150,524.3L151,524.5L152.1,524.9L153.2,525.5L154.3,526.2L155.3,527.3L156.4,528.8L157.5,530.6L158.6,532.4L159.6,534.4L160.7,536.6L161.8,538.9L162.9,541.3L164,543.6L165,546L166.1,548.4L167.2,550.9L168.3,553.4L169.3,556.1L170.4,558.8L171.5,561.8L172.6,564.8L173.6,567.9L174.7,570.9L175.8,573.8L176.9,576.7L177.9,579.5L179,582.3L180.1,585.3L181.2,588.2L182.2,591.1L183.3,593.8L184.4,596.2L185.5,598.6L186.6,600.7L187.6,602.6L188.7,604.2L189.8,605.6L190.9,606.8L191.9,607.7L193,608.5L194.1,609.1L195.2,609.8L196.2,610.3L197.3,610.9L198.4,611.4L199.5,611.9L200.5,612.4L201.6,612.9L202.7,613.3L203.8,613.7L204.9,614L205.9,614.3L207,614.6L208.1,614.8L209.2,615.1L210.2,615.3L211.3,615.5L212.4,615.8L213.5,616L214.5,616.2L215.6,616.4L216.7,616.5L217.8,616.7L218.8,616.9L219.9,617L221,617.2L222.1,617.3L223.1,617.4L224.2,617.5L225.3,617.6L226.4,617.7L227.5,617.8L228.5,617.9L229.6,618L230.7,618L231.8,618.1L232.8,618.2L233.9,618.3L235,618.3L236.1,618.4L237.1,618.4L238.2,618.5L239.3,618.5L240.4,618.6L241.4,618.6L242.5,618.7L243.6,618.7L244.7,618.8L245.7,618.8L246.8,618.8L247.9,618.9L249,618.9L250.1,618.9L251.1,618.9L252.2,619L253.3,619L254.4,619L255.4,619L265.1,619.2L278,619.2L295.3,619.3L312.5,619.3" fill="none" stroke="#111" stroke-width="1.3"/>
<path d="M75.7,619.3L101.5,619.3L110.1,619.3L111.2,619.3L112.3,619.3L113.4,619.3L114.4,619.3L115.5,619.1L116.6,618.8L117.7,618.3L118.8,617.3L119.8,615.8L120.9,613.9L122,612.1L123.1,610.2L124.1,608L125.2,605.8L126.3,603.5L127.4,601.2L128.4,598.6L129.5,595.2L130.6,591L131.7,586.3L132.7,581.4L133.8,576.6L134.9,571.9L136,567L137,562L138.1,557.2L139.2,552.7L140.3,548.1L141.4,543.4L142.4,539.2L143.5,535.6L144.6,533L145.7,530.6L146.7,528.6L147.8,527.3L148.9,527.1L150,527.4L151,527.8L152.1,528.4L153.2,529.1L154.3,530.3L155.3,531.9L156.4,533.6L157.5,535.4L158.6,537.4L159.6,539.5L160.7,541.8L161.8,544.1L162.9,546.3L164,548.7L165,551L166.1,553.4L167.2,555.9L168.3,558.5L169.3,561.2L170.4,564.1L171.5,567.1L172.6,570L173.6,572.9L174.7,575.7L175.8,578.5L176.9,581.2L177.9,584L179,586.9L180.1,589.7L181.2,592.5L182.2,595L183.3,597.4L184.4,599.6L185.5,601.7L186.6,603.4L187.6,604.9L188.7,606.3L189.8,607.3L190.9,608.2L191.9,608.9L193,609.6L194.1,610.2L195.2,610.7L196.2,611.2L197.3,611.7L198.4,612.2L199.5,612.7L200.5,613.2L201.6,613.6L202.7,613.9L203.8,614.2L204.9,614.5L205.9,614.8L207,615L208.1,615.2L209.2,615.5L210.2,615.7L211.3,615.9L212.4,616.1L213.5,616.3L214.5,616.5L215.6,616.6L216.7,616.8L217.8,617L218.8,617.1L219.9,617.2L221,617.4L222.1,617.5L223.1,617.6L224.2,617.7L225.3,617.8L226.4,617.9L227.5,617.9L228.5,618L229.6,618.1L230.7,618.2L231.8,618.2L232.8,618.3L233.9,618.4L235,618.4L236.1,618.5L237.1,618.5L238.2,618.6L239.3,618.6L240.4,618.7L241.4,618.7L242.5,618.8L243.6,618.8L244.7,618.8L245.7,618.9L246.8,618.9L247.9,618.9L249,618.9L250.1,619L251.1,619L252.2,619L253.3,619L254.4,619L255.4,619.1L265.1,619.2L278,619.2L295.3,619.3L312.5,619.3" fill="none" stroke="#222" stroke-width="1.1" stroke-dasharray="3,2"/>
</g>
<line x1="183.3" y1="496" x2="183.3" y2="622.3" stroke="#222" stroke-width="1"/>
<rect x="75.9" y="496.2" width="236.7" height="126.1" fill="none" stroke="#222" stroke-width="1.1"/>
<line x1="72.3" y1="619.3" x2="75.9" y2="619.3" stroke="#222" stroke-width="1"/>
<text transform="translate(69.8,622.5) scale(1,1.09)" font-size="9.2" text-anchor="end">0.000</text>
<line x1="72.3" y1="584.1" x2="75.9" y2="584.1" stroke="#222" stroke-width="1"/>
<text transform="translate(69.8,587.3) scale(1,1.09)" font-size="9.2" text-anchor="end">0.004</text>
<line x1="72.3" y1="548.9" x2="75.9" y2="548.9" stroke="#222" stroke-width="1"/>
<text transform="translate(69.8,552.1) scale(1,1.09)" font-size="9.2" text-anchor="end">0.008</text>
<line x1="72.3" y1="513.7" x2="75.9" y2="513.7" stroke="#222" stroke-width="1"/>
<text transform="translate(69.8,516.9) scale(1,1.09)" font-size="9.2" text-anchor="end">0.012</text>
<line x1="73.9" y1="601.7" x2="75.9" y2="601.7" stroke="#222" stroke-width="1"/>
<line x1="73.9" y1="566.5" x2="75.9" y2="566.5" stroke="#222" stroke-width="1"/>
<line x1="73.9" y1="531.3" x2="75.9" y2="531.3" stroke="#222" stroke-width="1"/>
<line x1="75.7" y1="622.3" x2="75.7" y2="625.7" stroke="#222" stroke-width="1"/>
<text transform="translate(75.7,635.6) scale(1,1.09)" font-size="9.2" text-anchor="middle">-100</text>
<line x1="118.8" y1="622.3" x2="118.8" y2="625.7" stroke="#222" stroke-width="1"/>
<text transform="translate(118.8,635.6) scale(1,1.09)" font-size="9.2" text-anchor="middle">0</text>
<line x1="161.8" y1="622.3" x2="161.8" y2="625.7" stroke="#222" stroke-width="1"/>
<text transform="translate(161.8,635.6) scale(1,1.09)" font-size="9.2" text-anchor="middle">100</text>
<line x1="204.9" y1="622.3" x2="204.9" y2="625.7" stroke="#222" stroke-width="1"/>
<text transform="translate(204.9,635.6) scale(1,1.09)" font-size="9.2" text-anchor="middle">200</text>
<line x1="247.9" y1="622.3" x2="247.9" y2="625.7" stroke="#222" stroke-width="1"/>
<text transform="translate(247.9,635.6) scale(1,1.09)" font-size="9.2" text-anchor="middle">300</text>
<line x1="290.9" y1="622.3" x2="290.9" y2="625.7" stroke="#222" stroke-width="1"/>
<text transform="translate(290.9,635.6) scale(1,1.09)" font-size="9.2" text-anchor="middle">400</text>
<line x1="97.2" y1="622.3" x2="97.2" y2="624.3" stroke="#222" stroke-width="1"/>
<line x1="140.3" y1="622.3" x2="140.3" y2="624.3" stroke="#222" stroke-width="1"/>
<line x1="183.3" y1="622.3" x2="183.3" y2="624.3" stroke="#222" stroke-width="1"/>
<line x1="226.4" y1="622.3" x2="226.4" y2="624.3" stroke="#222" stroke-width="1"/>
<line x1="269.4" y1="622.3" x2="269.4" y2="624.3" stroke="#222" stroke-width="1"/>
<line x1="312.5" y1="622.3" x2="312.5" y2="624.3" stroke="#222" stroke-width="1"/>
<text transform="translate(80.3,507.2) scale(1,1.09)" font-size="9.2">static</text>
<text transform="translate(185.7,568.4) scale(1,1.09)" font-size="9">Threshold for BV</text>
<rect x="253.4" y="496" width="59.1" height="36.5" fill="#fff" stroke="#222" stroke-width="1"/>
<line x1="254.6" y1="502.2" x2="275.6" y2="502.2" stroke="#555" stroke-width="1.2"/>
<text transform="translate(279.2,505.6) scale(1,1.09)" font-size="9.2">Week 2</text>
<line x1="254.6" y1="514" x2="275.6" y2="514" stroke="#33e0f0" stroke-width="1"/>
<text transform="translate(279.2,517.5) scale(1,1.09)" font-size="9.2">Week 7</text>
<line x1="254.6" y1="526.2" x2="275.6" y2="526.2" stroke="#222" stroke-width="1.1" stroke-dasharray="3.5,2.5"/>
<text transform="translate(279.2,529.6) scale(1,1.09)" font-size="9.2">PDF</text>
<polygon points="233.60,506.45 234.26,508.04 235.98,508.18 234.67,509.30 235.07,510.97 233.60,510.07 232.13,510.97 232.53,509.30 231.22,508.18 232.94,508.04" fill="#111"/>
<polygon points="238.50,506.45 239.16,508.04 240.88,508.18 239.57,509.30 239.97,510.97 238.50,510.07 237.03,510.97 237.43,509.30 236.12,508.18 237.84,508.04" fill="#111"/>
<polygon points="243.40,506.45 244.06,508.04 245.78,508.18 244.47,509.30 244.87,510.97 243.40,510.07 241.93,510.97 242.33,509.30 241.02,508.18 242.74,508.04" fill="#111"/>
<line x1="248.3" y1="502.8" x2="248.3" y2="514" stroke="#222" stroke-width="1"/>
<text transform="translate(51,645.7) scale(1,1.09)" font-size="9.05">Grayscale intensity converted to HA concentration (mg HA/cm</text>
<text transform="translate(304.2,640.6) scale(1,1.09)" font-size="6.2">3</text>
<text transform="translate(307.8,645.7) scale(1,1.09)" font-size="9.05">)</text>
<text transform="translate(35,556.3) rotate(-90)" font-size="8.9" text-anchor="middle" fill="#000">Probability density</text>
<text transform="translate(3,504.6) scale(1,1.13)" font-size="11.5" font-weight="bold">h</text>
<g clip-path="url(#clipi)">
<path d="M412.3,619.2L438,619.2L446.6,619.2L447.7,619.2L448.8,619L449.8,618.8L450.9,618.5L452,618.1L453.1,617.7L454.1,617.2L455.2,616.6L456.3,615.3L457.3,613.1L458.4,610.2L459.5,606.8L460.6,602.5L461.6,596.7L462.7,590.2L463.8,583.9L464.9,577L465.9,570L467,565.6L468.1,563L469.1,563.5L470.2,566.9L471.3,570.4L472.4,574.1L473.4,577.8L474.5,580.1L475.6,580.2L476.6,579.5L477.7,578.2L478.8,576.8L479.9,574.9L480.9,572.1L482,569L483.1,566.2L484.2,563.7L485.2,561L486.3,558.4L487.4,556L488.4,553.8L489.5,552.1L490.6,550.7L491.7,549.4L492.7,548.2L493.8,547.2L494.9,546.5L496,546L497,545.6L498.1,545.3L499.2,545.1L500.2,545.1L501.3,545.3L502.4,545.8L503.5,546.5L504.5,547.4L505.6,548.4L506.7,549.5L507.8,550.7L508.8,552.4L509.9,554.3L511,556.3L512,558.3L513.1,560.2L514.2,562L515.3,563.6L516.3,565.3L517.4,566.9L518.5,568.5L519.5,570.2L520.6,571.9L521.7,573.7L522.8,575.6L523.8,577.6L524.9,579.6L526,581.6L527.1,583.5L528.1,585.4L529.2,587.2L530.3,588.9L531.3,590.4L532.4,591.8L533.5,593.2L534.6,594.6L535.6,595.9L536.7,597.2L537.8,598.4L538.9,599.6L539.9,600.7L541,601.8L542.1,602.8L543.1,603.7L544.2,604.6L545.3,605.4L546.4,606.1L547.4,606.9L548.5,607.6L549.6,608.2L550.7,608.9L551.7,609.5L552.8,610.1L553.9,610.6L554.9,611.2L556,611.6L557.1,612.1L558.2,612.5L559.2,612.8L560.3,613.1L561.4,613.4L562.5,613.7L563.5,614L564.6,614.3L565.7,614.6L566.7,614.8L567.8,615.1L568.9,615.3L570,615.5L571,615.8L572.1,616L573.2,616.2L574.2,616.3L575.3,616.5L576.4,616.7L577.5,616.8L578.5,617L579.6,617.1L580.7,617.2L581.8,617.3L582.8,617.4L583.9,617.4L585,617.5L586,617.5L587.1,617.6L588.2,617.7L589.3,617.7L590.3,617.8L591.4,617.8L601.1,618.2L613.9,618.7L631.1,619.1L648.2,619.2L648.2,619.2L631.1,619.1L613.9,619L601.1,618.7L591.4,618.5L590.3,618.5L589.3,618.5L588.2,618.4L587.1,618.4L586,618.4L585,618.3L583.9,618.3L582.8,618.3L581.8,618.2L580.7,618.2L579.6,618.1L578.5,618L577.5,617.9L576.4,617.8L575.3,617.6L574.2,617.5L573.2,617.3L572.1,617.2L571,617L570,616.8L568.9,616.6L567.8,616.4L566.7,616.2L565.7,616L564.6,615.8L563.5,615.6L562.5,615.4L561.4,615.1L560.3,614.9L559.2,614.6L558.2,614.4L557.1,614.1L556,613.7L554.9,613.4L553.9,613L552.8,612.5L551.7,612.1L550.7,611.6L549.6,611.1L548.5,610.6L547.4,610L546.4,609.5L545.3,608.9L544.2,608.2L543.1,607.5L542.1,606.7L541,605.8L539.9,604.9L538.9,603.9L537.8,602.8L536.7,601.7L535.6,600.6L534.6,599.4L533.5,598.2L532.4,596.9L531.3,595.6L530.3,594.3L529.2,592.7L528.1,591.1L527.1,589.3L526,587.5L524.9,585.7L523.8,583.8L522.8,582.1L521.7,580.4L520.6,578.9L519.5,577.5L518.5,576.2L517.4,574.9L516.3,573.7L515.3,572.5L514.2,571.4L513.1,570.2L512,568.9L511,567.6L509.9,566.3L508.8,565.2L507.8,564.2L506.7,563.6L505.6,563.2L504.5,562.7L503.5,562.4L502.4,562.1L501.3,561.9L500.2,561.8L499.2,561.9L498.1,562.2L497,562.7L496,563.2L494.9,563.8L493.8,564.5L492.7,565.3L491.7,566.4L490.6,567.7L489.5,569.2L488.4,570.8L487.4,572.4L486.3,574.4L485.2,576.6L484.2,579.2L483.1,581.7L482,584.2L480.9,586.5L479.9,588.8L478.8,591.2L477.7,593.2L476.6,594.5L475.6,595.2L474.5,595.7L473.4,596.2L472.4,596.5L471.3,596.9L470.2,597.4L469.1,598.4L468.1,599.8L467,601.6L465.9,603.9L464.9,606.4L463.8,608.6L462.7,610.6L461.6,612.6L460.6,614.4L459.5,615.7L458.4,616.6L457.3,617.4L456.3,618L455.2,618.3L454.1,618.5L453.1,618.7L452,618.8L450.9,619L449.8,619.1L448.8,619.1L447.7,619.2L446.6,619.2L438,619.2L412.3,619.2Z" fill="#f07070" fill-opacity="0.4"/>
<path d="M412.3,619.2L438,619.2L446.6,619.2L447.7,619.2L448.8,619.2L449.8,619.2L450.9,619.2L452,619.2L453.1,619.2L454.1,619.2L455.2,619.1L456.3,618.8L457.3,618.4L458.4,617.9L459.5,617.1L460.6,616L461.6,614.6L462.7,613L463.8,611.1L464.9,608.6L465.9,605.5L467,602L468.1,598.2L469.1,594.1L470.2,589.6L471.3,584.1L472.4,578.1L473.4,571.7L474.5,565.3L475.6,559.2L476.6,553.3L477.7,547.1L478.8,541.1L479.9,535.6L480.9,531.2L482,527.3L483.1,523.5L484.2,520L485.2,517.3L486.3,515.7L487.4,515.5L488.4,516.3L489.5,517.9L490.6,519.8L491.7,522L492.7,524.3L493.8,527.3L494.9,530.8L496,534.5L497,537.9L498.1,541.1L499.2,544.2L500.2,547.3L501.3,550.4L502.4,553.5L503.5,556.5L504.5,559.4L505.6,562.3L506.7,565L507.8,567.7L508.8,570.3L509.9,572.9L511,575.4L512,577.9L513.1,580.3L514.2,582.7L515.3,584.9L516.3,587.1L517.4,589.1L518.5,591L519.5,592.8L520.6,594.6L521.7,596.3L522.8,598L523.8,599.6L524.9,601.1L526,602.5L527.1,603.8L528.1,605L529.2,606L530.3,607L531.3,607.9L532.4,608.7L533.5,609.5L534.6,610.3L535.6,611L536.7,611.6L537.8,612.2L538.9,612.7L539.9,613.1L541,613.5L542.1,613.8L543.1,614.2L544.2,614.6L545.3,614.9L546.4,615.2L547.4,615.5L548.5,615.8L549.6,616.1L550.7,616.3L551.7,616.6L552.8,616.8L553.9,617L554.9,617.2L556,617.4L557.1,617.6L558.2,617.7L559.2,617.9L560.3,618L561.4,618.1L562.5,618.1L563.5,618.2L564.6,618.3L565.7,618.4L566.7,618.4L567.8,618.5L568.9,618.6L570,618.6L571,618.7L572.1,618.7L573.2,618.8L574.2,618.8L575.3,618.9L576.4,618.9L577.5,618.9L578.5,618.9L579.6,619L580.7,619L581.8,619L582.8,619L583.9,619L585,619L586,619L587.1,619L588.2,619L589.3,619.1L590.3,619.1L591.4,619.1L601.1,619.1L613.9,619.2L631.1,619.2L648.2,619.2L648.2,619.2L631.1,619.2L613.9,619.2L601.1,619.1L591.4,619.1L590.3,619.1L589.3,619.1L588.2,619.1L587.1,619L586,619L585,619L583.9,619L582.8,619L581.8,619L580.7,619L579.6,619L578.5,618.9L577.5,618.9L576.4,618.9L575.3,618.8L574.2,618.8L573.2,618.7L572.1,618.7L571,618.6L570,618.6L568.9,618.5L567.8,618.5L566.7,618.4L565.7,618.3L564.6,618.3L563.5,618.2L562.5,618.1L561.4,618L560.3,617.9L559.2,617.8L558.2,617.7L557.1,617.5L556,617.3L554.9,617.1L553.9,616.9L552.8,616.7L551.7,616.5L550.7,616.2L549.6,616L548.5,615.7L547.4,615.4L546.4,615.1L545.3,614.8L544.2,614.5L543.1,614.2L542.1,613.8L541,613.5L539.9,613L538.9,612.5L537.8,612L536.7,611.4L535.6,610.7L534.6,610L533.5,609.3L532.4,608.5L531.3,607.6L530.3,606.7L529.2,605.7L528.1,604.6L527.1,603.3L526,602L524.9,600.6L523.8,599.1L522.8,597.6L521.7,596L520.6,594.4L519.5,592.7L518.5,590.9L517.4,589L516.3,587L515.3,584.9L514.2,582.7L513.1,580.5L512,578.2L511,575.9L509.9,573.6L508.8,571.2L507.8,568.7L506.7,566.1L505.6,563.5L504.5,560.8L503.5,558.1L502.4,555.3L501.3,552.5L500.2,549.7L499.2,546.8L498.1,543.8L497,540.6L496,537.3L494.9,534.3L493.8,532L492.7,530.1L491.7,528.2L490.6,526.6L489.5,525.6L488.4,525.3L487.4,526.3L486.3,528.4L485.2,531.3L484.2,534.6L483.1,538.2L482,541.8L480.9,546.4L479.9,551.7L478.8,557.3L477.7,562.8L476.6,568.2L475.6,573.9L474.5,579.7L473.4,585.3L472.4,590.5L471.3,594.9L470.2,598.7L469.1,602.3L468.1,605.6L467,608.6L465.9,611.1L464.9,613L463.8,614.5L462.7,615.8L461.6,616.9L460.6,617.8L459.5,618.4L458.4,618.7L457.3,619L456.3,619.2L455.2,619.2L454.1,619.2L453.1,619.2L452,619.2L450.9,619.2L449.8,619.2L448.8,619.2L447.7,619.2L446.6,619.2L438,619.2L412.3,619.2Z" fill="#707070" fill-opacity="0.5"/>
<path d="M412.3,619.2L438,619.2L446.6,619.2L447.7,619.2L448.8,619.2L449.8,619.2L450.9,619.2L452,619.2L453.1,619.2L454.1,619.2L455.2,619.2L456.3,618.9L457.3,618.6L458.4,618.2L459.5,617.5L460.6,616.6L461.6,615.4L462.7,614L463.8,612.5L464.9,610.4L465.9,607.9L467,604.9L468.1,601.6L469.1,598L470.2,594.2L471.3,589.8L472.4,584.7L473.4,579.1L474.5,573.3L475.6,567.6L476.6,562.3L477.7,556.9L478.8,551.3L479.9,546L480.9,541.2L482,537.4L483.1,533.9L484.2,530.5L485.2,527.4L486.3,525L487.4,523.5L488.4,523.3L489.5,524L490.6,525.4L491.7,527.1L492.7,529L493.8,531L494.9,533.6L496,536.7L497,540L498.1,543.1L499.2,546L500.2,548.8L501.3,551.6L502.4,554.4L503.5,557.2L504.5,559.9L505.6,562.6L506.7,565.2L507.8,567.7L508.8,570.1L509.9,572.5L511,574.8L512,577.1L513.1,579.4L514.2,581.6L515.3,583.8L516.3,585.9L517.4,587.9L518.5,589.8L519.5,591.6L520.6,593.3L521.7,594.9L522.8,596.5L523.8,598.1L524.9,599.6L526,601L527.1,602.3L528.1,603.6L529.2,604.8L530.3,605.9L531.3,606.8L532.4,607.7L533.5,608.5L534.6,609.3L535.6,610L536.7,610.7L537.8,611.3L538.9,611.9L539.9,612.5L541,613L542.1,613.4L543.1,613.7L544.2,614.1L545.3,614.4L546.4,614.7L547.4,615L548.5,615.3L549.6,615.6L550.7,615.9L551.7,616.1L552.8,616.4L553.9,616.6L554.9,616.8L556,617L557.1,617.2L558.2,617.4L559.2,617.6L560.3,617.7L561.4,617.8L562.5,618L563.5,618.1L564.6,618.2L565.7,618.2L566.7,618.3L567.8,618.4L568.9,618.4L570,618.5L571,618.5L572.1,618.6L573.2,618.6L574.2,618.7L575.3,618.7L576.4,618.8L577.5,618.8L578.5,618.9L579.6,618.9L580.7,618.9L581.8,619L582.8,619L583.9,619L585,619L586,619L587.1,619L588.2,619L589.3,619L590.3,619L591.4,619.1L601.1,619.1L613.9,619.1L631.1,619.2L648.2,619.2" fill="none" stroke="#777" stroke-width="0.6"/>
<path d="M412.3,619.2L438,619.2L446.6,619.2L447.7,619.2L448.8,619.2L449.8,619.2L450.9,619.2L452,619.2L453.1,619.2L454.1,619.2L455.2,619.2L456.3,619.2L457.3,619.1L458.4,618.8L459.5,618.4L460.6,617.9L461.6,617L462.7,615.9L463.8,614.5L464.9,612.9L465.9,611L467,608.4L468.1,605.4L469.1,601.9L470.2,598.1L471.3,594.2L472.4,589.6L473.4,584.2L474.5,578.3L475.6,572.1L476.6,566L477.7,560.2L478.8,554.5L479.9,548.5L480.9,542.8L482,537.7L483.1,533.6L484.2,529.9L485.2,526.2L486.3,523L487.4,520.6L488.4,519.4L489.5,519.4L490.6,520.4L491.7,522L492.7,524L493.8,526L494.9,528.4L496,531.4L497,534.9L498.1,538.4L499.2,541.7L500.2,544.7L501.3,547.7L502.4,550.7L503.5,553.7L504.5,556.6L505.6,559.5L506.7,562.3L507.8,565L508.8,567.7L509.9,570.2L511,572.7L512,575.2L513.1,577.6L514.2,580L515.3,582.3L516.3,584.6L517.4,586.7L518.5,588.8L519.5,590.7L520.6,592.5L521.7,594.2L522.8,595.9L523.8,597.6L524.9,599.2L526,600.7L527.1,602.1L528.1,603.5L529.2,604.7L530.3,605.8L531.3,606.8L532.4,607.7L533.5,608.5L534.6,609.3L535.6,610.1L536.7,610.8L537.8,611.4L538.9,612L539.9,612.6L541,613L542.1,613.4L543.1,613.8L544.2,614.1L545.3,614.5L546.4,614.8L547.4,615.1L548.5,615.4L549.6,615.7L550.7,616L551.7,616.3L552.8,616.5L553.9,616.8L554.9,617L556,617.2L557.1,617.4L558.2,617.5L559.2,617.7L560.3,617.8L561.4,618L562.5,618.1L563.5,618.1L564.6,618.2L565.7,618.3L566.7,618.3L567.8,618.4L568.9,618.5L570,618.5L571,618.6L572.1,618.7L573.2,618.7L574.2,618.8L575.3,618.8L576.4,618.8L577.5,618.9L578.5,618.9L579.6,618.9L580.7,619L581.8,619L582.8,619L583.9,619L585,619L586,619L587.1,619L588.2,619L589.3,619L590.3,619.1L591.4,619.1L601.1,619.1L613.9,619.2L631.1,619.2L648.2,619.2" fill="none" stroke="#777" stroke-width="0.6"/>
<path d="M412.3,619.2L438,619.2L446.6,619.2L447.7,619.2L448.8,619.2L449.8,619.2L450.9,619.2L452,619.2L453.1,619.2L454.1,619.2L455.2,619.2L456.3,619.2L457.3,619L458.4,618.7L459.5,618.3L460.6,617.6L461.6,616.7L462.7,615.5L463.8,614.1L464.9,612.6L465.9,610.5L467,607.8L468.1,604.7L469.1,601.2L470.2,597.5L471.3,593.6L472.4,588.9L473.4,583.5L474.5,577.7L475.6,571.7L476.6,565.8L477.7,560.3L478.8,554.7L479.9,548.9L480.9,543.5L482,538.9L483.1,535.2L484.2,531.6L485.2,528.1L486.3,525.2L487.4,523.2L488.4,522.4L489.5,522.8L490.6,523.9L491.7,525.6L492.7,527.5L493.8,529.5L494.9,532L496,535.1L497,538.5L498.1,541.8L499.2,544.9L500.2,547.8L501.3,550.7L502.4,553.6L503.5,556.4L504.5,559.3L505.6,562L506.7,564.7L507.8,567.4L508.8,569.9L509.9,572.3L511,574.8L512,577.1L513.1,579.5L514.2,581.8L515.3,584L516.3,586.1L517.4,588.2L518.5,590.2L519.5,592L520.6,593.7L521.7,595.4L522.8,597L523.8,598.6L524.9,600.1L526,601.6L527.1,602.9L528.1,604.2L529.2,605.4L530.3,606.4L531.3,607.3L532.4,608.2L533.5,609L534.6,609.8L535.6,610.5L536.7,611.2L537.8,611.8L538.9,612.3L539.9,612.8L541,613.3L542.1,613.7L543.1,614L544.2,614.4L545.3,614.7L546.4,615L547.4,615.3L548.5,615.6L549.6,615.9L550.7,616.1L551.7,616.4L552.8,616.6L553.9,616.9L554.9,617.1L556,617.3L557.1,617.4L558.2,617.6L559.2,617.8L560.3,617.9L561.4,618L562.5,618.1L563.5,618.2L564.6,618.2L565.7,618.3L566.7,618.4L567.8,618.4L568.9,618.5L570,618.6L571,618.6L572.1,618.7L573.2,618.7L574.2,618.8L575.3,618.8L576.4,618.9L577.5,618.9L578.5,618.9L579.6,618.9L580.7,619L581.8,619L582.8,619L583.9,619L585,619L586,619L587.1,619L588.2,619L589.3,619.1L590.3,619.1L591.4,619.1L601.1,619.1L613.9,619.2L631.1,619.2L648.2,619.2" fill="none" stroke="#777" stroke-width="0.6"/>
<path d="M412.3,619.2L438,619.2L446.6,619.2L447.7,619.2L448.8,619.2L449.8,619.2L450.9,619.2L452,619.2L453.1,619.2L454.1,619.2L455.2,619.1L456.3,618.9L457.3,618.4L458.4,617.9L459.5,617.1L460.6,615.9L461.6,614.5L462.7,612.8L463.8,610.8L464.9,608.1L465.9,604.8L467,601.1L468.1,597.2L469.1,592.9L470.2,588L471.3,582.1L472.4,575.8L473.4,569.3L474.5,563L475.6,557.1L476.6,550.9L477.7,544.7L478.8,539L479.9,534.2L480.9,530.3L482,526.4L483.1,522.9L484.2,520L485.2,518.3L486.3,518.1L487.4,518.9L488.4,520.5L489.5,522.5L490.6,524.7L491.7,527L492.7,530.2L493.8,533.8L494.9,537.5L496,540.9L497,544L498.1,547.2L499.2,550.3L500.2,553.4L501.3,556.5L502.4,559.5L503.5,562.4L504.5,565.2L505.6,568L506.7,570.6L507.8,573.2L508.8,575.8L509.9,578.3L511,580.8L512,583.2L513.1,585.5L514.2,587.7L515.3,589.7L516.3,591.7L517.4,593.5L518.5,595.3L519.5,597L520.6,598.7L521.7,600.3L522.8,601.8L523.8,603.2L524.9,604.5L526,605.6L527.1,606.6L528.1,607.6L529.2,608.5L530.3,609.3L531.3,610.1L532.4,610.8L533.5,611.5L534.6,612.1L535.6,612.6L536.7,613.1L537.8,613.5L538.9,613.9L539.9,614.2L541,614.6L542.1,614.9L543.1,615.2L544.2,615.6L545.3,615.9L546.4,616.1L547.4,616.4L548.5,616.7L549.6,616.9L550.7,617.1L551.7,617.3L552.8,617.5L553.9,617.7L554.9,617.8L556,617.9L557.1,618L558.2,618.1L559.2,618.2L560.3,618.3L561.4,618.3L562.5,618.4L563.5,618.5L564.6,618.5L565.7,618.6L566.7,618.7L567.8,618.7L568.9,618.8L570,618.8L571,618.8L572.1,618.9L573.2,618.9L574.2,618.9L575.3,619L576.4,619L577.5,619L578.5,619L579.6,619L580.7,619L581.8,619L582.8,619L583.9,619.1L585,619.1L586,619.1L587.1,619.1L588.2,619.1L589.3,619.1L590.3,619.1L591.4,619.1L601.1,619.1L613.9,619.2L631.1,619.2L648.2,619.2" fill="none" stroke="#777" stroke-width="0.6"/>
<path d="M412.3,619.2L438,619.2L446.6,619.2L447.7,619.2L448.8,619.2L449.8,619.2L450.9,619.2L452,619.2L453.1,619.2L454.1,619.2L455.2,619.2L456.3,619L457.3,618.7L458.4,618.3L459.5,617.6L460.6,616.6L461.6,615.4L462.7,613.8L463.8,612.1L464.9,609.8L465.9,606.9L467,603.5L468.1,599.6L469.1,595.6L470.2,591.2L471.3,585.9L472.4,579.8L473.4,573.4L474.5,566.8L475.6,560.6L476.6,554.6L477.7,548.3L478.8,542.2L479.9,536.6L480.9,532.1L482,528.2L483.1,524.3L484.2,520.8L485.2,518.2L486.3,516.8L487.4,516.8L488.4,517.8L489.5,519.5L490.6,521.5L491.7,523.7L492.7,526.3L493.8,529.5L494.9,533.2L496,536.9L497,540.3L498.1,543.4L499.2,546.6L500.2,549.8L501.3,552.9L502.4,556L503.5,559L504.5,561.9L505.6,564.7L506.7,567.5L507.8,570.2L508.8,572.8L509.9,575.4L511,577.9L512,580.4L513.1,582.8L514.2,585.1L515.3,587.3L516.3,589.4L517.4,591.3L518.5,593.1L519.5,594.9L520.6,596.7L521.7,598.4L522.8,600L523.8,601.5L524.9,602.9L526,604.2L527.1,605.4L528.1,606.4L529.2,607.4L530.3,608.3L531.3,609.1L532.4,609.9L533.5,610.6L534.6,611.3L535.6,611.9L536.7,612.5L537.8,613L538.9,613.4L539.9,613.8L541,614.1L542.1,614.5L543.1,614.8L544.2,615.1L545.3,615.5L546.4,615.8L547.4,616.1L548.5,616.3L549.6,616.6L550.7,616.8L551.7,617L552.8,617.2L553.9,617.4L554.9,617.6L556,617.8L557.1,617.9L558.2,618L559.2,618.1L560.3,618.2L561.4,618.2L562.5,618.3L563.5,618.4L564.6,618.5L565.7,618.5L566.7,618.6L567.8,618.6L568.9,618.7L570,618.7L571,618.8L572.1,618.8L573.2,618.9L574.2,618.9L575.3,618.9L576.4,619L577.5,619L578.5,619L579.6,619L580.7,619L581.8,619L582.8,619L583.9,619L585,619L586,619.1L587.1,619.1L588.2,619.1L589.3,619.1L590.3,619.1L591.4,619.1L601.1,619.1L613.9,619.2L631.1,619.2L648.2,619.2" fill="none" stroke="#777" stroke-width="0.6"/>
<path d="M412.3,619.2L438,619.2L446.6,619.2L447.7,619.2L448.8,619.2L449.8,619.2L450.9,619.2L452,619.2L453.1,619.2L454.1,619.2L455.2,619.2L456.3,619.1L457.3,618.8L458.4,618.4L459.5,617.9L460.6,617L461.6,615.9L462.7,614.5L463.8,613L464.9,611.1L465.9,608.6L467,605.5L468.1,602.1L469.1,598.4L470.2,594.5L471.3,590L472.4,584.7L473.4,578.8L474.5,572.7L475.6,566.7L476.6,561L477.7,555.3L478.8,549.4L479.9,543.7L480.9,538.7L482,534.6L483.1,530.9L484.2,527.3L485.2,524.2L486.3,521.8L487.4,520.5L488.4,520.5L489.5,521.5L490.6,523L491.7,525L492.7,527L493.8,529.3L494.9,532.3L496,535.7L497,539.2L498.1,542.4L499.2,545.4L500.2,548.4L501.3,551.3L502.4,554.3L503.5,557.2L504.5,560L505.6,562.8L506.7,565.5L507.8,568.1L508.8,570.7L509.9,573.1L511,575.6L512,578L513.1,580.3L514.2,582.6L515.3,584.9L516.3,587L517.4,589L518.5,590.9L519.5,592.7L520.6,594.4L521.7,596.1L522.8,597.7L523.8,599.3L524.9,600.8L526,602.2L527.1,603.6L528.1,604.8L529.2,605.9L530.3,606.8L531.3,607.7L532.4,608.6L533.5,609.4L534.6,610.1L535.6,610.8L536.7,611.5L537.8,612.1L538.9,612.6L539.9,613.1L541,613.5L542.1,613.8L543.1,614.2L544.2,614.5L545.3,614.8L546.4,615.2L547.4,615.5L548.5,615.7L549.6,616L550.7,616.3L551.7,616.5L552.8,616.8L553.9,617L554.9,617.2L556,617.4L557.1,617.5L558.2,617.7L559.2,617.8L560.3,618L561.4,618.1L562.5,618.1L563.5,618.2L564.6,618.3L565.7,618.4L566.7,618.4L567.8,618.5L568.9,618.5L570,618.6L571,618.7L572.1,618.7L573.2,618.8L574.2,618.8L575.3,618.8L576.4,618.9L577.5,618.9L578.5,618.9L579.6,619L580.7,619L581.8,619L582.8,619L583.9,619L585,619L586,619L587.1,619L588.2,619L589.3,619.1L590.3,619.1L591.4,619.1L601.1,619.1L613.9,619.2L631.1,619.2L648.2,619.2" fill="none" stroke="#111" stroke-width="1.3"/>
<path d="M412.3,619.2L438,619.2L446.6,619.2L447.7,619.2L448.8,619.2L449.8,619.2L450.9,619.2L452,619.2L453.1,619.2L454.1,619.2L455.2,619.2L456.3,619.2L457.3,619L458.4,618.7L459.5,618.4L460.6,617.8L461.6,616.9L462.7,615.8L463.8,614.5L464.9,612.9L465.9,611L467,608.4L468.1,605.5L469.1,602.1L470.2,598.5L471.3,594.7L472.4,590.2L473.4,585L474.5,579.3L475.6,573.4L476.6,567.6L477.7,562.2L478.8,556.7L479.9,551L480.9,545.7L482,541L483.1,537.3L484.2,533.7L485.2,530.3L486.3,527.4L487.4,525.3L488.4,524.3L489.5,524.6L490.6,525.6L491.7,527.2L492.7,529.1L493.8,531.1L494.9,533.4L496,536.4L497,539.7L498.1,543L499.2,546.1L500.2,548.9L501.3,551.8L502.4,554.6L503.5,557.4L504.5,560.2L505.6,562.9L506.7,565.6L507.8,568.2L508.8,570.7L509.9,573.1L511,575.4L512,577.8L513.1,580.1L514.2,582.3L515.3,584.5L516.3,586.6L517.4,588.7L518.5,590.6L519.5,592.4L520.6,594.1L521.7,595.7L522.8,597.3L523.8,598.9L524.9,600.4L526,601.8L527.1,603.2L528.1,604.4L529.2,605.6L530.3,606.6L531.3,607.5L532.4,608.4L533.5,609.2L534.6,609.9L535.6,610.6L536.7,611.3L537.8,611.9L538.9,612.5L539.9,613L541,613.4L542.1,613.8L543.1,614.1L544.2,614.4L545.3,614.8L546.4,615.1L547.4,615.4L548.5,615.7L549.6,615.9L550.7,616.2L551.7,616.4L552.8,616.7L553.9,616.9L554.9,617.1L556,617.3L557.1,617.5L558.2,617.6L559.2,617.8L560.3,617.9L561.4,618L562.5,618.1L563.5,618.2L564.6,618.3L565.7,618.3L566.7,618.4L567.8,618.5L568.9,618.5L570,618.6L571,618.6L572.1,618.7L573.2,618.7L574.2,618.8L575.3,618.8L576.4,618.9L577.5,618.9L578.5,618.9L579.6,619L580.7,619L581.8,619L582.8,619L583.9,619L585,619L586,619L587.1,619L588.2,619L589.3,619.1L590.3,619.1L591.4,619.1L601.1,619.1L613.9,619.2L631.1,619.2L648.2,619.2" fill="none" stroke="#222" stroke-width="1.1" stroke-dasharray="3,2"/>
<path d="M412.3,619.2L438,619.2L446.6,619.1L447.7,619L448.8,618.9L449.8,618.9L450.9,618.8L452,618.6L453.1,618.4L454.1,618L455.2,617.4L456.3,615.3L457.3,612.1L458.4,609.6L459.5,607.1L460.6,604.5L461.6,601.8L462.7,598.7L463.8,594.6L464.9,589.4L465.9,585L467,582.6L468.1,580.9L469.1,580.4L470.2,581.1L471.3,582.5L472.4,583.9L473.4,585.4L474.5,587.1L475.6,588.6L476.6,589.2L477.7,588.1L478.8,585.5L479.9,582.3L480.9,579.5L482,577.3L483.1,575.1L484.2,572.8L485.2,570.1L486.3,567.2L487.4,564.3L488.4,562L489.5,560.4L490.6,559.1L491.7,558L492.7,557.1L493.8,556.5L494.9,556.1L496,555.8L497,555.5L498.1,555.3L499.2,555.2L500.2,555.3L501.3,555.4L502.4,555.7L503.5,556L504.5,556.4L505.6,556.9L506.7,557.4L507.8,558.2L508.8,559.4L509.9,560.8L511,562.5L512,564.1L513.1,565.7L514.2,567.1L515.3,568.4L516.3,569.7L517.4,571L518.5,572.4L519.5,573.8L520.6,575.4L521.7,577.1L522.8,579L523.8,581L524.9,582.9L526,584.8L527.1,586.5L528.1,588.2L529.2,589.8L530.3,591.4L531.3,593L532.4,594.7L533.5,596.4L534.6,598L535.6,599.4L536.7,600.7L537.8,601.7L538.9,602.7L539.9,603.5L541,604.3L542.1,605.1L543.1,605.8L544.2,606.5L545.3,607.1L546.4,607.7L547.4,608.4L548.5,609L549.6,609.6L550.7,610.1L551.7,610.7L552.8,611.2L553.9,611.7L554.9,612.2L556,612.6L557.1,613L558.2,613.4L559.2,613.7L560.3,614L561.4,614.3L562.5,614.5L563.5,614.8L564.6,615L565.7,615.3L566.7,615.5L567.8,615.7L568.9,615.9L570,616.1L571,616.3L572.1,616.5L573.2,616.7L574.2,616.8L575.3,617L576.4,617.1L577.5,617.3L578.5,617.4L579.6,617.5L580.7,617.6L581.8,617.7L582.8,617.8L583.9,617.9L585,618L586,618L587.1,618.1L588.2,618.2L589.3,618.2L590.3,618.3L591.4,618.3L601.1,618.8L613.9,619L631.1,619.1L648.2,619.2" fill="none" stroke="#ee1c1c" stroke-width="1.2"/>
</g>
<line x1="519.5" y1="496" x2="519.5" y2="622.4" stroke="#222" stroke-width="1"/>
<rect x="412.3" y="496.2" width="236.3" height="126.2" fill="none" stroke="#222" stroke-width="1.1"/>
<line x1="408.7" y1="619.2" x2="412.3" y2="619.2" stroke="#222" stroke-width="1"/>
<text transform="translate(406.2,622.4) scale(1,1.09)" font-size="9.2" text-anchor="end">0.000</text>
<line x1="408.7" y1="583.9" x2="412.3" y2="583.9" stroke="#222" stroke-width="1"/>
<text transform="translate(406.2,587.1) scale(1,1.09)" font-size="9.2" text-anchor="end">0.004</text>
<line x1="408.7" y1="548.6" x2="412.3" y2="548.6" stroke="#222" stroke-width="1"/>
<text transform="translate(406.2,551.8) scale(1,1.09)" font-size="9.2" text-anchor="end">0.008</text>
<line x1="408.7" y1="513.3" x2="412.3" y2="513.3" stroke="#222" stroke-width="1"/>
<text transform="translate(406.2,516.5) scale(1,1.09)" font-size="9.2" text-anchor="end">0.012</text>
<line x1="410.3" y1="601.6" x2="412.3" y2="601.6" stroke="#222" stroke-width="1"/>
<line x1="410.3" y1="566.2" x2="412.3" y2="566.2" stroke="#222" stroke-width="1"/>
<line x1="410.3" y1="531" x2="412.3" y2="531" stroke="#222" stroke-width="1"/>
<line x1="412.3" y1="622.4" x2="412.3" y2="625.8" stroke="#222" stroke-width="1"/>
<text transform="translate(412.3,635.7) scale(1,1.09)" font-size="9.2" text-anchor="middle">-100</text>
<line x1="455.2" y1="622.4" x2="455.2" y2="625.8" stroke="#222" stroke-width="1"/>
<text transform="translate(455.2,635.7) scale(1,1.09)" font-size="9.2" text-anchor="middle">0</text>
<line x1="498.1" y1="622.4" x2="498.1" y2="625.8" stroke="#222" stroke-width="1"/>
<text transform="translate(498.1,635.7) scale(1,1.09)" font-size="9.2" text-anchor="middle">100</text>
<line x1="541" y1="622.4" x2="541" y2="625.8" stroke="#222" stroke-width="1"/>
<text transform="translate(541,635.7) scale(1,1.09)" font-size="9.2" text-anchor="middle">200</text>
<line x1="583.9" y1="622.4" x2="583.9" y2="625.8" stroke="#222" stroke-width="1"/>
<text transform="translate(583.9,635.7) scale(1,1.09)" font-size="9.2" text-anchor="middle">300</text>
<line x1="626.8" y1="622.4" x2="626.8" y2="625.8" stroke="#222" stroke-width="1"/>
<text transform="translate(626.8,635.7) scale(1,1.09)" font-size="9.2" text-anchor="middle">400</text>
<line x1="433.8" y1="622.4" x2="433.8" y2="624.4" stroke="#222" stroke-width="1"/>
<line x1="476.6" y1="622.4" x2="476.6" y2="624.4" stroke="#222" stroke-width="1"/>
<line x1="519.5" y1="622.4" x2="519.5" y2="624.4" stroke="#222" stroke-width="1"/>
<line x1="562.5" y1="622.4" x2="562.5" y2="624.4" stroke="#222" stroke-width="1"/>
<line x1="605.4" y1="622.4" x2="605.4" y2="624.4" stroke="#222" stroke-width="1"/>
<line x1="648.2" y1="622.4" x2="648.2" y2="624.4" stroke="#222" stroke-width="1"/>
<text transform="translate(416.6,507.5) scale(1,1.09)" font-size="9.2">dynamic</text>
<text transform="translate(522.6,568.4) scale(1,1.09)" font-size="9">Threshold for BV</text>
<rect x="589.6" y="496" width="58.9" height="36.6" fill="#fff" stroke="#222" stroke-width="1"/>
<line x1="590.9" y1="502.3" x2="612.7" y2="502.3" stroke="#111" stroke-width="1.2"/>
<text transform="translate(614.8,505.7) scale(1,1.09)" font-size="9.2">Week 2</text>
<line x1="590.9" y1="515" x2="612.7" y2="515" stroke="#ee1c1c" stroke-width="1.2"/>
<text transform="translate(614.8,518.4) scale(1,1.09)" font-size="9.2">Week 7</text>
<line x1="590.9" y1="526.8" x2="612.7" y2="526.8" stroke="#222" stroke-width="1.1" stroke-dasharray="3.5,2.5"/>
<text transform="translate(614.8,530.2) scale(1,1.09)" font-size="9.2">PDF</text>
<polygon points="575.90,505.95 576.56,507.54 578.28,507.68 576.97,508.80 577.37,510.47 575.90,509.57 574.43,510.47 574.83,508.80 573.52,507.68 575.24,507.54" fill="#111"/>
<polygon points="580.80,505.95 581.46,507.54 583.18,507.68 581.87,508.80 582.27,510.47 580.80,509.57 579.33,510.47 579.73,508.80 578.42,507.68 580.14,507.54" fill="#111"/>
<line x1="585.6" y1="501.8" x2="585.6" y2="514.2" stroke="#222" stroke-width="1"/>
<text transform="translate(387,645.7) scale(1,1.09)" font-size="9.05">Grayscale intensity converted to HA concentration (mg HA/cm</text>
<text transform="translate(640.2,640.6) scale(1,1.09)" font-size="6.2">3</text>
<text transform="translate(643.8,645.7) scale(1,1.09)" font-size="9.05">)</text>
<text transform="translate(370,556) rotate(-90)" font-size="8.9" text-anchor="middle" fill="#000">Probability density</text>
<text transform="translate(359.6,505.4) scale(1,1.13)" font-size="11.5" font-weight="bold">i</text>
<defs><clipPath id="clipj"><rect x="66" y="674.3" width="244.5" height="135.1"/></clipPath></defs>
<g clip-path="url(#clipj)">
<path d="M127.2,699.2L167.9,689L208.7,683.7L249.4,680.2L290.1,677.9" fill="none" stroke="#111" stroke-width="0.9"/>
<path d="M127.2,703.9L167.9,693.9L208.7,688.7L249.4,685.4L290.1,683.1" fill="none" stroke="#111" stroke-width="0.9" stroke-dasharray="3.2,2.2"/>
<path d="M127.2,707.2L167.9,696.6L208.7,691.1L249.4,687.6L290.1,685.2" fill="none" stroke="#161616" stroke-width="0.9"/>
<path d="M127.2,709.7L167.9,699.4L208.7,694L249.4,690.5L290.1,688.2" fill="none" stroke="#161616" stroke-width="0.9" stroke-dasharray="3.2,2.2"/>
<path d="M127.2,716.7L167.9,705.8L208.7,700.1L249.4,696.4L290.1,693.9" fill="none" stroke="#222222" stroke-width="0.9"/>
<path d="M127.2,716.9L167.9,706.2L208.7,700.6L249.4,697.1L290.1,694.6" fill="none" stroke="#222222" stroke-width="0.9" stroke-dasharray="3.2,2.2"/>
<path d="M127.2,725.5L167.9,714.2L208.7,708.3L249.4,704.5L290.1,702" fill="none" stroke="#2e2e2e" stroke-width="0.9"/>
<path d="M127.2,727L167.9,715.9L208.7,710.2L249.4,706.5L290.1,704" fill="none" stroke="#2e2e2e" stroke-width="0.9" stroke-dasharray="3.2,2.2"/>
<path d="M127.2,734.2L167.9,722.5L208.7,716.5L249.4,712.6L290.1,709.9" fill="none" stroke="#3c3c3c" stroke-width="0.9"/>
<path d="M127.2,734.6L167.9,723.2L208.7,717.2L249.4,713.4L290.1,710.8" fill="none" stroke="#3c3c3c" stroke-width="0.9" stroke-dasharray="3.2,2.2"/>
<path d="M127.2,742.5L167.9,730.5L208.7,724.2L249.4,720.2L290.1,717.5" fill="none" stroke="#4b4b4b" stroke-width="0.9"/>
<path d="M127.2,744.5L167.9,732.7L208.7,726.6L249.4,722.7L290.1,720" fill="none" stroke="#4b4b4b" stroke-width="0.9" stroke-dasharray="3.2,2.2"/>
<path d="M127.2,751L167.9,738.6L208.7,732.2L249.4,728L290.1,725.2" fill="none" stroke="#5b5b5b" stroke-width="0.9"/>
<path d="M127.2,752.5L167.9,740.4L208.7,734L249.4,730L290.1,727.2" fill="none" stroke="#5b5b5b" stroke-width="0.9" stroke-dasharray="3.2,2.2"/>
<path d="M127.2,759.5L167.9,746.8L208.7,740.1L249.4,735.9L290.1,733" fill="none" stroke="#6c6c6c" stroke-width="0.9"/>
<path d="M127.2,761.5L167.9,749L208.7,742.5L249.4,738.3L290.1,735.5" fill="none" stroke="#6c6c6c" stroke-width="0.9" stroke-dasharray="3.2,2.2"/>
<path d="M127.2,768L167.9,754.9L208.7,748.1L249.4,743.7L290.1,740.7" fill="none" stroke="#7e7e7e" stroke-width="0.9"/>
<path d="M127.2,770.7L167.9,757.8L208.7,751.1L249.4,746.8L290.1,743.9" fill="none" stroke="#7e7e7e" stroke-width="0.9" stroke-dasharray="3.2,2.2"/>
<path d="M127.2,776.5L167.9,763L208.7,756L249.4,751.5L290.1,748.5" fill="none" stroke="#939393" stroke-width="0.9"/>
<path d="M127.2,779L167.9,765.8L208.7,758.9L249.4,754.5L290.1,751.5" fill="none" stroke="#939393" stroke-width="0.9" stroke-dasharray="3.2,2.2"/>
<path d="M127.2,785L167.9,771.2L208.7,764L249.4,759.4L290.1,756.2" fill="none" stroke="#ababab" stroke-width="0.9"/>
<path d="M127.2,787.4L167.9,773.8L208.7,766.7L249.4,762.2L290.1,759.1" fill="none" stroke="#ababab" stroke-width="0.9" stroke-dasharray="3.2,2.2"/>
<path d="M127.2,793.5L167.9,779.3L208.7,771.9L249.4,767.2L290.1,764" fill="none" stroke="#bdbdbd" stroke-width="0.9"/>
<path d="M127.2,796.1L167.9,782.2L208.7,774.9L249.4,770.2L290.1,767.1" fill="none" stroke="#bdbdbd" stroke-width="0.9" stroke-dasharray="3.2,2.2"/>
<path d="M127.2,802L167.9,787.5L208.7,779.9L249.4,775L290.1,771.7" fill="none" stroke="#d6d6d6" stroke-width="0.9"/>
<path d="M127.2,804.5L167.9,790.2L208.7,782.7L249.4,778L290.1,774.7" fill="none" stroke="#d6d6d6" stroke-width="0.9" stroke-dasharray="3.2,2.2"/>
</g>
<rect x="222" y="780.5" width="65" height="24" fill="#fff"/>
<line x1="225.1" y1="786.8" x2="245.5" y2="786.8" stroke="#222" stroke-width="1"/>
<text transform="translate(249,790.1) scale(1,1.09)" font-size="9.2">dynamic</text>
<line x1="225.1" y1="798.5" x2="245.5" y2="798.5" stroke="#222" stroke-width="1" stroke-dasharray="3.5,2.5"/>
<text transform="translate(249,801.8) scale(1,1.09)" font-size="9.2">static</text>
<rect x="102.4" y="698.2" width="20.5" height="8.5" fill="#0a0a0a"/>
<rect x="102.4" y="706.4" width="20.5" height="8.5" fill="#161616"/>
<rect x="102.4" y="714.6" width="20.5" height="8.5" fill="#222222"/>
<rect x="102.4" y="722.9" width="20.5" height="8.5" fill="#2e2e2e"/>
<rect x="102.4" y="731.1" width="20.5" height="8.5" fill="#3c3c3c"/>
<rect x="102.4" y="739.3" width="20.5" height="8.5" fill="#4b4b4b"/>
<rect x="102.4" y="747.5" width="20.5" height="8.5" fill="#5b5b5b"/>
<rect x="102.4" y="755.8" width="20.5" height="8.5" fill="#6c6c6c"/>
<rect x="102.4" y="764" width="20.5" height="8.5" fill="#7e7e7e"/>
<rect x="102.4" y="772.2" width="20.5" height="8.5" fill="#939393"/>
<rect x="102.4" y="780.4" width="20.5" height="8.5" fill="#ababab"/>
<rect x="102.4" y="788.7" width="20.5" height="8.5" fill="#c6c6c6"/>
<rect x="102.4" y="796.9" width="20.5" height="8.5" fill="#e3e3e3"/>
<text transform="translate(112.7,706) scale(1,1.09)" font-size="9.1" text-anchor="middle" fill="#fff">150</text>
<text transform="translate(112.7,722.2) scale(1,1.09)" font-size="9.1" text-anchor="middle" fill="#fff">200</text>
<text transform="translate(112.7,738.9) scale(1,1.09)" font-size="9.1" text-anchor="middle" fill="#fff">250</text>
<text transform="translate(112.7,755.2) scale(1,1.09)" font-size="9.1" text-anchor="middle" fill="#fff">300</text>
<text transform="translate(112.7,771.7) scale(1,1.09)" font-size="9.1" text-anchor="middle" fill="#111">350</text>
<text transform="translate(112.7,788.3) scale(1,1.09)" font-size="9.1" text-anchor="middle" fill="#111">400</text>
<text transform="translate(112.7,805.2) scale(1,1.09)" font-size="9.1" text-anchor="middle" fill="#111">450</text>
<polygon points="93.40,700.32 93.86,701.44 95.06,701.53 94.15,702.32 94.43,703.49 93.40,702.86 92.37,703.49 92.65,702.32 91.74,701.53 92.94,701.44" fill="#111"/>
<polygon points="96.90,700.32 97.36,701.44 98.56,701.53 97.65,702.32 97.93,703.49 96.90,702.86 95.87,703.49 96.15,702.32 95.24,701.53 96.44,701.44" fill="#111"/>
<polygon points="100.30,700.32 100.76,701.44 101.96,701.53 101.05,702.32 101.33,703.49 100.30,702.86 99.27,703.49 99.55,702.32 98.64,701.53 99.84,701.44" fill="#111"/>
<polygon points="93.60,708.32 94.06,709.44 95.26,709.53 94.35,710.32 94.63,711.49 93.60,710.86 92.57,711.49 92.85,710.32 91.94,709.53 93.14,709.44" fill="#111"/>
<polygon points="97.00,708.32 97.46,709.44 98.66,709.53 97.75,710.32 98.03,711.49 97.00,710.86 95.97,711.49 96.25,710.32 95.34,709.53 96.54,709.44" fill="#111"/>
<polygon points="100.40,708.32 100.86,709.44 102.06,709.53 101.15,710.32 101.43,711.49 100.40,710.86 99.37,711.49 99.65,710.32 98.74,709.53 99.94,709.44" fill="#111"/>
<polygon points="96.90,717.22 97.36,718.34 98.56,718.43 97.65,719.22 97.93,720.39 96.90,719.76 95.87,720.39 96.15,719.22 95.24,718.43 96.44,718.34" fill="#111"/>
<polygon points="100.30,717.22 100.76,718.34 101.96,718.43 101.05,719.22 101.33,720.39 100.30,719.76 99.27,720.39 99.55,719.22 98.64,718.43 99.84,718.34" fill="#111"/>
<polygon points="99.90,725.52 100.36,726.64 101.56,726.73 100.65,727.52 100.93,728.69 99.90,728.06 98.87,728.69 99.15,727.52 98.24,726.73 99.44,726.64" fill="#111"/>
<rect x="66" y="674.3" width="244.5" height="135.1" fill="none" stroke="#222" stroke-width="1.1"/>
<line x1="62.4" y1="799.1" x2="66" y2="799.1" stroke="#222" stroke-width="1"/>
<line x1="310.5" y1="799.1" x2="307.5" y2="799.1" stroke="#222" stroke-width="1"/>
<text transform="translate(60.7,802.3) scale(1,1.09)" font-size="9.2" text-anchor="end">0.001</text>
<line x1="62.4" y1="765.4" x2="66" y2="765.4" stroke="#222" stroke-width="1"/>
<line x1="310.5" y1="765.4" x2="307.5" y2="765.4" stroke="#222" stroke-width="1"/>
<text transform="translate(60.7,768.6) scale(1,1.09)" font-size="9.2" text-anchor="end">0.01</text>
<line x1="62.4" y1="731.7" x2="66" y2="731.7" stroke="#222" stroke-width="1"/>
<line x1="310.5" y1="731.7" x2="307.5" y2="731.7" stroke="#222" stroke-width="1"/>
<text transform="translate(60.7,734.9) scale(1,1.09)" font-size="9.2" text-anchor="end">0.1</text>
<line x1="62.4" y1="698" x2="66" y2="698" stroke="#222" stroke-width="1"/>
<line x1="310.5" y1="698" x2="307.5" y2="698" stroke="#222" stroke-width="1"/>
<text transform="translate(60.7,701.2) scale(1,1.09)" font-size="9.2" text-anchor="end">1</text>
<line x1="64" y1="809.2" x2="66" y2="809.2" stroke="#222" stroke-width="0.8"/>
<line x1="310.5" y1="809.2" x2="308.9" y2="809.2" stroke="#222" stroke-width="0.8"/>
<line x1="64" y1="806.6" x2="66" y2="806.6" stroke="#222" stroke-width="0.8"/>
<line x1="310.5" y1="806.6" x2="308.9" y2="806.6" stroke="#222" stroke-width="0.8"/>
<line x1="64" y1="804.3" x2="66" y2="804.3" stroke="#222" stroke-width="0.8"/>
<line x1="310.5" y1="804.3" x2="308.9" y2="804.3" stroke="#222" stroke-width="0.8"/>
<line x1="64" y1="802.4" x2="66" y2="802.4" stroke="#222" stroke-width="0.8"/>
<line x1="310.5" y1="802.4" x2="308.9" y2="802.4" stroke="#222" stroke-width="0.8"/>
<line x1="64" y1="800.6" x2="66" y2="800.6" stroke="#222" stroke-width="0.8"/>
<line x1="310.5" y1="800.6" x2="308.9" y2="800.6" stroke="#222" stroke-width="0.8"/>
<line x1="64" y1="789" x2="66" y2="789" stroke="#222" stroke-width="0.8"/>
<line x1="310.5" y1="789" x2="308.9" y2="789" stroke="#222" stroke-width="0.8"/>
<line x1="64" y1="783" x2="66" y2="783" stroke="#222" stroke-width="0.8"/>
<line x1="310.5" y1="783" x2="308.9" y2="783" stroke="#222" stroke-width="0.8"/>
<line x1="64" y1="778.8" x2="66" y2="778.8" stroke="#222" stroke-width="0.8"/>
<line x1="310.5" y1="778.8" x2="308.9" y2="778.8" stroke="#222" stroke-width="0.8"/>
<line x1="64" y1="775.5" x2="66" y2="775.5" stroke="#222" stroke-width="0.8"/>
<line x1="310.5" y1="775.5" x2="308.9" y2="775.5" stroke="#222" stroke-width="0.8"/>
<line x1="64" y1="772.9" x2="66" y2="772.9" stroke="#222" stroke-width="0.8"/>
<line x1="310.5" y1="772.9" x2="308.9" y2="772.9" stroke="#222" stroke-width="0.8"/>
<line x1="64" y1="770.6" x2="66" y2="770.6" stroke="#222" stroke-width="0.8"/>
<line x1="310.5" y1="770.6" x2="308.9" y2="770.6" stroke="#222" stroke-width="0.8"/>
<line x1="64" y1="768.7" x2="66" y2="768.7" stroke="#222" stroke-width="0.8"/>
<line x1="310.5" y1="768.7" x2="308.9" y2="768.7" stroke="#222" stroke-width="0.8"/>
<line x1="64" y1="766.9" x2="66" y2="766.9" stroke="#222" stroke-width="0.8"/>
<line x1="310.5" y1="766.9" x2="308.9" y2="766.9" stroke="#222" stroke-width="0.8"/>
<line x1="64" y1="755.3" x2="66" y2="755.3" stroke="#222" stroke-width="0.8"/>
<line x1="310.5" y1="755.3" x2="308.9" y2="755.3" stroke="#222" stroke-width="0.8"/>
<line x1="64" y1="749.3" x2="66" y2="749.3" stroke="#222" stroke-width="0.8"/>
<line x1="310.5" y1="749.3" x2="308.9" y2="749.3" stroke="#222" stroke-width="0.8"/>
<line x1="64" y1="745.1" x2="66" y2="745.1" stroke="#222" stroke-width="0.8"/>
<line x1="310.5" y1="745.1" x2="308.9" y2="745.1" stroke="#222" stroke-width="0.8"/>
<line x1="64" y1="741.8" x2="66" y2="741.8" stroke="#222" stroke-width="0.8"/>
<line x1="310.5" y1="741.8" x2="308.9" y2="741.8" stroke="#222" stroke-width="0.8"/>
<line x1="64" y1="739.2" x2="66" y2="739.2" stroke="#222" stroke-width="0.8"/>
<line x1="310.5" y1="739.2" x2="308.9" y2="739.2" stroke="#222" stroke-width="0.8"/>
<line x1="64" y1="736.9" x2="66" y2="736.9" stroke="#222" stroke-width="0.8"/>
<line x1="310.5" y1="736.9" x2="308.9" y2="736.9" stroke="#222" stroke-width="0.8"/>
<line x1="64" y1="735" x2="66" y2="735" stroke="#222" stroke-width="0.8"/>
<line x1="310.5" y1="735" x2="308.9" y2="735" stroke="#222" stroke-width="0.8"/>
<line x1="64" y1="733.2" x2="66" y2="733.2" stroke="#222" stroke-width="0.8"/>
<line x1="310.5" y1="733.2" x2="308.9" y2="733.2" stroke="#222" stroke-width="0.8"/>
<line x1="64" y1="721.6" x2="66" y2="721.6" stroke="#222" stroke-width="0.8"/>
<line x1="310.5" y1="721.6" x2="308.9" y2="721.6" stroke="#222" stroke-width="0.8"/>
<line x1="64" y1="715.6" x2="66" y2="715.6" stroke="#222" stroke-width="0.8"/>
<line x1="310.5" y1="715.6" x2="308.9" y2="715.6" stroke="#222" stroke-width="0.8"/>
<line x1="64" y1="711.4" x2="66" y2="711.4" stroke="#222" stroke-width="0.8"/>
<line x1="310.5" y1="711.4" x2="308.9" y2="711.4" stroke="#222" stroke-width="0.8"/>
<line x1="64" y1="708.1" x2="66" y2="708.1" stroke="#222" stroke-width="0.8"/>
<line x1="310.5" y1="708.1" x2="308.9" y2="708.1" stroke="#222" stroke-width="0.8"/>
<line x1="64" y1="705.5" x2="66" y2="705.5" stroke="#222" stroke-width="0.8"/>
<line x1="310.5" y1="705.5" x2="308.9" y2="705.5" stroke="#222" stroke-width="0.8"/>
<line x1="64" y1="703.2" x2="66" y2="703.2" stroke="#222" stroke-width="0.8"/>
<line x1="310.5" y1="703.2" x2="308.9" y2="703.2" stroke="#222" stroke-width="0.8"/>
<line x1="64" y1="701.3" x2="66" y2="701.3" stroke="#222" stroke-width="0.8"/>
<line x1="310.5" y1="701.3" x2="308.9" y2="701.3" stroke="#222" stroke-width="0.8"/>
<line x1="64" y1="699.5" x2="66" y2="699.5" stroke="#222" stroke-width="0.8"/>
<line x1="310.5" y1="699.5" x2="308.9" y2="699.5" stroke="#222" stroke-width="0.8"/>
<line x1="64" y1="687.9" x2="66" y2="687.9" stroke="#222" stroke-width="0.8"/>
<line x1="310.5" y1="687.9" x2="308.9" y2="687.9" stroke="#222" stroke-width="0.8"/>
<line x1="64" y1="681.9" x2="66" y2="681.9" stroke="#222" stroke-width="0.8"/>
<line x1="310.5" y1="681.9" x2="308.9" y2="681.9" stroke="#222" stroke-width="0.8"/>
<line x1="64" y1="677.7" x2="66" y2="677.7" stroke="#222" stroke-width="0.8"/>
<line x1="310.5" y1="677.7" x2="308.9" y2="677.7" stroke="#222" stroke-width="0.8"/>
<line x1="64" y1="674.4" x2="66" y2="674.4" stroke="#222" stroke-width="0.8"/>
<line x1="310.5" y1="674.4" x2="308.9" y2="674.4" stroke="#222" stroke-width="0.8"/>
<line x1="86.4" y1="809.4" x2="86.4" y2="812.8" stroke="#222" stroke-width="1"/>
<text transform="translate(86.4,823.4) scale(1,1.09)" font-size="9.2" text-anchor="middle">2</text>
<line x1="127.2" y1="809.4" x2="127.2" y2="812.8" stroke="#222" stroke-width="1"/>
<text transform="translate(127.2,823.4) scale(1,1.09)" font-size="9.2" text-anchor="middle">3</text>
<line x1="167.9" y1="809.4" x2="167.9" y2="812.8" stroke="#222" stroke-width="1"/>
<text transform="translate(167.9,823.4) scale(1,1.09)" font-size="9.2" text-anchor="middle">4</text>
<line x1="208.7" y1="809.4" x2="208.7" y2="812.8" stroke="#222" stroke-width="1"/>
<text transform="translate(208.7,823.4) scale(1,1.09)" font-size="9.2" text-anchor="middle">5</text>
<line x1="249.4" y1="809.4" x2="249.4" y2="812.8" stroke="#222" stroke-width="1"/>
<text transform="translate(249.4,823.4) scale(1,1.09)" font-size="9.2" text-anchor="middle">6</text>
<line x1="290.1" y1="809.4" x2="290.1" y2="812.8" stroke="#222" stroke-width="1"/>
<text transform="translate(290.1,823.4) scale(1,1.09)" font-size="9.2" text-anchor="middle">7</text>
<line x1="66" y1="809.4" x2="66" y2="811.4" stroke="#222" stroke-width="1"/>
<line x1="106.8" y1="809.4" x2="106.8" y2="811.4" stroke="#222" stroke-width="1"/>
<line x1="147.5" y1="809.4" x2="147.5" y2="811.4" stroke="#222" stroke-width="1"/>
<line x1="188.3" y1="809.4" x2="188.3" y2="811.4" stroke="#222" stroke-width="1"/>
<line x1="229" y1="809.4" x2="229" y2="811.4" stroke="#222" stroke-width="1"/>
<line x1="269.8" y1="809.4" x2="269.8" y2="811.4" stroke="#222" stroke-width="1"/>
<line x1="310.5" y1="809.4" x2="310.5" y2="811.4" stroke="#222" stroke-width="1"/>
<text transform="translate(188.2,832.2) scale(1,1.09)" font-size="9.5" text-anchor="middle">Week</text>
<text transform="translate(31.2,735.6) rotate(-90)" font-size="9.2" text-anchor="middle">BV (mm<tspan font-size="6.2" dy="-3.4">3</tspan><tspan dy="3.4">)</tspan></text>
<text transform="translate(75.6,744.5) rotate(-90)" font-size="9.25" text-anchor="middle" fill="#000">Scaffold mineral density</text>
<text transform="translate(87.4,734.6) rotate(-90)" font-size="9.25" text-anchor="middle">(mg HA/cm<tspan font-size="6.2" dy="-3.4">3</tspan><tspan dy="3.4">)</tspan></text>
<text transform="translate(3.6,692) scale(1,1.13)" font-size="11.5" font-weight="bold">j</text>
<line x1="420.8" y1="810.9" x2="430.4" y2="810.9" stroke="#2ee6f0" stroke-width="1.5"/>
<line x1="431.5" y1="810.9" x2="440.2" y2="810.9" stroke="#ee1c1c" stroke-width="1.5" stroke-dasharray="1.5,1.3"/>
<line x1="465.8" y1="797.9" x2="465.8" y2="789.4" stroke="#2ee6f0" stroke-width="1.1"/>
<line x1="463" y1="797.9" x2="468.6" y2="797.9" stroke="#2ee6f0" stroke-width="1.1"/>
<line x1="463" y1="789.4" x2="468.6" y2="789.4" stroke="#2ee6f0" stroke-width="1.1"/>
<line x1="460.3" y1="793.7" x2="471.3" y2="793.7" stroke="#2ee6f0" stroke-width="1.2"/>
<circle cx="463.3" cy="799.2" r="1.5" fill="#2ee6f0"/>
<circle cx="468.6" cy="797.6" r="1.5" fill="#2ee6f0"/>
<circle cx="464.6" cy="794.8" r="1.5" fill="#2ee6f0"/>
<circle cx="468" cy="792.6" r="1.5" fill="#2ee6f0"/>
<circle cx="463" cy="789.2" r="1.5" fill="#2ee6f0"/>
<circle cx="466.6" cy="788.1" r="1.5" fill="#2ee6f0"/>
<line x1="476.5" y1="792.2" x2="476.5" y2="787.3" stroke="#ee1c1c" stroke-width="1.1"/>
<line x1="473.7" y1="792.2" x2="479.3" y2="792.2" stroke="#ee1c1c" stroke-width="1.1"/>
<line x1="473.7" y1="787.3" x2="479.3" y2="787.3" stroke="#ee1c1c" stroke-width="1.1"/>
<line x1="471" y1="789.8" x2="482" y2="789.8" stroke="#ee1c1c" stroke-width="1.2"/>
<circle cx="474" cy="791.4" r="1.5" fill="#ee1c1c"/>
<circle cx="479.3" cy="790.3" r="1.5" fill="#ee1c1c"/>
<circle cx="475.3" cy="789.2" r="1.5" fill="#ee1c1c"/>
<circle cx="478.7" cy="787" r="1.5" fill="#ee1c1c"/>
<line x1="506.4" y1="782.5" x2="506.4" y2="771.4" stroke="#2ee6f0" stroke-width="1.1"/>
<line x1="503.6" y1="782.5" x2="509.2" y2="782.5" stroke="#2ee6f0" stroke-width="1.1"/>
<line x1="503.6" y1="771.4" x2="509.2" y2="771.4" stroke="#2ee6f0" stroke-width="1.1"/>
<line x1="500.9" y1="777" x2="511.9" y2="777" stroke="#2ee6f0" stroke-width="1.2"/>
<circle cx="503.9" cy="784.8" r="1.5" fill="#2ee6f0"/>
<circle cx="509.2" cy="780.9" r="1.5" fill="#2ee6f0"/>
<circle cx="505.2" cy="778.1" r="1.5" fill="#2ee6f0"/>
<circle cx="508.6" cy="774.7" r="1.5" fill="#2ee6f0"/>
<circle cx="503.6" cy="772.5" r="1.5" fill="#2ee6f0"/>
<circle cx="507.2" cy="769.2" r="1.5" fill="#2ee6f0"/>
<line x1="517.1" y1="768.6" x2="517.1" y2="765.3" stroke="#ee1c1c" stroke-width="1.1"/>
<line x1="514.3" y1="768.6" x2="519.9" y2="768.6" stroke="#ee1c1c" stroke-width="1.1"/>
<line x1="514.3" y1="765.3" x2="519.9" y2="765.3" stroke="#ee1c1c" stroke-width="1.1"/>
<line x1="511.6" y1="766.9" x2="522.6" y2="766.9" stroke="#ee1c1c" stroke-width="1.2"/>
<circle cx="514.6" cy="768.1" r="1.5" fill="#ee1c1c"/>
<circle cx="519.9" cy="767.5" r="1.5" fill="#ee1c1c"/>
<circle cx="515.9" cy="766.4" r="1.5" fill="#ee1c1c"/>
<circle cx="519.3" cy="764.7" r="1.5" fill="#ee1c1c"/>
<line x1="547" y1="766.9" x2="547" y2="751.3" stroke="#2ee6f0" stroke-width="1.1"/>
<line x1="544.2" y1="766.9" x2="549.8" y2="766.9" stroke="#2ee6f0" stroke-width="1.1"/>
<line x1="544.2" y1="751.3" x2="549.8" y2="751.3" stroke="#2ee6f0" stroke-width="1.1"/>
<line x1="541.5" y1="759.1" x2="552.5" y2="759.1" stroke="#2ee6f0" stroke-width="1.2"/>
<circle cx="544.5" cy="773.6" r="1.5" fill="#2ee6f0"/>
<circle cx="549.8" cy="764.7" r="1.5" fill="#2ee6f0"/>
<circle cx="545.8" cy="760.3" r="1.5" fill="#2ee6f0"/>
<circle cx="549.2" cy="755.8" r="1.5" fill="#2ee6f0"/>
<circle cx="544.2" cy="753" r="1.5" fill="#2ee6f0"/>
<circle cx="547.8" cy="751.3" r="1.5" fill="#2ee6f0"/>
<line x1="557.7" y1="742.5" x2="557.7" y2="741.2" stroke="#ee1c1c" stroke-width="1.1"/>
<line x1="554.9" y1="742.5" x2="560.5" y2="742.5" stroke="#ee1c1c" stroke-width="1.1"/>
<line x1="554.9" y1="741.2" x2="560.5" y2="741.2" stroke="#ee1c1c" stroke-width="1.1"/>
<line x1="552.2" y1="741.9" x2="563.2" y2="741.9" stroke="#ee1c1c" stroke-width="1.2"/>
<circle cx="555.2" cy="742.4" r="1.5" fill="#ee1c1c"/>
<circle cx="560.5" cy="741.9" r="1.5" fill="#ee1c1c"/>
<circle cx="556.5" cy="741.3" r="1.5" fill="#ee1c1c"/>
<line x1="587.6" y1="754.7" x2="587.6" y2="739.1" stroke="#2ee6f0" stroke-width="1.1"/>
<line x1="584.8" y1="754.7" x2="590.4" y2="754.7" stroke="#2ee6f0" stroke-width="1.1"/>
<line x1="584.8" y1="739.1" x2="590.4" y2="739.1" stroke="#2ee6f0" stroke-width="1.1"/>
<line x1="582.1" y1="746.9" x2="593.1" y2="746.9" stroke="#2ee6f0" stroke-width="1.2"/>
<circle cx="585.1" cy="761.4" r="1.5" fill="#2ee6f0"/>
<circle cx="590.4" cy="751.3" r="1.5" fill="#2ee6f0"/>
<circle cx="586.4" cy="745.8" r="1.5" fill="#2ee6f0"/>
<circle cx="589.8" cy="742.4" r="1.5" fill="#2ee6f0"/>
<circle cx="584.8" cy="739.1" r="1.5" fill="#2ee6f0"/>
<circle cx="588.4" cy="738.5" r="1.5" fill="#2ee6f0"/>
<line x1="598.3" y1="721.8" x2="598.3" y2="716.3" stroke="#ee1c1c" stroke-width="1.1"/>
<line x1="595.5" y1="721.8" x2="601.1" y2="721.8" stroke="#ee1c1c" stroke-width="1.1"/>
<line x1="595.5" y1="716.3" x2="601.1" y2="716.3" stroke="#ee1c1c" stroke-width="1.1"/>
<line x1="592.8" y1="719" x2="603.8" y2="719" stroke="#ee1c1c" stroke-width="1.2"/>
<circle cx="595.8" cy="721.8" r="1.5" fill="#ee1c1c"/>
<circle cx="601.1" cy="719.6" r="1.5" fill="#ee1c1c"/>
<circle cx="597.1" cy="716.3" r="1.5" fill="#ee1c1c"/>
<line x1="628.2" y1="743" x2="628.2" y2="721.8" stroke="#2ee6f0" stroke-width="1.1"/>
<line x1="625.4" y1="743" x2="631" y2="743" stroke="#2ee6f0" stroke-width="1.1"/>
<line x1="625.4" y1="721.8" x2="631" y2="721.8" stroke="#2ee6f0" stroke-width="1.1"/>
<line x1="622.7" y1="732.4" x2="633.7" y2="732.4" stroke="#2ee6f0" stroke-width="1.2"/>
<circle cx="625.7" cy="751.3" r="1.5" fill="#2ee6f0"/>
<circle cx="631" cy="742.4" r="1.5" fill="#2ee6f0"/>
<circle cx="627" cy="735.2" r="1.5" fill="#2ee6f0"/>
<circle cx="630.4" cy="728" r="1.5" fill="#2ee6f0"/>
<circle cx="625.4" cy="723.5" r="1.5" fill="#2ee6f0"/>
<circle cx="629" cy="722.4" r="1.5" fill="#2ee6f0"/>
<line x1="638.9" y1="702.3" x2="638.9" y2="690.1" stroke="#ee1c1c" stroke-width="1.1"/>
<line x1="636.1" y1="702.3" x2="641.7" y2="702.3" stroke="#ee1c1c" stroke-width="1.1"/>
<line x1="636.1" y1="690.1" x2="641.7" y2="690.1" stroke="#ee1c1c" stroke-width="1.1"/>
<line x1="633.4" y1="696.2" x2="644.4" y2="696.2" stroke="#ee1c1c" stroke-width="1.2"/>
<circle cx="636.4" cy="702.3" r="1.5" fill="#ee1c1c"/>
<circle cx="641.7" cy="696.2" r="1.5" fill="#ee1c1c"/>
<circle cx="637.7" cy="690.1" r="1.5" fill="#ee1c1c"/>
<line x1="505.7" y1="758.1" x2="517.8" y2="758.1" stroke="#999" stroke-width="1.2"/>
<polygon points="511.80,749.82 512.38,751.22 513.89,751.34 512.74,752.33 513.09,753.80 511.80,753.01 510.51,753.80 510.86,752.33 509.71,751.34 511.22,751.22" fill="#111"/>
<line x1="546.3" y1="735" x2="558.4" y2="735" stroke="#999" stroke-width="1.2"/>
<polygon points="550.25,729.02 550.83,730.42 552.34,730.54 551.19,731.53 551.54,733.00 550.25,732.21 548.96,733.00 549.31,731.53 548.16,730.54 549.67,730.42" fill="#111"/>
<polygon points="554.55,729.02 555.13,730.42 556.64,730.54 555.49,731.53 555.84,733.00 554.55,732.21 553.26,733.00 553.61,731.53 552.46,730.54 553.97,730.42" fill="#111"/>
<line x1="586.9" y1="710.1" x2="599" y2="710.1" stroke="#999" stroke-width="1.2"/>
<polygon points="588.70,702.72 589.28,704.12 590.79,704.24 589.64,705.23 589.99,706.70 588.70,705.91 587.41,706.70 587.76,705.23 586.61,704.24 588.12,704.12" fill="#111"/>
<polygon points="593.00,702.72 593.58,704.12 595.09,704.24 593.94,705.23 594.29,706.70 593.00,705.91 591.71,706.70 592.06,705.23 590.91,704.24 592.42,704.12" fill="#111"/>
<polygon points="597.30,702.72 597.88,704.12 599.39,704.24 598.24,705.23 598.59,706.70 597.30,705.91 596.01,706.70 596.36,705.23 595.21,704.24 596.72,704.12" fill="#111"/>
<line x1="627.5" y1="685.8" x2="639.6" y2="685.8" stroke="#999" stroke-width="1.2"/>
<polygon points="629.30,679.82 629.88,681.22 631.39,681.34 630.24,682.33 630.59,683.80 629.30,683.01 628.01,683.80 628.36,682.33 627.21,681.34 628.72,681.22" fill="#111"/>
<polygon points="633.60,679.82 634.18,681.22 635.69,681.34 634.54,682.33 634.89,683.80 633.60,683.01 632.31,683.80 632.66,682.33 631.51,681.34 633.02,681.22" fill="#111"/>
<polygon points="637.90,679.82 638.48,681.22 639.99,681.34 638.84,682.33 639.19,683.80 637.90,683.01 636.61,683.80 636.96,682.33 635.81,681.34 637.32,681.22" fill="#111"/>
<rect x="410.1" y="677.8" width="243.3" height="133.7" fill="none" stroke="#222" stroke-width="1.1"/>
<line x1="406.5" y1="811.5" x2="410.1" y2="811.5" stroke="#222" stroke-width="1"/>
<text transform="translate(404.4,814.7) scale(1,1.09)" font-size="9.2" text-anchor="end">0</text>
<line x1="406.5" y1="789.2" x2="410.1" y2="789.2" stroke="#222" stroke-width="1"/>
<text transform="translate(404.4,792.4) scale(1,1.09)" font-size="9.2" text-anchor="end">2</text>
<line x1="406.5" y1="766.9" x2="410.1" y2="766.9" stroke="#222" stroke-width="1"/>
<text transform="translate(404.4,770.1) scale(1,1.09)" font-size="9.2" text-anchor="end">4</text>
<line x1="406.5" y1="744.7" x2="410.1" y2="744.7" stroke="#222" stroke-width="1"/>
<text transform="translate(404.4,747.9) scale(1,1.09)" font-size="9.2" text-anchor="end">6</text>
<line x1="406.5" y1="722.4" x2="410.1" y2="722.4" stroke="#222" stroke-width="1"/>
<text transform="translate(404.4,725.6) scale(1,1.09)" font-size="9.2" text-anchor="end">8</text>
<line x1="406.5" y1="700.1" x2="410.1" y2="700.1" stroke="#222" stroke-width="1"/>
<text transform="translate(404.4,703.3) scale(1,1.09)" font-size="9.2" text-anchor="end">10</text>
<line x1="406.5" y1="677.8" x2="410.1" y2="677.8" stroke="#222" stroke-width="1"/>
<text transform="translate(404.4,681) scale(1,1.09)" font-size="9.2" text-anchor="end">12</text>
<line x1="408.1" y1="800.4" x2="410.1" y2="800.4" stroke="#222" stroke-width="1"/>
<line x1="408.1" y1="778.1" x2="410.1" y2="778.1" stroke="#222" stroke-width="1"/>
<line x1="408.1" y1="755.8" x2="410.1" y2="755.8" stroke="#222" stroke-width="1"/>
<line x1="408.1" y1="733.5" x2="410.1" y2="733.5" stroke="#222" stroke-width="1"/>
<line x1="408.1" y1="711.2" x2="410.1" y2="711.2" stroke="#222" stroke-width="1"/>
<line x1="408.1" y1="689" x2="410.1" y2="689" stroke="#222" stroke-width="1"/>
<line x1="430.4" y1="811.5" x2="430.4" y2="814.9" stroke="#222" stroke-width="1"/>
<text transform="translate(430.4,828) scale(1,1.09)" font-size="9.2" text-anchor="middle">2</text>
<line x1="471" y1="811.5" x2="471" y2="814.9" stroke="#222" stroke-width="1"/>
<text transform="translate(471,828) scale(1,1.09)" font-size="9.2" text-anchor="middle">3</text>
<line x1="511.6" y1="811.5" x2="511.6" y2="814.9" stroke="#222" stroke-width="1"/>
<text transform="translate(511.6,828) scale(1,1.09)" font-size="9.2" text-anchor="middle">4</text>
<line x1="552.2" y1="811.5" x2="552.2" y2="814.9" stroke="#222" stroke-width="1"/>
<text transform="translate(552.2,828) scale(1,1.09)" font-size="9.2" text-anchor="middle">5</text>
<line x1="592.8" y1="811.5" x2="592.8" y2="814.9" stroke="#222" stroke-width="1"/>
<text transform="translate(592.8,828) scale(1,1.09)" font-size="9.2" text-anchor="middle">6</text>
<line x1="633.4" y1="811.5" x2="633.4" y2="814.9" stroke="#222" stroke-width="1"/>
<text transform="translate(633.4,828) scale(1,1.09)" font-size="9.2" text-anchor="middle">7</text>
<text transform="translate(530.2,834.2) scale(1,1.09)" font-size="9.2" text-anchor="middle">Week</text>
<rect x="410.1" y="677.8" width="62" height="25.3" fill="#fff" stroke="#222" stroke-width="1"/>
<line x1="412" y1="684.2" x2="432.3" y2="684.2" stroke="#2ee6f0" stroke-width="1.2"/>
<text transform="translate(435.8,687.5) scale(1,1.09)" font-size="9.2">static</text>
<line x1="412" y1="696.1" x2="432.3" y2="696.1" stroke="#ee1c1c" stroke-width="1.2"/>
<text transform="translate(435.8,699.4) scale(1,1.09)" font-size="9.2">dynamic</text>
<text transform="translate(391,744.5) rotate(-90)" font-size="9.2" text-anchor="middle">Total BV (mm<tspan font-size="6.2" dy="-3.4">3</tspan><tspan dy="3.4">)</tspan></text>
<text transform="translate(360.5,692.8) scale(1,1.13)" font-size="11.5" font-weight="bold">k</text>
</svg></body></html>
